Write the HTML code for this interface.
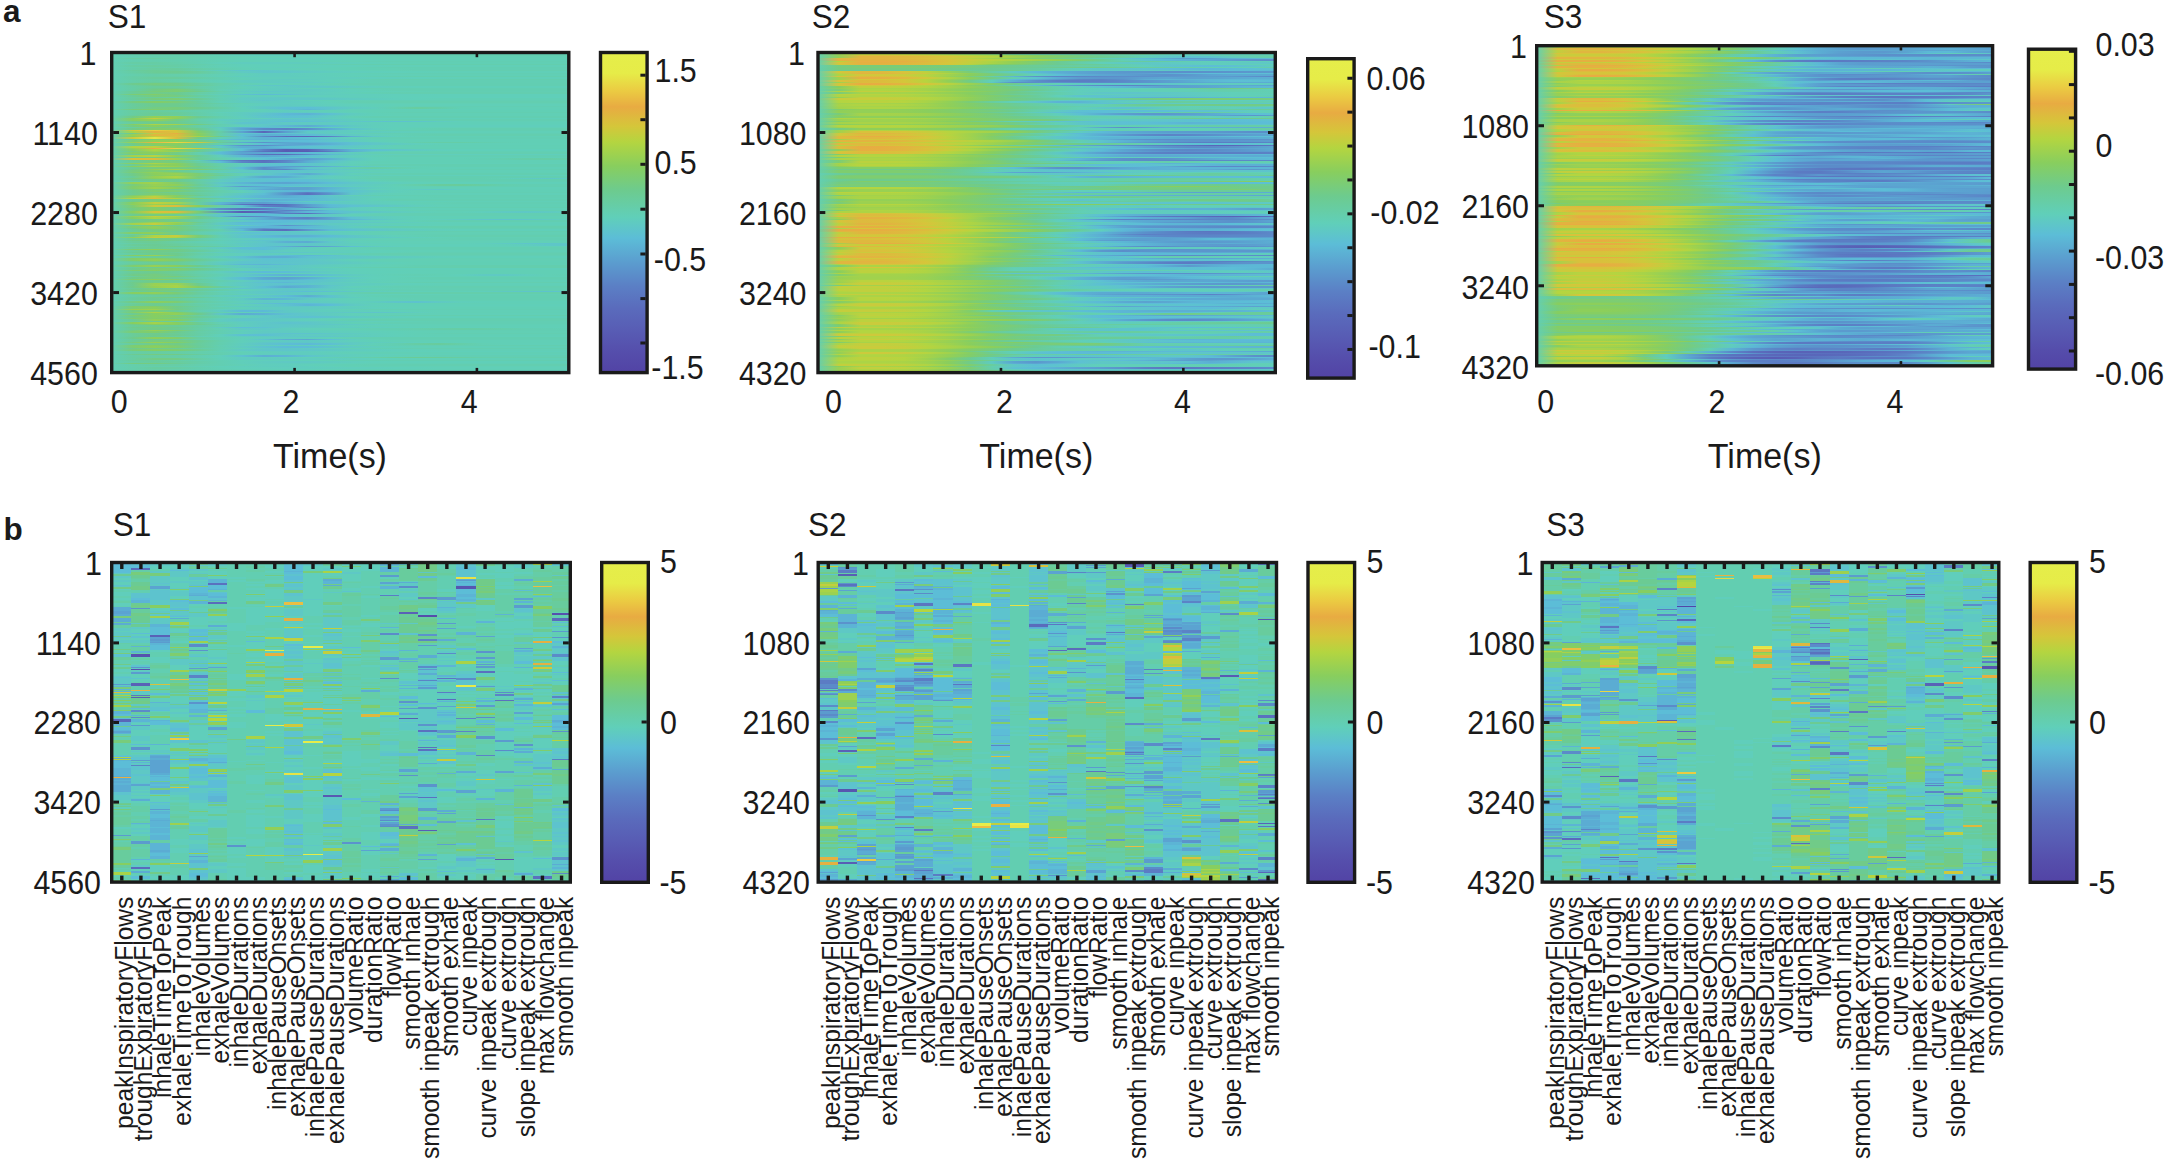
<!DOCTYPE html>
<html lang="en"><head><meta charset="utf-8"><title>Figure</title>
<style>
html,body{margin:0;padding:0;background:#fff}
#fig{position:relative;width:2168px;height:1164px;overflow:hidden;background:#fff;font-family:"Liberation Sans",Arial,Helvetica,sans-serif}
.hm,.hb{position:absolute;overflow:hidden;background:#61cfb6}
.hm i{position:absolute;left:0;width:100%;height:1.90px;display:block}
.hb i{position:absolute;top:0;height:100%;display:block}
svg{position:absolute;left:0;top:0}
svg text{font-family:"Liberation Sans",Arial,Helvetica,sans-serif;fill:#1a1a1a}
</style></head><body>
<div id="fig">
<div class="hm" style="left:111.00px;top:51.80px;width:458.50px;height:321.50px"><i style="top:0.00px;background:linear-gradient(90deg,#62cfb4,#64cead,#65cea9,#64ceaa,#63ceaf,#61cfb4,#61cfb6,#61cfb7,#60cfb8,#60cfb9,#60cfb8,#61cfb6,#61cfb5,#61cfb5,#61cfb4,#61cfb4,#61cfb4,#61cfb4,#61cfb4,#61cfb4,#61cfb4,#61cfb4)"></i><i style="top:1.50px;background:linear-gradient(90deg,#62cfb4,#64ceac,#66cda5,#66cda6,#63ceae,#61cfb5,#60cfb7,#60cfb8,#60cfb8,#61cfb7,#61cfb5,#62ceb3,#62ceb3,#62ceb3,#62ceb3,#62ceb3,#62ceb3,#62ceb3,#62ceb3,#62ceb3,#62ceb3,#62ceb3)"></i><i style="top:3.00px;background:linear-gradient(90deg,#62cfb4,#63ceaf,#64cead,#63ceae,#62ceb1,#61cfb6,#60cdbd,#5fccbf,#5fccbe,#60cdbc,#60cfb9,#61cfb6,#62ceb3,#63ceb0,#63ceaf,#63ceae,#63ceae,#63ceae,#63ceae,#63ceae,#63ceae,#63ceae)"></i><i style="top:4.51px;background:linear-gradient(90deg,#62cfb4,#63ceb0,#64ceac,#64ceab,#63ceaf,#62ceb2,#62cfb4,#61cfb6,#61cfb6,#61cfb6,#61cfb6,#61cfb5,#61cfb5,#61cfb4,#61cfb4,#61cfb4,#61cfb4,#61cfb4,#61cfb4,#61cfb4,#61cfb4,#61cfb4)"></i><i style="top:6.01px;background:linear-gradient(90deg,#62cfb4,#67cda2,#67cda1,#65cea9,#63ceb1,#62ceb3,#60cfb8,#5fcdbd,#5fccbe,#5fccbe,#60cdbc,#60cfb8,#61cfb5,#62cfb4,#62cfb4,#62cfb4,#62cfb4,#62cfb4,#62cfb4,#62cfb4,#62cfb4,#62cfb4)"></i><i style="top:7.51px;background:linear-gradient(90deg,#62cfb4,#63ceaf,#64cead,#63ceae,#62ceb2,#61cfb5,#61cfb7,#61cfb7,#60cfb8,#60cfb8,#60cfb8,#61cfb7,#61cfb7,#61cfb6,#61cfb6,#61cfb5,#61cfb5,#61cfb5,#61cfb5,#61cfb5,#61cfb5,#61cfb5)"></i><i style="top:9.01px;background:linear-gradient(90deg,#62cfb4,#63ceae,#64ceac,#64cead,#63ceb0,#61cfb4,#61cfb6,#61cfb7,#61cfb7,#61cfb6,#61cfb5,#62cfb4,#62ceb3,#62ceb2,#62ceb2,#62ceb2,#62ceb2,#62ceb2,#62ceb2,#62ceb2,#62ceb2,#62ceb2)"></i><i style="top:10.52px;background:linear-gradient(90deg,#62cfb4,#66cda5,#66cda4,#64ceaa,#62ceb1,#60cfb9,#5fccbe,#5fccbe,#5fccbe,#5fccbd,#60cdbc,#60ceba,#60cfb8,#61cfb6,#61cfb4,#61cfb4,#61cfb4,#61cfb4,#61cfb4,#61cfb4,#61cfb4,#61cfb4)"></i><i style="top:12.02px;background:linear-gradient(90deg,#62cfb4,#63cead,#65cda9,#65cda7,#64ceab,#62ceb3,#60cfb9,#60cebb,#60cfb8,#61cfb5,#62ceb3,#63ceb0,#63ceae,#63ceae,#63ceae,#63ceae,#63ceae,#63ceae,#63ceae,#63ceae,#63ceae,#63ceae)"></i><i style="top:13.52px;background:linear-gradient(90deg,#62cfb4,#66cda4,#68cd9f,#66cda5,#63ceae,#61cfb6,#60cfb9,#60cfb9,#60cfb9,#60cfb9,#60cfb9,#60cfb9,#60cfb8,#61cfb7,#61cfb7,#61cfb6,#61cfb6,#61cfb6,#61cfb6,#61cfb6,#61cfb6,#61cfb6)"></i><i style="top:15.02px;background:linear-gradient(90deg,#62cfb4,#64ceab,#66cda7,#65ceaa,#63ceb1,#62cfb4,#61cfb6,#60cebb,#60cdbc,#60cebb,#60cfb8,#61cfb5,#62ceb3,#62ceb2,#62ceb2,#62ceb2,#62ceb2,#62ceb2,#62ceb2,#62ceb2,#62ceb2,#62ceb2)"></i><i style="top:16.53px;background:linear-gradient(90deg,#62cfb4,#65cda8,#68cd9f,#68cc9d,#66cda6,#63ceaf,#61cfb5,#60cfb8,#60cfb8,#61cfb7,#61cfb6,#61cfb5,#61cfb4,#62cfb4,#62ceb3,#62ceb3,#62ceb3,#62ceb3,#62ceb3,#62ceb3,#62ceb3,#62ceb3)"></i><i style="top:18.03px;background:linear-gradient(90deg,#62cfb4,#68cc9e,#6bcc96,#69cc9c,#64cead,#5fcbc0,#5ec4cc,#5ec5ca,#5fc9c3,#5fccbe,#60cebb,#60cfb8,#61cfb6,#61cfb4,#62ceb3,#62ceb1,#63ceb0,#63ceb0,#63ceb0,#63ceb0,#63ceb0,#63ceb0)"></i><i style="top:19.53px;background:linear-gradient(90deg,#62cfb4,#66cda4,#6bcc96,#6ccb92,#69cc9d,#63ceb0,#5fcac2,#5ec5c9,#5ec6c8,#5fc9c3,#5fccbf,#60cdbd,#60cebb,#60cfba,#60cfb8,#61cfb7,#61cfb7,#61cfb7,#61cfb7,#61cfb7,#61cfb7,#61cfb7)"></i><i style="top:21.03px;background:linear-gradient(90deg,#62cfb4,#65cda8,#68cc9e,#69cc9a,#67cda2,#63ceaf,#60ceba,#5fcbbf,#5fcdbd,#60cebb,#60cfb9,#61cfb7,#61cfb5,#62ceb4,#62ceb3,#62ceb3,#62ceb3,#62ceb3,#62ceb3,#62ceb3,#62ceb3,#62ceb3)"></i><i style="top:22.54px;background:linear-gradient(90deg,#62cfb4,#64ceac,#65cda7,#65ceaa,#63ceb0,#62cfb4,#60cfb9,#5fccbe,#5fccbe,#60cdbc,#60ceba,#60cfb9,#60cfb8,#61cfb7,#61cfb6,#61cfb5,#61cfb5,#61cfb5,#61cfb5,#61cfb5,#61cfb5,#61cfb5)"></i><i style="top:24.04px;background:linear-gradient(90deg,#62cfb4,#65cda7,#66cda4,#65cda7,#63ceae,#60cfb7,#5fccbe,#5fccbf,#5fccbe,#5fccbd,#60cebb,#61cfb7,#62ceb4,#62ceb1,#63ceaf,#63ceaf,#63ceaf,#63ceaf,#63ceaf,#63ceaf,#63ceaf,#63ceaf)"></i><i style="top:25.54px;background:linear-gradient(90deg,#62cfb4,#66cda6,#69cc9c,#69cc9c,#66cda6,#63ceb0,#60cfb8,#60cdbc,#60cdbc,#60cdbc,#60cdbc,#60cdbc,#60cebb,#60ceba,#60cfb9,#60cfb8,#61cfb7,#61cfb7,#61cfb7,#61cfb7,#61cfb7,#61cfb7)"></i><i style="top:27.04px;background:linear-gradient(90deg,#62cfb4,#66cda7,#66cda4,#65ceaa,#63ceb0,#62ceb3,#61cfb6,#5fccbd,#5fcac1,#5fcbbf,#60cebb,#61cfb7,#62ceb3,#63ceb0,#63ceaf,#63ceaf,#63ceaf,#63ceaf,#63ceaf,#63ceaf,#63ceaf,#63ceaf)"></i><i style="top:28.54px;background:linear-gradient(90deg,#62cfb4,#65cea9,#67cda2,#65cea9,#62ceb2,#60cfb8,#5fcbc0,#5fcac1,#5fccbd,#60cdbc,#60cfb9,#61cfb6,#62ceb4,#62ceb3,#62ceb3,#62ceb3,#62ceb3,#62ceb3,#62ceb3,#62ceb3,#62ceb3,#62ceb3)"></i><i style="top:30.05px;background:linear-gradient(90deg,#62cfb4,#66cda7,#69cc9a,#68cc9d,#64ceab,#61cfb6,#5fccbd,#5fcac1,#5fc9c3,#5fc9c3,#5fccbe,#60cfb8,#61cfb4,#62ceb3,#62ceb3,#62ceb3,#62ceb3,#62ceb3,#62ceb3,#62ceb3,#62ceb3,#62ceb3)"></i><i style="top:31.55px;background:linear-gradient(90deg,#62cfb4,#6dcb8f,#76cc7f,#70cb89,#68cc9d,#64ceac,#62ceb4,#60cfb9,#60cebb,#60ceba,#61cfb6,#62ceb3,#62ceb2,#62ceb2,#62ceb2,#62ceb2,#62ceb2,#62ceb2,#62ceb2,#62ceb2,#62ceb2,#62ceb2)"></i><i style="top:33.05px;background:linear-gradient(90deg,#62cfb4,#68cd9f,#6fcb8a,#72cc85,#6acc98,#64ceac,#60cdbc,#5ec6c8,#5ec6c8,#5fcac2,#60cdbc,#60cfb8,#61cfb5,#62ceb3,#62ceb2,#62ceb2,#62ceb2,#62ceb2,#62ceb2,#62ceb2,#62ceb2,#62ceb2)"></i><i style="top:34.55px;background:linear-gradient(90deg,#62cfb4,#66cda4,#69cc9a,#69cc9b,#66cda6,#62ceb1,#60cfb8,#60cdbd,#5fcac2,#5ec8c5,#5ec8c5,#5fcbc0,#60cdbc,#60ceba,#60cfb9,#60cfb8,#60cfb8,#60cfb8,#60cfb8,#60cfb8,#60cfb8,#60cfb8)"></i><i style="top:36.06px;background:linear-gradient(90deg,#62cfb4,#66cda5,#6ccb91,#6ecb8d,#67cda3,#63ceb0,#61cfb5,#5fccbe,#5fcbbf,#60cfb9,#61cfb5,#62ceb3,#62ceb2,#62ceb2,#62ceb2,#62ceb2,#62ceb2,#62ceb2,#62ceb2,#62ceb2,#62ceb2,#62ceb2)"></i><i style="top:37.56px;background:linear-gradient(90deg,#62cfb4,#66cda4,#71cb87,#7ccd74,#6acc97,#62cfb4,#60cdbc,#5fccbe,#5fcac1,#5fc9c2,#5fccbf,#60cfb9,#61cfb5,#62ceb2,#62ceb1,#62ceb1,#62ceb1,#62ceb1,#62ceb1,#62ceb1,#62ceb1,#62ceb1)"></i><i style="top:39.06px;background:linear-gradient(90deg,#62cfb4,#6bcc96,#78cc7a,#7dcd72,#6fcb8b,#64ceab,#5fcac1,#5ec6c9,#5ec7c6,#5fcac1,#5fccbe,#60cebb,#60cfb9,#61cfb7,#61cfb5,#62ceb3,#62ceb3,#62ceb3,#62ceb3,#62ceb3,#62ceb3,#62ceb3)"></i><i style="top:40.56px;background:linear-gradient(90deg,#62cfb4,#6bcc96,#72cc86,#6dcb8f,#67cda3,#62ceb2,#60cebb,#5fcbbf,#5fcbc0,#5fcbc0,#60cdbd,#60cfb8,#61cfb4,#62ceb2,#63ceb0,#63ceb0,#63ceb0,#63ceb0,#63ceb0,#63ceb0,#63ceb0,#63ceb0)"></i><i style="top:42.07px;background:linear-gradient(90deg,#62cfb4,#7bcd75,#82cd69,#6dcb8d,#65ceaa,#60ceba,#5dc3cd,#5cbbd7,#5dc1d0,#5fc9c2,#5fccbd,#60cdbd,#60cdbc,#60cebb,#60ceba,#60cfb9,#60cfb9,#60cfb9,#60cfb9,#60cfb9,#60cfb9,#60cfb9)"></i><i style="top:43.57px;background:linear-gradient(90deg,#62cfb4,#6acc98,#77cc7c,#75cc80,#68cd9e,#62ceb2,#60ceba,#60cdbc,#60cebb,#60cebb,#60cebb,#60cebb,#60cebb,#60cfba,#60cfb9,#60cfb9,#60cfb9,#60cfb9,#60cfb9,#60cfb9,#60cfb9,#60cfb9)"></i><i style="top:45.07px;background:linear-gradient(90deg,#62cfb4,#68cd9f,#6acc98,#68cda0,#64ceac,#61cfb4,#5fccbe,#5fc9c3,#5fc8c4,#5fc9c3,#5fcbc0,#60cdbc,#60ceba,#60cfba,#60cfba,#60cfba,#60cfba,#60cfba,#60cfba,#60cfba,#60cfba,#60cfba)"></i><i style="top:46.57px;background:linear-gradient(90deg,#62cfb4,#68cc9e,#75cc7f,#7dcd72,#6ccb93,#62ceb3,#5fcac2,#5ec8c5,#5ec7c7,#5ec7c7,#5ec8c4,#5fcac1,#5fccbe,#60cebb,#60cfb9,#61cfb6,#61cfb5,#61cfb5,#61cfb5,#61cfb5,#61cfb5,#61cfb5)"></i><i style="top:48.07px;background:linear-gradient(90deg,#62cfb4,#66cda6,#69cc9b,#69cc9a,#66cda5,#63ceb1,#5fccbf,#5ec5c9,#5fcbbf,#60cfb8,#61cfb5,#62cfb4,#62ceb3,#62ceb3,#62ceb3,#62ceb3,#62ceb3,#62ceb3,#62ceb3,#62ceb3,#62ceb3,#62ceb3)"></i><i style="top:49.58px;background:linear-gradient(90deg,#62cfb4,#74cc81,#83cd66,#79cc79,#68cc9d,#61cfb6,#5fcbbf,#5fcac1,#5fcac1,#5fccbe,#60cfb9,#62ceb2,#63ceb0,#63ceb0,#63ceb0,#63ceb0,#63ceb0,#63ceb0,#63ceb0,#63ceb0,#63ceb0,#63ceb0)"></i><i style="top:51.08px;background:linear-gradient(90deg,#62cfb4,#6acc99,#6ecb8c,#6fcb8b,#6acc98,#65cda8,#61cfb5,#5fccbd,#5fccbf,#5fcdbd,#60cfba,#61cfb6,#62cfb4,#62cfb4,#62cfb4,#62cfb4,#62cfb4,#62cfb4,#62cfb4,#62cfb4,#62cfb4,#62cfb4)"></i><i style="top:52.58px;background:linear-gradient(90deg,#62cfb4,#68cc9d,#6dcb8e,#6dcb8e,#68cc9e,#63ceb0,#60cfb9,#5fcdbd,#5fcac1,#5fccbe,#60cebb,#60cfba,#60cfb8,#61cfb7,#61cfb7,#61cfb7,#61cfb7,#61cfb7,#61cfb7,#61cfb7,#61cfb7,#61cfb7)"></i><i style="top:54.08px;background:linear-gradient(90deg,#62cfb4,#69cc9c,#6dcb8e,#6dcb8e,#68cc9d,#64cead,#5fcdbd,#5ec8c5,#5ec7c7,#5ec7c6,#5fc9c2,#5fcdbd,#60cfb8,#62cfb4,#62ceb3,#62ceb3,#62ceb3,#62ceb3,#62ceb3,#62ceb3,#62ceb3,#62ceb3)"></i><i style="top:55.59px;background:linear-gradient(90deg,#62cfb4,#69cc9b,#74cc82,#78cc7a,#6dcb8f,#66cda5,#60cfb9,#5ec6c7,#5dbfd3,#5cbed6,#5ec4cb,#5fcac1,#60cdbc,#63ceaf,#68cd9f,#65cda8,#61cfb4,#61cfb6,#61cfb6,#61cfb6,#61cfb6,#61cfb6)"></i><i style="top:57.09px;background:linear-gradient(90deg,#62cfb4,#77cc7c,#80cd6d,#74cc81,#68cd9e,#63ceb0,#60cfb8,#60ceba,#5ec4cc,#5cb6d5,#5ec6c8,#60cfba,#60cfb8,#60cfb7,#60cfb7,#60cfb7,#60cfb7,#60cfb7,#60cfb7,#60cfb7,#60cfb7,#60cfb7)"></i><i style="top:58.59px;background:linear-gradient(90deg,#62cfb4,#67cda1,#68cc9d,#66cda4,#64ceac,#62ceb1,#61cfb6,#60cebb,#5fccbe,#60ceba,#60cfb7,#61cfb6,#61cfb5,#61cfb5,#61cfb4,#61cfb4,#61cfb4,#61cfb4,#61cfb4,#61cfb4,#61cfb4,#61cfb4)"></i><i style="top:60.09px;background:linear-gradient(90deg,#62cfb4,#68cda0,#6acc97,#69cc9a,#65cda8,#60cfb9,#5fcbc0,#5fc9c4,#5ec8c5,#5fcac2,#5fcdbd,#60cfb9,#61cfb5,#62ceb2,#62ceb1,#62ceb1,#62ceb1,#62ceb1,#62ceb1,#62ceb1,#62ceb1,#62ceb1)"></i><i style="top:61.60px;background:linear-gradient(90deg,#62cfb4,#67cda1,#6bcb93,#6acc98,#65cda8,#61cfb4,#5fcbbf,#5ec4cb,#5cb9d6,#5cb3d5,#5dc0d2,#5fcbc0,#60cfb7,#61cfb5,#61cfb5,#61cfb5,#61cfb5,#61cfb5,#61cfb5,#61cfb5,#61cfb5,#61cfb5)"></i><i style="top:63.10px;background:linear-gradient(90deg,#62cfb4,#69cc9a,#6acc98,#67cda1,#64ceab,#61cfb4,#5fcbc0,#5dc2cf,#5cbcd7,#5cbfd4,#5ec7c6,#60cdbc,#60cfb8,#61cfb6,#61cfb5,#61cfb5,#61cfb5,#61cfb5,#61cfb5,#61cfb5,#61cfb5,#61cfb5)"></i><i style="top:64.60px;background:linear-gradient(90deg,#62cfb4,#71cb87,#93d056,#91cf58,#6dcb90,#64ceac,#5fcdbd,#5ec4cb,#5dc0d2,#5dc1d0,#5fcac2,#61cfb5,#62ceb1,#62ceb1,#62ceb1,#62ceb1,#62ceb1,#62ceb1,#62ceb1,#62ceb1,#62ceb1,#62ceb1)"></i><i style="top:66.10px;background:linear-gradient(90deg,#62cfb4,#86ce61,#c3ce3d,#8dcf5a,#67cda0,#62ceb2,#61cfb6,#60cdbd,#5fc9c3,#5fcac2,#5fcdbd,#60cebb,#60cfb9,#60cfb8,#60cfb8,#60cfb8,#60cfb8,#60cfb8,#60cfb8,#60cfb8,#60cfb8,#60cfb8)"></i><i style="top:67.61px;background:linear-gradient(90deg,#62cfb4,#85ce64,#95d055,#74cc81,#65cea9,#5fccbe,#5ec8c5,#5ec5ca,#5dc3cd,#5ec4cc,#5ec8c5,#5fccbd,#60cfb7,#62ceb4,#62ceb2,#62ceb2,#62ceb2,#62ceb2,#62ceb2,#62ceb2,#62ceb2,#62ceb2)"></i><i style="top:69.11px;background:linear-gradient(90deg,#62cfb4,#6fcb8a,#77cc7d,#6ccb93,#65cda7,#61cfb6,#5fcac1,#5dc4cc,#5cbed5,#5cbfd4,#5ec4cb,#5ec7c7,#5ec4cb,#5dc1d0,#5dc4cc,#5fcac1,#60cfb9,#61cfb6,#61cfb6,#61cfb6,#61cfb6,#61cfb6)"></i><i style="top:70.61px;background:linear-gradient(90deg,#62cfb4,#69cc9c,#6fcb8a,#6dcb8e,#67cda3,#61cfb7,#5dc3cd,#5dc2ce,#5fc9c3,#5fcac1,#5fcbc0,#5fcdbd,#60ceba,#60cfb8,#60cfb8,#60cfb8,#60cfb8,#60cfb8,#60cfb8,#60cfb8,#60cfb8,#60cfb8)"></i><i style="top:72.11px;background:linear-gradient(90deg,#62cfb4,#84ce65,#abd446,#a1d24d,#76cc7d,#63ceae,#5fcac2,#5ec8c5,#5ec8c4,#5fc9c3,#5fcac1,#5fccbf,#60cdbc,#60cfba,#60cfb9,#60cfb9,#60cfb9,#60cfb9,#60cfb9,#60cfb9,#60cfb9,#60cfb9)"></i><i style="top:73.61px;background:linear-gradient(90deg,#62cfb4,#75cc7f,#88ce5f,#73cc84,#65cda7,#62ceb2,#60cfb9,#5ec6c8,#5cb7d5,#5babd2,#5cbad6,#5ec8c4,#60cdbc,#60cebb,#60cebb,#60cebb,#60cebb,#60cebb,#60cebb,#60cebb,#60cebb,#60cebb)"></i><i style="top:75.12px;background:linear-gradient(90deg,#62cfb4,#68cd9f,#75cc80,#73cc83,#66cda4,#5fc8c4,#5cb2d4,#5cb8d6,#5ec8c5,#5fccbe,#5fcdbd,#60cdbc,#60cebb,#60cfb9,#60cfb8,#61cfb7,#61cfb7,#61cfb7,#61cfb7,#61cfb7,#61cfb7,#61cfb7)"></i><i style="top:76.62px;background:linear-gradient(90deg,#62cfb4,#70cb88,#81cd6a,#80cd6d,#6dcb8f,#60cdbd,#5ba7d2,#5b87c8,#5b7dc4,#5b8dca,#5bacd3,#5dc2ce,#5fcbc0,#60cfb9,#61cfb4,#62ceb1,#63ceb0,#63ceb0,#63ceb0,#63ceb0,#63ceb0,#63ceb0)"></i><i style="top:78.12px;background:linear-gradient(90deg,#62cfb4,#cfc93b,#ebcb42,#d5c53a,#78cc7a,#62cfb4,#5cbed5,#5cb3d4,#5cb6d5,#5cbfd4,#5ec6c8,#60cdbc,#62cfb4,#62ceb2,#62ceb2,#62ceb2,#62ceb2,#62ceb2,#62ceb2,#62ceb2,#62ceb2,#62ceb2)"></i><i style="top:79.62px;background:linear-gradient(90deg,#62cfb4,#a9d348,#e4b140,#d5c53a,#82cd68,#66cda5,#5ba3d0,#5966b9,#5b9ecf,#5ec8c5,#5fcac1,#5fcbc0,#5fccbe,#60cdbc,#60ceba,#60cfb9,#60cfb7,#61cfb7,#61cfb7,#61cfb7,#61cfb7,#61cfb7)"></i><i style="top:81.13px;background:linear-gradient(90deg,#62cfb4,#71cb87,#c7cd3d,#e6ad41,#8dcf5b,#64ceab,#5ec6c8,#5dc0d2,#5dc3cd,#5ec6c8,#5fcbc0,#60cfb9,#62ceb3,#62ceb3,#62ceb3,#62ceb3,#62ceb3,#62ceb3,#62ceb3,#62ceb3,#62ceb3,#62ceb3)"></i><i style="top:82.63px;background:linear-gradient(90deg,#62cfb4,#95d055,#e0b73e,#ddbb3d,#89ce5d,#65ceaa,#5cbed6,#5caed3,#5cb1d4,#5cbbd6,#5dc3cd,#5fc9c3,#60cdbc,#61cfb6,#62ceb2,#63ceaf,#63ceaf,#63ceaf,#63ceaf,#63ceaf,#63ceaf,#63ceaf)"></i><i style="top:84.13px;background:linear-gradient(90deg,#62cfb4,#8ace5c,#cacb3c,#d9c13c,#a8d348,#6ecb8b,#5dc1d0,#5b89c8,#5a69bb,#5965b9,#5b7fc5,#5cadd3,#5ec6c8,#60cebb,#61cfb6,#61cfb5,#61cfb5,#61cfb5,#61cfb5,#61cfb5,#61cfb5,#61cfb5)"></i><i style="top:85.63px;background:linear-gradient(90deg,#62cfb4,#cdca3c,#e7e547,#dcbc3d,#71cb87,#61cfb5,#5dc2ce,#5cb1d4,#5cb6d5,#5cbfd4,#5ec7c7,#60cfb9,#62ceb3,#62ceb3,#62ceb3,#62ceb3,#62ceb3,#62ceb3,#62ceb3,#62ceb3,#62ceb3,#62ceb3)"></i><i style="top:87.14px;background:linear-gradient(90deg,#62cfb4,#6bcc94,#7ecd6f,#81cd6a,#67cda2,#5dc1d0,#5cb6d5,#5cb0d4,#5cb0d4,#5cb6d5,#5dc1d0,#5fcac1,#60cfb7,#61cfb6,#61cfb6,#61cfb6,#61cfb6,#61cfb6,#61cfb6,#61cfb6,#61cfb6,#61cfb6)"></i><i style="top:88.64px;background:linear-gradient(90deg,#62cfb4,#7bcd75,#92d057,#8dcf5a,#77cc7d,#67cda2,#5fcbbf,#5dc3cd,#5cbdd7,#5cbdd7,#5ec5ca,#5fccbf,#60cfb8,#61cfb5,#61cfb5,#61cfb5,#61cfb5,#61cfb5,#61cfb5,#61cfb5,#61cfb5,#61cfb5)"></i><i style="top:90.14px;background:linear-gradient(90deg,#62cfb4,#99d152,#e9b442,#e9d644,#d5c63a,#6bcc94,#5baad2,#5b91cb,#5ba7d1,#5cb2d4,#5cb9d6,#5dc0d1,#5ec8c5,#60cfba,#63ceae,#65cda7,#65cda7,#63ceae,#62ceb3,#61cfb5,#61cfb5,#61cfb5)"></i><i style="top:91.64px;background:linear-gradient(90deg,#62cfb4,#70cb88,#87ce60,#86ce62,#6bcb93,#64ceac,#60cebb,#5cbed6,#5ba9d2,#5ba2d0,#5cb0d4,#5dc0d2,#5ec6c8,#5fcac1,#60cebb,#61cfb7,#61cfb6,#61cfb6,#61cfb6,#61cfb6,#61cfb6,#61cfb6)"></i><i style="top:93.14px;background:linear-gradient(90deg,#62cfb4,#6acc98,#7bcd76,#81cd6a,#69cc9a,#5cbdd6,#5b92cb,#5b89c8,#5ba4d1,#5cb4d5,#5cbed6,#5ec5c9,#5fcdbd,#61cfb5,#61cfb4,#61cfb4,#61cfb4,#61cfb4,#61cfb4,#61cfb4,#61cfb4,#61cfb4)"></i><i style="top:94.65px;background:linear-gradient(90deg,#62cfb4,#aed444,#bfd03e,#8bce5c,#69cc9a,#5fcac2,#5badd3,#5bacd3,#5cbdd6,#5dc1d0,#5ec4cc,#5ec8c4,#5fcdbd,#61cfb7,#61cfb5,#61cfb5,#61cfb5,#61cfb5,#61cfb5,#61cfb5,#61cfb5,#61cfb5)"></i><i style="top:96.15px;background:linear-gradient(90deg,#62cfb4,#94d056,#e8ac42,#e9d544,#c8cc3c,#67cda1,#5cbcd7,#5babd2,#5babd3,#5cb7d5,#5ec4cb,#60cebb,#61cfb4,#61cfb4,#61cfb4,#61cfb4,#61cfb4,#61cfb4,#61cfb4,#61cfb4,#61cfb4,#61cfb4)"></i><i style="top:97.65px;background:linear-gradient(90deg,#62cfb4,#84ce65,#acd445,#85ce64,#6bcc95,#65cda9,#5dbfd3,#5b7dc4,#585bb4,#5962b7,#5b8cc9,#5cb3d4,#5dc0d2,#5ec6c9,#5fcac1,#60cebb,#60cfb9,#60cfb9,#60cfb9,#60cfb9,#60cfb9,#60cfb9)"></i><i style="top:99.15px;background:linear-gradient(90deg,#62cfb4,#76cc7f,#9dd14f,#9ad152,#6dcb8f,#5ec5ca,#5b9ecf,#5a71bf,#585ab3,#585bb4,#5b79c2,#5caed3,#5fc9c3,#60cfb7,#61cfb5,#61cfb4,#61cfb4,#61cfb4,#61cfb4,#61cfb4,#61cfb4,#61cfb4)"></i><i style="top:100.66px;background:linear-gradient(90deg,#62cfb4,#85ce63,#8ace5d,#73cc83,#63ceae,#5cbbd6,#5ba4d1,#5ba5d1,#5cb0d4,#5cbbd7,#5ec4cb,#5fccbd,#62ceb3,#63ceb1,#63ceb1,#63ceb1,#63ceb1,#63ceb1,#63ceb1,#63ceb1,#63ceb1,#63ceb1)"></i><i style="top:102.16px;background:linear-gradient(90deg,#62cfb4,#6fcb8b,#76cc7f,#6ccb92,#64cead,#5dc4cc,#5b99ce,#5a6fbe,#5a6cbc,#5b8ac9,#5cb5d5,#5ec8c5,#60cdbc,#60cebb,#60cebb,#60cebb,#60cebb,#60cebb,#60cebb,#60cebb,#60cebb,#60cebb)"></i><i style="top:103.66px;background:linear-gradient(90deg,#62cfb4,#a4d24b,#b7d440,#90cf58,#6ccb93,#60cdbc,#5cb6d5,#5ba8d2,#5caed3,#5cbdd6,#5ec7c6,#60cdbc,#61cfb6,#62ceb3,#62ceb3,#62ceb3,#62ceb3,#62ceb3,#62ceb3,#62ceb3,#62ceb3,#62ceb3)"></i><i style="top:105.16px;background:linear-gradient(90deg,#62cfb4,#6bcc94,#79cc79,#76cc7e,#68cc9d,#62ceb3,#5ec5ca,#5cbdd7,#5dc1d0,#5ec5ca,#5ec8c5,#5fccbe,#60cfb9,#61cfb6,#61cfb6,#61cfb6,#61cfb6,#61cfb6,#61cfb6,#61cfb6,#61cfb6,#61cfb6)"></i><i style="top:106.67px;background:linear-gradient(90deg,#62cfb4,#d8c13b,#ddbb3d,#98d153,#6bcc95,#64cead,#60cdbd,#5dc1d1,#5babd3,#5b9ecf,#5cafd3,#5ec6c9,#60cfb9,#61cfb5,#61cfb5,#61cfb5,#61cfb5,#62ceb3,#63ceaf,#65cda8,#66cda6,#64cead)"></i><i style="top:108.17px;background:linear-gradient(90deg,#62cfb4,#6ccb92,#76cc7f,#6ecb8c,#61cfb6,#5ba5d1,#5a75c0,#5a6dbd,#5b83c6,#5ba7d1,#5dc0d3,#5fc9c2,#60cfb9,#61cfb5,#61cfb5,#61cfb5,#61cfb5,#61cfb5,#61cfb5,#61cfb5,#61cfb5,#61cfb5)"></i><i style="top:109.67px;background:linear-gradient(90deg,#62cfb4,#6bcc95,#79cc79,#76cc7e,#66cda6,#5cbdd6,#5b84c7,#5a72bf,#5b87c8,#5badd3,#5dc4cc,#60cebb,#61cfb5,#61cfb5,#61cfb5,#61cfb5,#61cfb5,#61cfb5,#61cfb5,#61cfb5,#61cfb5,#61cfb5)"></i><i style="top:111.17px;background:linear-gradient(90deg,#62cfb4,#8dcf5b,#acd446,#8bcf5c,#6bcc94,#63ceae,#60cebb,#5ec6c7,#5dc3cd,#5ec5ca,#5fcac1,#60cfba,#61cfb7,#61cfb7,#61cfb7,#61cfb7,#61cfb7,#61cfb7,#61cfb7,#61cfb7,#61cfb7,#61cfb7)"></i><i style="top:112.68px;background:linear-gradient(90deg,#62cfb4,#6bcc94,#8ccf5b,#89ce5d,#6bcc93,#64ceaa,#5fccbe,#5dc2cf,#5dc0d3,#5dc4cc,#5fcac1,#60cfb7,#62ceb2,#62ceb1,#62ceb1,#62ceb1,#62ceb1,#62ceb1,#62ceb1,#62ceb1,#62ceb1,#62ceb1)"></i><i style="top:114.18px;background:linear-gradient(90deg,#62cfb4,#88ce5f,#a6d34a,#95d055,#74cc82,#66cda6,#5fc9c3,#5cb1d4,#5b9dcf,#5b9ecf,#5cb2d4,#5dc3cc,#5fcbc0,#60cfba,#61cfb5,#62ceb2,#62ceb1,#62ceb1,#62ceb1,#62ceb1,#62ceb1,#62ceb1)"></i><i style="top:115.68px;background:linear-gradient(90deg,#62cfb4,#6bcc95,#78cc7b,#79cc79,#6ccb92,#64ceaa,#5cbdd6,#5b8bc9,#5ba8d2,#5ec4cb,#5fcac1,#63ceb0,#66cda5,#64cead,#61cfb4,#61cfb6,#61cfb6,#61cfb6,#61cfb6,#61cfb6,#61cfb6,#61cfb6)"></i><i style="top:117.18px;background:linear-gradient(90deg,#62cfb4,#6ecb8c,#91cf58,#a4d34b,#81cd6a,#69cc9d,#5ec6c9,#5b8dca,#5b84c7,#5cb7d5,#5ec6c8,#5fc9c3,#5fcbbf,#60cebb,#61cfb7,#61cfb4,#62ceb2,#62ceb2,#62ceb2,#62ceb2,#62ceb2,#62ceb2)"></i><i style="top:118.68px;background:linear-gradient(90deg,#62cfb4,#76cc7e,#7fcd6e,#6ccb91,#66cda6,#62ceb1,#5fcbc0,#5ec6c8,#5ec4cb,#5ec5c9,#5fcac1,#60ceba,#61cfb6,#61cfb6,#61cfb6,#61cfb6,#61cfb6,#61cfb6,#61cfb6,#61cfb6,#61cfb6,#61cfb6)"></i><i style="top:120.19px;background:linear-gradient(90deg,#62cfb4,#7bcd75,#92d057,#80cd6d,#68cd9f,#5fccbe,#5ec5c9,#5ec5ca,#5ec6c7,#5ec8c5,#5fc9c3,#5fcbc0,#60cdbc,#60cfb9,#61cfb6,#61cfb5,#61cfb5,#61cfb5,#61cfb5,#61cfb5,#61cfb5,#61cfb5)"></i><i style="top:121.69px;background:linear-gradient(90deg,#62cfb4,#70cb89,#8bce5c,#97d054,#7bcd75,#67cda1,#62ceb4,#5fcbbf,#5cbad6,#5baad2,#5dc2cf,#60cfb9,#62ceb3,#62ceb2,#62ceb1,#62ceb1,#62ceb1,#62ceb1,#62ceb1,#62ceb1,#62ceb1,#62ceb1)"></i><i style="top:123.19px;background:linear-gradient(90deg,#62cfb4,#6fcb8a,#84ce65,#8ecf5a,#7ecd70,#6bcc96,#61cfb5,#5dc1d0,#5cbbd7,#5dc3cc,#5fcac2,#5fccbe,#60cebb,#60cfb9,#60cfb9,#60cfb9,#60cfb9,#60cfb9,#60cfb9,#60cfb9,#60cfb9,#60cfb9)"></i><i style="top:124.69px;background:linear-gradient(90deg,#62cfb4,#6acc97,#95d055,#add445,#76cc7e,#64ceab,#5ec6c8,#5ba7d2,#5bacd3,#5ec5c9,#60cdbc,#61cfb7,#62ceb3,#62ceb1,#62ceb1,#62ceb1,#62ceb1,#62ceb1,#62ceb1,#62ceb1,#62ceb1,#62ceb1)"></i><i style="top:126.20px;background:linear-gradient(90deg,#62cfb4,#73cc83,#8ccf5c,#97d054,#7ccd74,#63ceaf,#5dc0d2,#5cbdd7,#5dc3cd,#5fc9c4,#60cdbc,#61cfb5,#63ceaf,#63ceae,#63ceae,#63ceae,#63ceae,#63ceb0,#61cfb6,#5fcbc0,#5ec7c6,#5fcac1)"></i><i style="top:127.70px;background:linear-gradient(90deg,#62cfb4,#6ccb92,#73cc83,#6ccb90,#65cda7,#5fcac1,#5dc3ce,#5dc2cf,#5cbfd4,#5cbfd3,#5ec6c7,#60cdbd,#61cfb4,#62ceb1,#62ceb1,#62ceb1,#62ceb1,#62ceb1,#62ceb1,#62ceb1,#62ceb1,#62ceb1)"></i><i style="top:129.20px;background:linear-gradient(90deg,#62cfb4,#66cda4,#6bcc94,#6ccb91,#67cda2,#60cdbc,#5ec5c9,#5dc1d0,#5cbbd7,#5cbcd7,#5ec4cb,#5fcac1,#60cebb,#61cfb6,#62ceb4,#62ceb3,#62ceb3,#62ceb3,#62ceb3,#62ceb3,#62ceb3,#62ceb3)"></i><i style="top:130.70px;background:linear-gradient(90deg,#62cfb4,#93d057,#a0d24e,#80cd6d,#67cda1,#5ec6c8,#5cb5d5,#5ba8d2,#5ba4d1,#5cadd3,#5cbcd7,#5ec5ca,#5fcac2,#60cdbc,#60cfb8,#60cfb8,#60cfb8,#60cfb8,#60cfb8,#60cfb8,#60cfb8,#60cfb8)"></i><i style="top:132.21px;background:linear-gradient(90deg,#62cfb4,#77cc7d,#97d054,#8dcf5b,#6acc96,#5fcbc0,#5dc3cd,#5cbfd4,#5cbed5,#5dc2cf,#5ec5c9,#5fc9c4,#5fccbd,#61cfb5,#65ceaa,#68cc9e,#69cc9b,#66cda4,#63ceae,#62ceb2,#62ceb3,#62ceb3)"></i><i style="top:133.71px;background:linear-gradient(90deg,#62cfb4,#80cd6b,#8fcf59,#79cc78,#67cda3,#5ec4cb,#5b9ace,#5baad2,#5ec5ca,#5fc9c3,#5fcac1,#5fccbe,#60ceba,#61cfb7,#62cfb4,#62ceb2,#62ceb2,#62ceb2,#62ceb2,#62ceb2,#62ceb2,#62ceb2)"></i><i style="top:135.21px;background:linear-gradient(90deg,#62cfb4,#80cd6c,#9dd14f,#8ace5d,#6ccb91,#62ceb2,#5dc3cc,#5cb3d4,#5ba3d0,#5ba2d0,#5cb4d5,#5ec4cb,#5fccbe,#60cfb8,#61cfb7,#61cfb7,#61cfb7,#61cfb7,#61cfb7,#61cfb7,#61cfb7,#61cfb7)"></i><i style="top:136.71px;background:linear-gradient(90deg,#62cfb4,#75cc80,#7bcd75,#70cb89,#67cda1,#61cfb6,#5cbfd3,#5ba9d2,#5b9fcf,#5ba3d0,#5cb7d5,#5ec7c6,#60cfb9,#60cfb8,#5fcbc0,#5ec7c6,#60cdbc,#61cfb6,#61cfb6,#61cfb6,#61cfb6,#61cfb6)"></i><i style="top:138.21px;background:linear-gradient(90deg,#62cfb4,#6ecb8c,#80cd6c,#7bcd74,#6acc96,#64ceac,#60cfba,#5dc3ce,#5cb8d6,#5cb5d5,#5cbbd6,#5dc3ce,#5fc9c3,#60cebb,#61cfb6,#61cfb5,#61cfb5,#61cfb5,#61cfb5,#61cfb5,#61cfb5,#61cfb5)"></i><i style="top:139.72px;background:linear-gradient(90deg,#62cfb4,#6fcb8a,#74cc82,#6ccb92,#67cda3,#64cead,#61cfb5,#5dc3cd,#5b9bce,#5b7ec5,#5b9fcf,#5dc3ce,#5fcbc0,#60cebb,#61cfb6,#62ceb4,#62ceb3,#62ceb3,#62ceb3,#62ceb3,#62ceb3,#62ceb3)"></i><i style="top:141.22px;background:linear-gradient(90deg,#62cfb4,#6dcb8f,#7dcd71,#72cc84,#68cc9d,#62ceb2,#5ec7c6,#5cbed5,#5b93cc,#5a6fbe,#5b93cc,#5ec4cb,#60ceba,#61cfb7,#61cfb7,#61cfb7,#61cfb7,#61cfb7,#61cfb7,#61cfb7,#61cfb7,#61cfb7)"></i><i style="top:142.72px;background:linear-gradient(90deg,#62cfb4,#7fcd6e,#99d153,#87ce60,#6ccb90,#62ceb3,#5dc3cd,#5cb5d5,#5ba5d1,#5cb4d5,#5ec7c6,#61cfb6,#62ceb2,#62ceb2,#62ceb2,#62ceb2,#62ceb2,#62ceb2,#62ceb2,#62ceb2,#62ceb2,#62ceb2)"></i><i style="top:144.22px;background:linear-gradient(90deg,#62cfb4,#92d057,#c2cf3e,#84ce65,#66cda6,#5fcac2,#5dc1d1,#5cb4d5,#5caed3,#5cb8d6,#5ec4cb,#5fcac1,#60cdbc,#60cfb8,#61cfb5,#62ceb3,#62ceb3,#62ceb3,#62ceb3,#62ceb3,#62ceb3,#62ceb3)"></i><i style="top:145.73px;background:linear-gradient(90deg,#62cfb4,#bad23f,#d9c13c,#afd443,#77cc7c,#66cda5,#60cebb,#5ec5c9,#5cbcd7,#5cb6d5,#5dc2cf,#5fcbbf,#60cfb8,#61cfb5,#61cfb5,#61cfb5,#61cfb5,#61cfb5,#61cfb5,#61cfb5,#61cfb5,#61cfb5)"></i><i style="top:147.23px;background:linear-gradient(90deg,#62cfb4,#6ccb92,#7acc77,#77cc7c,#69cc9a,#61cfb6,#5cbed5,#5cb0d4,#5cb1d4,#5cb9d6,#5dc1d0,#5fc9c3,#60cfb8,#62ceb2,#62ceb2,#62ceb2,#62ceb2,#62ceb2,#62ceb2,#62ceb2,#62ceb2,#62ceb2)"></i><i style="top:148.73px;background:linear-gradient(90deg,#62cfb4,#6ecb8b,#7bcd75,#75cc80,#69cc9c,#62ceb3,#5ec6c7,#5cb5d5,#5cbfd4,#5fcac1,#5fccbe,#5fcdbd,#60cdbc,#60ceba,#60cfb9,#60cfb8,#61cfb7,#61cfb7,#61cfb7,#61cfb7,#61cfb7,#61cfb7)"></i><i style="top:150.23px;background:linear-gradient(90deg,#62cfb4,#87ce60,#c3ce3d,#a6d34a,#68cd9e,#5cb6d5,#5b9bce,#5b9ecf,#5cb1d4,#5dc1d0,#5ec8c5,#5fcbc0,#60cdbc,#60cfb9,#61cfb6,#62cfb4,#62ceb3,#62ceb3,#62ceb3,#62ceb3,#62ceb3,#62ceb3)"></i><i style="top:151.74px;background:linear-gradient(90deg,#62cfb4,#8dcf5b,#9bd151,#82cd69,#67cda2,#5caed3,#5a74c0,#5963b8,#5a73c0,#5b9ecf,#5cbdd6,#5ec6c9,#5fc9c2,#5fcdbd,#60cfb9,#61cfb6,#61cfb5,#61cfb5,#61cfb5,#61cfb5,#61cfb5,#61cfb5)"></i><i style="top:153.24px;background:linear-gradient(90deg,#62cfb4,#7dcd72,#cacb3c,#dbbd3d,#8bce5c,#67cda3,#5dc1d1,#5b7fc5,#5a74c0,#5b9dcf,#5cbad6,#5dc1d1,#5ec5ca,#5fc9c3,#60cdbc,#61cfb7,#61cfb5,#61cfb4,#61cfb4,#61cfb4,#61cfb4,#61cfb4)"></i><i style="top:154.74px;background:linear-gradient(90deg,#62cfb4,#7ccd72,#81cd6a,#71cb88,#68cc9d,#61cfb5,#5ec5ca,#5cbfd4,#5b9fd0,#5b85c7,#5cb2d4,#5fcac1,#61cfb6,#62ceb1,#62ceb1,#62ceb1,#62ceb1,#62ceb1,#62ceb1,#62ceb1,#62ceb1,#62ceb1)"></i><i style="top:156.24px;background:linear-gradient(90deg,#62cfb4,#74cc82,#86ce62,#6ccb91,#5dc2ce,#5b8cc9,#5a71bf,#5b7cc3,#5ba5d1,#5dc2ce,#5fcac1,#5fccbd,#60cebb,#60cfb9,#61cfb7,#61cfb7,#61cfb7,#61cfb7,#61cfb7,#61cfb7,#61cfb7,#61cfb7)"></i><i style="top:157.75px;background:linear-gradient(90deg,#62cfb4,#78cc7b,#8dcf5b,#7ecd70,#67cda2,#5fccbe,#5ec5ca,#5ba9d2,#5b7fc5,#5b92cb,#5cbfd3,#5fcbbf,#60ceba,#61cfb6,#62cfb4,#62ceb3,#62ceb3,#62ceb3,#62ceb3,#62ceb3,#62ceb3,#62ceb3)"></i><i style="top:159.25px;background:linear-gradient(90deg,#62cfb4,#88ce5e,#d6c43a,#ddba3d,#7ccd73,#5b8fca,#585cb4,#5a68ba,#5b96cd,#5cb6d5,#5cbfd3,#5dc3cd,#5ec7c6,#5fcbc0,#60ceba,#61cfb6,#61cfb6,#60cebb,#5fcac2,#5ec8c5,#5fcac1,#60cebb)"></i><i style="top:160.75px;background:linear-gradient(90deg,#62cfb4,#7ccd74,#a0d24d,#95d055,#70cb89,#64ceac,#5fc9c4,#5cb7d5,#5b7bc3,#5a6dbd,#5ba9d2,#5fcac2,#60cfb8,#62ceb3,#62ceb3,#62ceb3,#62ceb3,#62ceb3,#62ceb3,#62ceb3,#62ceb3,#62ceb3)"></i><i style="top:162.25px;background:linear-gradient(90deg,#62cfb4,#6dcb8f,#77cc7c,#6bcc95,#62ceb1,#5ec5ca,#5cbed6,#5cbdd7,#5dc1d1,#5ec5c9,#5fcac1,#60cfb8,#62ceb4,#62ceb3,#62ceb3,#62ceb3,#62ceb3,#62ceb3,#62ceb3,#62ceb3,#62ceb3,#62ceb3)"></i><i style="top:163.75px;background:linear-gradient(90deg,#62cfb4,#97d054,#c2cf3d,#abd346,#74cc81,#5cbfd3,#5b80c5,#5b8eca,#5cbcd7,#5ec6c8,#5ec8c5,#5fc9c2,#5fcbbf,#60cdbc,#60cfb9,#60cfb7,#60cfb7,#60cfb7,#60cfb7,#60cfb7,#60cfb7,#60cfb7)"></i><i style="top:165.26px;background:linear-gradient(90deg,#62cfb4,#85ce63,#add445,#99d153,#70cb89,#64cead,#5ec7c7,#5badd3,#5b89c8,#5b80c5,#5b9fcf,#5dc0d2,#5fcac2,#60cdbc,#60cfb8,#61cfb6,#61cfb5,#61cfb5,#61cfb5,#61cfb5,#61cfb5,#61cfb5)"></i><i style="top:166.76px;background:linear-gradient(90deg,#62cfb4,#6ecb8c,#72cc85,#6ccb93,#67cda3,#60cebb,#5cbcd7,#5badd3,#5b9fcf,#5b98cd,#5ba2d0,#5cb5d5,#5dc3cc,#5fcbbf,#60cfb9,#60cebb,#5fcac1,#5ec5c9,#5dc3cd,#5ec5c9,#5fcac1,#60ceba)"></i><i style="top:168.26px;background:linear-gradient(90deg,#62cfb4,#6fcb8a,#77cc7c,#6dcb8f,#66cda5,#62ceb3,#5fc9c2,#5cbfd4,#5cbbd7,#5dbfd3,#5ec5ca,#5fcac2,#5fcdbd,#60cfb9,#61cfb5,#62ceb2,#62ceb1,#62ceb1,#62ceb1,#62ceb1,#62ceb1,#62ceb1)"></i><i style="top:169.76px;background:linear-gradient(90deg,#62cfb4,#74cc82,#a1d24d,#9bd151,#6ccb90,#5fcac2,#5cb9d6,#5cb6d5,#5cbdd6,#5dc2cf,#5ec4cb,#5ec6c8,#5fc8c4,#5fcbc0,#60cdbc,#60cfb9,#61cfb7,#61cfb7,#61cfb7,#61cfb7,#61cfb7,#61cfb7)"></i><i style="top:171.27px;background:linear-gradient(90deg,#62cfb4,#a2d24c,#c5cd3d,#8fcf59,#68cd9f,#5ec8c5,#5cbed6,#5cbdd7,#5dc1d1,#5ec6c9,#5fc9c2,#5fccbe,#60cebb,#60cfb8,#60cfb8,#60cfb8,#60cfb8,#60cfb8,#60cfb8,#60cfb8,#60cfb8,#60cfb8)"></i><i style="top:172.77px;background:linear-gradient(90deg,#62cfb4,#6acc98,#72cc84,#6acc98,#64cead,#62ceb3,#60cdbc,#5cbdd7,#5b90cb,#5ba9d2,#5ec6c9,#5fc9c3,#5fcbc0,#5fcdbd,#60ceba,#61cfb7,#61cfb6,#61cfb5,#61cfb5,#61cfb5,#61cfb5,#61cfb5)"></i><i style="top:174.27px;background:linear-gradient(90deg,#62cfb4,#7bcd75,#90cf58,#78cc7b,#67cda1,#5fcac1,#5cbcd7,#5cb6d5,#5cb4d5,#5cb8d6,#5dc2ce,#5fccbe,#62ceb2,#63ceae,#63ceae,#63ceae,#63ceae,#63ceae,#63ceae,#63ceae,#63ceae,#63ceae)"></i><i style="top:175.77px;background:linear-gradient(90deg,#62cfb4,#70cb88,#8ccf5b,#7ccd73,#66cda4,#5fcdbd,#5cb0d4,#5b92cb,#5cafd4,#5dc0d2,#5dc3cd,#5ec6c9,#5fc9c3,#5fccbe,#60cfb8,#61cfb4,#62ceb2,#62ceb2,#62ceb2,#62ceb2,#62ceb2,#62ceb2)"></i><i style="top:177.28px;background:linear-gradient(90deg,#62cfb4,#6bcc94,#77cc7b,#76cc7e,#6acc97,#64cead,#5cbad6,#5b77c2,#5a6cbd,#5b96cd,#5cbad6,#5dc2cf,#5ec5c9,#5fc9c3,#5fccbd,#60ceba,#60cfb9,#60cfb9,#60cfb9,#60cfb9,#60cfb9,#60cfb9)"></i><i style="top:178.78px;background:linear-gradient(90deg,#62cfb4,#6acc99,#72cc85,#6ccb90,#65cda7,#61cfb4,#60cdbc,#5fc8c4,#5ec8c5,#5fcbc0,#60cebb,#60cfb8,#61cfb5,#62ceb2,#62ceb1,#63ceb0,#63ceb0,#63ceb0,#63ceb0,#63ceb0,#63ceb0,#63ceb0)"></i><i style="top:180.28px;background:linear-gradient(90deg,#62cfb4,#87ce61,#8fcf59,#6dcb90,#64cead,#5fccbf,#5dc2cf,#5dc0d3,#5ec4cb,#5ec7c6,#5fcbc0,#60ceba,#61cfb5,#62cfb4,#62cfb4,#62cfb4,#62cfb4,#62cfb4,#62cfb4,#62cfb4,#62cfb4,#62cfb4)"></i><i style="top:181.78px;background:linear-gradient(90deg,#62cfb4,#68cda0,#6fcb8a,#70cb89,#67cda3,#60cebb,#5ec8c4,#5ec6c8,#5ec4cc,#5dc3cc,#5ec8c5,#60cebb,#61cfb5,#62cfb4,#62ceb3,#62ceb3,#62ceb3,#62ceb3,#62ceb3,#62ceb3,#62ceb3,#62ceb3)"></i><i style="top:183.29px;background:linear-gradient(90deg,#62cfb4,#6dcb8f,#afd444,#c8cc3c,#7bcd75,#62ceb1,#5dc4cc,#5cbad6,#5cb0d4,#5cb1d4,#5cbcd7,#5ec5c9,#5fcbbf,#60cfb9,#61cfb4,#62ceb1,#63ceaf,#63ceaf,#63ceaf,#63ceaf,#63ceaf,#63ceaf)"></i><i style="top:184.79px;background:linear-gradient(90deg,#62cfb4,#92d057,#c6cd3d,#afd443,#77cc7c,#62ceb1,#5dc3cd,#5cbdd6,#5cbad6,#5cbed6,#5dc2cf,#5ec5ca,#5ec8c5,#5fcbc0,#60cebb,#61cfb7,#61cfb4,#62cfb4,#62cfb4,#62cfb4,#62cfb4,#62cfb4)"></i><i style="top:186.29px;background:linear-gradient(90deg,#62cfb4,#6ccb93,#73cc83,#6ccb90,#65cda7,#60cfb8,#5fccbe,#5fcac1,#5ec7c7,#5ec6c8,#5fc9c2,#60cdbc,#60cfb9,#61cfb7,#61cfb5,#62cfb4,#62ceb3,#62ceb3,#62ceb3,#62ceb3,#62ceb3,#62ceb3)"></i><i style="top:187.79px;background:linear-gradient(90deg,#62cfb4,#6fcb8a,#77cc7d,#6ccb90,#67cda3,#62ceb3,#5ec8c5,#5dc3ce,#5dc3cc,#5ec6c8,#5fcbbf,#61cfb7,#62cfb4,#62cfb4,#62cfb4,#62cfb4,#62cfb4,#62cfb4,#62cfb4,#62cfb4,#62cfb4,#62cfb4)"></i><i style="top:189.29px;background:linear-gradient(90deg,#62cfb4,#6acc99,#6bcc94,#66cda6,#62ceb2,#60ceba,#5fcbbf,#5ec6c8,#5cafd3,#5babd2,#5ec5ca,#60cebb,#60cfb8,#61cfb7,#61cfb7,#61cfb7,#61cfb7,#61cfb7,#61cfb7,#61cfb7,#61cfb7,#61cfb7)"></i><i style="top:190.80px;background:linear-gradient(90deg,#62cfb4,#66cda5,#6acc99,#68cda0,#64ceac,#60cfb9,#5ec8c5,#5ec5ca,#5ec4cb,#5ec6c8,#5fc9c3,#5fccbe,#60cebb,#60cfb8,#61cfb6,#61cfb5,#61cfb6,#60ceba,#5fcac2,#5ec5ca,#5ec4cb,#5ec8c4)"></i><i style="top:192.30px;background:linear-gradient(90deg,#62cfb4,#6acc99,#6bcb93,#69cc9c,#65cea9,#62ceb3,#5fcac1,#5ec4cb,#5ec6c9,#5ec6c7,#5fc9c2,#60cdbc,#60cfb9,#60cfb9,#60cfb9,#60cfb9,#60cfb9,#60cfb9,#60ceba,#5fccbe,#5ec7c6,#5ec5c9)"></i><i style="top:193.80px;background:linear-gradient(90deg,#62cfb4,#66cda5,#6bcc95,#6ecb8c,#6acc98,#65cda8,#60cfb8,#5dc3cd,#5caed3,#5b9ccf,#5ba7d2,#5cbfd4,#5fc9c3,#60cdbd,#60cfba,#60cfb8,#60cfb8,#60cfb8,#60cfb8,#60cfb8,#60cfb8,#60cfb8)"></i><i style="top:195.30px;background:linear-gradient(90deg,#62cfb4,#6acc99,#6bcc94,#67cda0,#63ceb0,#5fc9c3,#5cbed5,#5cbdd7,#5ec5ca,#5fccbd,#61cfb7,#61cfb5,#62ceb3,#62ceb2,#62ceb2,#62ceb2,#62ceb2,#62ceb2,#62ceb2,#62ceb2,#62ceb2,#62ceb2)"></i><i style="top:196.81px;background:linear-gradient(90deg,#62cfb4,#7ecd6f,#8ecf5a,#74cc82,#65cda7,#61cfb7,#5dc3ce,#5cbcd7,#5fc9c3,#60ceba,#60cfb8,#61cfb6,#62cfb4,#62ceb3,#62ceb3,#62ceb3,#62ceb3,#62ceb3,#62ceb3,#62ceb3,#62ceb3,#62ceb3)"></i><i style="top:198.31px;background:linear-gradient(90deg,#62cfb4,#6acc99,#70cb89,#70cb89,#69cc9b,#62ceb3,#5ec8c4,#5ec7c6,#5fccbf,#60cdbd,#60cdbc,#60cebb,#60cfb9,#60cfb8,#61cfb6,#61cfb6,#61cfb6,#61cfb6,#61cfb6,#61cfb6,#61cfb6,#61cfb6)"></i><i style="top:199.81px;background:linear-gradient(90deg,#62cfb4,#6ccb90,#70cb89,#6acc98,#63ceaf,#5fcbc0,#5ec8c5,#5ec6c8,#5ec5ca,#5ec7c7,#5fcac2,#5fcdbd,#60cfb9,#61cfb6,#62ceb3,#62ceb3,#62ceb3,#62ceb3,#62ceb3,#62ceb3,#62ceb3,#62ceb3)"></i><i style="top:201.31px;background:linear-gradient(90deg,#62cfb4,#67cda0,#6dcb8e,#6dcb8d,#66cda5,#61cfb4,#60cdbc,#5fccbe,#60cdbc,#60cfb9,#61cfb6,#62ceb3,#62ceb1,#63ceb0,#63ceb0,#63ceb0,#63ceb0,#63ceb0,#63ceb0,#63ceb0,#63ceb0,#63ceb0)"></i><i style="top:202.82px;background:linear-gradient(90deg,#62cfb4,#85ce63,#99d153,#70cb88,#65ceaa,#61cfb5,#60cdbc,#5ec6c8,#5cbcd7,#5cb7d5,#5dc0d2,#5fcac1,#60cfb8,#61cfb4,#62ceb3,#62ceb3,#62ceb3,#62ceb3,#62ceb3,#62ceb3,#62ceb3,#62ceb3)"></i><i style="top:204.32px;background:linear-gradient(90deg,#62cfb4,#67cda3,#6acc97,#69cc9b,#63ceae,#5fcac2,#5dc1d1,#5cafd3,#5cafd4,#5dc0d2,#5ec5ca,#5ec7c7,#5fc8c4,#5fcac1,#5fccbd,#60ceba,#60cfb8,#60cfb8,#60cfb8,#60cfb8,#60cfb8,#60cfb8)"></i><i style="top:205.82px;background:linear-gradient(90deg,#62cfb4,#83cd66,#86ce62,#76cc7f,#68cd9f,#61cfb5,#5ec5ca,#5cbed5,#5dc1d0,#5ec4cb,#5ec6c7,#5fc9c3,#5fcbbf,#60cebb,#60cfb7,#61cfb5,#61cfb4,#61cfb4,#61cfb4,#61cfb4,#61cfb4,#61cfb4)"></i><i style="top:207.32px;background:linear-gradient(90deg,#62cfb4,#80cd6c,#91cf58,#81cd6b,#6bcc95,#63ceae,#5fcac1,#5dc2cf,#5dc3cd,#5ec6c8,#5fcac1,#60cfb9,#62cfb4,#62cfb4,#62cfb4,#62cfb4,#62cfb4,#62cfb4,#62cfb4,#62cfb4,#62cfb4,#62cfb4)"></i><i style="top:208.82px;background:linear-gradient(90deg,#62cfb4,#6bcc95,#79cc79,#72cc85,#67cda3,#60cebb,#5ec4cb,#5dc3cd,#5dc3cc,#5ec5ca,#5fc8c4,#5fccbd,#60cfb7,#61cfb5,#61cfb5,#61cfb5,#61cfb5,#61cfb5,#61cfb5,#61cfb5,#61cfb5,#61cfb5)"></i><i style="top:210.33px;background:linear-gradient(90deg,#62cfb4,#67cda0,#6bcc96,#6acc97,#65cea9,#5fcac2,#5dc4cc,#5dc3cd,#5ec4cb,#5ec5ca,#5ec7c6,#5fcac1,#60cdbc,#60cfb8,#61cfb5,#61cfb4,#61cfb4,#61cfb4,#61cfb4,#61cfb4,#61cfb4,#61cfb4)"></i><i style="top:211.83px;background:linear-gradient(90deg,#62cfb4,#6bcc95,#71cb87,#6bcc95,#64cead,#5ec8c4,#5cb8d6,#5cb4d5,#5cbfd4,#5ec6c8,#5fcac1,#60cdbc,#60cfb9,#61cfb6,#61cfb5,#61cfb5,#61cfb5,#61cfb5,#61cfb5,#61cfb5,#61cfb5,#61cfb5)"></i><i style="top:213.33px;background:linear-gradient(90deg,#62cfb4,#7dcd71,#97d054,#88ce5e,#6dcb8d,#63ceae,#5fc9c3,#5ec5ca,#5ec7c6,#5fcac1,#5fccbd,#60ceba,#61cfb7,#62cfb4,#62ceb1,#63ceaf,#63ceae,#63ceae,#63ceae,#63ceae,#63ceae,#63ceae)"></i><i style="top:214.83px;background:linear-gradient(90deg,#62cfb4,#69cc9b,#6dcb8f,#69cc9c,#64ceac,#60cfb8,#5ec7c6,#5dc2ce,#5ec6c8,#5fccbe,#61cfb6,#62ceb2,#63ceaf,#63ceae,#64cead,#64cead,#64cead,#64cead,#64cead,#64cead,#64cead,#64cead)"></i><i style="top:216.34px;background:linear-gradient(90deg,#62cfb4,#6ccb90,#7ccd73,#7ecd6f,#6ecb8c,#66cda6,#60cfb9,#5ec8c5,#5ec7c6,#5fc9c3,#5fccbe,#60cfba,#60cfb9,#60cfb9,#60cfb9,#60cfb9,#60cfb9,#60cfb9,#60cfb9,#60cfb9,#60cfb9,#60cfb9)"></i><i style="top:217.84px;background:linear-gradient(90deg,#62cfb4,#7ecd70,#85ce64,#78cc7b,#69cc9a,#64ceab,#61cfb5,#60cebb,#5fccbe,#5fcdbd,#60cebb,#60cfb9,#60cfb8,#61cfb7,#61cfb6,#61cfb5,#61cfb5,#61cfb5,#61cfb5,#61cfb5,#61cfb5,#61cfb5)"></i><i style="top:219.34px;background:linear-gradient(90deg,#62cfb4,#6acc97,#6dcb8e,#6acc98,#64ceaa,#60cdbc,#5dc3cd,#5cbcd7,#5cbed5,#5ec5c9,#5fcbc0,#60cebb,#60cfb9,#60cfb8,#61cfb7,#61cfb6,#61cfb5,#61cfb5,#61cfb5,#61cfb5,#61cfb5,#61cfb5)"></i><i style="top:220.84px;background:linear-gradient(90deg,#62cfb4,#6ccb92,#70cb88,#6acc99,#64ceaa,#61cfb7,#5fcbbf,#5fccbe,#60cebb,#60ceba,#60cfba,#60cfb9,#60cfb8,#61cfb7,#61cfb6,#61cfb5,#61cfb5,#61cfb5,#61cfb5,#61cfb5,#61cfb5,#61cfb5)"></i><i style="top:222.35px;background:linear-gradient(90deg,#62cfb4,#70cb89,#76cc7e,#6ccb92,#66cda6,#62ceb2,#5fc9c3,#5cbad6,#5cb2d4,#5cb8d6,#5dc3cd,#5fcac1,#60ceba,#61cfb5,#62ceb3,#61cfb4,#60cfb9,#5fcac1,#5fc9c3,#60cdbc,#61cfb5,#62ceb3)"></i><i style="top:223.85px;background:linear-gradient(90deg,#62cfb4,#68cd9e,#77cc7d,#78cc7b,#68cd9f,#60cfb7,#5fc9c3,#5fc9c3,#5fccbe,#60cebb,#60cebb,#60ceba,#60cfb9,#60cfb8,#61cfb7,#61cfb6,#61cfb6,#61cfb6,#61cfb6,#61cfb6,#61cfb6,#61cfb6)"></i><i style="top:225.35px;background:linear-gradient(90deg,#62cfb4,#6fcb8a,#74cc81,#6bcc95,#65ceaa,#5fcdbd,#5cbdd7,#5ba8d2,#5ba1d0,#5cadd3,#5dc0d2,#5fcac2,#60cfba,#61cfb6,#62ceb3,#62ceb1,#62ceb1,#62ceb1,#62ceb1,#62ceb1,#62ceb1,#62ceb1)"></i><i style="top:226.85px;background:linear-gradient(90deg,#62cfb4,#7ecd70,#8ccf5b,#7dcd71,#69cc9b,#60cebb,#5dc0d3,#5badd3,#5ba9d2,#5cbad6,#5ec7c6,#60cdbc,#60cfb8,#61cfb6,#61cfb4,#62ceb3,#62ceb3,#62ceb3,#62ceb3,#62ceb3,#62ceb3,#62ceb3)"></i><i style="top:228.36px;background:linear-gradient(90deg,#62cfb4,#6acc97,#6fcb8b,#6bcb93,#66cda4,#63ceaf,#60cdbc,#5dc4cc,#5dc1d1,#5dc2ce,#5ec6c7,#5fcbc0,#60ceba,#61cfb7,#61cfb6,#61cfb6,#61cfb6,#61cfb6,#61cfb6,#61cfb6,#61cfb6,#61cfb6)"></i><i style="top:229.86px;background:linear-gradient(90deg,#62cfb4,#6fcb8b,#72cc86,#6bcc95,#66cda5,#61cfb5,#5fc8c4,#5cbfd4,#5cb7d5,#5dc2cf,#5fcac1,#60cebb,#61cfb7,#62cfb4,#62ceb1,#63ceb0,#63ceb0,#63ceb0,#63ceb0,#63ceb0,#63ceb0,#63ceb0)"></i><i style="top:231.36px;background:linear-gradient(90deg,#62cfb4,#6dcb8e,#99d153,#9cd151,#6ccb91,#61cfb6,#5fc9c4,#5ec4cb,#5dc3cd,#5ec7c7,#5fc9c3,#5fcbc0,#5fccbe,#60cebb,#60cfb9,#61cfb7,#61cfb7,#61cfb7,#61cfb7,#61cfb7,#61cfb7,#61cfb7)"></i><i style="top:232.86px;background:linear-gradient(90deg,#62cfb4,#6ccb91,#9dd150,#a7d349,#70cb89,#60cfb9,#5ec8c5,#5ec5ca,#5cb7d5,#5cb3d4,#5ec4cb,#5fcbc0,#60cebb,#61cfb7,#61cfb5,#61cfb5,#61cfb5,#61cfb5,#61cfb5,#61cfb5,#61cfb5,#61cfb5)"></i><i style="top:234.36px;background:linear-gradient(90deg,#62cfb4,#6fcb8b,#94d056,#a8d348,#83cd66,#68cd9f,#60cdbd,#5cbed5,#5ba9d2,#5cb3d4,#5ec7c7,#60cfb9,#61cfb5,#62ceb3,#62ceb2,#63ceb1,#63ceb0,#63ceb0,#63ceb0,#63ceb0,#63ceb0,#63ceb0)"></i><i style="top:235.87px;background:linear-gradient(90deg,#62cfb4,#6acc98,#72cc85,#6ccb92,#65cda8,#5fccbe,#5ec4cc,#5dc4cc,#5ec5c9,#5ec7c7,#5fc9c3,#5fccbf,#60ceba,#61cfb6,#62ceb4,#62ceb3,#62ceb3,#62ceb3,#62ceb3,#62ceb3,#62ceb3,#62ceb3)"></i><i style="top:237.37px;background:linear-gradient(90deg,#62cfb4,#6dcb8e,#77cc7c,#75cc80,#6acc97,#65cda9,#61cfb7,#5fcac2,#5ec6c7,#5ec7c6,#5fcbbf,#60cfb8,#61cfb5,#62ceb3,#62ceb3,#62ceb3,#62ceb3,#62ceb3,#62ceb3,#62ceb3,#62ceb3,#62ceb3)"></i><i style="top:238.87px;background:linear-gradient(90deg,#62cfb4,#69cc9b,#6dcb8d,#6bcc94,#66cda7,#60cfb8,#5fcac1,#5ec7c6,#5dc2cf,#5cbdd6,#5dc1d0,#5ec8c5,#5fccbf,#60cdbc,#60cfb9,#60cfb8,#60cfb8,#60cebb,#5fc9c2,#5ec5ca,#5dc3cd,#5ec5ca)"></i><i style="top:240.37px;background:linear-gradient(90deg,#62cfb4,#86ce62,#90cf59,#7acc76,#69cc9d,#63ceb0,#5fccbf,#5ec6c8,#5ec7c6,#5fcac1,#60ceba,#62ceb2,#64ceac,#64ceac,#64ceac,#64ceac,#64ceac,#64ceac,#64ceac,#64ceac,#64ceac,#64ceac)"></i><i style="top:241.88px;background:linear-gradient(90deg,#62cfb4,#6acc97,#73cc83,#6fcb8a,#68cda0,#63ceaf,#61cfb5,#60cdbc,#5fc9c2,#5fcbc0,#60cebb,#60ceba,#60cfb9,#60cfb8,#61cfb7,#61cfb6,#61cfb5,#61cfb5,#61cfb5,#61cfb5,#61cfb5,#61cfb5)"></i><i style="top:243.38px;background:linear-gradient(90deg,#62cfb4,#66cda5,#69cc9c,#69cc9c,#65ceaa,#60cdbc,#5fc9c4,#5ec7c6,#5cbcd7,#5cadd3,#5dc2cf,#60cebb,#61cfb4,#62ceb2,#62ceb2,#62ceb2,#62ceb2,#62ceb2,#62ceb2,#62ceb2,#62ceb2,#62ceb2)"></i><i style="top:244.88px;background:linear-gradient(90deg,#62cfb4,#68cc9e,#72cc86,#77cc7d,#6acc98,#63ceb0,#60cfb9,#5fccbe,#5ec6c9,#5dc0d1,#5dc3cc,#5fcbbf,#61cfb7,#62ceb3,#62ceb2,#62ceb1,#62ceb1,#62ceb1,#62ceb1,#62ceb1,#62ceb1,#62ceb1)"></i><i style="top:246.38px;background:linear-gradient(90deg,#62cfb4,#69cc9b,#6ccb91,#69cc9b,#64ceab,#62ceb3,#5fc9c3,#5cb3d4,#5cb7d5,#5fc8c4,#60cebb,#60cfb9,#61cfb7,#61cfb5,#62ceb3,#62ceb2,#62ceb2,#62ceb2,#62ceb2,#62ceb2,#62ceb2,#62ceb2)"></i><i style="top:247.89px;background:linear-gradient(90deg,#62cfb4,#65cda8,#6acc99,#6bcc94,#66cda5,#60cfb8,#5fcbc0,#5fcac2,#5fcbc0,#5fccbd,#60cebb,#60cfb9,#61cfb6,#61cfb5,#61cfb4,#61cfb4,#61cfb4,#61cfb4,#61cfb4,#61cfb4,#61cfb4,#61cfb4)"></i><i style="top:249.39px;background:linear-gradient(90deg,#62cfb4,#73cc84,#8dcf5a,#7dcd72,#68cd9f,#63ceb0,#60cebb,#5fc8c4,#5fc9c4,#5fcac1,#5fccbe,#60cebb,#5fccbe,#5ec5c9,#5dc2ce,#5fc9c3,#60ceba,#60cfb8,#60cfb7,#60cfb7,#60cfb7,#60cfb7)"></i><i style="top:250.89px;background:linear-gradient(90deg,#62cfb4,#68cd9f,#6dcb8f,#6acc99,#64ceac,#61cfb5,#5fcac2,#5dbfd3,#5cbad6,#5cbdd7,#5ec4cb,#5fcbbf,#60cfb8,#61cfb6,#61cfb6,#61cfb6,#61cfb6,#61cfb6,#61cfb6,#61cfb6,#61cfb6,#61cfb6)"></i><i style="top:252.39px;background:linear-gradient(90deg,#62cfb4,#6bcc96,#6dcb8f,#6acc98,#66cda6,#63ceb0,#61cfb7,#5fcbc0,#5dc2cf,#5cb5d5,#5cbdd7,#5fc8c4,#60cebb,#60cfb8,#60cfb8,#60cfb8,#60cfb8,#60cfb8,#60cfb8,#60cfb8,#60cfb8,#60cfb8)"></i><i style="top:253.89px;background:linear-gradient(90deg,#62cfb4,#7fcd6e,#82cd68,#74cc81,#68cd9f,#60cfb8,#5fc9c2,#5ec7c6,#5ec6c8,#5ec7c6,#5fcac1,#60cdbc,#60cfb8,#61cfb7,#61cfb7,#61cfb7,#61cfb7,#61cfb7,#61cfb7,#61cfb7,#61cfb7,#61cfb7)"></i><i style="top:255.40px;background:linear-gradient(90deg,#62cfb4,#7dcd72,#8bcf5c,#70cb89,#66cda6,#63ceaf,#60cfb8,#5fcbbf,#5fcac1,#5fcac1,#5fcbc0,#5fccbd,#60cebb,#60cfb9,#61cfb7,#61cfb6,#61cfb5,#61cfb5,#61cfb5,#61cfb5,#61cfb5,#61cfb5)"></i><i style="top:256.90px;background:linear-gradient(90deg,#62cfb4,#96d054,#9ed24f,#74cc81,#65cda7,#60cfba,#5fcac1,#5fc9c3,#5fcac1,#5fcbbf,#60cebb,#61cfb6,#62ceb3,#62ceb3,#62ceb3,#62ceb3,#62ceb3,#62ceb3,#62ceb3,#62ceb3,#62ceb3,#62ceb3)"></i><i style="top:258.40px;background:linear-gradient(90deg,#62cfb4,#75cc80,#7bcd75,#6bcc94,#64cead,#5fcac1,#5cb9d6,#5cbad6,#5ec8c5,#5fccbe,#5fcdbd,#60cdbc,#60cebb,#60cfba,#60cfb8,#61cfb7,#61cfb6,#61cfb6,#61cfb6,#61cfb6,#61cfb6,#61cfb6)"></i><i style="top:259.90px;background:linear-gradient(90deg,#62cfb4,#7ecd70,#aad347,#87ce5f,#68cc9d,#62ceb1,#60cfb9,#5fcac2,#5ec7c6,#5ec8c5,#5fc9c3,#5ec7c7,#5ec4cb,#5ec7c6,#60cdbd,#61cfb7,#61cfb5,#61cfb5,#61cfb5,#61cfb5,#61cfb5,#61cfb5)"></i><i style="top:261.41px;background:linear-gradient(90deg,#62cfb4,#6ccb91,#86ce61,#91cf58,#70cb89,#5ec5c9,#5bacd3,#5cb2d4,#5dc1d0,#5ec7c7,#5fcbbf,#60cfb9,#61cfb7,#61cfb7,#61cfb7,#61cfb7,#61cfb7,#61cfb7,#61cfb7,#61cfb7,#61cfb7,#61cfb7)"></i><i style="top:262.91px;background:linear-gradient(90deg,#62cfb4,#7dcd71,#86ce61,#74cc82,#67cda3,#62ceb3,#5fcbc0,#5ec6c7,#5ec5ca,#5ec6c8,#5fcac1,#60ceba,#61cfb4,#63ceb0,#63ceaf,#63ceaf,#63ceaf,#63ceaf,#63ceaf,#63ceaf,#63ceaf,#63ceaf)"></i><i style="top:264.41px;background:linear-gradient(90deg,#62cfb4,#71cb86,#85ce63,#7ecd6f,#6bcc96,#64ceac,#61cfb7,#5fc9c4,#5dc2ce,#5dc0d2,#5dc3cd,#5ec8c5,#5fcbbf,#60cdbc,#60cfb9,#60cfb8,#60cfb8,#60cfb8,#60cfb8,#60cfb8,#60cfb8,#60cfb8)"></i><i style="top:265.91px;background:linear-gradient(90deg,#62cfb4,#7dcd71,#83cd67,#74cc82,#67cda2,#60cfb9,#5ec6c7,#5ec5ca,#5fc9c2,#5fccbe,#60cebb,#60cfb9,#61cfb6,#62ceb4,#62ceb2,#62ceb1,#62ceb1,#62ceb1,#62ceb1,#62ceb1,#62ceb1,#62ceb1)"></i><i style="top:267.42px;background:linear-gradient(90deg,#62cfb4,#6bcc94,#92d057,#87ce5f,#67cda1,#5fccbf,#5ec5ca,#5ec7c7,#5fcbbf,#60cebb,#61cfb6,#62ceb2,#63ceb0,#63ceb0,#63ceb0,#63ceb0,#63ceb0,#63ceb0,#63ceb0,#63ceb0,#63ceb0,#63ceb0)"></i><i style="top:268.92px;background:linear-gradient(90deg,#62cfb4,#69cc9c,#6ccb92,#68cda0,#62ceb3,#5fcbbf,#5fcac2,#5fc9c4,#5ec7c6,#5fc9c4,#5fcbc0,#5fccbd,#60cebb,#60cfb8,#61cfb5,#62ceb3,#62ceb3,#62ceb3,#62ceb3,#62ceb3,#62ceb3,#62ceb3)"></i><i style="top:270.42px;background:linear-gradient(90deg,#62cfb4,#87ce5f,#a4d24b,#87ce60,#6acc96,#62cfb4,#5fccbe,#5ec7c6,#5dc2ce,#5ec5ca,#5fcbbf,#60cfb7,#62cfb4,#62ceb3,#62ceb3,#62ceb3,#62ceb3,#62ceb3,#62ceb3,#62ceb3,#62ceb3,#62ceb3)"></i><i style="top:271.92px;background:linear-gradient(90deg,#62cfb4,#71cb88,#87ce60,#84ce65,#6ccb90,#64ceab,#60cdbd,#5ec7c6,#5ec6c8,#5ec6c8,#5ec7c6,#5fcac1,#5fcdbd,#60cfb9,#61cfb6,#61cfb5,#61cfb5,#61cfb5,#61cfb5,#61cfb5,#61cfb5,#61cfb5)"></i><i style="top:273.43px;background:linear-gradient(90deg,#62cfb4,#6acc97,#6dcb8f,#6acc96,#66cda4,#63ceaf,#60cdbc,#5ec7c7,#5ec7c7,#5fc8c4,#5fcbc0,#60cebb,#61cfb7,#61cfb6,#61cfb6,#61cfb6,#61cfb6,#61cfb6,#61cfb6,#61cfb6,#61cfb6,#61cfb6)"></i><i style="top:274.93px;background:linear-gradient(90deg,#62cfb4,#6fcb8b,#76cc7e,#70cb89,#67cda1,#5fcac1,#5cbdd7,#5dc1d0,#5fc9c4,#5fcac1,#5fcbc0,#5fccbe,#60cdbc,#60ceba,#60cfb8,#61cfb7,#61cfb7,#61cfb7,#61cfb7,#61cfb7,#61cfb7,#61cfb7)"></i><i style="top:276.43px;background:linear-gradient(90deg,#62cfb4,#6bcc94,#71cb86,#6ccb92,#66cda5,#62cfb4,#5fc8c4,#5ec7c7,#5fccbd,#60cfba,#61cfb7,#61cfb5,#62ceb3,#62ceb1,#64cead,#65cda8,#66cda5,#65cda7,#64ceac,#63ceb1,#62ceb3,#61cfb4)"></i><i style="top:277.93px;background:linear-gradient(90deg,#62cfb4,#72cc85,#97d054,#80cd6d,#67cda0,#63ceb0,#60cfb9,#5fcbc0,#5fcbc0,#5fcdbd,#60ceba,#60cfb8,#61cfb6,#61cfb4,#62ceb3,#62ceb3,#62ceb3,#62ceb3,#62ceb3,#62ceb3,#62ceb3,#62ceb3)"></i><i style="top:279.43px;background:linear-gradient(90deg,#62cfb4,#7bcd74,#80cd6b,#6dcb8e,#66cda6,#62ceb2,#5fcdbd,#5fc9c2,#5fcac1,#5fccbe,#5fcdbd,#60cdbc,#60ceba,#60cfb8,#61cfb6,#61cfb5,#62cfb4,#62cfb4,#62cfb4,#62cfb4,#62cfb4,#62cfb4)"></i><i style="top:280.94px;background:linear-gradient(90deg,#62cfb4,#6acc98,#6dcb8d,#6bcc94,#66cda4,#63ceb0,#60cfb9,#5ec6c8,#5dc2cf,#5dc3cd,#5ec7c7,#5fcac1,#60cdbc,#60cfb8,#61cfb5,#62ceb2,#63ceb1,#63ceb1,#63ceb1,#63ceb1,#63ceb1,#63ceb1)"></i><i style="top:282.44px;background:linear-gradient(90deg,#62cfb4,#6acc99,#6fcb8a,#6ccb92,#66cda5,#60cfb9,#5dc0d3,#5cbfd4,#5ec7c6,#5fcac2,#5fcac1,#5fccbe,#60cdbc,#60cfb9,#61cfb6,#61cfb5,#61cfb5,#61cfb5,#61cfb5,#61cfb5,#61cfb5,#61cfb5)"></i><i style="top:283.94px;background:linear-gradient(90deg,#62cfb4,#6acc97,#6ccb90,#67cda1,#63ceb0,#60cfba,#5fcbc0,#5fc9c2,#5ec7c7,#5ec5c9,#5ec6c7,#5fc9c2,#5fccbe,#60ceba,#60cfb8,#61cfb7,#61cfb7,#61cfb7,#61cfb7,#61cfb7,#61cfb7,#61cfb7)"></i><i style="top:285.44px;background:linear-gradient(90deg,#62cfb4,#6dcb8e,#8dcf5a,#81cd6a,#67cda1,#62ceb2,#60cfb8,#5fccbe,#5fcbc0,#5fccbd,#60cfb8,#62ceb4,#62ceb1,#62ceb1,#62ceb1,#62ceb1,#62ceb1,#62ceb1,#62ceb1,#62ceb1,#62ceb1,#62ceb1)"></i><i style="top:286.95px;background:linear-gradient(90deg,#62cfb4,#68cc9d,#6dcb8e,#6bcc96,#65cea9,#62ceb2,#60cfb9,#5dc3ce,#5cadd3,#5ba7d2,#5cbdd7,#5fccbf,#62cfb4,#62ceb3,#62ceb3,#62ceb3,#62ceb3,#62ceb3,#62ceb3,#62ceb3,#62ceb3,#62ceb3)"></i><i style="top:288.45px;background:linear-gradient(90deg,#62cfb4,#6bcc95,#77cc7d,#77cc7c,#6bcc95,#64ceac,#60ceba,#5fccbe,#5fcac2,#5ec8c5,#5fcbc0,#60cebb,#60cfb8,#61cfb6,#61cfb6,#61cfb6,#61cfb6,#61cfb6,#61cfb6,#61cfb6,#61cfb6,#61cfb6)"></i><i style="top:289.95px;background:linear-gradient(90deg,#62cfb4,#77cc7c,#96d054,#84ce65,#6acc98,#63ceaf,#60cebb,#5ec7c6,#5ec5ca,#5ec6c7,#5fc9c4,#5fcac1,#5fccbe,#60cdbc,#60cfba,#60cfb8,#61cfb6,#61cfb6,#61cfb6,#61cfb6,#61cfb6,#61cfb6)"></i><i style="top:291.45px;background:linear-gradient(90deg,#62cfb4,#69cc9c,#72cc86,#71cb86,#69cc9c,#63ceae,#5fccbe,#5ec4cb,#5cbed5,#5cbad6,#5dc0d2,#5fc9c4,#60cfb9,#62ceb2,#66cda5,#68cc9d,#65cea9,#62cfb4,#61cfb6,#61cfb7,#61cfb7,#61cfb7)"></i><i style="top:292.96px;background:linear-gradient(90deg,#62cfb4,#7dcd71,#85ce63,#79cc78,#69cc9a,#62ceb2,#60cdbc,#5fcbc0,#5fcbc0,#5fccbe,#60cebb,#61cfb7,#62cfb4,#62ceb2,#63ceb0,#63ceb0,#63ceb0,#63ceb0,#63ceb0,#63ceb0,#63ceb0,#63ceb0)"></i><i style="top:294.46px;background:linear-gradient(90deg,#62cfb4,#7ccd73,#8bcf5c,#7ecd70,#6acc98,#63ceb0,#5fcac1,#5dc2cf,#5cbbd7,#5cbcd7,#5dc3cc,#5fcac2,#60cdbc,#60cfb8,#61cfb6,#61cfb6,#61cfb6,#61cfb6,#61cfb6,#61cfb6,#61cfb6,#61cfb6)"></i><i style="top:295.96px;background:linear-gradient(90deg,#62cfb4,#6fcb8b,#73cc84,#6bcc94,#66cda5,#63ceb0,#60cfb9,#5ec8c5,#5ec5c9,#5fc9c3,#60cdbc,#60cfb7,#61cfb4,#62ceb2,#63ceb0,#63ceb0,#63ceb0,#63ceb0,#63ceb0,#63ceb0,#63ceb0,#63ceb0)"></i><i style="top:297.46px;background:linear-gradient(90deg,#62cfb4,#77cc7b,#84ce65,#7ccd72,#6bcc95,#62ceb2,#5fc9c3,#5ec5c9,#5ec5ca,#5ec6c8,#5ec8c4,#5fcbc0,#5fcdbd,#60ceba,#60cfb8,#61cfb6,#61cfb6,#61cfb6,#61cfb6,#61cfb6,#61cfb6,#61cfb6)"></i><i style="top:298.96px;background:linear-gradient(90deg,#62cfb4,#67cda3,#68cc9d,#67cda1,#65ceaa,#61cfb4,#60cfba,#5fccbe,#5fcac2,#5fccbf,#60cdbd,#60cebb,#60ceba,#60cfb9,#60cfb9,#60cfb9,#60cfb9,#60cfb9,#60cfb9,#60cfb9,#60cfb9,#60cfb9)"></i><i style="top:300.47px;background:linear-gradient(90deg,#62cfb4,#66cda6,#67cda1,#66cda5,#64ceab,#63ceb0,#61cfb6,#60cdbc,#5fccbe,#5fccbe,#60ceba,#61cfb7,#61cfb5,#61cfb5,#61cfb5,#61cfb5,#61cfb5,#61cfb5,#61cfb5,#61cfb5,#61cfb5,#61cfb5)"></i><i style="top:301.97px;background:linear-gradient(90deg,#62cfb4,#6ccb93,#75cc80,#71cb87,#68cc9d,#63ceae,#60cfb9,#5fccbe,#5fcbbf,#5fccbe,#5fcdbd,#60cdbc,#60cebb,#60cfba,#60cfb9,#60cfb8,#60cfb8,#60cfb8,#60cfb8,#60cfb8,#60cfb8,#60cfb8)"></i><i style="top:303.47px;background:linear-gradient(90deg,#62cfb4,#66cda4,#68cda0,#66cda5,#63ceae,#60cfb9,#5dc2cf,#5cafd3,#5cb5d5,#5dc4cc,#5fcac1,#60cdbc,#60cfb9,#61cfb6,#62cfb4,#62ceb3,#62ceb3,#62ceb3,#62ceb3,#62ceb3,#62ceb3,#62ceb3)"></i><i style="top:304.97px;background:linear-gradient(90deg,#62cfb4,#67cda1,#68cd9f,#66cda5,#63ceaf,#60cfb9,#5fccbe,#5fccbf,#60cdbc,#60cfb9,#61cfb5,#62ceb1,#65ceaa,#68cd9e,#6bcc96,#6acc99,#67cda3,#64ceab,#64cead,#63ceae,#63ceae,#63ceae)"></i><i style="top:306.48px;background:linear-gradient(90deg,#62cfb4,#67cda2,#72cc85,#72cc86,#67cda3,#60cfb7,#5fcac1,#5fcac1,#5fcbbf,#5fccbf,#5fccbe,#60cdbc,#60cfba,#60cfb7,#61cfb6,#61cfb5,#61cfb5,#61cfb5,#61cfb5,#61cfb5,#61cfb5,#61cfb5)"></i><i style="top:307.98px;background:linear-gradient(90deg,#62cfb4,#69cc9c,#69cc9c,#65cda7,#63ceaf,#62ceb3,#60cfb9,#60cebb,#60ceba,#60cfb9,#61cfb6,#62ceb3,#62ceb1,#63ceb0,#63ceb0,#63ceb0,#63ceb0,#63ceb0,#63ceb0,#63ceb0,#63ceb0,#63ceb0)"></i><i style="top:309.48px;background:linear-gradient(90deg,#62cfb4,#66cda5,#69cc9c,#68cd9e,#65cda8,#62ceb2,#60ceba,#5fcbbf,#5fc9c3,#5fc9c3,#5fcbbf,#60cdbc,#60cfb9,#60cfb8,#60cfb8,#60cfb8,#60cfb8,#60cfb8,#60cfb8,#60cfb8,#60cfb8,#60cfb8)"></i><i style="top:310.98px;background:linear-gradient(90deg,#62cfb4,#74cc81,#75cc80,#6bcc95,#65cda8,#62ceb2,#60ceba,#5fccbe,#5fccbe,#5fccbd,#60cebb,#60cfb9,#61cfb6,#61cfb5,#61cfb5,#61cfb5,#61cfb5,#61cfb5,#61cfb5,#61cfb5,#61cfb5,#61cfb5)"></i><i style="top:312.49px;background:linear-gradient(90deg,#62cfb4,#64ceab,#66cda5,#66cda6,#64cead,#62ceb2,#61cfb6,#60cdbc,#5fcdbd,#60cfb9,#61cfb6,#61cfb4,#62ceb3,#62ceb2,#62ceb1,#63ceb1,#63ceb0,#63ceb0,#63ceb0,#63ceb0,#63ceb0,#63ceb0)"></i><i style="top:313.99px;background:linear-gradient(90deg,#62cfb4,#64ceac,#64ceab,#63ceae,#62ceb3,#60cfb8,#60cdbc,#5fccbe,#5fcbbf,#5fcdbd,#60cfba,#61cfb6,#61cfb5,#61cfb5,#61cfb5,#61cfb5,#61cfb5,#61cfb5,#61cfb5,#61cfb5,#61cfb5,#61cfb5)"></i><i style="top:315.49px;background:linear-gradient(90deg,#62cfb4,#64ceab,#67cda0,#67cda3,#63ceae,#61cfb5,#60cfba,#60cebb,#60cdbd,#5fcdbd,#60cdbc,#60cebb,#60ceba,#60cfb9,#60cfb8,#61cfb7,#61cfb7,#61cfb7,#61cfb7,#61cfb7,#61cfb7,#61cfb7)"></i><i style="top:316.99px;background:linear-gradient(90deg,#62cfb4,#64ceab,#66cda7,#64ceac,#62ceb1,#62ceb3,#61cfb6,#60cfb8,#60cfb8,#60cfb8,#61cfb7,#61cfb6,#61cfb5,#61cfb5,#61cfb5,#61cfb5,#61cfb5,#61cfb5,#61cfb5,#61cfb5,#61cfb5,#61cfb5)"></i><i style="top:318.50px;background:linear-gradient(90deg,#62cfb4,#64cead,#64ceac,#62ceb1,#62ceb4,#61cfb4,#61cfb7,#60cdbc,#5fcbc0,#5fcbc0,#5fccbe,#60cdbc,#60cebb,#60cebb,#60cebb,#60cebb,#60cebb,#60cebb,#60cebb,#60cebb,#60cebb,#60cebb)"></i><i style="top:320.00px;background:linear-gradient(90deg,#62cfb4,#63ceae,#64ceac,#64ceac,#62ceb2,#60cfb9,#5fccbe,#5fcbbf,#60cdbd,#60cfba,#61cfb7,#61cfb6,#61cfb4,#62ceb3,#62ceb3,#62ceb3,#62ceb3,#62ceb3,#62ceb3,#62ceb3,#62ceb3,#62ceb3)"></i></div>
<div class="hm" style="left:817.30px;top:51.80px;width:458.70px;height:321.50px"><i style="top:0.00px;background:linear-gradient(90deg,#64ceac,#a6d34a,#a6d34a,#a6d34a,#a5d34a,#9ed14f,#92d057,#84ce64,#79cc78,#6dcb8d,#68cc9e,#65cea9,#63ceae,#62ceb3,#60cdbc,#5ec7c6,#5dc2ce,#5dc0d3,#5dc1d0,#5ec4cc,#5ec5ca,#5ec5ca)"></i><i style="top:1.50px;background:linear-gradient(90deg,#62cfb4,#96d055,#b8d33f,#b8d33f,#b4d540,#a7d349,#94d056,#85ce63,#7ccd73,#6bcc95,#65cda8,#64ceab,#65cda8,#65cda7,#68cd9f,#69cc9c,#63ceaf,#60cebb,#60cdbc,#60cdbd,#60cdbd,#60cdbd)"></i><i style="top:3.00px;background:linear-gradient(90deg,#62cfb4,#94d055,#d8c13b,#d8c13b,#d7c43b,#d0c83b,#c4ce3d,#b5d540,#a6d34a,#96d054,#87ce60,#7dcd71,#73cc83,#6bcc96,#65ceaa,#60cebb,#5fcac1,#60cdbd,#61cfb4,#63ceaf,#63ceae,#63ceaf)"></i><i style="top:4.51px;background:linear-gradient(90deg,#62cfb4,#91cf58,#e2b43f,#e2b43f,#dfb73e,#dbbd3d,#d5c63a,#c5cd3d,#b3d541,#a0d24e,#8ccf5b,#7fcd6e,#74cc81,#6ccb92,#67cda1,#61cfb4,#5ec6c7,#5dc0d2,#5dc2cf,#5fcac1,#62ceb2,#65cda8)"></i><i style="top:6.01px;background:linear-gradient(90deg,#65cda8,#e1b53f,#e1b53f,#e1b53f,#deb93e,#d9c13b,#cdca3c,#b7d33f,#9fd24f,#88ce5e,#7ecd70,#73cc84,#69cc9b,#62ceb2,#5ec6c8,#5cbad6,#5ba9d2,#5b98cd,#5b9ecf,#5cafd4,#5cb6d5,#5cb9d6)"></i><i style="top:7.51px;background:linear-gradient(90deg,#62ceb2,#e2b33f,#e3b240,#e3b240,#e1b53f,#dcbc3d,#d6c43b,#c8cc3c,#b8d33f,#acd446,#a1d24d,#92d057,#7fcd6f,#6bcc94,#62cfb4,#5ec4cc,#5cb9d6,#5cafd4,#5ba7d2,#5b9dcf,#5b92cb,#5b8cc9)"></i><i style="top:9.01px;background:linear-gradient(90deg,#62cfb4,#b5d540,#e8af42,#e8ae42,#e6ae41,#e0b73e,#d7c33b,#c3ce3d,#abd446,#91cf58,#7acc76,#6bcb93,#68cc9d,#67cda2,#67cda3,#68cc9e,#66cda4,#62ceb2,#60cfb9,#60ceba,#60ceba,#60ceba)"></i><i style="top:10.52px;background:linear-gradient(90deg,#62cfb4,#d6c53a,#e5b041,#e4b040,#e2b43f,#dcbc3d,#d5c63a,#c1cf3e,#a9d347,#8ecf5a,#7bcd76,#6ccb92,#65cda8,#60cfb9,#5fc9c3,#5ec7c6,#5fc9c3,#5fccbe,#60cdbc,#5fcbbf,#5fc8c4,#5ec7c7)"></i><i style="top:12.02px;background:linear-gradient(90deg,#62cfb4,#d1c83b,#e1b43f,#e1b53f,#dfb83e,#dbbe3c,#d4c63a,#b7d33f,#89ce5d,#7fcd6e,#74cc82,#6ccb91,#6bcc95,#69cc9b,#64ceab,#5fcac1,#5ec5ca,#5fc9c3,#60cebb,#60cfb8,#60cfb8,#60cfb8)"></i><i style="top:13.52px;background:linear-gradient(90deg,#62cfb4,#76cc7f,#79cc79,#79cc79,#79cc79,#78cc7a,#76cc7e,#73cc84,#6fcb8b,#6ccb92,#6acc98,#68cc9e,#67cda3,#65cda7,#63ceaf,#60cebb,#5ec6c7,#5dc1d1,#5cbed5,#5dc0d2,#5ec5c9,#5fcbc0)"></i><i style="top:15.02px;background:linear-gradient(90deg,#62cfb4,#77cc7c,#7ecd70,#7ecd70,#7ecd71,#7dcd72,#7acc77,#76cc7e,#71cb87,#6dcb8f,#6bcc93,#6ccb91,#6fcb8a,#6ecb8d,#6acc98,#68cda0,#67cda3,#65cea9,#61cfb4,#60ceba,#61cfb4,#65cda8)"></i><i style="top:16.53px;background:linear-gradient(90deg,#62ceb1,#74cc81,#74cc81,#74cc81,#74cc81,#73cc83,#71cb87,#6ecb8c,#6ccb92,#6acc97,#68cc9e,#64ceaa,#5fccbe,#5ec5c9,#5ec5c9,#5dc2cf,#5cbed6,#5cb9d6,#5cb8d6,#5cbbd7,#5cbfd4,#5dc1d0)"></i><i style="top:18.03px;background:linear-gradient(90deg,#62ceb2,#6ccb90,#6ccb90,#6ccb91,#6ccb91,#6ccb92,#6bcc95,#6acc97,#6ccb90,#6ecb8d,#68cda0,#61cfb4,#5fcbc0,#5ec8c5,#5ec7c6,#5fc8c4,#5fc8c4,#5ec5c9,#5dc1d0,#5cbdd6,#5cbbd6,#5cb9d6)"></i><i style="top:19.53px;background:linear-gradient(90deg,#62cfb4,#d2c73b,#deb93e,#ddba3e,#d7c43b,#bdd13e,#99d152,#78cc7a,#66cda4,#5fc9c3,#5cbad6,#5caed3,#5ba5d1,#5b9dcf,#5b98cd,#5b95cc,#5b91cb,#5b90cb,#5b92cb,#5b95cc,#5b98cd,#5b9ace)"></i><i style="top:21.03px;background:linear-gradient(90deg,#62cfb4,#bcd13f,#e2b43f,#e1b53f,#dbbe3d,#cbca3c,#aed444,#8ecf5a,#74cc81,#65cda8,#5ec6c8,#5cb4d5,#5ba5d1,#5b9ecf,#5b9bce,#5ba0d0,#5bacd3,#5cb7d5,#5cbdd7,#5cbed5,#5cbfd4,#5cbed5)"></i><i style="top:22.54px;background:linear-gradient(90deg,#62cfb4,#aed444,#d2c73b,#d1c83b,#c9cc3c,#b7d43f,#a0d24e,#89ce5d,#79cc79,#6acc99,#60cfba,#5cbfd4,#5cafd3,#5ba6d1,#5ba0d0,#5b98cd,#5b91cb,#5b97cd,#5ba3d1,#5ba9d2,#5ba9d2,#5ba9d2)"></i><i style="top:24.04px;background:linear-gradient(90deg,#62cfb4,#d6c53a,#dcbc3d,#dbbe3c,#d4c63a,#bbd23f,#9bd151,#7bcd76,#65cea9,#5cb7d5,#5b92cb,#5b85c7,#5b86c7,#5b8ac9,#5b8dca,#5b90cb,#5b95cc,#5b9bce,#5b9dcf,#5b99ce,#5b90cb,#5b86c7)"></i><i style="top:25.54px;background:linear-gradient(90deg,#62cfb4,#9ed24f,#e6ae41,#e4b041,#deb93e,#d0c83b,#b0d443,#8dcf5a,#72cc85,#63ceae,#5dc2cf,#5babd3,#5b9bce,#5b96cd,#5b97cd,#5ba1d0,#5ba5d1,#5ba0d0,#5ba3d0,#5ba8d2,#5badd3,#5caed3)"></i><i style="top:27.04px;background:linear-gradient(90deg,#62cfb4,#a1d24d,#d7c43b,#d6c53a,#cdca3b,#b8d33f,#9dd150,#80cd6d,#67cda3,#5cbcd7,#5cadd3,#5b98cd,#5b86c7,#5b83c6,#5b90cb,#5babd3,#5cb5d5,#5cb2d4,#5cb6d5,#5cb8d6,#5cb8d6,#5cb6d5)"></i><i style="top:28.54px;background:linear-gradient(90deg,#62cfb4,#d7c43b,#ddba3d,#dcbc3d,#d4c63a,#b7d43f,#91cf58,#6fcb8a,#60cebb,#5caed3,#5b8eca,#5b7dc4,#5b7cc4,#5b7fc5,#5b88c8,#5b93cc,#5b9ecf,#5baad2,#5cb6d5,#5cbed5,#5dbfd3,#5cbcd7)"></i><i style="top:30.05px;background:linear-gradient(90deg,#62cfb4,#9ed24f,#dcbc3d,#dbbe3d,#d4c63a,#bad23f,#99d152,#76cc7e,#5ec7c7,#5b8dca,#5b8dca,#5b92cb,#5b8bc9,#5b88c8,#5b8cc9,#5b94cc,#5b9dcf,#5ba5d1,#5babd2,#5cadd3,#5bacd3,#5baad2)"></i><i style="top:31.55px;background:linear-gradient(90deg,#62cfb4,#d4c63a,#e8ab42,#e7ad41,#e1b53f,#d6c43b,#bbd23f,#9bd151,#80cd6d,#6dcb8f,#66cda6,#61cfb7,#5fcac1,#5ec7c7,#5ec6c8,#5ec6c9,#5ec6c8,#5ec8c4,#5fcac1,#5fcbbf,#5fcbc0,#5fc9c3)"></i><i style="top:33.05px;background:linear-gradient(90deg,#63ceaf,#d3c73a,#d3c73a,#d2c73b,#cacb3c,#b9d33f,#a3d24c,#88ce5e,#73cc84,#64ceac,#5cbfd3,#5ba5d1,#5b93cc,#5b88c8,#5b81c6,#5b86c7,#5b96cd,#5ba1d0,#5ba7d1,#5ba9d2,#5ba7d2,#5ba4d1)"></i><i style="top:34.55px;background:linear-gradient(90deg,#62cfb4,#86ce62,#bfd03e,#bfd03e,#bbd23f,#b1d542,#a3d24c,#91cf58,#81cd6b,#73cc83,#69cc9a,#63ceae,#5fcac1,#5dc1d0,#5cb6d5,#5babd2,#5ba2d0,#5ba1d0,#5ba7d2,#5cb0d4,#5cb6d5,#5cb9d6)"></i><i style="top:36.06px;background:linear-gradient(90deg,#62cfb4,#92d057,#acd445,#acd445,#aad346,#a4d24b,#99d153,#89ce5d,#7dcd71,#70cb88,#69cc9b,#65ceaa,#61cfb4,#60ceba,#60cdbc,#60cfba,#63ceb0,#67cda1,#6ccb92,#6fcb8a,#6fcb8a,#6dcb8e)"></i><i style="top:37.56px;background:linear-gradient(90deg,#62cfb4,#7ecd70,#b1d542,#b1d542,#aed444,#a4d24b,#93d056,#84ce65,#7dcd72,#78cc7a,#6ccb91,#64ceab,#60cdbc,#5fccbf,#60cebb,#61cfb5,#61cfb5,#61cfb5,#64ceab,#65ceaa,#63ceb0,#60cfb7)"></i><i style="top:39.06px;background:linear-gradient(90deg,#62cfb4,#afd443,#c2cf3d,#c2cf3d,#bed03e,#b3d541,#a3d24b,#93d057,#83cd67,#6fcb8b,#65cda9,#61cfb6,#60cebb,#60cdbc,#60ceba,#60cfb9,#61cfb6,#62ceb3,#63ceaf,#63ceae,#63ceb0,#62ceb3)"></i><i style="top:40.56px;background:linear-gradient(90deg,#62cfb4,#7acc77,#a6d34a,#a6d34a,#a5d34b,#9ed24f,#93d056,#86ce61,#7ccd73,#71cb87,#6acc99,#64ceab,#60cdbc,#5ec6c7,#5ec4cb,#5ec5c9,#5ec7c6,#5fc9c3,#5fccbe,#60cfb9,#61cfb5,#62ceb3)"></i><i style="top:42.07px;background:linear-gradient(90deg,#63ceb0,#b8d33f,#b8d33f,#b8d33f,#b5d440,#add445,#9fd24e,#89ce5e,#77cc7c,#6bcc96,#67cda3,#63ceae,#61cfb6,#60cdbd,#5fcbbf,#5fcbc0,#5fcac1,#5fcbc0,#60cdbd,#60cfb9,#60cfb8,#60cebb)"></i><i style="top:43.57px;background:linear-gradient(90deg,#63ceb0,#b0d443,#b0d443,#b0d443,#aed444,#a7d349,#9bd151,#8ccf5b,#80cd6c,#74cc81,#6acc99,#60cfb8,#5dc3ce,#5dc3cd,#5ec6c8,#5ec6c9,#5ec6c8,#5ec8c4,#5fccbf,#60cfb9,#62cfb4,#63ceb0)"></i><i style="top:45.07px;background:linear-gradient(90deg,#62cfb4,#92d057,#c3ce3d,#c3ce3d,#c0d03e,#b6d440,#a8d348,#94d056,#7dcd72,#6ccb90,#69cc9d,#64ceab,#5fcdbd,#5dc2ce,#5cb9d6,#5cb3d4,#5cb1d4,#5cb3d5,#5cb8d6,#5cbad6,#5cb9d6,#5cb7d6)"></i><i style="top:46.57px;background:linear-gradient(90deg,#65ceaa,#c8cc3c,#c8cc3c,#c8cc3c,#c3ce3d,#b7d440,#a6d34a,#91cf58,#7fcd6e,#73cc84,#6bcb93,#69cc9b,#68cc9e,#69cc9c,#6bcc95,#6fcb8a,#77cc7c,#7bcd75,#7ccd74,#79cc78,#76cc7e,#73cc84)"></i><i style="top:48.07px;background:linear-gradient(90deg,#63ceb0,#b4d540,#b5d540,#b4d540,#b2d541,#aad347,#9ed24f,#8ecf5a,#7fcd6d,#6fcb8a,#65cda8,#5fcbc0,#5ec6c8,#5ec6c8,#5ec6c7,#5fc8c4,#5fcac2,#5fcbc0,#5fccbe,#5fcdbd,#5fcdbd,#5fccbe)"></i><i style="top:49.58px;background:linear-gradient(90deg,#62cfb4,#b2d542,#bbd23f,#bad23f,#b6d440,#a8d348,#92d057,#79cc78,#68cd9e,#60cfb9,#5ec4cc,#5cb3d4,#5cb3d4,#5dc3cc,#5fcbbf,#63ceb0,#68cc9e,#67cda0,#64ceab,#63ceae,#63ceaf,#63ceb0)"></i><i style="top:51.08px;background:linear-gradient(90deg,#62ceb3,#a4d24b,#a5d34a,#a5d34a,#a3d24c,#9cd150,#90cf59,#83cd67,#77cc7c,#6ccb92,#66cda7,#60cebb,#5ec5ca,#5dc0d3,#5dc1d1,#5ec5c9,#5fc9c3,#5fcbc0,#5fc9c2,#5ec8c5,#5ec7c6,#5fc8c4)"></i><i style="top:52.58px;background:linear-gradient(90deg,#62cfb4,#a9d348,#b0d443,#b0d443,#add445,#a2d24c,#91cf58,#81cd6a,#75cc80,#6bcc95,#66cda4,#63ceb0,#60cdbc,#61cfb5,#68cd9f,#6ccb93,#6dcb8e,#6fcb8b,#70cb88,#71cb86,#72cc86,#72cc86)"></i><i style="top:54.08px;background:linear-gradient(90deg,#63ceae,#a6d349,#a6d34a,#a6d34a,#a4d24b,#9cd150,#8fcf59,#82cd68,#77cc7c,#6dcb8f,#69cc9c,#66cda6,#63ceae,#63ceb1,#63ceaf,#64ceac,#63ceb0,#60cebb,#5fccbd,#63ceae,#66cda6,#62cfb4)"></i><i style="top:55.59px;background:linear-gradient(90deg,#62cfb4,#a2d24c,#aed444,#aed444,#acd446,#a4d24b,#97d053,#87ce5f,#7ccd73,#70cb89,#69cc9a,#65cda9,#61cfb6,#5ec8c5,#5dc1d1,#5dc3cd,#5fccbe,#61cfb4,#62ceb3,#60cebb,#5ec7c7,#5ec5ca)"></i><i style="top:57.09px;background:linear-gradient(90deg,#62cfb4,#7fcd6e,#90cf58,#90cf59,#8ecf5a,#89ce5e,#82cd69,#79cc79,#6ecb8c,#69cc9b,#65cda7,#63ceb1,#61cfb5,#61cfb5,#62ceb1,#63ceb0,#63ceb0,#64ceab,#66cda5,#67cda1,#68cc9d,#69cc9b)"></i><i style="top:58.59px;background:linear-gradient(90deg,#62ceb4,#90cf58,#93d057,#92d057,#91cf58,#8ace5d,#82cd69,#7bcd75,#76cc7e,#6ccb90,#64ceab,#5fc9c3,#5dc0d2,#5cbed6,#5cbed5,#5cbdd6,#5cbed6,#5dc0d2,#5dc2ce,#5ec7c7,#60cdbc,#60cfb8)"></i><i style="top:60.09px;background:linear-gradient(90deg,#62ceb2,#93d056,#93d056,#93d057,#91cf58,#8bce5c,#83cd67,#79cc79,#6ccb91,#65cda8,#5fcbbf,#5dc0d1,#5cbad6,#5cbcd7,#5ec4cb,#60cebb,#63ceae,#66cda6,#67cda3,#64ceaa,#60cfba,#61cfb6)"></i><i style="top:61.60px;background:linear-gradient(90deg,#62cfb4,#7acc76,#a5d34a,#a5d34a,#a3d24b,#9cd150,#91cf58,#84ce66,#79cc79,#6ccb90,#66cda6,#5fcdbd,#5dbfd3,#5badd3,#5b9ecf,#5b97cd,#5b97cd,#5b9ecf,#5ba9d2,#5cb5d5,#5cbed6,#5dc2cf)"></i><i style="top:63.10px;background:linear-gradient(90deg,#62cfb4,#88ce5f,#a3d24c,#a2d24c,#a1d24d,#9ad152,#8fcf59,#83cd67,#76cc7e,#6acc97,#65cda8,#61cfb6,#5fc9c3,#5ec6c7,#5dc2cf,#5cb5d5,#5cafd3,#5cadd3,#5baad2,#5b9ecf,#5b95cc,#5b9fd0)"></i><i style="top:64.60px;background:linear-gradient(90deg,#62cfb4,#82cd69,#8dcf5b,#8dcf5b,#8ccf5b,#88ce5e,#83cd67,#7dcd71,#78cc7b,#70cb88,#6acc96,#67cda3,#64cead,#62ceb2,#62ceb3,#63ceb0,#63ceae,#63ceae,#60cfba,#5ec7c6,#60cfb9,#64ceaa)"></i><i style="top:66.10px;background:linear-gradient(90deg,#63ceae,#afd443,#afd443,#afd444,#add445,#a6d34a,#9bd151,#8ccf5b,#7fcd6d,#73cc84,#6acc98,#65cda9,#62ceb3,#61cfb7,#62ceb3,#65ceaa,#68cd9e,#6bcc94,#6ecb8d,#6dcb8e,#6dcb8f,#6dcb8f)"></i><i style="top:67.61px;background:linear-gradient(90deg,#62cfb4,#9bd151,#9fd24f,#9ed24f,#9ed14f,#99d153,#90cf58,#86ce62,#7fcd6e,#7ccd73,#7acc76,#70cb89,#65cea9,#5fcac1,#5ec8c5,#5ec7c6,#5ec5ca,#5dc1d0,#5cbed5,#5cbed6,#5dc0d2,#5dc3cd)"></i><i style="top:69.11px;background:linear-gradient(90deg,#62cfb4,#84ce64,#9dd150,#9dd150,#9cd150,#95d055,#87ce60,#78cc7b,#69cc9c,#61cfb7,#5ec8c5,#5dc3ce,#5dc0d1,#5dc1d1,#5dc1d0,#5dc2ce,#5dc3cd,#5dc3cd,#5dc2cf,#5dc0d2,#5cbed5,#5cbed6)"></i><i style="top:70.61px;background:linear-gradient(90deg,#62cfb4,#a4d34b,#a9d348,#a9d348,#a8d348,#a1d24d,#97d054,#89ce5d,#7fcd6e,#73cc84,#69cc9c,#61cfb5,#5ec6c7,#5dc1d0,#5dc0d3,#5cbfd4,#5cbad6,#5cb3d5,#5cb7d5,#5cb9d6,#5cbcd7,#5cbed5)"></i><i style="top:72.11px;background:linear-gradient(90deg,#62cfb4,#88ce5f,#92d057,#92d057,#92d058,#8dcf5b,#86ce62,#7fcd6e,#7acc77,#6ccb91,#64ceab,#60cdbc,#5ec6c9,#5dc1d0,#5dc1d0,#5dc3cd,#5dc3cc,#5dc3cd,#5dc3cc,#5dc4cc,#5ec4cc,#5ec4cc)"></i><i style="top:73.61px;background:linear-gradient(90deg,#64cead,#b5d440,#b5d440,#b5d440,#b3d541,#acd445,#a2d24d,#9ad152,#92d057,#82cd68,#72cc84,#69cc9a,#64ceac,#61cfb6,#61cfb6,#62ceb1,#63ceae,#64ceaa,#65cda8,#66cda6,#65cda7,#65ceaa)"></i><i style="top:75.12px;background:linear-gradient(90deg,#62cfb4,#a1d24d,#afd443,#afd443,#aed444,#a8d348,#9dd14f,#90cf59,#82cd68,#76cc7e,#6ccb92,#66cda4,#5fcac2,#5ba5d1,#5b8dca,#5b9ecf,#5caed3,#5cafd3,#5caed3,#5caed3,#5caed3,#5caed3)"></i><i style="top:76.62px;background:linear-gradient(90deg,#62cfb4,#72cc86,#8fcf59,#8fcf59,#8fcf5a,#8bce5c,#84ce66,#76cc7f,#68cd9f,#60cfb8,#5fcbc0,#5fcbbf,#60cdbc,#60cebb,#60ceba,#60cfb9,#60cfb9,#60cfb7,#62cfb4,#63ceae,#66cda5,#68cc9e)"></i><i style="top:78.12px;background:linear-gradient(90deg,#62cfb4,#a2d24c,#b1d542,#b1d542,#b0d443,#aad347,#9fd24e,#92d057,#85ce64,#7bcd75,#71cb87,#6bcc96,#67cda1,#65ceaa,#63ceb0,#62ceb3,#62cfb4,#61cfb6,#60cfb9,#5fccbe,#5fcac1,#5fc9c2)"></i><i style="top:79.62px;background:linear-gradient(90deg,#62cfb4,#a1d24d,#d8c23b,#d8c23b,#d5c63a,#c8cc3c,#b7d43f,#abd446,#a3d24c,#90cf58,#78cc7b,#67cda1,#5fcbc0,#5cbbd7,#5bacd3,#5ba4d1,#5b9ecf,#5b9bce,#5b99ce,#5b94cc,#5b8fca,#5b8bc9)"></i><i style="top:81.13px;background:linear-gradient(90deg,#62cfb4,#cec93b,#e1b43f,#e1b53f,#dcbc3d,#d3c73a,#bbd23f,#a1d24d,#85ce63,#71cb87,#66cda6,#5fc9c3,#5cbbd7,#5cb2d4,#5cafd3,#5babd2,#5ba8d2,#5ba8d2,#5ba8d2,#5baad2,#5bacd3,#5cadd3)"></i><i style="top:82.63px;background:linear-gradient(90deg,#62cfb4,#cfc93b,#dcbc3d,#dcbd3d,#d8c23b,#ccca3c,#b7d43f,#a0d24d,#87ce5f,#76cc7f,#68cc9d,#60cfb8,#5dc1d1,#5bacd3,#5b99ce,#5b8ac9,#5b83c6,#5b87c8,#5b8fca,#5b98cd,#5ba0d0,#5ba5d1)"></i><i style="top:84.13px;background:linear-gradient(90deg,#62cfb4,#ddbb3d,#e7ad41,#e6ae41,#e0b63f,#d6c43b,#bdd13e,#a0d24d,#81cd6a,#6bcc96,#61cfb6,#5ec5ca,#5dc0d3,#5cbed6,#5cbad6,#5cb6d5,#5cb3d5,#5cb3d5,#5cb6d5,#5cbcd7,#5cbed5,#5cbed6)"></i><i style="top:85.63px;background:linear-gradient(90deg,#62ceb2,#deba3e,#dfb83e,#dfb83e,#dbbe3c,#d2c83b,#bcd13f,#a2d24d,#84ce66,#6dcb8f,#63ceae,#5ec6c7,#5cbcd7,#5cb5d5,#5cb3d4,#5cb0d4,#5baad2,#5ba6d1,#5ba6d1,#5ba8d2,#5bacd3,#5cafd4)"></i><i style="top:87.14px;background:linear-gradient(90deg,#62cfb4,#9fd24f,#d5c63a,#d4c63a,#cfc93b,#c4ce3d,#b3d541,#a0d24e,#8bce5c,#7bcd76,#6bcc94,#63ceaf,#5ec5c9,#5cb3d4,#5b9ecf,#5b91cb,#5b8dca,#5b91cb,#5b92cb,#5b8fca,#5b91cb,#5b95cc)"></i><i style="top:88.64px;background:linear-gradient(90deg,#62ceb3,#e0b73f,#e2b43f,#e1b43f,#deb93e,#d8c23b,#c9cb3c,#bad23f,#acd445,#9ad152,#81cd6a,#6dcb90,#63ceaf,#5ec4cb,#5cb3d4,#5ba3d1,#5b99ce,#5b94cc,#5b93cc,#5b96cd,#5b99ce,#5b9ecf)"></i><i style="top:90.14px;background:linear-gradient(90deg,#62cfb4,#aed444,#d1c83b,#d1c83b,#cdca3b,#c3ce3d,#b6d440,#add445,#a3d24c,#8bcf5c,#77cc7d,#69cc9c,#60cfb9,#5dbfd3,#5baad2,#5b97cd,#5b8ac9,#5b80c5,#5b7dc4,#5b7dc4,#5b80c5,#5b84c7)"></i><i style="top:91.64px;background:linear-gradient(90deg,#64cead,#deba3e,#deba3e,#ddba3e,#dbbe3c,#d5c63a,#c5cd3d,#b2d542,#9fd24f,#8ccf5b,#7fcd6d,#76cc7f,#6ecb8b,#6bcb93,#68cd9f,#62ceb2,#5ec8c4,#5dc1d0,#5cbfd4,#5dc0d3,#5dc2cf,#5ec5ca)"></i><i style="top:93.14px;background:linear-gradient(90deg,#62cfb4,#b6d440,#d9c03c,#d9c03c,#d6c53a,#c6cd3d,#b0d443,#96d054,#7ccd73,#6acc99,#60cfb8,#5dc0d2,#5badd3,#5b9dcf,#5b90cb,#5b84c7,#5b7bc3,#5a72bf,#5966ba,#5966ba,#5a70be,#5b77c2)"></i><i style="top:94.65px;background:linear-gradient(90deg,#62cfb4,#dbbd3d,#e7ac42,#e7ad41,#e3b340,#dbbd3d,#cdc93b,#b8d33f,#a7d349,#97d054,#82cd69,#6ecb8b,#64ceaa,#5ec6c7,#5cb4d5,#5ba2d0,#5b93cc,#5b8bc9,#5b8ac9,#5b91cb,#5b9bce,#5ba6d1)"></i><i style="top:96.15px;background:linear-gradient(90deg,#62cfb4,#dbbd3d,#e7ad41,#e6ae41,#e1b53f,#d8c23b,#c3ce3d,#a7d349,#87ce5f,#70cb89,#64ceab,#5ec8c5,#5cbed5,#5cbad6,#5cbdd7,#5cb9d6,#5caed3,#5ba5d1,#5ba2d0,#5ba3d0,#5ba5d1,#5ba9d2)"></i><i style="top:97.65px;background:linear-gradient(90deg,#62cfb4,#91cf58,#e6ae41,#e5af41,#e1b53f,#dabf3c,#cacb3c,#b1d542,#99d152,#83cd67,#71cb87,#66cda4,#5fcbc0,#5cbbd6,#5ba5d1,#5b94cc,#5b8ac9,#5b87c8,#5b8bc9,#5b93cc,#5b9dcf,#5ba9d2)"></i><i style="top:99.15px;background:linear-gradient(90deg,#62cfb4,#cec93b,#dcbc3d,#dcbd3d,#d8c13b,#cec93b,#bad23f,#a4d24b,#8ace5d,#77cc7d,#69cc9b,#61cfb4,#5ec5ca,#5cb6d5,#5ba7d2,#5b9bce,#5b93cc,#5b8fca,#5b91cb,#5b95cc,#5b99ce,#5b9dcf)"></i><i style="top:100.66px;background:linear-gradient(90deg,#62cfb4,#d8c23b,#deb93e,#deba3e,#dac03c,#cdc93b,#b6d440,#a0d24e,#87ce60,#74cc82,#66cda4,#5ec8c4,#5cb4d5,#5b9fcf,#5b90cb,#5b85c7,#5b7fc5,#5b7ec4,#5b7ec5,#5b7fc5,#5b80c5,#5b82c6)"></i><i style="top:102.16px;background:linear-gradient(90deg,#62cfb4,#82cd69,#afd443,#afd443,#add445,#a4d24b,#96d055,#85ce63,#78cc7b,#6bcc94,#64ceaa,#5fcbbf,#5dc1d0,#5cb9d6,#5cb2d4,#5caed3,#5caed3,#5cb3d4,#5cb7d6,#5cb8d6,#5cb8d6,#5cb9d6)"></i><i style="top:103.66px;background:linear-gradient(90deg,#62ceb1,#b3d541,#b4d540,#b4d540,#b2d542,#aad347,#9fd24e,#90cf59,#82cd68,#76cc7e,#6acc98,#62ceb2,#5ec4cb,#5cb5d5,#5baad2,#5ba8d2,#5ba9d2,#5babd3,#5cadd3,#5badd3,#5babd3,#5badd3)"></i><i style="top:105.16px;background:linear-gradient(90deg,#62cfb4,#7bcd75,#a8d348,#a8d348,#a6d349,#a0d24d,#96d055,#88ce5e,#7fcd6e,#75cc80,#6ccb93,#67cda2,#63ceaf,#60cfb8,#60cdbd,#5fccbf,#5fcac2,#5ec7c7,#5dc4cc,#5dc1d1,#5cbfd4,#5cbed5)"></i><i style="top:106.67px;background:linear-gradient(90deg,#62ceb3,#abd446,#aed444,#aed444,#add445,#a6d349,#9bd151,#88ce5e,#78cc7b,#6acc99,#63ceb0,#5ec7c6,#5cb7d5,#5ba0d0,#5b90cb,#5b8cc9,#5b91cb,#5b9dcf,#5ba9d2,#5cb2d4,#5cb7d6,#5cbad6)"></i><i style="top:108.17px;background:linear-gradient(90deg,#62cfb4,#78cc7a,#aad347,#aad347,#a9d348,#a2d24c,#98d153,#8ace5c,#7ecd70,#6dcb8e,#63ceae,#5dc2cf,#5babd2,#5b99ce,#5b8fca,#5b8bc9,#5b89c8,#5b87c8,#5b88c8,#5b89c8,#5b89c8,#5b89c8)"></i><i style="top:109.67px;background:linear-gradient(90deg,#62cfb4,#7ccd73,#bad23f,#bad23f,#b7d43f,#aed444,#a1d24d,#91cf58,#81cd6b,#70cb8a,#68cd9f,#64ceab,#60cfb8,#5fccbe,#60cfba,#63ceb0,#64ceab,#63ceae,#63ceb1,#62ceb1,#63ceb1,#63ceb0)"></i><i style="top:111.17px;background:linear-gradient(90deg,#62cfb4,#a7d349,#afd443,#afd443,#aed444,#a7d349,#9dd150,#90cf59,#85ce64,#7dcd71,#75cc7f,#6dcb8e,#69cc9c,#63ceae,#5fc8c4,#5cbcd7,#5cb2d4,#5cb4d5,#5cbdd6,#5dc3cc,#5ec7c6,#5fc8c4)"></i><i style="top:112.68px;background:linear-gradient(90deg,#62cfb4,#a4d24b,#b8d33f,#b8d33f,#b5d540,#abd446,#9cd150,#89ce5d,#78cc7a,#6bcc95,#65cda9,#60cdbc,#5dc3cd,#5cbdd7,#5cbcd7,#5dc0d1,#5ec4cc,#5dc0d2,#5cb7d5,#5cb1d4,#5cb0d4,#5cafd4)"></i><i style="top:114.18px;background:linear-gradient(90deg,#62cfb4,#8ecf5a,#a7d349,#a7d349,#a6d349,#a1d24d,#97d054,#8bce5c,#81cd6b,#78cc7b,#6dcb8f,#67cda0,#62ceb1,#5fc9c3,#5dc1d1,#5cbbd7,#5bacd3,#5b97cd,#5b8bc9,#5b88c8,#5b89c8,#5b8bc9)"></i><i style="top:115.68px;background:linear-gradient(90deg,#62cfb4,#7ccd73,#84ce66,#84ce66,#84ce66,#81cd6b,#7acc77,#6ccb91,#62ceb1,#5cbfd4,#5ba6d1,#5b92cb,#5b8fca,#5b9ace,#5ba6d1,#5caed3,#5cb2d4,#5cb5d5,#5cb5d5,#5cb5d5,#5cb5d5,#5cb4d5)"></i><i style="top:117.18px;background:linear-gradient(90deg,#62ceb2,#70cb88,#70cb88,#70cb88,#70cb88,#6fcb8a,#6dcb90,#69cc9a,#65cda9,#60ceba,#5ec4cb,#5cbcd7,#5cb5d5,#5cb1d4,#5cafd4,#5cb0d4,#5cb1d4,#5cb0d4,#5babd3,#5b9fd0,#5b97cd,#5ba0d0)"></i><i style="top:118.68px;background:linear-gradient(90deg,#63ceaf,#7ecd6f,#7ecd6f,#7ecd6f,#7ecd6f,#7acc77,#6fcb8a,#68cd9e,#62ceb2,#5fcac1,#5ec6c8,#5ec4cb,#5dc3cd,#5ec7c7,#5fccbd,#5fc9c3,#5dc1d0,#5dc0d2,#5dc3ce,#5ec4cb,#5ec4cb,#5dc4cc)"></i><i style="top:120.19px;background:linear-gradient(90deg,#63ceaf,#7fcd6f,#7fcd6f,#7fcd6f,#7fcd6f,#7ccd74,#74cc82,#68cd9f,#5ec5ca,#5ba6d1,#5b9ecf,#5ba5d1,#5cb0d4,#5cbcd7,#5ec4cc,#5fcac2,#60cdbc,#60cfb9,#60cfb8,#60cfb9,#60cfba,#60cebb)"></i><i style="top:121.69px;background:linear-gradient(90deg,#62cfb4,#6acc99,#71cb87,#71cb87,#71cb87,#70cb89,#6ccb91,#69cc9d,#64ceac,#60cebb,#5ec8c4,#5ec6c8,#5ec6c7,#5fc9c3,#5fccbe,#60cfb9,#62ceb1,#66cda5,#68cc9e,#67cda3,#63ceaf,#60cfb8)"></i><i style="top:123.19px;background:linear-gradient(90deg,#62cfb4,#78cc7b,#7bcd74,#7bcd74,#7bcd74,#79cc79,#73cc84,#6ccb91,#68cc9d,#65cda8,#64cead,#64ceaa,#67cda3,#6acc98,#6dcb8e,#70cb88,#6ccb90,#69cc9a,#68cda0,#67cda3,#68cd9f,#6ccb92)"></i><i style="top:124.69px;background:linear-gradient(90deg,#62cfb4,#7dcd71,#7fcd6f,#7fcd6f,#7fcd6f,#7dcd72,#79cc79,#76cc7e,#75cc80,#72cc85,#68cc9d,#5fcbc0,#5cb7d6,#5cafd4,#5cb4d5,#5cb9d6,#5cbcd7,#5cbdd6,#5cbdd6,#5cbdd7,#5cbcd7,#5cbbd6)"></i><i style="top:126.20px;background:linear-gradient(90deg,#62cfb4,#79cc79,#7acc77,#7acc77,#7acc77,#78cc7b,#73cc84,#6ccb90,#69cc9b,#66cda5,#64ceac,#63ceae,#63ceaf,#63ceaf,#64ceaa,#67cda3,#68cd9f,#69cc9d,#68cc9e,#67cda3,#64ceab,#62ceb3)"></i><i style="top:127.70px;background:linear-gradient(90deg,#62cfb4,#6bcc94,#6dcb8e,#6dcb8e,#6dcb8e,#6dcb8f,#6bcc95,#68cd9e,#65cda8,#63ceaf,#62ceb2,#62ceb1,#63ceb0,#64cead,#65cea9,#66cda5,#67cda2,#67cda2,#66cda4,#65cda8,#64ceab,#63ceae)"></i><i style="top:129.20px;background:linear-gradient(90deg,#62cfb4,#6dcb8e,#82cd68,#82cd68,#82cd68,#80cd6d,#79cc78,#72cc86,#6bcb93,#68cc9d,#66cda5,#65cda7,#67cda2,#6acc97,#6ccb90,#6ccb91,#6dcb90,#71cb86,#79cc7a,#80cd6c,#86ce62,#86ce62)"></i><i style="top:130.70px;background:linear-gradient(90deg,#62cfb4,#74cc81,#76cc7e,#76cc7e,#76cc7e,#75cc80,#71cb87,#6ccb91,#68cc9d,#64ceab,#61cfb6,#60cdbc,#60cebb,#60ceba,#5fcbbf,#5ec8c5,#5ec5ca,#5dc0d2,#5cbcd7,#5cbdd7,#5cbfd4,#5dc1d1)"></i><i style="top:132.21px;background:linear-gradient(90deg,#62ceb2,#7bcd76,#7bcd75,#7bcd75,#7bcd75,#79cc78,#75cc80,#72cc85,#71cb87,#6ecb8c,#69cc9c,#62ceb2,#60cdbc,#62ceb1,#68cd9f,#6bcc95,#6ccb90,#6dcb8e,#6dcb8e,#6ccb90,#6bcc94,#6acc99)"></i><i style="top:133.71px;background:linear-gradient(90deg,#62cfb4,#6fcb8b,#77cc7c,#77cc7c,#77cc7b,#76cc7f,#72cc86,#6dcb8e,#6bcb93,#6acc96,#6bcc96,#6ccb91,#70cb88,#75cc7f,#7acc77,#7fcd6d,#87ce60,#89ce5d,#83cd67,#74cc81,#6ccb91,#71cb87)"></i><i style="top:135.21px;background:linear-gradient(90deg,#62ceb3,#b1d542,#b3d540,#b3d540,#b1d542,#a8d348,#99d153,#83cd67,#71cb87,#68cc9d,#68cd9f,#6acc98,#6ccb93,#6ecb8c,#73cc84,#74cc81,#75cc80,#74cc81,#74cc82,#72cc85,#6fcb8a,#6dcb8f)"></i><i style="top:136.71px;background:linear-gradient(90deg,#62ceb1,#9ad152,#9ad152,#9ad152,#9ad152,#94d056,#8ace5d,#82cd69,#7bcd76,#76cc7e,#74cc82,#74cc81,#77cc7d,#77cc7c,#76cc7f,#73cc83,#71cb86,#71cb87,#74cc81,#7ccd73,#7bcd75,#6ecb8d)"></i><i style="top:138.21px;background:linear-gradient(90deg,#62cfb4,#8ecf5a,#99d153,#99d153,#98d153,#93d057,#88ce5e,#80cd6d,#75cc7f,#6bcb93,#67cda3,#62ceb1,#60cfba,#60cfb9,#63ceaf,#66cda4,#68cc9d,#69cc9b,#69cc9b,#69cc9a,#6acc98,#6bcc95)"></i><i style="top:139.72px;background:linear-gradient(90deg,#64cead,#b9d33f,#b9d33f,#b9d33f,#b5d440,#aad347,#9ad152,#86ce62,#76cc7e,#6acc98,#62ceb1,#5dc3cc,#5cb6d5,#5cb7d6,#5cb8d6,#5cb3d4,#5babd3,#5ba3d1,#5ba3d0,#5ba8d2,#5bacd3,#5badd3)"></i><i style="top:141.22px;background:linear-gradient(90deg,#63ceaf,#add445,#add445,#add445,#abd446,#a4d24b,#98d153,#8ecf5a,#83cd66,#74cc82,#6acc97,#69cc9c,#67cda2,#65cda7,#65cda8,#65cda8,#65cda7,#66cda6,#66cda5,#66cda5,#65cda7,#64ceab)"></i><i style="top:142.72px;background:linear-gradient(90deg,#62cfb4,#7ccd73,#a3d24b,#a3d24b,#a2d24c,#9cd150,#92d057,#82cd68,#71cb87,#69cc9b,#62ceb3,#5ec5ca,#5cbbd6,#5cb4d5,#5cb2d4,#5cb1d4,#5cafd3,#5caed3,#5cadd3,#5babd3,#5ba8d2,#5ba6d1)"></i><i style="top:144.22px;background:linear-gradient(90deg,#62cfb4,#a2d24c,#a9d347,#a9d347,#a7d349,#9dd14f,#8dcf5a,#81cd6b,#78cc7b,#73cc84,#70cb88,#71cb87,#72cc85,#71cb87,#6ccb90,#6acc99,#68cd9f,#67cda2,#67cda2,#66cda4,#65cda8,#65cda8)"></i><i style="top:145.73px;background:linear-gradient(90deg,#62cfb4,#99d152,#abd446,#abd446,#a9d348,#9fd24e,#90cf59,#81cd6b,#72cc86,#63ceae,#5fc9c2,#61cfb7,#62ceb4,#61cfb6,#60cfb8,#60cfb9,#60cfb8,#61cfb6,#62ceb3,#62ceb2,#62cfb4,#61cfb7)"></i><i style="top:147.23px;background:linear-gradient(90deg,#62cfb4,#77cc7d,#94d056,#94d056,#93d056,#8ecf5a,#86ce61,#7ecd70,#74cc81,#6bcc95,#65ceaa,#5fcac2,#5dc3cc,#5fcac1,#64ceab,#69cc9a,#6ccb90,#6fcb8a,#71cb86,#72cc86,#6ecb8c,#68cd9f)"></i><i style="top:148.73px;background:linear-gradient(90deg,#62cfb4,#83cd67,#9dd150,#9dd150,#9cd151,#94d056,#87ce60,#7dcd71,#74cc81,#6dcb8e,#6acc96,#68cc9e,#67cda1,#68cda0,#69cc9d,#6acc99,#68cc9e,#65cea9,#68cd9e,#6ccb93,#6ccb91,#6ccb92)"></i><i style="top:150.23px;background:linear-gradient(90deg,#62cfb4,#78cc7b,#9bd151,#9bd151,#9ad152,#94d056,#89ce5d,#80cd6d,#75cc80,#6bcc96,#65cda8,#60cfb7,#5fcbc0,#5fcac2,#5fc9c4,#5ec6c8,#5dc3ce,#5dc1d0,#5dc2ce,#5ec5ca,#5ec8c5,#5fcac2)"></i><i style="top:151.74px;background:linear-gradient(90deg,#62cfb4,#a7d349,#b6d440,#b6d440,#b4d540,#abd446,#9dd150,#8ecf5a,#86ce62,#85ce63,#88ce5e,#8bce5c,#88ce5e,#83cd67,#7ccd74,#70cb89,#6bcc95,#6dcb8f,#6ecb8b,#6ecb8b,#6ecb8c,#6ecb8d)"></i><i style="top:153.24px;background:linear-gradient(90deg,#62cfb4,#98d153,#a8d348,#a8d348,#a6d349,#9dd150,#8dcf5a,#81cd6b,#77cc7d,#6dcb8d,#69cc9a,#66cda4,#65cea9,#63ceb0,#5fcbbf,#5ec8c4,#60cdbc,#61cfb7,#61cfb7,#60cfb8,#60cfb8,#60cfb9)"></i><i style="top:154.74px;background:linear-gradient(90deg,#62cfb4,#89ce5e,#9dd14f,#9dd14f,#9cd150,#96d054,#8bce5c,#80cd6c,#75cc7f,#6bcc95,#65cda7,#60cfb8,#5fcac1,#5fcbbf,#60cfb8,#62ceb1,#63ceb0,#61cfb4,#5fccbe,#5ec7c6,#5ec7c6,#5fccbe)"></i><i style="top:156.24px;background:linear-gradient(90deg,#62ceb3,#a1d24d,#a3d24c,#a3d24c,#a2d24c,#9bd151,#90cf59,#85ce64,#7fcd6e,#7bcd75,#74cc82,#6acc99,#62ceb3,#5ec6c8,#5cbed6,#5cb6d5,#5cb2d4,#5cb1d4,#5cb0d4,#5ba9d2,#5b9ecf,#5ba3d1)"></i><i style="top:157.75px;background:linear-gradient(90deg,#62cfb4,#7ecd70,#b1d542,#b1d542,#afd443,#a8d348,#9bd151,#8ace5c,#79cc7a,#6acc99,#68cda0,#66cda5,#63ceb0,#60cfb8,#60cebb,#60cdbc,#5fccbd,#5fcbc0,#5fc9c3,#5ec7c6,#5ec5c9,#5ec4cb)"></i><i style="top:159.25px;background:linear-gradient(90deg,#63ceb0,#add444,#add444,#add445,#abd446,#a3d24b,#96d054,#8ace5d,#86ce62,#78cc7b,#69cc9b,#64ceab,#61cfb4,#60ceba,#60cdbc,#5fccbd,#5fccbe,#5fccbe,#5fcdbd,#60cebb,#60cfb9,#61cfb7)"></i><i style="top:160.75px;background:linear-gradient(90deg,#65ceaa,#d7c33b,#d7c33b,#d7c33b,#d3c73a,#c6cd3d,#b4d540,#a5d34a,#9cd150,#92d057,#80cd6d,#6ccb90,#65cea9,#60cfb9,#5fcbbf,#5fcbbf,#5fccbe,#5fccbd,#5fccbe,#5fccbe,#5fccbd,#60cdbc)"></i><i style="top:162.25px;background:linear-gradient(90deg,#62cfb4,#bfd03e,#ddba3e,#ddbb3d,#d9c03c,#d0c83b,#bcd13f,#a5d34a,#8ecf5a,#7ccd74,#6ccb91,#65ceaa,#5fcbc0,#5dc0d2,#5cb5d5,#5caed3,#5ba8d2,#5ba6d1,#5ba8d2,#5cadd3,#5cb4d5,#5cb9d6)"></i><i style="top:163.75px;background:linear-gradient(90deg,#63cead,#d9c03c,#d9c03c,#d9c13c,#d6c43a,#ccca3c,#bbd23f,#a8d348,#93d057,#81cd6a,#71cb87,#66cda4,#5fcac2,#5cb6d5,#5b9bce,#5b84c7,#5b77c1,#5a70be,#5a69bb,#5962b7,#5965b9,#5a72bf)"></i><i style="top:165.26px;background:linear-gradient(90deg,#62cfb4,#a4d24b,#e3b140,#e3b240,#dfb73e,#d9c03c,#c8cc3c,#a6d34a,#84ce65,#73cc83,#6ccb92,#67cda1,#62ceb3,#5ec7c7,#5cbbd7,#5caed3,#5ba7d1,#5b9ecf,#5b8dca,#5b8ac9,#5b9ecf,#5bacd3)"></i><i style="top:166.76px;background:linear-gradient(90deg,#62cfb4,#8dcf5a,#dcbc3d,#dcbc3d,#d8c23b,#ccca3c,#b6d440,#9fd24f,#86ce62,#73cc83,#67cda2,#5fcac1,#5cb4d5,#5b92cb,#5b7ec5,#5b81c6,#5b82c6,#5b82c6,#5b84c7,#5b87c8,#5b8bc9,#5b8fca)"></i><i style="top:168.26px;background:linear-gradient(90deg,#62cfb4,#d5c53a,#deba3e,#ddbb3d,#dac03c,#d0c83b,#bcd13f,#a5d34a,#8ecf5a,#7fcd6f,#6bcb93,#60cebb,#5ec5ca,#5cbed6,#5cb0d4,#5ba9d2,#5ba5d1,#5ba0d0,#5b98cd,#5b90cb,#5b97cd,#5ba8d2)"></i><i style="top:169.76px;background:linear-gradient(90deg,#62cfb4,#cdc93b,#deba3e,#ddba3d,#dabe3c,#d5c63a,#c4ce3d,#afd443,#98d153,#80cd6c,#6dcb8d,#66cda4,#62ceb2,#5fccbe,#5dc0d1,#5babd3,#5b9bce,#5b94cc,#5b91cb,#5b92cb,#5b97cd,#5b9ccf)"></i><i style="top:171.27px;background:linear-gradient(90deg,#62cfb4,#bdd13e,#e3b240,#e2b340,#deb93e,#d7c43b,#c3ce3d,#add445,#9fd24f,#92d057,#7bcd75,#69cc9c,#61cfb6,#5ec7c7,#5dc0d2,#5cbcd7,#5cb6d5,#5cb4d5,#5cb7d5,#5cbdd7,#5dc2cf,#5ec6c9)"></i><i style="top:172.77px;background:linear-gradient(90deg,#62cfb4,#c6cd3d,#d9c13c,#d9c13c,#d6c43b,#cdca3b,#bdd13e,#a2d24c,#82cd69,#6ccb90,#66cda4,#61cfb5,#5ec5c9,#5caed3,#5ba0d0,#5ba2d0,#5b9ecf,#5b9ace,#5b98cd,#5b99ce,#5b9ccf,#5b9fd0)"></i><i style="top:174.27px;background:linear-gradient(90deg,#63ceb0,#e5af41,#e6ae41,#e5af41,#e1b53f,#dabf3c,#cacb3c,#b3d540,#9fd24e,#8dcf5a,#7bcd74,#6acc97,#60cfb8,#5cbcd7,#5ba4d1,#5b95cc,#5b90cb,#5b8fca,#5b8bc9,#5b88c8,#5b88c8,#5b8bc9)"></i><i style="top:175.77px;background:linear-gradient(90deg,#62cfb4,#abd446,#d5c63a,#d4c63a,#cfc93b,#c3ce3d,#b2d541,#9fd24f,#86ce61,#74cc82,#69cc9c,#63ceb1,#5fc9c3,#5dc0d2,#5cb9d6,#5cb4d5,#5cb0d4,#5babd2,#5ba9d2,#5cadd3,#5cb4d5,#5cbad6)"></i><i style="top:177.28px;background:linear-gradient(90deg,#65cda8,#e7ac42,#e7ac42,#e6ae41,#e2b340,#dcbc3d,#d1c83b,#bdd13e,#acd446,#9bd151,#86ce62,#75cc80,#68cc9d,#60cebb,#5cb8d6,#5baad2,#5caed3,#5cb0d4,#5cb2d4,#5cb7d5,#5cbcd7,#5dc0d3)"></i><i style="top:178.78px;background:linear-gradient(90deg,#65cda8,#e1b53f,#e1b53f,#e1b53f,#ddba3e,#d7c33b,#c8cc3c,#b5d440,#a8d348,#9cd151,#87ce60,#72cc85,#65cea9,#5ec5c9,#5cb1d4,#5b9bce,#5b88c8,#5b7ac3,#5b75c1,#5b7bc3,#5b86c7,#5b91cb)"></i><i style="top:180.28px;background:linear-gradient(90deg,#62cfb4,#bfd03e,#e2b43f,#e1b43f,#deb93e,#d7c33b,#c6cd3d,#a9d347,#87ce61,#71cb87,#68cd9e,#61cfb5,#5ec5ca,#5cb4d5,#5ba0d0,#5b90cb,#5b85c7,#5b7dc4,#5b7ac3,#5b7bc3,#5b80c5,#5b8ac9)"></i><i style="top:181.78px;background:linear-gradient(90deg,#62cfb4,#cbca3c,#d8c23b,#d7c33b,#d5c63a,#cacb3c,#b8d33f,#a4d24b,#91cf58,#73cc83,#65cea9,#5fcbbf,#5dc0d1,#5cadd3,#5b8fca,#5b7ec5,#5b82c6,#5b82c6,#5b80c5,#5b82c6,#5b86c7,#5b89c8)"></i><i style="top:183.29px;background:linear-gradient(90deg,#62cfb4,#cacb3c,#d1c83b,#d0c83b,#cbca3c,#bfd03e,#aed444,#9dd14f,#8ace5d,#77cc7c,#69cc9c,#61cfb7,#5dc1d0,#5cafd3,#5b9dcf,#5b90cb,#5b87c8,#5b84c7,#5b85c7,#5b87c8,#5b88c8,#5b8ac9)"></i><i style="top:184.79px;background:linear-gradient(90deg,#65cda8,#e6ae41,#e6ae41,#e5af41,#e1b43f,#dbbd3d,#d2c73b,#c7cc3d,#bcd13f,#a9d348,#86ce61,#6bcc96,#5fc9c4,#5cbad6,#5cb3d4,#5ba8d2,#5b9fcf,#5b9ace,#5b98cd,#5b99ce,#5b9dcf,#5ba2d0)"></i><i style="top:186.29px;background:linear-gradient(90deg,#62ceb3,#d8c13b,#dabf3c,#dac03c,#d6c53a,#c8cc3c,#b3d541,#9cd150,#84ce64,#72cc85,#67cda2,#5fccbd,#5cbed5,#5bacd3,#5ba2d0,#5b9fcf,#5ba0d0,#5baad2,#5cbbd7,#5cbed5,#5cb4d5,#5cb0d4)"></i><i style="top:187.79px;background:linear-gradient(90deg,#64cead,#dfb73e,#dfb83e,#dfb83e,#dbbe3c,#d0c83b,#bad23f,#a2d24c,#88ce5f,#75cc80,#68cd9f,#60cdbc,#5cbad6,#5ba0d0,#5b98cd,#5b9ccf,#5ba2d0,#5ba5d1,#5ba6d1,#5ba8d2,#5baad2,#5babd3)"></i><i style="top:189.29px;background:linear-gradient(90deg,#62ceb3,#dcbc3d,#dfb83e,#deb93e,#dabe3c,#d1c83b,#bcd13e,#a0d24e,#7fcd6e,#6ccb90,#68cc9d,#64ceac,#5fccbe,#5dc1d0,#5cb6d5,#5baad2,#5b9fd0,#5b99ce,#5b99ce,#5b9dcf,#5ba5d1,#5cafd3)"></i><i style="top:190.80px;background:linear-gradient(90deg,#62cfb4,#a0d24e,#e8ad42,#e8ab42,#e4b040,#deba3e,#d4c63a,#b8d33f,#99d152,#85ce63,#7bcd75,#6dcb8e,#66cda6,#5fccbe,#5dc0d2,#5cb3d4,#5baad2,#5ba5d1,#5ba8d2,#5badd3,#5ba9d2,#5ba8d2)"></i><i style="top:192.30px;background:linear-gradient(90deg,#63ceaf,#c8cc3c,#c8cc3c,#c8cc3c,#c4ce3d,#b9d33f,#abd446,#a4d24b,#9ad152,#81cd6a,#6ccb90,#65cda8,#60cfba,#5ec6c8,#5cbed5,#5cb4d5,#5baad2,#5ba1d0,#5b9ccf,#5b9bce,#5b9fd0,#5ba7d1)"></i><i style="top:193.80px;background:linear-gradient(90deg,#64ceab,#dfb73e,#dfb73e,#dfb83e,#dcbd3d,#d5c63a,#c2cf3d,#acd445,#96d055,#82cd69,#71cb88,#67cda3,#5fccbe,#5cbad6,#5b9dcf,#5b8cc9,#5b8fca,#5b96cd,#5b96cd,#5b91cb,#5b91cb,#5b98cd)"></i><i style="top:195.30px;background:linear-gradient(90deg,#62cfb4,#8ccf5b,#cdca3b,#cdca3b,#c9cc3c,#bed03e,#afd443,#9ed24f,#8bce5c,#7dcd71,#70cb88,#6acc99,#67cda3,#65ceaa,#63ceb0,#60cfba,#5fcbc0,#5fccbe,#5fccbe,#5ec7c7,#5ec6c8,#5fcac2)"></i><i style="top:196.81px;background:linear-gradient(90deg,#62cfb4,#98d153,#d8c23b,#d7c33b,#d4c73a,#c6cd3d,#b2d541,#9dd14f,#86ce61,#71cb87,#65cda9,#5fccbe,#5dc2cf,#5cb3d4,#5ba4d1,#5b99ce,#5b93cc,#5b94cc,#5b9ace,#5ba5d1,#5cafd3,#5cb4d5)"></i><i style="top:198.31px;background:linear-gradient(90deg,#62cfb4,#b9d33f,#d9c03c,#d9c13c,#d6c53a,#c9cc3c,#b6d440,#a4d34b,#98d053,#85ce63,#6ecb8c,#62ceb3,#5cb9d6,#5b98cd,#5b8eca,#5b94cc,#5b96cd,#5b96cd,#5b96cd,#5b97cd,#5b97cd,#5b97cd)"></i><i style="top:199.81px;background:linear-gradient(90deg,#65ceaa,#ccca3c,#ccca3c,#ccca3c,#c8cc3c,#bfd03e,#b1d542,#a1d24d,#8dcf5b,#7ccd73,#6dcb8e,#66cda5,#60cebb,#5dc3cc,#5cbad6,#5cb1d4,#5bacd3,#5ba8d2,#5ba7d1,#5ba9d2,#5babd2,#5bacd3)"></i><i style="top:201.31px;background:linear-gradient(90deg,#62cfb4,#b9d33f,#deba3e,#ddba3d,#dabf3c,#d3c73a,#c1cf3e,#a9d348,#8bcf5c,#76cc7e,#6acc99,#64cead,#5fccbf,#5dc2ce,#5cbbd7,#5cb8d6,#5cbad6,#5cbed6,#5dc2cf,#5ec7c6,#5fccbe,#60ceba)"></i><i style="top:202.82px;background:linear-gradient(90deg,#62cfb4,#d9c13c,#dcbc3d,#dcbd3d,#d8c13b,#cdca3b,#b9d33f,#a3d24c,#8bce5c,#77cc7d,#64cead,#5cbbd6,#5cb3d5,#5badd3,#5ba0d0,#5b96cd,#5b8eca,#5b8bc9,#5b8eca,#5b90cb,#5b8dca,#5b89c8)"></i><i style="top:204.32px;background:linear-gradient(90deg,#63ceb1,#e1b53f,#e2b43f,#e1b53f,#ddba3e,#d6c43b,#c2cf3d,#a2d24d,#81cd6b,#75cc7f,#6ccb92,#63ceae,#5ec5ca,#5cbed5,#5ec4cb,#60cfb9,#63ceae,#64cead,#62ceb3,#60cfb9,#60cdbc,#5fccbd)"></i><i style="top:205.82px;background:linear-gradient(90deg,#62cfb4,#b2d542,#d4c73a,#d4c73a,#cfc93b,#c5cd3d,#b6d440,#a4d24b,#91cf58,#82cd69,#7dcd71,#73cc84,#65cea9,#5fc9c4,#5cbdd7,#5cafd3,#5ba6d1,#5ba2d0,#5ba4d1,#5ba8d2,#5bacd3,#5cafd3)"></i><i style="top:207.32px;background:linear-gradient(90deg,#62cfb4,#c3ce3d,#deba3e,#ddba3d,#d9c03c,#cfc93b,#b9d33f,#a0d24e,#86ce62,#75cc80,#6acc99,#64cead,#60cdbc,#5ec7c6,#5ec5c9,#5dc3cd,#5dc1d0,#5dc1d1,#5dc2cf,#5ec5ca,#5ec7c7,#5ec7c7)"></i><i style="top:208.82px;background:linear-gradient(90deg,#62ceb4,#dfb73e,#e3b340,#e2b43f,#ddba3e,#d5c63a,#bdd13e,#a9d348,#96d055,#80cd6c,#71cb88,#66cda6,#5dc2ce,#5caed3,#5ba2d0,#5b9ace,#5b92cb,#5b8ac9,#5b80c5,#5b7fc5,#5b88c8,#5b91cb)"></i><i style="top:210.33px;background:linear-gradient(90deg,#64cead,#e0b63f,#e0b63f,#e0b73f,#dcbc3d,#d5c63a,#bed03e,#a1d24d,#83cd67,#71cb87,#68cc9e,#61cfb5,#5dc2ce,#5caed3,#5b9ace,#5b8cc9,#5b7ec5,#5b7ac3,#5b82c6,#5b8fca,#5b94cc,#5b93cc)"></i><i style="top:211.83px;background:linear-gradient(90deg,#62cfb4,#aed444,#d4c63a,#d4c63a,#cfc93b,#c3ce3d,#b0d443,#98d053,#82cd69,#76cc7f,#6dcb8d,#6acc98,#66cda6,#61cfb7,#5ec8c5,#5dc2cf,#5cbad6,#5cb0d4,#5baad2,#5bacd3,#5cb4d5,#5cbcd7)"></i><i style="top:213.33px;background:linear-gradient(90deg,#62cfb4,#7dcd71,#acd445,#acd445,#abd446,#a4d24b,#96d054,#83cd67,#77cc7d,#71cb87,#6bcc96,#66cda6,#62ceb4,#5fcac1,#5dc3cd,#5cbed6,#5babd3,#5b98cd,#5baad2,#5cb7d5,#5cb8d6,#5cb8d6)"></i><i style="top:214.83px;background:linear-gradient(90deg,#62cfb4,#afd443,#d6c53a,#d6c53a,#d0c83b,#c0cf3e,#a7d349,#85ce63,#6ccb91,#63ceaf,#5fccbd,#5ec8c5,#5dc2ce,#5cbdd6,#5cbbd7,#5cbcd7,#5cbed5,#5dc0d2,#5dbfd3,#5cbdd7,#5cb9d6,#5cb6d5)"></i><i style="top:216.34px;background:linear-gradient(90deg,#62cfb4,#afd444,#b4d540,#b4d540,#b2d542,#a9d347,#98d153,#7fcd6e,#6acc97,#62cfb4,#5fcbbf,#5fc9c3,#5ec7c6,#5ec6c9,#5ec5ca,#5ec4cb,#5dc2ce,#5dc0d2,#5cbfd4,#5cbed6,#5cb6d5,#5ba8d2)"></i><i style="top:217.84px;background:linear-gradient(90deg,#62cfb4,#90cf59,#bfd03e,#bfd03e,#bbd23f,#b0d443,#9ad152,#7ccd73,#68cda0,#60cfb9,#60cebb,#62ceb3,#63ceaf,#63ceb0,#63ceb1,#63ceb1,#61cfb4,#60cfb9,#5fccbe,#5fc9c3,#5ec6c8,#5dc3cd)"></i><i style="top:219.34px;background:linear-gradient(90deg,#62cfb4,#88ce5e,#bdd13e,#bcd13e,#b9d33f,#aed444,#9cd150,#84ce65,#74cc82,#6ccb92,#6acc98,#67cda1,#62ceb2,#5ec8c4,#5dc2cf,#5dc0d1,#5dc3cd,#5ec7c6,#5fcbc0,#5fcdbd,#5fcbbf,#5ec7c6)"></i><i style="top:220.84px;background:linear-gradient(90deg,#63ceb0,#acd445,#acd445,#acd445,#abd446,#a4d24b,#92d057,#76cc7d,#63ceaf,#5dc3cd,#5dc0d2,#5dbfd3,#5cbad6,#5badd3,#5b9fcf,#5b95cc,#5b91cb,#5b90cb,#5b93cc,#5b9ace,#5ba0d0,#5ba5d1)"></i><i style="top:222.35px;background:linear-gradient(90deg,#62cfb4,#81cd6b,#a3d24b,#a3d24b,#a2d24c,#9cd150,#91cf58,#84ce65,#78cc7a,#6ecb8c,#6acc99,#66cda5,#62ceb1,#5fccbe,#5ec5c9,#5dbfd3,#5cb9d6,#5cb4d5,#5cb3d5,#5cb5d5,#5cb8d6,#5cbbd6)"></i><i style="top:223.85px;background:linear-gradient(90deg,#62ceb1,#a1d24d,#a2d24d,#a1d24d,#a0d24d,#9ad152,#8ccf5c,#7acc78,#69cc9a,#63ceaf,#61cfb6,#60cdbc,#5ec6c7,#5cbed5,#5cb6d5,#5cb2d4,#5cb5d5,#5cbdd6,#5ec5c9,#5fccbd,#61cfb6,#61cfb6)"></i><i style="top:225.35px;background:linear-gradient(90deg,#62cfb4,#97d054,#a1d24d,#a1d24d,#9fd24e,#99d153,#8ccf5b,#80cd6d,#72cc85,#68cc9e,#61cfb6,#5dc3cd,#5cb2d4,#5ba4d1,#5b9ecf,#5ba2d0,#5babd3,#5cb8d6,#5dc0d2,#5dc3cd,#5dc2ce,#5dc0d2)"></i><i style="top:226.85px;background:linear-gradient(90deg,#62cfb4,#9dd150,#a4d24b,#a4d24b,#a2d24c,#9ad152,#8bcf5c,#7ecd6f,#73cc83,#6fcb8a,#66cda5,#5ec4cc,#5cb1d4,#5ba4d1,#5b9ace,#5b97cd,#5b9ace,#5ba1d0,#5baad2,#5cb2d4,#5cbad6,#5cbed5)"></i><i style="top:228.36px;background:linear-gradient(90deg,#62cfb4,#9ed14f,#b9d33f,#b9d33f,#b7d43f,#b0d443,#a4d24b,#95d055,#85ce64,#78cc7a,#6ccb92,#65cda8,#5fccbe,#5dc0d3,#5cb1d4,#5ba8d2,#5ba6d1,#5ba7d1,#5ba6d1,#5ba2d0,#5b9dcf,#5b9bce)"></i><i style="top:229.86px;background:linear-gradient(90deg,#62cfb4,#97d054,#c4ce3d,#c4ce3d,#c0d03e,#b5d540,#a5d34a,#92d057,#81cd6a,#73cc84,#69cc9a,#63ceae,#5fcbc0,#5dc3cc,#5dc0d2,#5dc0d3,#5dc0d1,#5dc0d2,#5cbcd7,#5cb5d5,#5cb3d5,#5cbbd6)"></i><i style="top:231.36px;background:linear-gradient(90deg,#62cfb4,#b0d443,#c9cc3c,#c9cc3c,#c4ce3d,#bad23f,#aad347,#98d153,#85ce63,#77cc7d,#6acc97,#63ceae,#5fc9c3,#5cbfd3,#5cb5d5,#5cadd3,#5ba5d1,#5b9ecf,#5b9ace,#5b98cd,#5b9ace,#5ba0d0)"></i><i style="top:232.86px;background:linear-gradient(90deg,#62cfb4,#78cc7b,#a3d24c,#a3d24c,#a1d24d,#9ad152,#8dcf5a,#81cd6a,#75cc80,#6bcc95,#65cda8,#60ceba,#5ec5c9,#5dc3cd,#5dc3ce,#5dc2cf,#5dc3cd,#5ec6c7,#5fcbc0,#60cfb8,#64cead,#68cda0)"></i><i style="top:234.36px;background:linear-gradient(90deg,#64ceac,#c2cf3d,#c2cf3d,#c2cf3d,#bfd03e,#b7d440,#abd446,#9cd150,#8bcf5c,#80cd6d,#71cb87,#63ceae,#5fcac2,#5fcac1,#5dc1d1,#5cb0d4,#5ba3d1,#5b9ccf,#5b99ce,#5b9ace,#5b9bce,#5b9bce)"></i><i style="top:235.87px;background:linear-gradient(90deg,#63ceb0,#b8d33f,#b9d33f,#b9d33f,#b5d440,#aad347,#9ad152,#86ce61,#79cc78,#6dcb8f,#67cda1,#62ceb2,#5fcbbf,#5ec8c4,#5ec6c8,#5ec6c8,#5fcac1,#5fcbbf,#5ec4cb,#5dc1d0,#5dc2cf,#5ec4cb)"></i><i style="top:237.37px;background:linear-gradient(90deg,#62ceb3,#bed13e,#c1cf3e,#c1cf3e,#bdd13e,#b1d542,#a2d24d,#93d057,#87ce5f,#7fcd6e,#73cc84,#6acc98,#65cda7,#63ceb1,#61cfb6,#60cfb9,#60cebb,#60ceba,#60cfb8,#61cfb5,#63ceb0,#64ceac)"></i><i style="top:238.87px;background:linear-gradient(90deg,#62cfb4,#b1d542,#c1cf3e,#c1cf3e,#bed03e,#b4d540,#a7d349,#97d054,#85ce64,#76cc7e,#6acc98,#63ceaf,#5fcac1,#5ec5ca,#5ec5c9,#5fc8c4,#5fcac1,#5fcbc0,#5fccbe,#5fccbe,#5fcac1,#5ec7c7)"></i><i style="top:240.37px;background:linear-gradient(90deg,#64ceac,#acd446,#acd446,#acd446,#aad347,#a1d24d,#93d057,#83cd67,#73cc83,#67cda1,#60cdbc,#5cbfd3,#5cb1d4,#5baad2,#5ba8d2,#5baad2,#5caed3,#5cb3d5,#5cb7d5,#5cb4d5,#5ba9d2,#5b9ecf)"></i><i style="top:241.88px;background:linear-gradient(90deg,#62ceb1,#c2cf3d,#c3ce3d,#c3ce3d,#bfd03e,#b4d540,#a6d34a,#92d057,#7ecd70,#6bcc94,#62ceb2,#5dc3cc,#5cb3d5,#5ba5d1,#5b9dcf,#5b97cd,#5b93cc,#5b8fca,#5b82c6,#5b90cb,#5ba3d1,#5ba9d2)"></i><i style="top:243.38px;background:linear-gradient(90deg,#64cead,#abd346,#abd346,#abd346,#a9d347,#a3d24c,#99d153,#8bce5c,#80cd6c,#75cc80,#69cc9b,#60cfba,#5dbfd3,#5cb4d5,#5cb0d4,#5cb0d4,#5bacd3,#5ba9d2,#5ba9d2,#5babd3,#5cb2d4,#5cb8d6)"></i><i style="top:244.88px;background:linear-gradient(90deg,#62cfb4,#87ce60,#b9d33f,#b9d33f,#b6d440,#add445,#9fd24e,#8dcf5b,#7ecd6f,#71cb86,#69cc9b,#64ceac,#60ceba,#5fc9c3,#5ec6c7,#5ec4cb,#5dc2cf,#5cbed5,#5cb6d5,#5cadd3,#5babd3,#5cb1d4)"></i><i style="top:246.38px;background:linear-gradient(90deg,#62cfb4,#87ce60,#b8d33f,#b8d33f,#b6d440,#aed444,#a2d24c,#91cf58,#81cd6a,#77cc7d,#71cb87,#67cda0,#5fcdbd,#5dc2cf,#5cb9d6,#5cb1d4,#5bacd3,#5ba9d2,#5ba9d2,#5ba9d2,#5ba8d2,#5ba8d2)"></i><i style="top:247.89px;background:linear-gradient(90deg,#62cfb4,#aed444,#b2d541,#b2d541,#b0d443,#a6d34a,#96d054,#84ce65,#76cc7e,#6acc96,#65cea9,#60cfb8,#5fcac2,#5ec6c8,#5dc2ce,#5cbfd4,#5cbdd7,#5cbad6,#5cb7d5,#5cb5d5,#5cb8d6,#5dc2cf)"></i><i style="top:249.39px;background:linear-gradient(90deg,#62cfb4,#83cd68,#9fd24e,#9fd24e,#9ed24f,#97d054,#8ace5d,#7fcd6e,#72cc85,#69cc9b,#63ceaf,#5fcbc0,#5dc2ce,#5cb9d6,#5baad2,#5ba2d0,#5ba7d1,#5cb2d4,#5cb9d6,#5cbcd7,#5cbdd7,#5cbdd7)"></i><i style="top:250.89px;background:linear-gradient(90deg,#62cfb4,#9dd150,#c4ce3d,#c4ce3d,#c1cf3e,#b8d33f,#abd446,#9bd151,#88ce5e,#7acc78,#6bcc94,#64ceac,#5fcbc0,#5dc3cc,#5cbfd4,#5cbcd7,#5cbdd7,#5cbed6,#5cbad6,#5cb1d4,#5bacd3,#5cb3d4)"></i><i style="top:252.39px;background:linear-gradient(90deg,#62cfb4,#b7d440,#c9cb3c,#c9cb3c,#c5cd3d,#bad23f,#a9d347,#8dcf5b,#76cc7e,#6ccb93,#69cc9a,#66cda5,#62ceb3,#5fccbe,#5ec8c5,#5ec6c9,#5dc4cc,#5dc2cf,#5dc0d2,#5cbed5,#5cbed6,#5cbfd4)"></i><i style="top:253.89px;background:linear-gradient(90deg,#62cfb4,#97d054,#bad23f,#bad23f,#b6d440,#abd446,#9bd151,#87ce60,#79cc7a,#6bcc93,#64ceaa,#5fcbc0,#5dc0d2,#5cb0d4,#5ba4d1,#5babd2,#5cadd3,#5badd3,#5babd3,#5ba7d1,#5ba2d0,#5ba3d1)"></i><i style="top:255.40px;background:linear-gradient(90deg,#62ceb2,#a9d347,#abd346,#abd346,#a9d347,#a3d24c,#98d153,#8ace5d,#7fcd6d,#75cc80,#6bcc94,#66cda4,#62ceb3,#5fcbbf,#5ec7c7,#5dc3cd,#5dc0d2,#5cbdd6,#5cbcd7,#5dbfd3,#5fcac2,#5ec8c5)"></i><i style="top:256.90px;background:linear-gradient(90deg,#64ceac,#bed03e,#bed03e,#bed03e,#bbd23f,#b2d541,#a7d349,#9bd151,#8dcf5b,#7ecd6f,#70cb89,#68cc9d,#64cead,#60ceba,#5fc8c4,#5ec4cb,#5dc1d0,#5dc1d0,#5ec5ca,#5fcac1,#60ceba,#60cfb8)"></i><i style="top:258.40px;background:linear-gradient(90deg,#64ceab,#c5cd3d,#c5cd3d,#c5cd3d,#c0cf3e,#b3d540,#a1d24d,#80cd6c,#63ceae,#5ec7c6,#5ec7c6,#5dc3cc,#5cbfd4,#5cbad6,#5cb5d5,#5cb0d4,#5caed3,#5cafd3,#5cb0d4,#5cb2d4,#5cb8d6,#5dc1d1)"></i><i style="top:259.90px;background:linear-gradient(90deg,#62cfb4,#a6d34a,#abd446,#abd446,#a9d347,#a1d24d,#92d057,#84ce66,#79cc79,#6fcb8a,#6acc97,#67cda3,#61cfb7,#5dc2cf,#5cb5d5,#5cbad6,#5cbdd7,#5cbdd6,#5fccbe,#66cda5,#69cc9b,#6acc97)"></i><i style="top:261.41px;background:linear-gradient(90deg,#62cfb4,#a3d24c,#bad23f,#bad23f,#b7d33f,#aed444,#9fd24e,#8dcf5b,#7fcd6e,#74cc82,#6bcb93,#67cda1,#64cead,#61cfb5,#62cfb4,#65cda9,#6dcb8f,#72cc86,#6bcc96,#69cc9b,#69cc9c,#69cc9c)"></i><i style="top:262.91px;background:linear-gradient(90deg,#62cfb4,#84ce65,#bfd03e,#bfd03e,#bbd23f,#b0d443,#9ed24f,#81cd6a,#6ccb90,#69cc9b,#64ceab,#5fccbf,#5dc3ce,#5cbcd7,#5cb3d4,#5babd3,#5ba7d2,#5ba8d2,#5babd3,#5cb0d4,#5cb6d5,#5cbbd7)"></i><i style="top:264.41px;background:linear-gradient(90deg,#62cfb4,#92d057,#b6d440,#b6d440,#b3d541,#a9d347,#9cd150,#91d058,#84ce64,#6ecb8d,#66cda6,#61cfb6,#5ec4cb,#5cbdd7,#5cbbd7,#5cbed6,#5dc0d3,#5dc1d0,#5dc3cd,#5ec5c9,#5ec8c5,#5fcac1)"></i><i style="top:265.91px;background:linear-gradient(90deg,#62cfb4,#9fd24e,#a3d24b,#a3d24c,#a2d24c,#9cd150,#91cf58,#85ce64,#7acc77,#6ecb8d,#68cd9e,#63ceae,#60cdbc,#5ec7c6,#5dc2cf,#5cbbd7,#5caed3,#5ba5d1,#5ba4d1,#5baad2,#5cb7d5,#5dc2ce)"></i><i style="top:267.42px;background:linear-gradient(90deg,#62cfb4,#8ecf5a,#bcd13f,#bcd13f,#b9d33f,#b0d442,#a5d34b,#9ad152,#93d056,#8bcf5c,#7ecd70,#6dcb8f,#63ceb0,#5dc1d0,#5ba9d2,#5b96cd,#5b8bc9,#5b89c8,#5b90cb,#5b9ccf,#5ba8d2,#5cb2d4)"></i><i style="top:268.92px;background:linear-gradient(90deg,#62cfb4,#a1d24d,#bbd23f,#bbd23f,#b7d43f,#abd446,#9ad152,#82cd68,#70cb89,#69cc9a,#66cda4,#63ceaf,#60cdbd,#5ec7c7,#5ec6c9,#5ec7c6,#5ec8c4,#5fc9c3,#5fcbbf,#60ceba,#61cfb5,#63ceb1)"></i><i style="top:270.42px;background:linear-gradient(90deg,#62cfb4,#acd445,#cacb3c,#cacb3c,#c6cd3d,#bdd13e,#add445,#92d057,#79cc78,#6bcc95,#67cda3,#63ceaf,#60cebb,#5fcbc0,#5fccbd,#61cfb4,#64ceab,#67cda3,#68cc9e,#69cc9a,#6bcc96,#6ccb92)"></i><i style="top:271.92px;background:linear-gradient(90deg,#62cfb4,#83cd66,#cacb3c,#cacb3c,#c4ce3d,#b5d540,#a2d24d,#8ccf5c,#7dcd72,#71cb88,#6acc98,#67cda3,#65cda7,#67cda3,#67cda1,#67cda1,#67cda3,#65cda7,#64ceac,#63ceb0,#64cead,#66cda5)"></i><i style="top:273.43px;background:linear-gradient(90deg,#62cfb4,#7acc76,#acd446,#acd446,#aad347,#a3d24c,#97d054,#8ace5d,#81cd6b,#78cc7b,#6dcb8f,#69cc9d,#66cda7,#63ceaf,#61cfb4,#60cfb8,#60cebb,#60cebb,#60cfb9,#61cfb5,#62ceb1,#64cead)"></i><i style="top:274.93px;background:linear-gradient(90deg,#62ceb2,#bfd03e,#c1cf3e,#c1cf3e,#bed03e,#b5d440,#a8d348,#91cf58,#7ecd70,#74cc81,#70cb89,#6dcb8d,#6ccb92,#68cda0,#61cfb5,#5ec7c6,#5dc2cf,#5dbfd3,#5dbfd3,#5dc0d2,#5dc1d1,#5dc1d0)"></i><i style="top:276.43px;background:linear-gradient(90deg,#62cfb4,#8dcf5b,#a5d34a,#a5d34a,#a4d34b,#9fd24f,#95d055,#88ce5f,#7ecd70,#72cc85,#68cda0,#5fcac2,#5ec4cb,#5ec6c8,#5dc2ce,#5dc2ce,#5fc8c4,#60cfb8,#63ceb0,#64ceac,#65cea9,#65cda7)"></i><i style="top:277.93px;background:linear-gradient(90deg,#62ceb1,#b1d542,#b2d541,#b2d541,#b0d443,#a9d347,#9ed14f,#8ecf5a,#7fcd6e,#70cb89,#67cda0,#61cfb5,#5fc8c4,#5dc3cc,#5dc2ce,#5dc4cc,#5ec5ca,#5ec4cb,#5dc4cc,#5dc2ce,#5dc1d1,#5dc1d1)"></i><i style="top:279.43px;background:linear-gradient(90deg,#62cfb4,#8bce5c,#b3d541,#b3d541,#b0d443,#a6d349,#94d056,#7dcd72,#6bcc94,#65cda7,#64ceab,#65ceaa,#66cda5,#68cd9f,#68cd9e,#67cda2,#65cea9,#63ceae,#63ceb0,#63ceaf,#64ceab,#66cda7)"></i><i style="top:280.94px;background:linear-gradient(90deg,#62ceb3,#bad23f,#bed03e,#bed03e,#bbd23f,#b1d442,#a2d24c,#90cf58,#7fcd6e,#6dcb8e,#65cda8,#5fccbd,#5ec6c8,#5ec5c9,#5ec8c5,#5fcbc0,#60cfb9,#62ceb2,#60cfb7,#5ec5ca,#5cbbd7,#5cbdd7)"></i><i style="top:282.44px;background:linear-gradient(90deg,#62ceb2,#ccca3c,#cec93b,#cec93b,#c9cb3c,#bed03e,#aed444,#9cd151,#87ce60,#7acc76,#76cc7e,#73cc83,#68cc9e,#61cfb7,#5fcac1,#5ec7c6,#5ec5ca,#5dc3cd,#5dc2ce,#5dc1d1,#5cbed5,#5cbed6)"></i><i style="top:283.94px;background:linear-gradient(90deg,#62cfb4,#7dcd71,#b0d442,#b0d442,#afd444,#a7d349,#9bd151,#8bcf5c,#7fcd6e,#73cc83,#6bcc96,#66cda4,#64ceac,#63ceaf,#63ceae,#63ceae,#63ceb0,#63ceb0,#65cda8,#68cc9d,#66cda6,#61cfb6)"></i><i style="top:285.44px;background:linear-gradient(90deg,#63ceae,#bad23f,#bad23f,#bad23f,#b7d440,#acd445,#9dd150,#8ace5c,#7ecd6f,#74cc81,#6dcb8f,#6bcc96,#6acc99,#6acc97,#6bcc96,#69cc9a,#66cda4,#65cda7,#66cda4,#66cda4,#65ceaa,#64ceac)"></i><i style="top:286.95px;background:linear-gradient(90deg,#62cfb4,#85ce64,#c6cd3d,#c6cd3d,#c2cf3d,#b8d33f,#a9d347,#99d152,#89ce5e,#7ecd70,#73cc84,#6bcc96,#66cda6,#61cfb6,#5fc8c4,#5dc0d2,#5cb8d6,#5cb4d5,#5cb7d5,#5cbcd7,#5cbdd7,#5cb9d6)"></i><i style="top:288.45px;background:linear-gradient(90deg,#62cfb4,#aad347,#b4d540,#b4d540,#b1d542,#a8d348,#99d152,#85ce63,#73cc84,#69cc9c,#66cda6,#63ceae,#60cfb8,#5fccbe,#5fc8c4,#5ec5ca,#5dc2cf,#5cbfd3,#5cbdd7,#5cbbd6,#5cb9d6,#5cb9d6)"></i><i style="top:289.95px;background:linear-gradient(90deg,#62cfb4,#7fcd6d,#a7d349,#a7d349,#a6d34a,#a0d24e,#97d054,#8bce5c,#84ce65,#83cd67,#79cc79,#6acc97,#65cda9,#61cfb5,#5fcac2,#5dc1d0,#5cb9d6,#5cb6d5,#5cb7d6,#5cb6d5,#5cb5d5,#5cb4d5)"></i><i style="top:291.45px;background:linear-gradient(90deg,#62cfb4,#acd446,#c5cd3d,#c5cd3d,#c0d03e,#b1d542,#9fd24e,#89ce5d,#7dcd72,#76cc7e,#75cc7f,#79cc79,#7ccd74,#77cc7c,#6bcc96,#64ceab,#63ceb0,#62ceb1,#61cfb4,#60cfb8,#60cfba,#60cebb)"></i><i style="top:292.96px;background:linear-gradient(90deg,#62ceb1,#c1cf3e,#c1cf3e,#c2cf3e,#bed03e,#b4d540,#a5d34a,#91cf58,#7dcd72,#6ecb8c,#6acc96,#6bcc94,#6dcb8e,#6dcb8f,#6acc99,#67cda3,#65cda8,#65cda8,#66cda5,#67cda1,#69cc9c,#69cc9a)"></i><i style="top:294.46px;background:linear-gradient(90deg,#62cfb4,#c0d03e,#cacb3c,#cacb3c,#c5cd3d,#b8d33f,#a9d348,#9bd151,#8ccf5b,#7dcd72,#6bcb93,#64ceac,#5fcbbf,#5ec5ca,#5dc0d1,#5cbdd7,#5cbad6,#5cb9d6,#5cb9d6,#5cb7d5,#5cb5d5,#5cb4d5)"></i><i style="top:295.96px;background:linear-gradient(90deg,#62cfb4,#a7d349,#cacb3c,#cacb3c,#c4ce3d,#b5d440,#a2d24c,#8bcf5c,#7bcd75,#6dcb8d,#69cc9b,#67cda2,#65cda8,#63ceaf,#61cfb6,#60cfb8,#61cfb6,#62ceb2,#63ceaf,#64ceac,#65cda7,#67cda3)"></i><i style="top:297.46px;background:linear-gradient(90deg,#62cfb4,#93d056,#aad347,#aad347,#a8d348,#9ed14f,#8ecf5a,#81cd6b,#77cc7d,#6dcb8e,#6acc99,#67cda2,#65cda8,#64ceac,#62ceb2,#60cdbc,#5ec5c9,#5ec4cb,#5fcbc0,#60cfb9,#61cfb6,#61cfb6)"></i><i style="top:298.96px;background:linear-gradient(90deg,#62cfb4,#a0d24e,#abd446,#abd446,#a9d348,#9fd24f,#8dcf5a,#75cc80,#64ceab,#60cfb7,#5fcac2,#5dc0d1,#5cb9d6,#5cb5d5,#5cb4d5,#5cb6d5,#5cbad6,#5cbad6,#5cb7d6,#5cb2d4,#5bacd3,#5ba8d2)"></i><i style="top:300.47px;background:linear-gradient(90deg,#62cfb4,#92d057,#ccca3c,#ccca3c,#c6cd3d,#b6d440,#a1d24d,#84ce66,#6bcc95,#60ceba,#5dc2ce,#5cbdd7,#5cbbd7,#5cbbd7,#5cbdd7,#5dc1d1,#5ec4cb,#5ec5ca,#5ec5ca,#5ec5ca,#5ec5c9,#5ec6c9)"></i><i style="top:301.97px;background:linear-gradient(90deg,#62ceb2,#b2d541,#b3d541,#b3d541,#b0d443,#a5d34a,#94d056,#82cd68,#74cc82,#6acc97,#66cda6,#65ceaa,#67cda1,#69cc9b,#68cd9f,#67cda2,#66cda4,#66cda5,#67cda2,#66cda6,#63ceb1,#61cfb6)"></i><i style="top:303.47px;background:linear-gradient(90deg,#62cfb4,#8dcf5a,#b0d443,#b0d443,#aed444,#a4d24b,#94d056,#81cd6b,#6ecb8c,#65cda9,#5fccbd,#5ec6c8,#5dc3cd,#5ec4cc,#5ec6c8,#5fc8c4,#5fc9c2,#5ec6c8,#5cbbd6,#5ba5d1,#5b91cb,#5b8ac9)"></i><i style="top:304.97px;background:linear-gradient(90deg,#62cfb4,#a5d34a,#bed03e,#bed03e,#b8d33f,#a7d349,#8bcf5c,#6fcb8b,#5fccbe,#5baad2,#5b96cd,#5b96cd,#5b9fcf,#5ba8d2,#5cb0d4,#5cb6d5,#5cbbd6,#5cbdd6,#5cbed5,#5cbfd4,#5cbfd4,#5cbfd4)"></i><i style="top:306.48px;background:linear-gradient(90deg,#62cfb4,#add445,#bbd23f,#bbd23f,#b4d540,#9ed14f,#81cd6a,#6bcb93,#61cfb5,#5ec4cb,#5dc2cf,#5ec6c8,#5fcac2,#5fc9c3,#5ec6c8,#5dc0d2,#5cb3d4,#5ba2d0,#5b97cd,#5b98cd,#5ba3d0,#5cb1d4)"></i><i style="top:307.98px;background:linear-gradient(90deg,#64cead,#b4d540,#b4d540,#b4d540,#b2d542,#a7d349,#94d056,#7ecd71,#6acc99,#60ceba,#5ec4cb,#5dc2cf,#5dc2cf,#5dc1d0,#5cbdd7,#5cb2d4,#5ba4d1,#5b9ccf,#5ba1d0,#5caed3,#5cb8d6,#5cbdd6)"></i><i style="top:309.48px;background:linear-gradient(90deg,#63ceb1,#acd446,#acd446,#acd446,#aad347,#9fd24e,#8ace5d,#70cb89,#5fcac1,#5ba4d1,#5b97cd,#5ba8d2,#5dc0d3,#5ec8c4,#5ec7c6,#5ec5ca,#5ec4cb,#5dbfd3,#5caed3,#5cb7d5,#5ec5ca,#5ec6c8)"></i><i style="top:310.98px;background:linear-gradient(90deg,#63ceae,#b2d541,#b2d541,#b2d541,#afd444,#a1d24d,#88ce5e,#6fcb8b,#5fccbe,#5cadd3,#5ba3d1,#5cb5d5,#5ec4cb,#5ec7c6,#5ec5c9,#5dc3cd,#5dbfd3,#5cb4d5,#5cb7d5,#5ec6c7,#60ceba,#61cfb7)"></i><i style="top:312.49px;background:linear-gradient(90deg,#63ceaf,#c3ce3d,#c3ce3d,#c3ce3d,#bed03e,#b0d443,#99d152,#7ecd70,#68cd9e,#5ec7c6,#5cbed5,#5dc3ce,#5fcac1,#60cfba,#60cfb9,#60cfb9,#60cfb8,#61cfb5,#62ceb1,#62ceb2,#61cfb6,#60cfb8)"></i><i style="top:313.99px;background:linear-gradient(90deg,#62cfb4,#88ce5e,#a6d34a,#a6d34a,#a3d24b,#95d055,#82cd69,#6dcb8d,#63ceae,#5ec7c7,#5dc1d1,#5ec5c9,#5fcbc0,#60cebb,#60cfba,#60cfb8,#61cfb5,#62ceb2,#61cfb4,#60cebb,#5fcbbf,#5fccbe)"></i><i style="top:315.49px;background:linear-gradient(90deg,#62cfb4,#99d152,#c0d03e,#c0d03e,#bbd23f,#add445,#99d152,#7ecd71,#64ceab,#5dc1d0,#5cbbd7,#5cb0d4,#5ba6d1,#5b9ecf,#5b92cb,#5b80c5,#5b77c1,#5b79c2,#5b7ec5,#5b82c6,#5b87c8,#5b8dca)"></i><i style="top:316.99px;background:linear-gradient(90deg,#62cfb4,#9ad152,#afd443,#afd443,#acd445,#a0d24e,#8ace5c,#75cc80,#66cda5,#60cebb,#5ec6c7,#5ec4cb,#5ec5ca,#5ec5c9,#5ec5ca,#5ec4cb,#5dc4cc,#5dc3cc,#5dc4cc,#5ec4cb,#5ec5c9,#5ec6c9)"></i><i style="top:318.50px;background:linear-gradient(90deg,#62cfb4,#99d152,#b7d43f,#b7d43f,#b3d540,#a7d349,#95d055,#82cd69,#71cb87,#67cda1,#60cfb8,#5ec6c7,#5dc3ce,#5ec4cb,#5fcac2,#60cfb8,#61cfb6,#60cebb,#5fccbe,#5fccbf,#5fccbe,#5fccbd)"></i><i style="top:320.00px;background:linear-gradient(90deg,#62cfb4,#a3d24b,#add445,#add445,#a9d347,#9ad152,#84ce65,#72cc85,#67cda1,#60ceba,#5dc2cf,#5cb7d5,#5cadd3,#5baad2,#5cb0d4,#5cbbd6,#5dc3cd,#5fc9c4,#5fcac1,#5fc9c2,#5ec7c7,#5ec4cb)"></i></div>
<div class="hm" style="left:1536.00px;top:45.00px;width:457.30px;height:321.50px"><i style="top:0.00px;background:linear-gradient(90deg,#62cfb4,#bbd23f,#d1c83b,#d1c83b,#ccca3c,#bfd03e,#aed444,#9bd151,#8dcf5b,#8bce5c,#84ce65,#6bcc95,#5fcdbd,#5cbdd7,#5caed3,#5ba8d2,#5ba5d1,#5ba3d1,#5ba0d0,#5b9dcf,#5b9bce,#5b9bce)"></i><i style="top:1.50px;background:linear-gradient(90deg,#62cfb4,#abd346,#c6cd3d,#c6cd3d,#c2cf3d,#b7d440,#a8d348,#96d054,#85ce64,#77cc7c,#6acc99,#61cfb6,#5dc1d0,#5cafd4,#5ba3d1,#5b9fcf,#5b9fd0,#5ba2d0,#5ba7d1,#5caed3,#5cb1d4,#5cadd3)"></i><i style="top:3.00px;background:linear-gradient(90deg,#62cfb4,#dcbc3d,#e3b240,#e3b240,#e0b63f,#d9c03c,#cacb3c,#b1d542,#98d153,#81cd6a,#6ccb90,#62ceb1,#5dc2cf,#5caed3,#5b9ecf,#5b98cd,#5b9dcf,#5ba3d0,#5babd3,#5cb0d4,#5ba7d2,#5b9fcf)"></i><i style="top:4.51px;background:linear-gradient(90deg,#62cfb4,#c3ce3d,#d9c03c,#d9c03c,#d6c43b,#c6cd3d,#afd444,#95d055,#7ccd74,#6acc97,#63ceb0,#5ec6c7,#5cb9d6,#5bacd3,#5ba7d1,#5ba8d2,#5ba6d1,#5ba4d1,#5ba4d1,#5ba7d2,#5babd3,#5baad2)"></i><i style="top:6.01px;background:linear-gradient(90deg,#62cfb4,#c1cf3e,#e0b63f,#e0b63f,#deba3e,#d7c33b,#c4ce3d,#acd445,#94d056,#7ecd70,#6bcc94,#61cfb5,#5dc0d1,#5badd3,#5ba0d0,#5b9ace,#5b99ce,#5ba3d0,#5cb8d6,#5cb9d6,#5ba7d2,#5b9fcf)"></i><i style="top:7.51px;background:linear-gradient(90deg,#63ceb1,#d6c53a,#d6c53a,#d6c53a,#d2c83b,#c5cd3d,#b3d541,#9fd24f,#89ce5d,#7acc76,#6ccb93,#63ceae,#5dc4cc,#5cadd3,#5b9dcf,#5b9ace,#5ba2d0,#5cb2d4,#5dc3cc,#60cdbc,#60cdbc,#5dc3cd)"></i><i style="top:9.01px;background:linear-gradient(90deg,#62ceb3,#c9cc3c,#c9cc3c,#c9cc3c,#c3ce3d,#b4d540,#a2d24c,#8ccf5b,#78cc7b,#67cda2,#5ec7c7,#5cb2d4,#5ba2d0,#5b9ecf,#5b9bce,#5b95cc,#5b90cb,#5b8fca,#5b8dca,#5b8cc9,#5b8cc9,#5b8dca)"></i><i style="top:10.52px;background:linear-gradient(90deg,#62ceb3,#d3c73a,#d3c73a,#d3c73a,#cbca3c,#b9d33f,#a2d24c,#86ce62,#6fcb8b,#63ceae,#5dc3cd,#5cb2d4,#5ba8d2,#5ba5d1,#5ba3d1,#5ba0d0,#5b9ccf,#5b9ace,#5b9bce,#5b9ecf,#5ba1d0,#5ba3d0)"></i><i style="top:12.02px;background:linear-gradient(90deg,#62ceb4,#e1b53f,#e1b53f,#e1b53f,#deb93e,#d7c33b,#c3ce3d,#aad347,#97d054,#8ccf5b,#82cd68,#6ecb8d,#62ceb1,#5ec4cc,#5cbcd7,#5cb9d6,#5cb8d6,#5cb8d6,#5cb7d6,#5cb7d5,#5cb6d5,#5cb6d5)"></i><i style="top:13.52px;background:linear-gradient(90deg,#62cfb4,#cec93b,#d2c73a,#d2c73a,#ccca3c,#bdd13e,#a9d347,#92d057,#7dcd71,#6ccb93,#63ceaf,#5ec7c6,#5cbed6,#5cb8d6,#5cb7d5,#5cbed5,#5dc3cc,#5cbcd7,#5cb4d5,#5cbbd6,#5dc3ce,#5ec6c7)"></i><i style="top:15.02px;background:linear-gradient(90deg,#65cda9,#e4b040,#e4b040,#e4b040,#e0b63f,#d7c43b,#bcd13f,#9cd151,#79cc79,#64cead,#5cb7d6,#5b93cc,#5b7ec4,#5b78c2,#5b7ac3,#5b7ec4,#5b82c6,#5b86c7,#5b91cb,#5ba1d0,#5cb0d4,#5cb8d6)"></i><i style="top:16.53px;background:linear-gradient(90deg,#62ceb4,#c4ce3d,#c4ce3d,#c4ce3d,#c0d03e,#b4d540,#a4d24b,#92d057,#85ce63,#82cd69,#84ce66,#6bcc95,#5fc9c3,#5cb4d5,#5ba2d0,#5b9bce,#5b99ce,#5b98cd,#5b97cd,#5b95cc,#5b90cb,#5b8ac9)"></i><i style="top:18.03px;background:linear-gradient(90deg,#65cda7,#ddba3d,#ddba3d,#ddba3d,#dbbe3c,#d4c63a,#c1cf3e,#abd446,#94d056,#82cd69,#70cb88,#66cda5,#5fcac1,#5cb9d6,#5ba3d1,#5b9ccf,#5b9fcf,#5ba0d0,#5b9fd0,#5b9fd0,#5b9fd0,#5b9fd0)"></i><i style="top:19.53px;background:linear-gradient(90deg,#62cfb4,#add445,#e7ad41,#e7ad41,#e4b040,#deba3e,#d3c73a,#bbd23f,#a2d24c,#8ace5c,#79cc79,#69cc9a,#60cfb8,#5cbfd4,#5bacd3,#5ba3d0,#5b9fd0,#5b9ccf,#5b97cd,#5b94cc,#5b93cc,#5b94cc)"></i><i style="top:21.03px;background:linear-gradient(90deg,#64cead,#e3b240,#e3b240,#e3b240,#dfb83e,#d6c53a,#bbd23f,#9dd150,#80cd6c,#6ccb90,#64cead,#5ec6c8,#5cb9d6,#5cb0d4,#5bacd3,#5ba9d2,#5ba7d1,#5ba8d2,#5cb0d4,#5badd3,#5b9ace,#5b94cc)"></i><i style="top:22.54px;background:linear-gradient(90deg,#62cfb4,#cfc93b,#d3c73a,#d3c73a,#cec93b,#c1cf3e,#aed444,#9ad152,#86ce61,#7acc77,#6dcb8d,#66cda4,#60cebb,#5ec6c8,#5ec6c8,#5fcac1,#60cdbc,#5fcbc0,#5dc2cf,#5cb8d6,#5cb7d5,#5cbad6)"></i><i style="top:24.04px;background:linear-gradient(90deg,#62cfb4,#bbd23f,#e8ab42,#e8ab42,#e4b140,#dbbe3c,#c4ce3d,#a5d34a,#84ce66,#6dcb90,#63ceb0,#5ec5ca,#5cb9d6,#5cb3d5,#5cb3d5,#5cb4d5,#5cb4d5,#5cb9d6,#5dc2ce,#5fc9c2,#5fccbd,#5fccbf)"></i><i style="top:25.54px;background:linear-gradient(90deg,#62cfb4,#b2d541,#deba3e,#deba3e,#dbbd3d,#d3c73a,#bed13e,#a6d349,#90cf59,#7ecd70,#6dcb8d,#66cda6,#5fccbe,#5ec4cb,#5ec4cb,#5fcac1,#61cfb5,#61cfb5,#5fcac2,#5dc1d1,#5cbbd6,#5cb8d6)"></i><i style="top:27.04px;background:linear-gradient(90deg,#62ceb4,#d6c43a,#d6c43b,#d6c43a,#d0c83b,#bed03e,#a6d349,#8ace5d,#70cb89,#61cfb6,#5cb5d5,#5ba0d0,#5b9ecf,#5ba5d1,#5bacd3,#5baad2,#5ba0d0,#5b96cd,#5b90cb,#5b8eca,#5b94cc,#5ba1d0)"></i><i style="top:28.54px;background:linear-gradient(90deg,#62cfb4,#cdca3c,#dbbe3c,#dbbe3c,#d8c23b,#cbcb3c,#b5d540,#9dd14f,#85ce63,#70cb89,#64cead,#5dc1d1,#5ba5d1,#5b93cc,#5b8cc9,#5b8eca,#5b92cb,#5b9ace,#5caed3,#5ec4cb,#62ceb1,#66cda5)"></i><i style="top:30.05px;background:linear-gradient(90deg,#62cfb4,#cec93b,#e8ac42,#e8ac42,#e4b140,#dabf3c,#c2ce3d,#a2d24c,#7fcd6d,#69cc9a,#5fcbbf,#5cb5d5,#5b9fcf,#5b94cc,#5b93cc,#5b95cc,#5b98cd,#5b9ccf,#5ba1d0,#5ba1d0,#5b93cc,#5b8bc9)"></i><i style="top:31.55px;background:linear-gradient(90deg,#62ceb3,#a0d24e,#a0d24e,#a0d24e,#9cd150,#93d056,#87ce60,#7fcd6f,#78cc7a,#72cc85,#6ccb92,#64ceac,#5dc3cd,#5badd3,#5b9dcf,#5b96cd,#5b92cb,#5b95cc,#5b9ecf,#5b9dcf,#5b93cc,#5b8fca)"></i><i style="top:33.05px;background:linear-gradient(90deg,#62cfb4,#93d057,#96d054,#96d054,#93d056,#8ccf5c,#84ce66,#7ccd73,#76cc7e,#6dcb8e,#66cda4,#5ec8c5,#5babd3,#5b8fca,#5b7fc5,#5b7dc4,#5b80c5,#5b87c8,#5b8eca,#5b90cb,#5b8dca,#5b89c8)"></i><i style="top:34.55px;background:linear-gradient(90deg,#62cfb4,#8dcf5b,#b2d541,#b2d541,#add445,#9fd24e,#8dcf5b,#7bcd74,#6ccb91,#68cd9f,#63ceb0,#5dc2cf,#5ba9d2,#5b9dcf,#5ba0d0,#5ba9d2,#5cb1d4,#5cb4d5,#5cb9d6,#5cb6d5,#5ba1d0,#5b94cc)"></i><i style="top:36.06px;background:linear-gradient(90deg,#62cfb4,#aad347,#abd446,#abd446,#a7d349,#9dd150,#8fcf59,#82cd68,#78cc7b,#6ccb90,#67cda3,#60cebb,#5dc0d1,#5cb8d6,#5cb9d6,#5cbad6,#5cb4d5,#5babd3,#5ba6d1,#5ba3d0,#5ba1d0,#5ba1d0)"></i><i style="top:37.56px;background:linear-gradient(90deg,#62cfb4,#8ace5c,#add445,#add445,#a9d347,#a0d24d,#93d056,#86ce61,#7fcd6e,#77cc7d,#6bcb93,#62ceb2,#5cbdd6,#5b9fd0,#5b8cc9,#5b83c6,#5b7fc5,#5b7fc5,#5b81c6,#5b84c7,#5b86c7,#5b87c8)"></i><i style="top:39.06px;background:linear-gradient(90deg,#62cfb4,#98d153,#99d152,#99d152,#96d054,#8fcf59,#85ce63,#7ecd6f,#78cc7a,#73cc83,#6bcb93,#60ceba,#5cb4d5,#5ba0d0,#5b9bce,#5b99ce,#5b92cb,#5b8eca,#5b8dca,#5b8dca,#5b8dca,#5b8dca)"></i><i style="top:40.56px;background:linear-gradient(90deg,#62cfb4,#84ce65,#abd446,#abd446,#a8d348,#a0d24e,#93d056,#87ce60,#80cd6c,#79cc78,#6ccb90,#62ceb3,#5cb8d6,#5b97cd,#5b85c7,#5b83c6,#5b8bc9,#5b91cb,#5b8dca,#5b85c7,#5b7fc5,#5b7ec4)"></i><i style="top:42.07px;background:linear-gradient(90deg,#65ceaa,#c0cf3e,#c0cf3e,#c0d03e,#bbd23f,#aed444,#9cd150,#88ce5e,#7acc76,#6dcb8e,#6acc96,#69cc9a,#62ceb3,#5dc2ce,#5cbad6,#5cb6d5,#5cb3d5,#5cb1d4,#5cb0d4,#5cafd3,#5baad2,#5ba1d0)"></i><i style="top:43.57px;background:linear-gradient(90deg,#62cfb4,#a8d348,#c7cc3c,#c7cc3c,#c0d03e,#aed444,#96d054,#7bcd75,#69cc9c,#60cebb,#5dc0d2,#5cafd4,#5ba2d0,#5b9bce,#5b98cd,#5b97cd,#5b99ce,#5ba4d1,#5cafd3,#5ba8d2,#5b9ace,#5b96cd)"></i><i style="top:45.07px;background:linear-gradient(90deg,#62cfb4,#87ce5f,#a2d24c,#a2d24c,#9ed24f,#94d056,#87ce60,#7dcd71,#70cb88,#68cd9f,#61cfb6,#5dc3cc,#5cb7d5,#5cb0d4,#5cb2d4,#5cb7d5,#5cbbd7,#5cbdd6,#5cbdd7,#5cbad6,#5cb5d5,#5cafd3)"></i><i style="top:46.57px;background:linear-gradient(90deg,#62cfb4,#a5d34b,#bad23f,#bad23f,#b3d541,#a4d24b,#8ecf5a,#76cc7e,#65cda7,#5ec5ca,#5caed3,#5b9ace,#5b8fca,#5b8dca,#5b90cb,#5b96cd,#5b9ccf,#5b9fd0,#5b9bce,#5b8eca,#5b88c8,#5b8bc9)"></i><i style="top:48.07px;background:linear-gradient(90deg,#62cfb4,#96d054,#98d053,#98d053,#94d056,#8ace5c,#81cd6a,#76cc7d,#68cc9d,#5fc9c3,#5caed3,#5b94cc,#5b83c6,#5b7dc4,#5b7ec5,#5b7fc5,#5b80c5,#5b80c5,#5b80c5,#5b81c6,#5b89c8,#5b96cd)"></i><i style="top:49.58px;background:linear-gradient(90deg,#62cfb4,#97d053,#aad347,#aad347,#a7d349,#9dd150,#8fcf5a,#82cd69,#77cc7d,#6ccb92,#66cda4,#61cfb4,#5fcac1,#5ec6c7,#5ec5ca,#5dc3cc,#5dc1d0,#5cbfd4,#5cbfd4,#5dc1d0,#5ec6c7,#5fcbbf)"></i><i style="top:51.08px;background:linear-gradient(90deg,#62cfb4,#82cd68,#95d055,#95d055,#92d058,#89ce5d,#82cd69,#79cc78,#6fcb8b,#66cda4,#5fcac1,#5cb7d6,#5b9fcf,#5b8cc9,#5b7fc5,#5b79c2,#5b76c1,#5b76c1,#5b7ac3,#5b7ec5,#5b82c6,#5b83c6)"></i><i style="top:52.58px;background:linear-gradient(90deg,#62cfb4,#d0c83b,#e0b63f,#e0b63f,#dac03c,#bad23f,#87ce5f,#69cc9b,#5ec6c7,#5cb1d4,#5bacd3,#5cb1d4,#5cb9d6,#5cbdd7,#5cb9d6,#5bacd3,#5b9dcf,#5b92cb,#5b92cb,#5b9ace,#5ba5d1,#5bacd3)"></i><i style="top:54.08px;background:linear-gradient(90deg,#62cfb4,#bcd13f,#dbbe3c,#dbbe3c,#d5c63a,#b9d33f,#8fcf5a,#6ccb90,#5fccbe,#5cb3d4,#5b9fcf,#5b98cd,#5b97cd,#5b95cc,#5b92cb,#5b8dca,#5b8fca,#5ba4d1,#5cbfd4,#5ec6c8,#5ec7c6,#5ec5ca)"></i><i style="top:55.59px;background:linear-gradient(90deg,#62cfb4,#b9d33f,#e7ad41,#e7ad41,#e2b43f,#d5c63a,#b0d443,#84ce65,#69cc9a,#5fc9c3,#5cb3d5,#5ba5d1,#5ba3d1,#5ba9d2,#5cb0d4,#5cafd3,#5ba6d1,#5ba6d1,#5cbed6,#60cfb9,#63ceb0,#60cfb8)"></i><i style="top:57.09px;background:linear-gradient(90deg,#62cfb4,#a7d349,#d7c43b,#d7c43b,#ccca3c,#abd446,#7dcd71,#63ceae,#5cb5d5,#5b92cb,#5b84c7,#5b89c8,#5b8bc9,#5b84c7,#5b84c7,#5b83c6,#5b7fc5,#5b7ec5,#5b84c7,#5b8dca,#5b95cc,#5b99ce)"></i><i style="top:58.59px;background:linear-gradient(90deg,#62cfb4,#d5c63a,#dcbc3d,#dcbc3d,#d7c43b,#bdd13e,#91cf58,#6ccb93,#5ec7c7,#5ba3d1,#5b89c8,#5b7fc5,#5b80c5,#5b85c7,#5b8dca,#5b97cd,#5b98cd,#5b94cc,#5ba8d2,#5fcbc0,#71cb87,#86ce62)"></i><i style="top:60.09px;background:linear-gradient(90deg,#64ceac,#dbbe3c,#dbbe3c,#dbbe3c,#d7c33b,#c5cd3d,#abd446,#89ce5d,#6ecb8c,#63ceb0,#5ec4cb,#5cb4d5,#5ba8d2,#5ba1d0,#5b9bce,#5b92cb,#5b8ac9,#5b8cc9,#5ba2d0,#5cb1d4,#5cb0d4,#5cb1d4)"></i><i style="top:61.60px;background:linear-gradient(90deg,#62cfb4,#d0c83b,#d4c63a,#d4c63a,#cbcb3c,#b5d540,#95d055,#74cc82,#62ceb2,#5cbad6,#5ba0d0,#5b98cd,#5b9fd0,#5ba5d1,#5b9dcf,#5b93cc,#5b8dca,#5b8eca,#5b97cd,#5ba6d1,#5cb3d4,#5cb8d6)"></i><i style="top:63.10px;background:linear-gradient(90deg,#62cfb4,#a2d24c,#cdca3b,#cdca3b,#c1cf3e,#9fd24e,#78cc7a,#63ceaf,#5cbad6,#5b9fcf,#5b94cc,#5b94cc,#5b99ce,#5ba3d1,#5bacd3,#5babd2,#5ba4d1,#5ba1d0,#5babd2,#5cbad6,#5dc3cc,#5ec6c7)"></i><i style="top:64.60px;background:linear-gradient(90deg,#62cfb4,#e8ac42,#e8b042,#e8b042,#e6ae41,#dabf3c,#bed13e,#94d056,#71cb87,#62ceb2,#5dc3cd,#5cbdd7,#5cb6d5,#5ba8d2,#5b9bce,#5b93cc,#5b8fca,#5b93cc,#5ba6d1,#5cbed5,#5fcbbf,#61cfb6)"></i><i style="top:66.10px;background:linear-gradient(90deg,#62cfb4,#a1d24d,#afd444,#aed444,#a9d348,#9bd151,#87ce5f,#74cc82,#66cda6,#5ec5c9,#5cadd3,#5b97cd,#5b88c8,#5b7fc5,#5b81c6,#5b8bc9,#5b92cb,#5b95cc,#5b96cd,#5b96cd,#5b94cc,#5b8bc9)"></i><i style="top:67.61px;background:linear-gradient(90deg,#62cfb4,#7fcd6d,#93d057,#93d057,#8ecf5a,#85ce63,#7ccd74,#6dcb8f,#65cda8,#60cebb,#5dc3cd,#5cb0d4,#5ba1d0,#5b9ecf,#5b9fd0,#5b9ccf,#5b98cd,#5b99ce,#5ba0d0,#5ba9d2,#5babd3,#5ba6d1)"></i><i style="top:69.11px;background:linear-gradient(90deg,#62cfb4,#8ecf5a,#90cf59,#90cf59,#8ccf5b,#84ce65,#7ccd74,#70cb89,#68cda0,#60cfb8,#5dc2cf,#5cb2d4,#5ba5d1,#5b9fd0,#5ba0d0,#5ba4d1,#5caed3,#5cbed6,#5ec6c8,#5dc1d0,#5cb1d4,#5ba6d1)"></i><i style="top:70.61px;background:linear-gradient(90deg,#62cfb4,#a5d34a,#a9d347,#a9d348,#a2d24c,#8fcf59,#76cc7d,#64ceaa,#5cbfd4,#5b9ecf,#5b89c8,#5b82c6,#5b87c8,#5b8cc9,#5b86c7,#5b7ec4,#5b7bc3,#5b7cc4,#5b7fc5,#5b84c7,#5b87c8,#5b80c5)"></i><i style="top:72.11px;background:linear-gradient(90deg,#62cfb4,#87ce5f,#8ace5c,#8ace5c,#87ce60,#80cd6c,#77cc7d,#6bcc94,#64ceac,#5fc9c3,#5dc1d1,#5cbcd7,#5babd2,#5b97cd,#5b91cb,#5b95cc,#5b9fcf,#5ba9d2,#5cb2d4,#5cb8d6,#5cbcd7,#5cbdd7)"></i><i style="top:73.61px;background:linear-gradient(90deg,#62ceb2,#a6d34a,#a6d34a,#a6d34a,#a0d24e,#92d057,#81cd6a,#6dcb8d,#64ceac,#5fcac2,#5ec5ca,#5dc3cd,#5dc3ce,#5dc1d0,#5cb9d6,#5caed3,#5bacd3,#5cb6d5,#5dc4cc,#5fcbc0,#60cdbc,#5fccbe)"></i><i style="top:75.12px;background:linear-gradient(90deg,#63ceae,#a9d348,#a9d348,#a9d348,#a2d24d,#8fcf59,#79cc79,#67cda1,#5ec7c6,#5cadd3,#5b96cd,#5b89c8,#5b84c7,#5b84c7,#5b8ac9,#5b98cd,#5babd3,#5cbad6,#5cbdd7,#5cb7d5,#5cadd3,#5ba6d1)"></i><i style="top:76.62px;background:linear-gradient(90deg,#62cfb4,#88ce5e,#9ed14f,#9dd14f,#98d153,#8ccf5b,#7fcd6e,#6dcb8e,#64ceab,#5fc9c3,#5dc1d1,#5cb8d6,#5cafd3,#5ba6d1,#5b9ccf,#5b94cc,#5b90cb,#5b8dca,#5b8ac9,#5b87c8,#5b86c7,#5b8ac9)"></i><i style="top:78.12px;background:linear-gradient(90deg,#64ceab,#9dd150,#9dd150,#9dd150,#97d053,#8bce5c,#7dcd71,#6bcc94,#60cfb9,#5cb4d5,#5b91cb,#5b7fc5,#5b7dc4,#5b82c6,#5b88c8,#5b8bc9,#5b8cc9,#5b8dca,#5b8fca,#5b91cb,#5b91cb,#5b92cb)"></i><i style="top:79.62px;background:linear-gradient(90deg,#62cfb4,#bdd13e,#e3b240,#e3b240,#e0b63f,#d8c13b,#c4ce3d,#a8d348,#8bce5c,#74cc82,#66cda6,#5ec8c5,#5cb7d6,#5ba8d2,#5ba1d0,#5b9ecf,#5b9dcf,#5b9dcf,#5b9ecf,#5b9fcf,#5ba1d0,#5ba3d1)"></i><i style="top:81.13px;background:linear-gradient(90deg,#62cfb4,#cfc93b,#d6c53a,#d6c53a,#d0c83b,#c2cf3d,#add444,#97d054,#81cd6b,#6ccb90,#62ceb3,#5dc0d2,#5ba9d2,#5b9ace,#5b97cd,#5b9bce,#5ba1d0,#5ba7d1,#5bacd3,#5cb0d4,#5cb1d4,#5cafd4)"></i><i style="top:82.63px;background:linear-gradient(90deg,#63ceb0,#d5c63a,#d5c63a,#d5c63a,#cfc93b,#bfd03e,#a9d347,#91cf58,#7acc77,#69cc9d,#5fccbe,#5cbcd7,#5babd3,#5ba7d1,#5babd3,#5cb4d5,#5cbad6,#5cbbd6,#5cb7d5,#5cb1d4,#5badd3,#5ba9d2)"></i><i style="top:84.13px;background:linear-gradient(90deg,#62cfb4,#b2d541,#cacb3c,#cacb3c,#c6cd3d,#bcd13f,#add445,#9cd150,#87ce60,#76cc7e,#68cc9e,#61cfb7,#5ec5c9,#5cbdd7,#5cb4d5,#5cb0d4,#5cb0d4,#5cafd4,#5cafd4,#5cb5d5,#5dc1d1,#5cbdd6)"></i><i style="top:85.63px;background:linear-gradient(90deg,#62cfb4,#abd446,#e1b63f,#e1b63f,#ddbb3d,#d0c83b,#b3d541,#92d057,#74cc82,#64ceab,#5dc3cd,#5cafd4,#5ba6d1,#5babd3,#5cbdd7,#5cbdd7,#5cadd3,#5baad2,#5cb5d5,#5dc2cf,#5ec5ca,#5cbfd4)"></i><i style="top:87.14px;background:linear-gradient(90deg,#62cfb4,#ddbb3d,#dfb73e,#dfb73e,#dcbc3d,#d5c63a,#bed03e,#a4d24b,#86ce62,#6bcb93,#5ec6c7,#5ba8d2,#5b9ccf,#5b99ce,#5b99ce,#5b9ccf,#5b9ecf,#5b9fd0,#5ba4d1,#5cadd3,#5cb3d4,#5caed3)"></i><i style="top:88.64px;background:linear-gradient(90deg,#63ceaf,#e8ab42,#e8ab42,#e8ab42,#e4b140,#d9c13c,#bdd13e,#98d153,#77cc7d,#64ceac,#5dc0d2,#5cafd4,#5badd3,#5cb0d4,#5cb2d4,#5cb3d5,#5cb3d4,#5cb2d4,#5cb1d4,#5cb1d4,#5cb1d4,#5cb2d4)"></i><i style="top:90.14px;background:linear-gradient(90deg,#62cfb4,#96d055,#d1c83b,#d1c83b,#cacb3c,#b8d33f,#a2d24d,#86ce62,#6ecb8c,#62ceb1,#5cbfd4,#5ba8d2,#5ba0d0,#5b9fd0,#5ba0d0,#5ba3d1,#5babd3,#5cb6d5,#5cbed6,#5cbcd7,#5cbad6,#5dc1d0)"></i><i style="top:91.64px;background:linear-gradient(90deg,#62cfb4,#bbd23f,#d1c83b,#d1c83b,#ccca3c,#bfd03e,#add445,#99d152,#88ce5f,#80cd6c,#79cc79,#6bcc93,#62ceb4,#5dc1d1,#5cb0d4,#5ba5d1,#5b9dcf,#5b97cd,#5b97cd,#5b9bce,#5ba2d0,#5baad2)"></i><i style="top:93.14px;background:linear-gradient(90deg,#62cfb4,#deba3e,#e2b43f,#e1b43f,#deb93e,#d5c63a,#bbd23f,#9ed14f,#81cd6b,#6ccb92,#63ceb0,#5ec6c8,#5cbdd6,#5cb9d6,#5cb8d6,#5cb9d6,#5cbbd6,#5cb8d6,#5cafd4,#5baad2,#5caed3,#5cb4d5)"></i><i style="top:94.65px;background:linear-gradient(90deg,#63ceb0,#e8b042,#e8b042,#e8b042,#e8ac42,#e0b63f,#d6c53a,#bbd23f,#a2d24d,#8ace5d,#78cc7a,#69cc9a,#61cfb6,#5dc3cd,#5cb4d5,#5ba7d1,#5b9ccf,#5b93cc,#5b90cb,#5b93cc,#5b99ce,#5b9fcf)"></i><i style="top:96.15px;background:linear-gradient(90deg,#62cfb4,#b4d540,#dabe3c,#dabe3c,#d8c23b,#cdca3c,#b8d33f,#a1d24d,#89ce5e,#73cc84,#61cfb6,#5cb4d5,#5ba2d0,#5b96cd,#5b8dca,#5b8cc9,#5b8cc9,#5b8bc9,#5b8ac9,#5b89c8,#5b8bc9,#5b8dca)"></i><i style="top:97.65px;background:linear-gradient(90deg,#62cfb4,#e5af41,#e6ae41,#e6ae41,#e2b43f,#d8c23b,#bdd13e,#9cd150,#7ccd73,#69cc9d,#60cdbc,#5dc1d0,#5cbbd7,#5cb4d5,#5bacd3,#5ba5d1,#5ba4d1,#5ba8d2,#5bacd3,#5cafd4,#5cb2d4,#5cb4d5)"></i><i style="top:99.15px;background:linear-gradient(90deg,#62cfb4,#ddba3d,#e4b140,#e4b140,#e2b43f,#dbbd3d,#cfc93b,#b7d43f,#9fd24e,#88ce5e,#7bcd76,#6acc99,#5fccbe,#5cbbd7,#5baad2,#5ba1d0,#5b9dcf,#5b9ccf,#5b9ecf,#5ba5d1,#5cb0d4,#5cbdd7)"></i><i style="top:100.66px;background:linear-gradient(90deg,#63ceae,#e8ae42,#e8ae42,#e8ae42,#e6ae41,#dcbc3d,#c9cc3c,#a9d347,#86ce62,#6ccb93,#60cebb,#5cb6d5,#5b9dcf,#5b91cb,#5b8bc9,#5b87c8,#5b83c6,#5b7fc5,#5b7ec5,#5b80c5,#5b83c6,#5b87c8)"></i><i style="top:102.16px;background:linear-gradient(90deg,#62cfb4,#a5d34a,#cdc93b,#cdc93b,#c7cc3c,#b8d33f,#a5d34b,#8dcf5a,#77cc7c,#65cda8,#5dc0d2,#5ba3d0,#5b96cd,#5b92cb,#5b8ac9,#5b83c6,#5b84c7,#5b85c7,#5b88c8,#5b92cb,#5b97cd,#5b90cb)"></i><i style="top:103.66px;background:linear-gradient(90deg,#62cfb4,#d3c73a,#d4c63a,#d4c63a,#cec93b,#bfd03e,#abd446,#94d055,#7ecd6f,#6acc97,#60cebb,#5cbcd7,#5ba8d2,#5b9fcf,#5b9ccf,#5b9ace,#5b93cc,#5b8cc9,#5b8ac9,#5b8dca,#5b8eca,#5b93cc)"></i><i style="top:105.16px;background:linear-gradient(90deg,#62cfb4,#d9c03c,#dbbd3d,#dbbd3d,#d9c13c,#cec93b,#b9d33f,#a2d24c,#8ace5d,#76cc7e,#68cda0,#5fccbe,#5cbfd4,#5cb4d5,#5ba9d2,#5ba1d0,#5ba3d1,#5ba9d2,#5ba5d1,#5ba7d2,#5cb9d6,#5cb9d6)"></i><i style="top:106.67px;background:linear-gradient(90deg,#62cfb4,#b3d541,#b4d540,#b4d540,#b0d443,#a7d349,#99d153,#88ce5e,#7ccd73,#6ccb90,#62ceb1,#5cbed5,#5ba0d0,#5b86c7,#5b79c2,#5b76c1,#5b7bc3,#5b7ec4,#5a73c0,#5a75c0,#5b7cc4,#5b81c6)"></i><i style="top:108.17px;background:linear-gradient(90deg,#62cfb4,#a1d24d,#afd443,#afd443,#aad347,#9ed24f,#8dcf5b,#7dcd72,#6bcc94,#61cfb4,#5dc0d2,#5ba9d2,#5b9ace,#5b92cb,#5b92cb,#5b95cc,#5b98cd,#5b97cd,#5b97cd,#5b99ce,#5b9ecf,#5ba0d0)"></i><i style="top:109.67px;background:linear-gradient(90deg,#62cfb4,#a9d347,#bdd13e,#bdd13e,#b6d440,#a8d348,#94d056,#7fcd6f,#6acc98,#5fc9c3,#5ba1d0,#5b7ec5,#5b7bc3,#5b92cb,#5ba2d0,#5b98cd,#5b8bc9,#5b85c7,#5b84c7,#5b86c7,#5b88c8,#5b8bc9)"></i><i style="top:111.17px;background:linear-gradient(90deg,#63ceae,#abd446,#abd446,#abd446,#a8d348,#9ed24f,#91cf58,#83cd66,#78cc7b,#6acc97,#61cfb4,#5dc2cf,#5cb1d4,#5bacd3,#5cb4d5,#5cb7d5,#5cb0d4,#5ba8d2,#5ba2d0,#5b9ecf,#5b9fd0,#5ba0d0)"></i><i style="top:112.68px;background:linear-gradient(90deg,#62cfb4,#9dd14f,#9fd24e,#9fd24e,#9cd150,#93d056,#87ce5f,#7ecd6f,#74cc82,#69cc9c,#60ceba,#5cbdd7,#5ba6d1,#5b9ace,#5b9dcf,#5bacd3,#5cb6d5,#5bacd3,#5b98cd,#5b8bc9,#5b87c8,#5b88c8)"></i><i style="top:114.18px;background:linear-gradient(90deg,#62ceb3,#c7cc3d,#c7cc3d,#c7cc3d,#c2cf3e,#b5d540,#a4d24b,#8fcf59,#7dcd71,#6bcc95,#60cfb8,#5cbed6,#5babd3,#5ba5d1,#5ba8d2,#5baad2,#5ba3d1,#5b9bce,#5b97cd,#5b99ce,#5b9ecf,#5ba3d0)"></i><i style="top:115.68px;background:linear-gradient(90deg,#65ceaa,#b9d33f,#b9d33f,#b9d33f,#b4d540,#a8d348,#96d054,#84ce65,#72cc86,#65cda8,#5fcac2,#5cbed5,#5ba7d1,#5b92cb,#5b8bc9,#5b8bc9,#5b8bc9,#5b8ac9,#5b8ac9,#5b8bc9,#5b8cc9,#5b8eca)"></i><i style="top:117.18px;background:linear-gradient(90deg,#62cfb4,#82cd68,#92d057,#92d057,#8ecf5a,#86ce62,#7ecd71,#71cb86,#66cda4,#5fc8c4,#5cb2d4,#5b9bce,#5b8dca,#5b88c8,#5b88c8,#5b87c8,#5b86c7,#5b83c6,#5b7fc5,#5b7dc4,#5b7cc4,#5b7ec5)"></i><i style="top:118.68px;background:linear-gradient(90deg,#65ceaa,#9fd24e,#9fd24e,#9fd24e,#9cd151,#93d057,#86ce61,#7dcd72,#70cb88,#66cda5,#5fc9c4,#5cb5d5,#5ba0d0,#5b94cc,#5b91cb,#5b91cb,#5b90cb,#5b8eca,#5b8cc9,#5b8bc9,#5b89c8,#5b89c8)"></i><i style="top:120.19px;background:linear-gradient(90deg,#62cfb4,#8dcf5b,#9ad152,#9ad152,#95d055,#8ace5c,#80cd6c,#72cc86,#66cda5,#5ec7c6,#5cb1d4,#5b9ace,#5b8eca,#5b8bc9,#5b8cc9,#5b90cb,#5b97cd,#5ba2d0,#5babd2,#5caed3,#5bacd3,#5ba9d2)"></i><i style="top:121.69px;background:linear-gradient(90deg,#62cfb4,#92d057,#92d057,#92d057,#8fcf59,#88ce5f,#81cd6b,#79cc79,#6fcb8b,#67cda1,#60cdbc,#5cbbd6,#5ba1d0,#5b90cb,#5b89c8,#5b89c8,#5b89c8,#5b88c8,#5b88c8,#5b88c8,#5b89c8,#5b89c8)"></i><i style="top:123.19px;background:linear-gradient(90deg,#65cda8,#bdd13e,#bdd13e,#bdd13e,#b7d33f,#aad347,#98d053,#84ce66,#6fcb8b,#62ceb1,#5cbdd7,#5b9dcf,#5b86c7,#5b7bc3,#5b77c1,#5b76c1,#5b77c2,#5b7bc3,#5b7ec5,#5b80c5,#5b7fc5,#5b7dc4)"></i><i style="top:124.69px;background:linear-gradient(90deg,#62cfb4,#99d153,#9ad152,#9ad152,#96d054,#8dcf5b,#83cd68,#78cc7a,#6acc97,#60ceba,#5cb6d5,#5b98cd,#5b84c7,#5b82c6,#5b92cb,#5ba0d0,#5ba2d0,#5ba1d0,#5b9ccf,#5b96cd,#5b91cb,#5b8dca)"></i><i style="top:126.20px;background:linear-gradient(90deg,#62cfb4,#bdd13e,#c6cd3d,#c6cd3d,#bfd03e,#b0d443,#9cd150,#85ce64,#6dcb90,#60cebb,#5cafd3,#5b8dca,#5b7bc3,#5b79c2,#5b86c7,#5b99ce,#5ba5d1,#5b9ecf,#5b91cb,#5b88c8,#5b85c7,#5b85c7)"></i><i style="top:127.70px;background:linear-gradient(90deg,#62cfb4,#85ce64,#afd443,#afd443,#aad347,#9ed24f,#8dcf5a,#7ecd71,#6bcc95,#60cdbc,#5cb3d4,#5b93cc,#5b80c5,#5b7cc4,#5b7ec5,#5b7fc5,#5b82c6,#5b87c8,#5b88c8,#5b85c7,#5b81c6,#5b80c5)"></i><i style="top:129.20px;background:linear-gradient(90deg,#62ceb2,#b4d540,#b4d540,#b4d540,#aed444,#9fd24e,#88ce5e,#71cb86,#63ceb1,#5cbbd6,#5b98cd,#5b82c6,#5b82c6,#5b97cd,#5b8dca,#5b87c8,#5b8dca,#5b95cc,#5ba5d1,#5cb6d5,#5dc0d1,#5dc2cf)"></i><i style="top:130.70px;background:linear-gradient(90deg,#62cfb4,#91cf58,#9cd151,#9cd151,#98d153,#8fcf59,#84ce65,#7acc76,#6dcb8f,#63ceaf,#5cbfd4,#5b9ecf,#5b83c6,#5b78c2,#5b76c1,#5b78c2,#5b7bc3,#5b7dc4,#5b7ec5,#5b7dc4,#5b7ec4,#5b87c8)"></i><i style="top:132.21px;background:linear-gradient(90deg,#62cfb4,#a9d348,#abd446,#abd446,#a6d34a,#98d153,#86ce61,#75cc7f,#69cc9c,#62ceb3,#5ec7c7,#5cb9d6,#5babd3,#5ba5d1,#5ba3d0,#5ba3d0,#5ba3d1,#5ba4d1,#5ba4d1,#5ba5d1,#5babd3,#5cbdd7)"></i><i style="top:133.71px;background:linear-gradient(90deg,#62cfb4,#b7d33f,#bcd23f,#bcd23f,#b5d440,#a8d348,#94d056,#7fcd6e,#6acc96,#5fcbc0,#5caed3,#5b90cb,#5b81c6,#5b7fc5,#5b85c7,#5b8cc9,#5b90cb,#5b92cb,#5b91cb,#5b8fca,#5b8eca,#5b8dca)"></i><i style="top:135.21px;background:linear-gradient(90deg,#62cfb4,#a5d34a,#abd446,#abd446,#a5d34a,#97d054,#83cd66,#6ecb8d,#62ceb1,#5dc4cc,#5cb8d6,#5ba2d0,#5b8eca,#5b86c7,#5b81c6,#5b7bc3,#5b7cc4,#5b89c8,#5b9bce,#5bacd3,#5cbbd7,#5dc0d2)"></i><i style="top:136.71px;background:linear-gradient(90deg,#62cfb4,#83cd66,#85ce64,#85ce64,#83cd67,#7fcd6e,#7acc77,#73cc84,#6ccb91,#67cda3,#60cebb,#5cbed6,#5ba5d1,#5b97cd,#5b9fcf,#5cb1d4,#5cb6d5,#5cafd3,#5ba6d1,#5ba1d0,#5ba0d0,#5b9fd0)"></i><i style="top:138.21px;background:linear-gradient(90deg,#62cfb4,#7fcd6e,#85ce63,#85ce63,#84ce66,#7fcd6e,#78cc7a,#71cb87,#6acc99,#64ceab,#60cdbc,#5ec4cc,#5cbdd7,#5cbfd4,#5cbbd6,#5babd3,#5ba6d1,#5ba5d1,#5ba3d1,#5ba0d0,#5b9dcf,#5b9ace)"></i><i style="top:139.72px;background:linear-gradient(90deg,#62cfb4,#87ce60,#87ce60,#87ce60,#85ce64,#7ecd6f,#75cc80,#6acc99,#61cfb5,#5dc2cf,#5cafd3,#5ba2d0,#5b9dcf,#5b9fd0,#5ba2d0,#5ba4d1,#5ba5d1,#5ba5d1,#5ba6d1,#5baad2,#5cb0d4,#5cb3d5)"></i><i style="top:141.22px;background:linear-gradient(90deg,#62cfb4,#abd446,#aed444,#aed444,#a8d348,#9ad152,#87ce60,#75cc7f,#67cda1,#5fccbe,#5cbed5,#5cb5d5,#5cb6d5,#5cb7d5,#5cadd3,#5ba3d1,#5ba0d0,#5ba3d0,#5ba5d1,#5ba6d1,#5ba6d1,#5ba6d1)"></i><i style="top:142.72px;background:linear-gradient(90deg,#62ceb1,#8dcf5b,#8dcf5b,#8dcf5b,#8ace5d,#85ce63,#7fcd6e,#77cc7c,#6fcb8a,#69cc9c,#63ceaf,#5fcbc0,#5ec4cb,#5dc1d1,#5dc0d1,#5dc0d2,#5cbbd6,#5cb1d4,#5ba7d1,#5ba0d0,#5b9ecf,#5b9ecf)"></i><i style="top:144.22px;background:linear-gradient(90deg,#62cfb4,#add444,#aed444,#aed444,#a9d348,#9dd150,#8ccf5b,#7ecd70,#6dcb90,#64cead,#5ec6c8,#5cb6d5,#5baad2,#5ba6d1,#5baad2,#5cb5d5,#5cbdd7,#5cb7d5,#5ba9d2,#5ba3d1,#5ba1d0,#5b9fd0)"></i><i style="top:145.73px;background:linear-gradient(90deg,#62cfb4,#86ce62,#88ce5f,#87ce5f,#86ce62,#82cd68,#7dcd72,#76cc7e,#6fcb8b,#6ccb93,#67cda1,#5fcac2,#5cbad6,#5badd3,#5ba8d2,#5babd2,#5caed3,#5cadd3,#5baad2,#5ba5d1,#5ba1d0,#5b9dcf)"></i><i style="top:147.23px;background:linear-gradient(90deg,#62cfb4,#a0d24e,#a0d24e,#a0d24e,#9bd151,#91cf58,#84ce64,#79cc79,#6acc99,#60cebb,#5cb8d6,#5b9ecf,#5b8fca,#5b89c8,#5b8cc9,#5b8fca,#5b92cb,#5b94cc,#5b96cd,#5b9bce,#5ba0d0,#5b9ccf)"></i><i style="top:148.73px;background:linear-gradient(90deg,#62ceb1,#aad347,#aad347,#aad347,#a6d349,#9bd151,#8ccf5b,#80cd6d,#6fcb8b,#64ceac,#5dc3ce,#5bacd3,#5b9ccf,#5b96cd,#5b9fd0,#5ba0d0,#5b91cb,#5b89c8,#5b88c8,#5b89c8,#5b8cc9,#5b8fca)"></i><i style="top:150.23px;background:linear-gradient(90deg,#62cfb4,#91cf58,#92d057,#92d057,#8ecf5a,#87ce5f,#80cd6c,#78cc7a,#6ecb8d,#66cda6,#5ec8c4,#5cb3d4,#5b9bce,#5b8dca,#5b8ac9,#5b8fca,#5b96cd,#5b9bce,#5b9bce,#5b95cc,#5b8bc9,#5b84c7)"></i><i style="top:151.74px;background:linear-gradient(90deg,#62cfb4,#88ce5f,#9ad152,#9ad152,#97d054,#8fcf59,#85ce63,#7dcd72,#74cc82,#6acc97,#62ceb1,#5ec4cb,#5cb4d5,#5ba8d2,#5ba7d2,#5badd3,#5bacd3,#5ba1d0,#5b97cd,#5b95cc,#5b95cc,#5b95cc)"></i><i style="top:153.24px;background:linear-gradient(90deg,#62cfb4,#94d056,#a0d24e,#a0d24e,#9cd151,#91d058,#85ce63,#7acc77,#6ccb93,#63ceae,#5ec7c6,#5cb9d6,#5ba9d2,#5ba1d0,#5b9fd0,#5b9fcf,#5b9fcf,#5b9ecf,#5b9ccf,#5b9ccf,#5b9bce,#5b99ce)"></i><i style="top:154.74px;background:linear-gradient(90deg,#62cfb4,#84ce65,#8bcf5c,#8bcf5c,#88ce5e,#84ce65,#7ecd6f,#77cc7d,#6dcb8e,#66cda5,#5fcbc0,#5cbed5,#5cb0d4,#5ba7d1,#5ba3d1,#5ba4d1,#5ba6d1,#5baad2,#5cafd3,#5cb2d4,#5cb3d4,#5cb1d4)"></i><i style="top:156.24px;background:linear-gradient(90deg,#62ceb3,#88ce5e,#88ce5e,#88ce5e,#87ce60,#82cd68,#7ccd73,#75cc7f,#6ecb8d,#6bcc95,#6ccb91,#63ceae,#5cb9d6,#5ba0d0,#5b94cc,#5b8fca,#5b8bc9,#5b89c8,#5b89c8,#5b8ac9,#5b8ac9,#5b89c8)"></i><i style="top:157.75px;background:linear-gradient(90deg,#62cfb4,#78cc7a,#8fcf59,#8fcf59,#8bce5c,#84ce66,#7bcd75,#6ecb8d,#65ceaa,#5ec6c8,#5cb2d4,#5b9ecf,#5b91cb,#5b89c8,#5b81c6,#5b7dc4,#5b7dc4,#5b7fc5,#5b87c8,#5b8dca,#5b8eca,#5b8eca)"></i><i style="top:159.25px;background:linear-gradient(90deg,#62cfb4,#88ce5f,#8ace5c,#8ace5c,#87ce60,#80cd6c,#76cc7f,#6acc99,#63ceb0,#5fc9c3,#5dc2cf,#5cbad6,#5cb2d4,#5caed3,#5badd3,#5cadd3,#5cb2d4,#5cb9d6,#5dbfd3,#5dc3cd,#5ec7c7,#5ec5ca)"></i><i style="top:160.75px;background:linear-gradient(90deg,#62cfb4,#cec93b,#e2b43f,#e2b43f,#dfb73e,#dabf3c,#cdc93b,#b8d33f,#a2d24c,#8ccf5b,#7dcd71,#6bcb93,#61cfb6,#5cbdd7,#5ba5d1,#5b97cd,#5b92cb,#5b91cb,#5b91cb,#5b93cc,#5b93cc,#5b8fca)"></i><i style="top:162.25px;background:linear-gradient(90deg,#62ceb3,#dabf3c,#dabf3c,#dabf3c,#d8c23b,#d0c83b,#bfd03e,#abd446,#97d054,#86ce62,#7ccd74,#6fcb8b,#67cda3,#62ceb3,#62ceb2,#65cda8,#66cda5,#63ceaf,#5fcdbd,#5fc9c3,#5fcbc0,#60cebb)"></i><i style="top:163.75px;background:linear-gradient(90deg,#62cfb4,#d5c63a,#d5c53a,#d5c53a,#d0c83b,#c0cf3e,#abd446,#93d056,#7ccd74,#69cc9b,#60cdbc,#5cbad6,#5ba4d1,#5b9ace,#5b9ccf,#5b9dcf,#5b99ce,#5b94cc,#5b8fca,#5b8ac9,#5b85c7,#5b81c6)"></i><i style="top:165.26px;background:linear-gradient(90deg,#62cfb4,#d6c53a,#e5af41,#e5af41,#e2b43f,#d9c13c,#c2cf3e,#a4d24b,#85ce64,#71cb87,#68cd9f,#63ceb0,#60cebb,#61cfb5,#65cea9,#65ceaa,#63ceae,#64ceac,#65cda8,#64ceac,#61cfb7,#5ec8c4)"></i><i style="top:166.76px;background:linear-gradient(90deg,#62cfb4,#aad347,#dabf3c,#dabf3c,#d7c33b,#cbca3c,#b7d440,#a0d24e,#89ce5d,#78cc7a,#6bcc96,#62ceb2,#5dc0d1,#5badd3,#5ba7d1,#5cb4d5,#5cb7d5,#5ba4d1,#5b9ace,#5b98cd,#5b96cd,#5b95cc)"></i><i style="top:168.26px;background:linear-gradient(90deg,#62cfb4,#b1d542,#d4c63a,#d4c63a,#cec93b,#bed13e,#a8d348,#90cf59,#78cc7b,#67cda2,#5fcbc0,#5cbed6,#5babd3,#5ba1d0,#5ba1d0,#5ba5d1,#5babd2,#5cb1d4,#5cb6d5,#5cbad6,#5cbbd6,#5cbad6)"></i><i style="top:169.76px;background:linear-gradient(90deg,#64ceac,#e3b340,#e3b340,#e3b340,#e0b63f,#dac03c,#cacb3c,#b2d541,#9cd150,#90cf58,#8ecf5a,#7fcd6d,#67cda2,#5dc3cd,#5cb4d5,#5cb3d4,#5cbbd6,#5dc2cf,#5fc9c4,#5fcbc0,#5ec4cb,#5cb8d6)"></i><i style="top:171.27px;background:linear-gradient(90deg,#62cfb4,#c0d03e,#e7ac42,#e7ad42,#e4b040,#ddba3e,#d2c73b,#b7d33f,#9ad152,#7fcd6d,#6dcb8d,#66cda4,#5fcdbd,#5dc1d1,#5cb9d6,#5cb6d5,#5cb7d5,#5cb7d5,#5cb6d5,#5cb4d5,#5badd3,#5ba7d1)"></i><i style="top:172.77px;background:linear-gradient(90deg,#62cfb4,#dbbe3c,#dfb73e,#dfb73e,#dcbc3d,#d1c83b,#b6d440,#9ad152,#7ecd70,#6bcc95,#63ceaf,#5fc9c4,#5dc0d2,#5dc1d0,#5ec7c7,#5dc4cc,#5cbfd4,#5dc3ce,#5ec6c8,#5cb8d6,#5ba8d2,#5babd2)"></i><i style="top:174.27px;background:linear-gradient(90deg,#62ceb1,#deb93e,#deb93e,#deb93e,#dcbc3d,#d5c63a,#c2cf3d,#abd446,#94d056,#82cd68,#79cc78,#6dcb8f,#60cebb,#5cb3d4,#5ba2d0,#5b9fd0,#5ba5d1,#5cb5d5,#5cb6d5,#5ba6d1,#5ba1d0,#5ba0d0)"></i><i style="top:175.77px;background:linear-gradient(90deg,#62cfb4,#b3d540,#e7ac42,#e7ac42,#e3b240,#d9c03c,#c0cf3e,#9fd24e,#7ecd71,#69cc9b,#60cdbc,#5cbfd4,#5cb6d5,#5cb8d6,#5cbbd6,#5dc1d0,#5fc8c4,#5dc0d2,#5cb0d4,#5ba9d2,#5ba8d2,#5ba8d2)"></i><i style="top:177.28px;background:linear-gradient(90deg,#66cda4,#e3b240,#e3b240,#e3b340,#dfb73e,#d7c33b,#c0cf3e,#a4d34b,#88ce5f,#75cc7f,#6acc99,#63ceb0,#5fc9c3,#5dc3cd,#5ec4cc,#5fcac2,#60cfb9,#61cfb7,#64cead,#69cc9c,#6fcb8a,#72cc86)"></i><i style="top:178.78px;background:linear-gradient(90deg,#64ceac,#e8ac42,#e8ac42,#e8ac42,#e5af41,#ddbb3d,#cdca3b,#b0d443,#93d057,#7ccd73,#6ecb8c,#63ceb0,#5cbbd6,#5ba3d0,#5b98cd,#5b96cd,#5b9ace,#5ba3d1,#5cb0d4,#5cb9d6,#5cbed6,#5cbcd7)"></i><i style="top:180.28px;background:linear-gradient(90deg,#62ceb1,#d8c23b,#d8c23b,#d8c23b,#d5c63a,#c4ce3d,#add445,#94d056,#7ccd73,#6bcc95,#64ceac,#5fc9c2,#5cbcd7,#5caed3,#5ba8d2,#5ba8d2,#5ba8d2,#5ba4d1,#5ba1d0,#5ba0d0,#5ba2d0,#5ba3d1)"></i><i style="top:181.78px;background:linear-gradient(90deg,#64ceaa,#d8c23b,#d8c23b,#d8c23b,#d6c53a,#c8cc3c,#b5d540,#9fd24e,#87ce5f,#73cc83,#6acc99,#6acc98,#63ceae,#5dc1d1,#5cb2d4,#5cafd4,#5cb2d4,#5cb5d5,#5cb7d6,#5cb9d6,#5cb8d6,#5cb6d5)"></i><i style="top:183.29px;background:linear-gradient(90deg,#62cfb4,#a2d24c,#a5d34a,#a5d34a,#a1d24d,#97d053,#89ce5d,#7ecd6f,#70cb88,#66cda5,#5ec8c5,#5cb4d5,#5b9ecf,#5b91cb,#5b8cc9,#5b8ac9,#5b87c8,#5b8ac9,#5b93cc,#5b92cb,#5b8bc9,#5b8ac9)"></i><i style="top:184.79px;background:linear-gradient(90deg,#62cfb4,#aed444,#bdd13e,#bdd13e,#b8d33f,#add445,#9dd150,#89ce5d,#7bcd76,#6acc97,#60cfb8,#5cbed6,#5ba6d1,#5b96cd,#5b8fca,#5b91cb,#5b9ccf,#5cafd3,#5cbfd4,#5ec5ca,#5dc3cd,#5cbcd7)"></i><i style="top:186.29px;background:linear-gradient(90deg,#63ceb0,#c8cc3c,#c8cc3c,#c8cc3c,#c2cf3d,#b3d541,#a0d24e,#89ce5d,#77cc7d,#68cc9d,#60ceba,#5dc1d0,#5cb4d5,#5baad2,#5ba2d0,#5ba0d0,#5ba6d1,#5badd3,#5cafd4,#5cb0d4,#5caed3,#5ba9d2)"></i><i style="top:187.79px;background:linear-gradient(90deg,#64cead,#add445,#add445,#add445,#a9d348,#9fd24e,#92d057,#84ce65,#78cc7a,#6acc97,#62cfb4,#5ec4cb,#5cb0d4,#5b97cd,#5b8cc9,#5b8ac9,#5b89c8,#5b88c8,#5b88c8,#5b8bc9,#5b91cb,#5b8fca)"></i><i style="top:189.29px;background:linear-gradient(90deg,#62ceb3,#d8c23b,#d8c23b,#d8c23b,#d5c63a,#c8cc3c,#b5d540,#a0d24e,#8bce5c,#7ecd70,#72cc85,#69cc9a,#63ceae,#5fcbc0,#5dc2cf,#5cbad6,#5cb1d4,#5bacd3,#5baad2,#5ba9d2,#5ba5d1,#5ba0d0)"></i><i style="top:190.80px;background:linear-gradient(90deg,#62cfb4,#8fcf59,#aad347,#aad347,#a7d349,#a0d24e,#94d056,#87ce60,#7dcd71,#74cc82,#6bcc94,#68cd9f,#62ceb3,#5cbad6,#5b95cc,#5b82c6,#5b7cc4,#5b7bc3,#5b7ac3,#5b7cc4,#5b7fc5,#5b82c6)"></i><i style="top:192.30px;background:linear-gradient(90deg,#62cfb4,#b9d33f,#c8cc3c,#c8cc3c,#c3ce3d,#b8d33f,#a8d348,#95d055,#83cd66,#73cc83,#66cda6,#5ec5c9,#5caed3,#5ba2d0,#5b99ce,#5b85c7,#5b7dc4,#5b7dc4,#5b89c8,#5b9bce,#5caed3,#5cb6d5)"></i><i style="top:193.80px;background:linear-gradient(90deg,#64ceab,#e0b63f,#e0b63f,#e0b63f,#ddba3d,#d6c53a,#c0d03e,#a6d349,#8bce5c,#72cc85,#63ceaf,#5cbcd7,#5b98cd,#5b80c5,#5b78c2,#5b77c1,#5b7ac3,#5b84c7,#5ba0d0,#5ec5ca,#67cda3,#6acc97)"></i><i style="top:195.30px;background:linear-gradient(90deg,#62cfb4,#e1b53f,#e7ad41,#e7ad41,#e3b340,#d8c13b,#bed03e,#9bd151,#75cc7f,#61cfb6,#5cb0d4,#5b90cb,#5b7fc5,#5b7cc3,#5b7dc4,#5b7ec4,#5b80c5,#5b87c8,#5ba0d0,#5dc0d2,#63ceae,#6fcb8a)"></i><i style="top:196.81px;background:linear-gradient(90deg,#62ceb3,#cbca3c,#cbca3c,#cbca3c,#c6cd3d,#bad23f,#aad347,#96d054,#82cd68,#6fcb8a,#63ceae,#5dc1d1,#5ba6d1,#5b92cb,#5b88c8,#5b88c8,#5b8eca,#5b9ace,#5cb5d5,#5fccbf,#66cda7,#67cda2)"></i><i style="top:198.31px;background:linear-gradient(90deg,#62cfb4,#c5cd3d,#e8ab42,#e8ab42,#e5af41,#deba3e,#d0c83b,#b4d540,#98d153,#7ecd70,#6acc99,#5fccbe,#5cb7d5,#5ba0d0,#5b96cd,#5b96cd,#5b99ce,#5b9dcf,#5baad2,#5cb8d6,#5ec5ca,#60cfba)"></i><i style="top:199.81px;background:linear-gradient(90deg,#62cfb4,#ccca3c,#d8c23b,#d8c23b,#d5c63a,#c9cc3c,#b5d440,#a0d24d,#89ce5e,#76cc7e,#66cda7,#5dc1d1,#5b9dcf,#5b7dc4,#5a6dbd,#5a68bb,#5a6bbc,#5a73c0,#5b86c7,#5ba0d0,#5cb7d6,#5cbfd4)"></i><i style="top:201.31px;background:linear-gradient(90deg,#62cfb4,#d9c13c,#dbbd3d,#dbbd3d,#d9c13b,#cfc93b,#bbd23f,#a5d34a,#8ccf5b,#78cc7b,#65cda7,#5cbed5,#5b94cc,#5a74c0,#5964b8,#585fb5,#5960b6,#5965b9,#5a6dbd,#5b78c2,#5b80c5,#5b87c8)"></i><i style="top:202.82px;background:linear-gradient(90deg,#62ceb2,#e8ac42,#e8ac42,#e8ac42,#e5af41,#dcbb3d,#cacb3c,#abd446,#8ace5d,#6fcb8b,#61cfb4,#5cbcd7,#5ba1d0,#5b91cb,#5b8dca,#5b97cd,#5ba7d2,#5b9fd0,#5b97cd,#5b9bce,#5ba3d1,#5ba9d2)"></i><i style="top:204.32px;background:linear-gradient(90deg,#62cfb4,#e2b43f,#e3b240,#e3b240,#e0b63f,#dabf3c,#cbca3c,#b3d541,#9ad152,#83cd66,#6ecb8c,#62ceb1,#5cbdd7,#5b9ecf,#5b8ac9,#5b80c5,#5b80c5,#5b87c8,#5ba2d0,#5ec7c7,#69cc9b,#6fcb8a)"></i><i style="top:205.82px;background:linear-gradient(90deg,#62cfb4,#b7d43f,#d8c23b,#d8c23b,#d6c53a,#c9cc3c,#b5d540,#9fd24e,#87ce60,#74cc82,#65cda7,#5dc4cc,#5ba9d2,#5b92cb,#5b88c8,#5b8ac9,#5b9ccf,#5cb9d6,#5fc9c2,#65cda8,#70cb89,#75cc80)"></i><i style="top:207.32px;background:linear-gradient(90deg,#66cda7,#d7c33b,#d7c33b,#d7c33b,#d4c73a,#c4ce3d,#add445,#95d055,#7ccd73,#6acc97,#61cfb6,#5cb9d6,#5b97cd,#5b83c6,#5b7dc4,#5b7bc3,#5b79c2,#5b78c2,#5b7bc3,#5b85c7,#5b94cc,#5ba1d0)"></i><i style="top:208.82px;background:linear-gradient(90deg,#63ceb0,#d8c13b,#d8c13b,#d8c13b,#d6c53a,#cbcb3c,#b8d33f,#a3d24b,#8ccf5b,#7acc76,#69cc9d,#5fc8c4,#5babd2,#5b8bc9,#5b78c2,#5a74c0,#5b75c1,#5b77c1,#5b7dc4,#5b88c8,#5b95cc,#5b9ecf)"></i><i style="top:210.33px;background:linear-gradient(90deg,#64cead,#cacb3c,#cacb3c,#cacb3c,#c5cd3d,#bbd23f,#acd445,#9bd151,#87ce60,#7acc77,#6acc98,#5fcbc0,#5babd2,#5b8cc9,#5b7bc3,#5b75c1,#5b75c1,#5b7bc3,#5b8cc9,#5ba3d1,#5cb9d6,#5dbfd3)"></i><i style="top:211.83px;background:linear-gradient(90deg,#62cfb4,#e3b240,#e8ab42,#e8ab42,#e4b040,#dbbd3d,#c8cc3c,#aad347,#88ce5f,#6ccb92,#5fc9c3,#5bacd3,#5b98cd,#5b94cc,#5b96cd,#5b98cd,#5b99ce,#5b9dcf,#5cafd3,#5ec6c7,#60cfb8,#5ec8c4)"></i><i style="top:213.33px;background:linear-gradient(90deg,#62ceb2,#d8c23b,#d8c23b,#d8c23b,#d4c63a,#c2cf3e,#a9d347,#8ccf5b,#75cc81,#66cda4,#5fc9c3,#5cbad6,#5cb0d4,#5cb1d4,#5cb8d6,#5cbad6,#5cb6d5,#5cb6d5,#5dc2ce,#61cfb5,#68cd9f,#6acc99)"></i><i style="top:214.83px;background:linear-gradient(90deg,#63ceae,#d8c13b,#d8c13b,#d8c13b,#d6c43a,#ccca3c,#bad23f,#a6d349,#91cf58,#80cd6d,#6ecb8d,#64cead,#5dc3cd,#5ba7d2,#5b89c8,#5b7bc3,#5b82c6,#5b92cb,#5ba7d1,#5cbed5,#5fcbbf,#61cfb5)"></i><i style="top:216.34px;background:linear-gradient(90deg,#62cfb4,#a7d349,#d9c03c,#d9c03c,#d7c33b,#cbca3c,#b7d33f,#a1d24d,#87ce5f,#78cc7a,#6ecb8d,#67cda2,#60cdbc,#5dc3cd,#5cbed5,#5cb9d6,#5cb2d4,#5caed3,#5cb3d5,#5cbed5,#5ec5c9,#5fc9c4)"></i><i style="top:217.84px;background:linear-gradient(90deg,#62cfb4,#a9d348,#e3b340,#e3b340,#e0b73f,#d9c13c,#c8cc3c,#aed444,#96d054,#81cd6b,#6ccb91,#60cfb9,#5cb8d6,#5bacd3,#5cb3d4,#5b9ace,#5b8dca,#5b8eca,#5b93cc,#5b99ce,#5b9fd0,#5ba3d1)"></i><i style="top:219.34px;background:linear-gradient(90deg,#63ceae,#e6ae41,#e6ae41,#e6ae41,#e2b340,#d9c13c,#c0d03e,#a0d24d,#82cd68,#74cc81,#6bcc94,#61cfb6,#5cbdd7,#5ba9d2,#5b9ecf,#5b97cd,#5b93cc,#5b93cc,#5b9bce,#5ba7d1,#5cb1d4,#5cb4d5)"></i><i style="top:220.84px;background:linear-gradient(90deg,#62cfb4,#e2b43f,#e2b340,#e2b340,#dfb83e,#d8c23b,#c4ce3d,#a9d347,#8ecf5a,#76cc7d,#67cda3,#5fc8c4,#5cb3d4,#5b9ccf,#5b96cd,#5b97cd,#5b97cd,#5b9dcf,#5cb4d5,#5fc9c3,#65cda9,#68cc9d)"></i><i style="top:222.35px;background:linear-gradient(90deg,#62cfb4,#d2c73b,#d8c23b,#d8c23b,#d6c53a,#cbcb3c,#b9d33f,#a6d34a,#95d055,#94d056,#91cf58,#77cc7c,#64ceaa,#5cbed5,#5b99ce,#5b82c6,#5b7bc3,#5b7cc4,#5b8ac9,#5b9dcf,#5caed3,#5cb6d5)"></i><i style="top:223.85px;background:linear-gradient(90deg,#62cfb4,#c5cd3d,#cfc93b,#cfc93b,#cacb3c,#bfd03e,#afd443,#9dd14f,#8ccf5b,#83cd67,#7bcd75,#6ecb8c,#67cda2,#60ceba,#5dc0d1,#5cb1d4,#5babd2,#5cb0d4,#5dc0d2,#5fccbe,#62cfb4,#60cfb9)"></i><i style="top:225.35px;background:linear-gradient(90deg,#62ceb4,#cec93b,#cec93b,#cec93b,#c8cc3c,#b8d33f,#a3d24c,#88ce5e,#6fcb8a,#61cfb6,#5cb6d5,#5b94cc,#5b7fc5,#5b78c2,#5b78c2,#5b7ac3,#5b7ec5,#5b85c7,#5b8dca,#5b90cb,#5b8cc9,#5b84c7)"></i><i style="top:226.85px;background:linear-gradient(90deg,#62cfb4,#a6d34a,#b6d440,#b6d440,#b1d542,#a7d349,#97d054,#86ce62,#77cc7c,#68cd9f,#5ec8c4,#5cb4d5,#5ba3d1,#5b9ace,#5b94cc,#5b90cb,#5b8dca,#5b8cc9,#5b8fca,#5b9bce,#5babd3,#5bacd3)"></i><i style="top:228.36px;background:linear-gradient(90deg,#62cfb4,#a8d348,#bad23f,#bad23f,#b4d540,#a7d349,#94d056,#80cd6b,#6ccb91,#61cfb6,#5cbbd7,#5ba0d0,#5b93cc,#5b90cb,#5b94cc,#5b99ce,#5ba1d0,#5baad2,#5cb3d4,#5cb6d5,#5cb4d5,#5caed3)"></i><i style="top:229.86px;background:linear-gradient(90deg,#63ceaf,#ccca3c,#ccca3c,#ccca3c,#c5cd3d,#b2d541,#9bd151,#7dcd72,#67cda3,#5dc2cf,#5ba0d0,#5b88c8,#5b82c6,#5b87c8,#5b8bc9,#5b88c8,#5b80c5,#5b7bc3,#5b76c1,#5a72bf,#5a6fbe,#5a6ebe)"></i><i style="top:231.36px;background:linear-gradient(90deg,#62cfb4,#b4d540,#bad23f,#bad23f,#b4d540,#a8d348,#97d054,#85ce63,#74cc81,#67cda1,#5fccbf,#5cb7d5,#5b9dcf,#5b8eca,#5b86c7,#5b82c6,#5b7fc5,#5b7ec4,#5b7ec5,#5b83c6,#5b91cb,#5ba7d1)"></i><i style="top:232.86px;background:linear-gradient(90deg,#62ceb2,#c3ce3d,#c3ce3d,#c3ce3d,#bed03e,#b3d541,#a3d24b,#90cf59,#7fcd6e,#70cb88,#68cc9e,#60cebb,#5cb9d6,#5ba0d0,#5b92cb,#5b8fca,#5b92cb,#5b94cc,#5b95cc,#5b96cd,#5b96cd,#5b96cd)"></i><i style="top:234.36px;background:linear-gradient(90deg,#62cfb4,#a8d348,#c2ce3d,#c2ce3d,#bcd13f,#add445,#98d153,#81cd6b,#6acc99,#5ec6c7,#5caed3,#5b9fcf,#5b8ac9,#5b7cc4,#5b7bc3,#5b7ac3,#5b7bc3,#5b7fc5,#5b86c7,#5b89c8,#5b89c8,#5b89c8)"></i><i style="top:235.87px;background:linear-gradient(90deg,#63ceae,#cec93b,#cec93b,#cec93b,#c8cc3c,#b9d33f,#a6d349,#8fcf59,#7acc77,#68cd9f,#5ec7c7,#5babd2,#5b93cc,#5b89c8,#5b84c7,#5b82c6,#5b81c6,#5b80c5,#5b82c6,#5b8bc9,#5b9ace,#5ba5d1)"></i><i style="top:237.37px;background:linear-gradient(90deg,#62cfb4,#a5d34a,#bed13e,#bed13e,#b6d440,#a6d349,#8fcf59,#78cc7b,#67cda2,#5fcac2,#5cbbd7,#5baad2,#5ba0d0,#5b9dcf,#5b9ccf,#5ba1d0,#5bacd3,#5cb9d6,#5dc0d2,#5dc1d0,#5dbfd3,#5cbbd6)"></i><i style="top:238.87px;background:linear-gradient(90deg,#62cfb4,#d2c73a,#d5c63a,#d5c63a,#d0c83b,#c3ce3d,#b0d443,#99d152,#83cd67,#6ccb91,#60cdbd,#5caed3,#5b8dca,#5b7bc3,#5b75c1,#5b77c1,#5b79c2,#5b7cc4,#5b7ec5,#5b83c6,#5b87c8,#5b88c8)"></i><i style="top:240.37px;background:linear-gradient(90deg,#62ceb2,#cdca3b,#cdca3b,#cdca3b,#c8cc3c,#bcd13f,#abd446,#96d054,#81cd6b,#6ccb93,#5fc9c4,#5ba1d0,#5b7ec4,#5a6ebd,#5a6abb,#5a6ebe,#5b76c1,#5b7cc3,#5b80c5,#5b82c6,#5b81c6,#5b7fc5)"></i><i style="top:241.88px;background:linear-gradient(90deg,#62cfb4,#9cd150,#abd446,#abd446,#a6d349,#9ad151,#89ce5d,#7acc76,#68cc9d,#5ec6c8,#5ba2d0,#5b7fc5,#5a6ebe,#5a6abb,#5a6ebd,#5b78c2,#5b8bc9,#5ba5d1,#5cbcd7,#5cbdd7,#5caed3,#5ba1d0)"></i><i style="top:243.38px;background:linear-gradient(90deg,#63ceae,#d9c03c,#d9c03c,#d9c03c,#d7c33b,#ccca3c,#b9d33f,#a2d24c,#88ce5e,#75cc80,#65cea9,#5dc0d1,#5ba2d0,#5b8dca,#5b83c6,#5b83c6,#5b8bc9,#5b96cd,#5ba1d0,#5ba7d1,#5ba4d1,#5b9bce)"></i><i style="top:244.88px;background:linear-gradient(90deg,#62ceb4,#add445,#add445,#add445,#a9d348,#9ed24f,#8fcf59,#81cd6b,#70cb88,#66cda6,#61cfb6,#5ec4cb,#5b9ecf,#5b83c6,#5b7ec5,#5b81c6,#5b86c7,#5b8ac9,#5b8eca,#5b8fca,#5b8dca,#5b8ac9)"></i><i style="top:246.38px;background:linear-gradient(90deg,#62cfb4,#b5d540,#b7d43f,#b7d43f,#b1d542,#a4d24b,#90cf58,#7ccd73,#69cc9b,#5fc9c2,#5cb0d4,#5b9dcf,#5b9ccf,#5b9fd0,#5b9ace,#5b93cc,#5b93cc,#5b98cd,#5b9ecf,#5ba0d0,#5b9ecf,#5b9bce)"></i><i style="top:247.89px;background:linear-gradient(90deg,#64cead,#b4d540,#b4d540,#b4d540,#b1d442,#a8d348,#9ad152,#89ce5d,#7ccd73,#6ecb8d,#65cda8,#5ec7c7,#5cb9d6,#5cb3d5,#5cb0d4,#5caed3,#5badd3,#5babd2,#5ba9d2,#5ba6d1,#5b9ecf,#5b97cd)"></i><i style="top:249.39px;background:linear-gradient(90deg,#62cfb4,#a1d24d,#d4c63a,#d4c63a,#ccca3c,#b8d33f,#9ed24f,#7dcd72,#66cda5,#5cbfd3,#5b9bce,#5b86c7,#5b8bc9,#5b8eca,#5b7fc5,#5b7ec4,#5b85c7,#5b8fca,#5b9ace,#5ba2d0,#5baad2,#5cb0d4)"></i><i style="top:250.89px;background:linear-gradient(90deg,#62ceb3,#72cc86,#72cc86,#72cc86,#71cb87,#6fcb8b,#6ccb90,#6bcc96,#6acc98,#6bcc96,#6acc99,#65cda8,#5fccbd,#5dc0d2,#5cb3d4,#5bacd3,#5babd2,#5bacd3,#5cafd3,#5cb0d4,#5cafd3,#5bacd3)"></i><i style="top:252.39px;background:linear-gradient(90deg,#62cfb4,#6ccb91,#73cc83,#73cc83,#72cc85,#6fcb8b,#6ccb92,#69cc9a,#64ceab,#5fcbc0,#5cbdd7,#5babd2,#5b9ecf,#5b9bce,#5b9fd0,#5ba5d1,#5baad2,#5cafd4,#5cbbd6,#5ec8c4,#5ec7c6,#5cb2d4)"></i><i style="top:253.89px;background:linear-gradient(90deg,#62cfb4,#7dcd71,#80cd6d,#80cd6d,#7ecd70,#7acc77,#74cc81,#6ecb8d,#6bcc96,#6acc99,#6bcb93,#6ccb92,#6bcc96,#68cd9f,#64cead,#60cebb,#5fcac1,#5fcac1,#5fcac1,#5ec7c6,#5dc1d0,#5cbcd7)"></i><i style="top:255.40px;background:linear-gradient(90deg,#62cfb4,#7bcd75,#7dcd71,#7dcd71,#7ccd74,#78cc7a,#73cc83,#6dcb8e,#69cc9a,#65cda9,#61cfb7,#5fc9c2,#5ec4cc,#5dc0d2,#5cbdd6,#5cbad6,#5cb4d5,#5cb1d4,#5cb0d4,#5cafd3,#5cadd3,#5babd3)"></i><i style="top:256.90px;background:linear-gradient(90deg,#62ceb3,#82cd69,#82cd69,#82cd69,#81cd6b,#7dcd71,#78cc7a,#72cc85,#6ccb90,#68cc9e,#63cead,#60ceba,#5fcac1,#5ec7c6,#5dc2cf,#5cb9d6,#5cadd3,#5babd2,#5cb0d4,#5cb0d4,#5bacd3,#5ba6d1)"></i><i style="top:258.40px;background:linear-gradient(90deg,#62cfb4,#87ce60,#8ccf5b,#8ccf5b,#89ce5d,#84ce65,#7ecd70,#77cc7d,#71cb87,#6bcc96,#64ceac,#5ec5c9,#5cb4d5,#5ba6d1,#5b9ecf,#5b9ccf,#5b9bce,#5b97cd,#5b96cd,#5b9dcf,#5b9fd0,#5b9ecf)"></i><i style="top:259.90px;background:linear-gradient(90deg,#62cfb4,#7ccd74,#7fcd6e,#7fcd6e,#7dcd71,#7acc77,#74cc81,#6ecb8d,#6acc9a,#64ceab,#5fcdbd,#5ec4cb,#5dc0d2,#5dc0d2,#5dc1d0,#5dc4cc,#5fccbd,#5fcbc0,#5cbcd7,#5cb6d5,#5cbed6,#5ec6c8)"></i><i style="top:261.41px;background:linear-gradient(90deg,#62cfb4,#7bcd75,#86ce61,#86ce61,#84ce64,#80cd6c,#7acc78,#72cc85,#6bcb93,#6acc98,#67cda3,#5fc9c3,#5cbed5,#5cb8d6,#5cb5d5,#5cb2d4,#5cb0d4,#5cb2d4,#5cb7d6,#5cbcd7,#5dc0d1,#5ec6c8)"></i><i style="top:262.91px;background:linear-gradient(90deg,#62cfb4,#78cc7b,#89ce5d,#89ce5d,#87ce60,#81cd6a,#79cc78,#6dcb8e,#66cda7,#5fcac1,#5cbdd7,#5ba9d2,#5b9ccf,#5b94cc,#5b90cb,#5b8dca,#5b8dca,#5b8eca,#5b8fca,#5b90cb,#5b8fca,#5b8fca)"></i><i style="top:264.41px;background:linear-gradient(90deg,#62cfb4,#78cc7a,#8dcf5a,#8dcf5a,#89ce5d,#83cd67,#7acc76,#6fcb8a,#68cd9f,#62ceb3,#5ec8c5,#5cbed6,#5cb0d4,#5bacd3,#5cb4d5,#5cb8d6,#5cb9d6,#5cb8d6,#5cb6d5,#5cb5d5,#5cb5d5,#5cb6d5)"></i><i style="top:265.91px;background:linear-gradient(90deg,#62cfb4,#85ce63,#8dcf5b,#8dcf5b,#88ce5e,#81cd6a,#77cc7b,#6bcc95,#63ceaf,#5ec6c7,#5cb8d6,#5bacd3,#5ba7d1,#5babd2,#5cb5d5,#5cb9d6,#5cb2d4,#5caed3,#5cb5d5,#5dc1d0,#5ec7c6,#5ec4cb)"></i><i style="top:267.42px;background:linear-gradient(90deg,#62cfb4,#85ce62,#86ce62,#86ce62,#84ce65,#7fcd6f,#77cc7c,#6dcb8f,#65cda7,#5fc9c3,#5cb7d5,#5ba5d1,#5b9bce,#5b99ce,#5b9ace,#5b9dcf,#5ba3d1,#5baad2,#5cb0d4,#5cb1d4,#5caed3,#5baad2)"></i><i style="top:268.92px;background:linear-gradient(90deg,#62cfb4,#78cc7b,#7ecd70,#7ecd70,#7dcd72,#7acc78,#75cc80,#6fcb8a,#6bcb93,#68cd9f,#63ceb1,#5ec8c5,#5cbbd7,#5babd3,#5ba3d1,#5babd3,#5cb8d6,#5cb0d4,#5ba8d2,#5ba7d1,#5ba7d1,#5ba7d1)"></i><i style="top:270.42px;background:linear-gradient(90deg,#62ceb4,#7acc78,#7acc78,#7acc78,#78cc7b,#73cc83,#6dcb90,#67cda2,#60cdbd,#5cbad6,#5ba0d0,#5b90cb,#5b89c8,#5b89c8,#5b8ac9,#5b8eca,#5b94cc,#5b9fcf,#5cb3d5,#5ec4cc,#5fccbe,#60cdbc)"></i><i style="top:271.92px;background:linear-gradient(90deg,#62ceb1,#70cb88,#70cb88,#70cb88,#6fcb8a,#6dcb8e,#6ccb92,#6acc98,#68cc9e,#66cda6,#63ceb1,#60cebb,#5fc8c4,#5dc3cd,#5cbfd4,#5cbbd6,#5cb3d5,#5cb4d5,#5cbbd7,#5cbed6,#5cbed5,#5cbed5)"></i><i style="top:273.43px;background:linear-gradient(90deg,#62cfb4,#7bcd75,#8dcf5b,#8dcf5b,#8ace5c,#86ce62,#80cd6d,#79cc79,#71cb88,#6acc98,#63cead,#5ec7c6,#5cb6d5,#5ba6d1,#5ba2d0,#5cafd3,#5dc3cd,#60cfb9,#5fcbbf,#5dc0d1,#5cb2d4,#5ba9d2)"></i><i style="top:274.93px;background:linear-gradient(90deg,#62cfb4,#6ccb91,#72cc85,#72cc85,#71cb88,#6ecb8d,#6ccb93,#69cc9a,#65cda7,#60cfb8,#5fcac2,#5dc2cf,#5cb3d5,#5caed3,#5cb1d4,#5cb5d5,#5cb6d5,#5cb5d5,#5cb2d4,#5caed3,#5babd2,#5ba9d2)"></i><i style="top:276.43px;background:linear-gradient(90deg,#62cfb4,#70cb8a,#72cc85,#72cc85,#70cb88,#6dcb8f,#6acc97,#66cda6,#60cebb,#5dc1d1,#5cafd4,#5ba1d0,#5b98cd,#5b93cc,#5b93cc,#5b97cd,#5b9fcf,#5ba6d1,#5bacd3,#5caed3,#5cafd4,#5cb0d4)"></i><i style="top:277.93px;background:linear-gradient(90deg,#62ceb2,#82cd69,#82cd69,#82cd69,#80cd6c,#7ccd73,#77cc7c,#70cb88,#6bcc95,#65cda8,#5fccbe,#5cbfd4,#5caed3,#5ba3d1,#5ba2d0,#5ba6d1,#5ba8d2,#5ba5d1,#5b9ecf,#5ba6d1,#5cb6d5,#5dbfd3)"></i><i style="top:279.43px;background:linear-gradient(90deg,#62ceb3,#72cc86,#72cc86,#72cc86,#70cb88,#6dcb8e,#6bcc94,#68cd9e,#63ceae,#61cfb6,#5ec8c5,#5badd3,#5b8fca,#5b82c6,#5b7fc5,#5b82c6,#5b89c8,#5b95cc,#5bacd3,#5babd2,#5b97cd,#5b92cb)"></i><i style="top:280.94px;background:linear-gradient(90deg,#62cfb4,#85ce63,#86ce62,#86ce62,#83cd67,#7dcd71,#74cc82,#69cc9b,#60cfb8,#5dc0d2,#5cb2d4,#5cafd3,#5cb6d5,#5cbed5,#5cbed6,#5cbad6,#5cbed5,#5caed3,#5b9ace,#5b95cc,#5b94cc,#5b93cc)"></i><i style="top:282.44px;background:linear-gradient(90deg,#63ceaf,#82cd69,#82cd69,#82cd69,#80cd6b,#7dcd71,#78cc7a,#72cc84,#6dcb90,#69cc9b,#64ceac,#60cfb9,#60cfb9,#5ec4cb,#5baad2,#5ba0d0,#5ba2d0,#5ba4d1,#5ba5d1,#5ba6d1,#5ba5d1,#5ba5d1)"></i><i style="top:283.94px;background:linear-gradient(90deg,#62ceb3,#84ce66,#84ce66,#84ce66,#82cd69,#7dcd72,#76cc7e,#6dcb8e,#67cda2,#60cfb9,#5dc3cd,#5cb7d5,#5cadd3,#5baad2,#5baad2,#5baad2,#5ba7d1,#5b9fd0,#5ba1d0,#5badd3,#5cb8d6,#5cbdd7)"></i><i style="top:285.44px;background:linear-gradient(90deg,#62cfb4,#7ccd74,#89ce5d,#89ce5d,#87ce60,#83cd67,#7dcd72,#75cc7f,#6dcb8d,#6acc98,#69cc9b,#63ceae,#5cbfd4,#5ba5d1,#5b9ace,#5b9ace,#5b9fcf,#5ba4d1,#5ba9d2,#5babd2,#5bacd3,#5caed3)"></i><i style="top:286.95px;background:linear-gradient(90deg,#62ceb1,#70cb89,#70cb89,#70cb89,#6fcb8b,#6ccb91,#6acc98,#66cda4,#61cfb5,#5ec7c6,#5cbed5,#5cb5d5,#5cafd4,#5caed3,#5cadd3,#5cafd3,#5cb6d5,#5ec6c8,#62ceb3,#60cfb9,#5fcbc0,#5fcac1)"></i><i style="top:288.45px;background:linear-gradient(90deg,#62cfb4,#7fcd6d,#82cd68,#82cd68,#81cd6b,#7dcd71,#78cc7a,#72cc85,#6dcb8e,#6bcc96,#68cd9f,#64cead,#5fccbf,#5dc0d2,#5cb3d4,#5ba8d2,#5b9ecf,#5b97cd,#5b96cd,#5b9ace,#5b9fd0,#5ba1d0)"></i><i style="top:289.95px;background:linear-gradient(90deg,#62cfb4,#8ace5d,#a5d34b,#a5d34b,#9fd24e,#92d058,#81cd6a,#6dcb8e,#63ceb0,#5dc2ce,#5bacd3,#5b99ce,#5b8fca,#5b8bc9,#5b89c8,#5b88c8,#5b87c8,#5b86c7,#5b9ccf,#5ec6c8,#63ceb0,#61cfb6)"></i><i style="top:291.45px;background:linear-gradient(90deg,#62ceb4,#b1d442,#b1d442,#b1d442,#a9d347,#96d054,#7ccd73,#69cc9d,#5fcac1,#5cb6d5,#5ba5d1,#5b9ecf,#5b99ce,#5b92cb,#5b8cc9,#5b90cb,#5b98cd,#5b9ecf,#5ba6d1,#5cafd3,#5cb6d5,#5cbad6)"></i><i style="top:292.96px;background:linear-gradient(90deg,#62ceb4,#aad347,#aad347,#aad347,#a4d24b,#94d056,#7fcd6d,#6bcc94,#61cfb6,#5cbfd4,#5cadd3,#5ba8d2,#5babd3,#5cafd4,#5cafd3,#5babd2,#5ba7d1,#5ba5d1,#5baad2,#5cb0d4,#5cb4d5,#5cb5d5)"></i><i style="top:294.46px;background:linear-gradient(90deg,#62cfb4,#90cf59,#9ed24f,#9ed24f,#99d152,#8ccf5b,#80cd6d,#6dcb8d,#64cead,#5dc3cc,#5cb0d4,#5ba5d1,#5ba8d2,#5cb1d4,#5cafd4,#5babd2,#5cb2d4,#5cb8d6,#5cb4d5,#5cb6d5,#5cbed5,#5dc1d0)"></i><i style="top:295.96px;background:linear-gradient(90deg,#65cda9,#bcd13f,#bcd13f,#bcd13f,#b7d43f,#abd446,#9bd151,#88ce5e,#7acc77,#6bcc95,#62ceb2,#5dc1d0,#5ba9d2,#5b98cd,#5b8fca,#5b8bc9,#5b87c8,#5b8ac9,#5b9fd0,#5dc0d1,#63ceaf,#66cda6)"></i><i style="top:297.46px;background:linear-gradient(90deg,#64cead,#9dd150,#9dd150,#9dd150,#98d153,#8dcf5b,#81cd6b,#70cb89,#64cead,#5dbfd3,#5b9ecf,#5b83c6,#5b79c2,#5b79c3,#5b7dc4,#5b7fc5,#5b7ec4,#5b7ec5,#5b8dca,#5ba2d0,#5cb7d5,#5cbfd4)"></i><i style="top:298.96px;background:linear-gradient(90deg,#62cfb4,#b7d33f,#bad23f,#bad23f,#b3d541,#a3d24c,#8bce5c,#75cc81,#67cda1,#60cfb9,#5dc3cd,#5cb4d5,#5baad2,#5ba8d2,#5bacd3,#5cb2d4,#5cb9d6,#5dc0d2,#5ec7c6,#5fccbe,#60cebb,#5fcbbf)"></i><i style="top:300.47px;background:linear-gradient(90deg,#62cfb4,#85ce63,#a6d349,#a6d349,#a1d24d,#95d055,#85ce63,#76cc7e,#68cd9f,#5fcbbf,#5cb8d6,#5ba3d0,#5b97cd,#5b93cc,#5b92cb,#5b93cc,#5b95cc,#5b9ccf,#5cafd3,#5dc3cd,#62ceb4,#67cda2)"></i><i style="top:301.97px;background:linear-gradient(90deg,#62ceb1,#9ad152,#9ad152,#9ad152,#95d055,#8bce5c,#80cd6c,#73cc83,#67cda2,#5fc9c2,#5cb4d5,#5b9dcf,#5b91cb,#5b8fca,#5b94cc,#5b9bce,#5ba2d0,#5ba7d1,#5caed3,#5cb2d4,#5cb1d4,#5cbbd7)"></i><i style="top:303.47px;background:linear-gradient(90deg,#65cea9,#a9d348,#a9d348,#a9d348,#a3d24b,#96d055,#84ce64,#6fcb8a,#61cfb4,#5cb5d5,#5b97cd,#5b85c7,#5b7fc5,#5b84c7,#5b85c7,#5b7fc5,#5b7bc3,#5b7ec4,#5b93cc,#5cb2d4,#5ec8c5,#60cfb8)"></i><i style="top:304.97px;background:linear-gradient(90deg,#62ceb3,#cdca3c,#cdca3c,#cdca3c,#c4ce3d,#b1d442,#96d055,#75cc7f,#62ceb2,#5cb7d6,#5b9ace,#5b8fca,#5b90cb,#5b94cc,#5b95cc,#5b97cd,#5b9dcf,#5ba6d1,#5caed3,#5cb2d4,#5cb2d4,#5caed3)"></i><i style="top:306.48px;background:linear-gradient(90deg,#62cfb4,#b8d33f,#bfd03e,#bfd03e,#b5d540,#9dd150,#79cc78,#63ceb0,#5cb1d4,#5b87c8,#5a6fbe,#5965b9,#5962b7,#5963b7,#5966b9,#5a6bbc,#5a71bf,#5b78c2,#5b85c7,#5b98cd,#5ba7d1,#5ba4d1)"></i><i style="top:307.98px;background:linear-gradient(90deg,#65ceaa,#cec93b,#cec93b,#cec93b,#c6cd3d,#b1d542,#96d055,#76cc7e,#63ceb0,#5cb6d5,#5b92cb,#5b7bc3,#5a72bf,#5a6fbe,#5a6fbe,#5a71bf,#5b77c1,#5b7fc5,#5b8fca,#5b9fd0,#5bacd3,#5cb1d4)"></i><i style="top:309.48px;background:linear-gradient(90deg,#63ceaf,#b7d33f,#b7d33f,#b7d43f,#9fd24e,#75cc7f,#60cdbc,#5ba5d1,#5b81c6,#5a73c0,#5a6bbc,#5a67ba,#5966b9,#5967ba,#5a6abb,#5a6ebe,#5b75c1,#5b84c7,#5ba5d1,#5cbcd7,#5cbdd6,#5cbad6)"></i><i style="top:310.98px;background:linear-gradient(90deg,#62cfb4,#8dcf5b,#97d054,#96d054,#84ce65,#6bcc94,#5fc9c3,#5ba8d2,#5b8dca,#5b7fc5,#5b7ac3,#5b76c1,#5a73c0,#5a74c0,#5b7bc3,#5b88c8,#5b8dca,#5b8dca,#5b9fd0,#5dc0d2,#60cfb8,#5fccbe)"></i><i style="top:312.49px;background:linear-gradient(90deg,#62cfb4,#bdd13e,#c4ce3d,#c4ce3d,#abd446,#7ccd74,#61cfb7,#5ba5d1,#5b7cc4,#5a69bb,#585fb5,#585bb4,#5962b7,#5a73bf,#5b78c2,#5a73c0,#5a73c0,#5b77c2,#5b86c7,#5b9ccf,#5cb1d4,#5cbad6)"></i><i style="top:313.99px;background:linear-gradient(90deg,#62cfb4,#acd445,#add445,#add445,#a4d24b,#88ce5e,#6dcb8e,#60ceba,#5cb4d5,#5b9ace,#5b8dca,#5b89c8,#5b89c8,#5b8bc9,#5b8fca,#5b94cc,#5b9fcf,#5ba1d0,#5ba3d1,#5caed3,#5cb6d5,#5cb7d6)"></i><i style="top:315.49px;background:linear-gradient(90deg,#62cfb4,#93d057,#99d152,#99d152,#8bce5c,#72cc85,#62ceb3,#5cb6d5,#5b95cc,#5b84c7,#5b7ec5,#5b7ec5,#5b83c6,#5b8eca,#5b9dcf,#5badd3,#5cb5d5,#5cbdd7,#60cebb,#6ccb91,#84ce65,#8fcf59)"></i><i style="top:316.99px;background:linear-gradient(90deg,#62cfb4,#afd443,#c4ce3d,#c4ce3d,#bbd23f,#a7d349,#86ce62,#6bcc96,#5ec8c5,#5ba7d1,#5b89c8,#5b7cc4,#5b7ac3,#5b80c5,#5b8cc9,#5b91cb,#5b8dca,#5b8cc9,#5ba2d0,#5dc3ce,#64ceaa,#69cc9a)"></i><i style="top:318.50px;background:linear-gradient(90deg,#62cfb4,#90cf58,#a3d24c,#a3d24c,#9cd151,#8ace5d,#76cc7e,#67cda3,#5fcac2,#5cbcd7,#5cafd3,#5ba8d2,#5ba5d1,#5ba8d2,#5cb6d5,#5dc0d1,#5cbad6,#5cb0d4,#5dc1d1,#64cead,#6ecb8d,#72cc86)"></i><i style="top:320.00px;background:linear-gradient(90deg,#62cfb4,#9ad152,#a8d348,#a8d348,#a3d24c,#95d055,#83cd67,#6dcb8e,#62cfb4,#5cbcd7,#5b9dcf,#5b87c8,#5b7ec5,#5b80c5,#5b85c7,#5b86c7,#5b84c7,#5b84c7,#5b94cc,#5cb1d4,#5fc9c2,#63ceaf)"></i></div>
<div class="hb" style="left:111.70px;top:562.50px;width:458.60px;height:319.60px"><i style="left:0.54px;width:19.42px;background:linear-gradient(#5cb4d5 0 2px,#5cbdd7 0 10px,#5ec8c5 0 11px,#6bcb93 0 13px,#5ec8c5 0 15px,#60cebb 0 17px,#5ec8c5 0 19px,#60cebb 0 22px,#5dc3ce 0 23px,#5ec8c5 0 24px,#71cb88 0 26px,#60cebb 0 27px,#62ceb1 0 29px,#60cebb 0 33px,#62ceb1 0 35px,#60cebb 0 37px,#62ceb1 0 38px,#65cda7 0 40px,#60cebb 0 43px,#62ceb1 0 44px,#5bacd3 0 48px,#5ba3d1 0 51px,#5bacd3 0 53px,#78cc7b 0 55px,#5bacd3 0 59px,#68cc9d 0 60px,#5bacd3 0 62px,#65cda7 0 65px,#5ec8c5 0 68px,#60cebb 0 69px,#5ec8c5 0 73px,#71cb88 0 74px,#5dc3ce 0 75px,#60cebb 0 77px,#5ec8c5 0 80px,#65cda7 0 81px,#62ceb1 0 86px,#71cb88 0 87px,#62ceb1 0 90px,#78cc7b 0 91px,#5dc3ce 0 94px,#68cc9d 0 97px,#62ceb1 0 101px,#71cb88 0 102px,#60cebb 0 104px,#6bcb93 0 106px,#60cebb 0 109px,#62ceb1 0 111px,#60cebb 0 113px,#5ec8c5 0 114px,#5dc3ce 0 115px,#5ec8c5 0 121px,#5b9bce 0 122px,#5ec8c5 0 123px,#5cb4d5 0 124px,#78cc7b 0 126px,#5cb4d5 0 127px,#78cc7b 0 128px,#5cb4d5 0 129px,#d8c23b 0 130px,#65cda7 0 132px,#a8d348 0 133px,#68cc9d 0 134px,#86ce61 0 135px,#65cda7 0 137px,#86ce61 0 138px,#65cda7 0 140px,#7fcd6e 0 141px,#65cda7 0 142px,#9dd150 0 144px,#65cda7 0 147px,#7fcd6e 0 148px,#5cb4d5 0 151px,#5cbdd7 0 153px,#71cb88 0 155px,#5cbdd7 0 156px,#5967ba 0 159px,#5cb4d5 0 163px,#6bcb93 0 164px,#5cbdd7 0 167px,#5cb4d5 0 168px,#5ba3d1 0 170px,#5cb4d5 0 171px,#62ceb1 0 173px,#71cb88 0 174px,#62ceb1 0 177px,#78cc7b 0 180px,#62ceb1 0 192px,#5ec8c5 0 193px,#5cbdd7 0 194px,#b4d540 0 195px,#5bacd3 0 196px,#b4d540 0 197px,#5cb4d5 0 198px,#5cbdd7 0 205px,#5cb4d5 0 213px,#5bacd3 0 214px,#e9b142 0 215px,#5bacd3 0 217px,#5cb4d5 0 218px,#5bacd3 0 220px,#5cb4d5 0 222px,#5bacd3 0 229px,#5dc3ce 0 232px,#5ec8c5 0 237px,#60cebb 0 240px,#6bcb93 0 241px,#71cb88 0 242px,#62ceb1 0 243px,#6bcb93 0 244px,#60cebb 0 246px,#78cc7b 0 247px,#65cda7 0 249px,#68cc9d 0 252px,#65cda7 0 254px,#68cc9d 0 262px,#65cda7 0 264px,#60cebb 0 266px,#62ceb1 0 272px,#5b9bce 0 273px,#65cda7 0 276px,#7fcd6e 0 277px,#65cda7 0 278px,#62ceb1 0 279px,#65cda7 0 283px,#68cc9d 0 284px,#78cc7b 0 287px,#68cc9d 0 300px,#86ce61 0 302px,#68cc9d 0 305px,#62ceb1 0 306px,#65cda7 0 307px,#62ceb1 0 309px,#a8d348 0 312px,#62ceb1 0 314px,#65cda7 0 316px,#62ceb1 0 317px,#78cc7b 0 318px,#62ceb1 0 320px)"></i><i style="left:19.66px;width:19.42px;background:linear-gradient(#5dc3ce 0 2px,#5cbdd7 0 5px,#5a6bbc 0 7px,#65cda7 0 9px,#78cc7b 0 12px,#6bcb93 0 15px,#68cc9d 0 16px,#65cda7 0 19px,#6bcb93 0 23px,#71cb88 0 27px,#62ceb1 0 30px,#5dc3ce 0 35px,#5cbdd7 0 37px,#5cb4d5 0 40px,#6bcb93 0 42px,#71cb88 0 44px,#6bcb93 0 45px,#5b93cc 0 46px,#68cc9d 0 50px,#71cb88 0 53px,#6bcb93 0 60px,#5ec8c5 0 61px,#6bcb93 0 64px,#5ec8c5 0 66px,#60cebb 0 70px,#5cbdd7 0 71px,#60cebb 0 73px,#5dc3ce 0 75px,#60cebb 0 77px,#5ec8c5 0 80px,#62ceb1 0 82px,#68cc9d 0 83px,#5cb4d5 0 84px,#65cda7 0 88px,#5cb4d5 0 90px,#65cda7 0 91px,#5651ae 0 94px,#62ceb1 0 95px,#65cda7 0 97px,#60cebb 0 98px,#62ceb1 0 101px,#60cebb 0 102px,#5dc3ce 0 104px,#5b93cc 0 105px,#5ec8c5 0 106px,#5651ae 0 107px,#60cebb 0 108px,#5ec8c5 0 109px,#5b9bce 0 111px,#60cebb 0 115px,#5dc3ce 0 116px,#60cebb 0 119px,#62ceb1 0 120px,#5962b7 0 123px,#62ceb1 0 127px,#e9b142 0 128px,#5ec8c5 0 131px,#62ceb1 0 132px,#5b76c1 0 133px,#71cb88 0 134px,#585eb5 0 135px,#6bcb93 0 138px,#71cb88 0 141px,#5ec8c5 0 143px,#71cb88 0 144px,#6bcb93 0 145px,#5cbdd7 0 146px,#62ceb1 0 147px,#5b8bc9 0 149px,#68cc9d 0 151px,#62ceb1 0 152px,#5cb4d5 0 153px,#65cda7 0 154px,#5b8bc9 0 155px,#65cda7 0 156px,#5cb4d5 0 159px,#5ec8c5 0 160px,#60cebb 0 162px,#5b9bce 0 163px,#5ec8c5 0 167px,#60cebb 0 173px,#5ec8c5 0 178px,#60cebb 0 181px,#5cbdd7 0 182px,#60cebb 0 184px,#5b93cc 0 187px,#60cebb 0 188px,#5ec8c5 0 189px,#60cebb 0 190px,#62ceb1 0 191px,#60cebb 0 192px,#5ec8c5 0 194px,#5dc3ce 0 197px,#5b9bce 0 198px,#60cebb 0 199px,#5cb4d5 0 200px,#5ec8c5 0 202px,#5b83c6 0 203px,#5dc3ce 0 207px,#5ec8c5 0 211px,#5dc3ce 0 213px,#5ec8c5 0 220px,#5dc3ce 0 221px,#5ba3d1 0 223px,#5ec8c5 0 227px,#60cebb 0 228px,#5ec8c5 0 230px,#60cebb 0 232px,#5ec8c5 0 233px,#60cebb 0 235px,#5ec8c5 0 236px,#5bacd3 0 238px,#60cebb 0 240px,#62ceb1 0 243px,#65cda7 0 249px,#62ceb1 0 253px,#65cda7 0 256px,#62ceb1 0 258px,#65cda7 0 260px,#5cb4d5 0 261px,#5ec8c5 0 262px,#60cebb 0 265px,#5ec8c5 0 267px,#60cebb 0 269px,#5ec8c5 0 271px,#60cebb 0 273px,#65cda7 0 277px,#62ceb1 0 278px,#5b9bce 0 281px,#65cda7 0 284px,#62ceb1 0 286px,#65cda7 0 294px,#62ceb1 0 296px,#5cb4d5 0 297px,#60cebb 0 299px,#62ceb1 0 302px,#5ec8c5 0 304px,#5a6bbc 0 306px,#60cebb 0 308px,#5bacd3 0 310px,#62ceb1 0 311px,#60cebb 0 313px,#5cbdd7 0 316px,#60cebb 0 317px,#62ceb1 0 319px,#5cb4d5 0 320px)"></i><i style="left:38.78px;width:19.42px;background:linear-gradient(#5ec8c5 0 3px,#60cebb 0 6px,#62ceb1 0 8px,#5ec8c5 0 10px,#78cc7b 0 13px,#5ec8c5 0 20px,#5dc3ce 0 21px,#5ec8c5 0 23px,#5ba3d1 0 26px,#5ec8c5 0 27px,#5dc3ce 0 37px,#5ec8c5 0 42px,#86ce61 0 45px,#60cebb 0 48px,#5ec8c5 0 50px,#71cb88 0 51px,#5ec8c5 0 53px,#9dd150 0 55px,#5ec8c5 0 61px,#5cb4d5 0 64px,#5cbdd7 0 72px,#5962b7 0 74px,#5ba3d1 0 76px,#5b9bce 0 78px,#5ba3d1 0 79px,#5b9bce 0 80px,#5cb4d5 0 82px,#5cbdd7 0 87px,#60cebb 0 89px,#62ceb1 0 94px,#60cebb 0 100px,#65cda7 0 102px,#68cc9d 0 105px,#65cda7 0 106px,#62ceb1 0 110px,#65cda7 0 113px,#68cc9d 0 115px,#65cda7 0 116px,#62ceb1 0 121px,#d8c23b 0 122px,#62ceb1 0 126px,#78cc7b 0 127px,#62ceb1 0 130px,#5cbdd7 0 132px,#62ceb1 0 133px,#78cc7b 0 135px,#60cebb 0 139px,#5cb4d5 0 140px,#5ec8c5 0 144px,#5dc3ce 0 147px,#5cbdd7 0 148px,#60cebb 0 149px,#65cda7 0 152px,#62ceb1 0 153px,#7fcd6e 0 155px,#60cebb 0 157px,#5cb4d5 0 158px,#5cbdd7 0 162px,#60cebb 0 166px,#62ceb1 0 169px,#60cebb 0 172px,#62ceb1 0 181px,#5cb4d5 0 182px,#60cebb 0 187px,#5ec8c5 0 190px,#62ceb1 0 191px,#5dc3ce 0 192px,#5bacd3 0 193px,#5ba3d1 0 195px,#5bacd3 0 197px,#5ba3d1 0 210px,#5bacd3 0 212px,#5cbdd7 0 213px,#5cb4d5 0 214px,#5cbdd7 0 218px,#6bcb93 0 219px,#5cb4d5 0 221px,#5cbdd7 0 223px,#5cb4d5 0 225px,#78cc7b 0 227px,#5cb4d5 0 231px,#60cebb 0 232px,#7fcd6e 0 233px,#60cebb 0 239px,#5cbdd7 0 240px,#5ec8c5 0 242px,#5dc3ce 0 246px,#5b9bce 0 247px,#5dc3ce 0 248px,#5cb4d5 0 251px,#5cbdd7 0 255px,#5cb4d5 0 257px,#5bacd3 0 258px,#5cb4d5 0 264px,#5cbdd7 0 265px,#5cb4d5 0 270px,#5cbdd7 0 272px,#5cb4d5 0 277px,#65cda7 0 280px,#5cb4d5 0 287px,#5bacd3 0 289px,#5cb4d5 0 290px,#5cbdd7 0 293px,#5cb4d5 0 296px,#65cda7 0 298px,#62ceb1 0 299px,#65cda7 0 300px,#86ce61 0 302px,#60cebb 0 309px,#71cb88 0 311px,#62ceb1 0 313px,#60cebb 0 316px,#62ceb1 0 317px,#60cebb 0 320px)"></i><i style="left:57.90px;width:19.42px;background:linear-gradient(#60cebb 0 1px,#5ec8c5 0 2px,#60cebb 0 5px,#5ec8c5 0 7px,#5cbdd7 0 8px,#5ec8c5 0 14px,#60cebb 0 18px,#5ec8c5 0 20px,#60cebb 0 25px,#5ec8c5 0 26px,#7fcd6e 0 27px,#60cebb 0 28px,#5ec8c5 0 33px,#60cebb 0 36px,#78cc7b 0 37px,#5cbdd7 0 39px,#5dc3ce 0 44px,#5ec8c5 0 45px,#5cbdd7 0 47px,#71cb88 0 48px,#5dc3ce 0 49px,#5ec8c5 0 52px,#5dc3ce 0 53px,#5cbdd7 0 54px,#60cebb 0 55px,#5bacd3 0 56px,#62ceb1 0 59px,#9dd150 0 62px,#62ceb1 0 63px,#78cc7b 0 65px,#62ceb1 0 66px,#60cebb 0 69px,#5ec8c5 0 70px,#6bcb93 0 73px,#62ceb1 0 74px,#65cda7 0 75px,#62ceb1 0 78px,#60cebb 0 80px,#65cda7 0 81px,#68cc9d 0 83px,#65cda7 0 84px,#91cf58 0 85px,#65cda7 0 86px,#71cb88 0 88px,#68cc9d 0 90px,#7fcd6e 0 93px,#65cda7 0 95px,#6bcb93 0 96px,#5ec8c5 0 102px,#60cebb 0 107px,#9dd150 0 109px,#68cc9d 0 112px,#78cc7b 0 115px,#68cc9d 0 116px,#eabe42 0 117px,#68cc9d 0 119px,#65cda7 0 120px,#78cc7b 0 123px,#6bcb93 0 126px,#68cc9d 0 128px,#6bcb93 0 130px,#60cebb 0 131px,#71cb88 0 133px,#60cebb 0 140px,#5ec8c5 0 141px,#6bcb93 0 142px,#5ec8c5 0 144px,#5dc3ce 0 145px,#5ec8c5 0 146px,#60cebb 0 149px,#5ec8c5 0 151px,#60cebb 0 154px,#62ceb1 0 157px,#78cc7b 0 159px,#62ceb1 0 160px,#5dc3ce 0 165px,#5cbdd7 0 168px,#5dc3ce 0 169px,#71cb88 0 171px,#5dc3ce 0 172px,#91cf58 0 174px,#5dc3ce 0 175px,#ebcb42 0 177px,#5dc3ce 0 180px,#60cebb 0 185px,#7fcd6e 0 188px,#60cebb 0 189px,#5ec8c5 0 191px,#62ceb1 0 192px,#5ec8c5 0 193px,#60cebb 0 195px,#5ec8c5 0 196px,#91cf58 0 197px,#5dc3ce 0 199px,#5ec8c5 0 201px,#60cebb 0 204px,#86ce61 0 206px,#60cebb 0 214px,#78cc7b 0 215px,#60cebb 0 218px,#5dc3ce 0 219px,#5ec8c5 0 221px,#71cb88 0 223px,#60cebb 0 224px,#cec93b 0 225px,#5dc3ce 0 229px,#5ec8c5 0 232px,#60cebb 0 234px,#62ceb1 0 237px,#60cebb 0 239px,#62ceb1 0 240px,#65cda7 0 242px,#62ceb1 0 243px,#65cda7 0 248px,#62ceb1 0 251px,#65cda7 0 253px,#68cc9d 0 255px,#65cda7 0 260px,#9dd150 0 262px,#65cda7 0 263px,#68cc9d 0 266px,#62ceb1 0 276px,#60cebb 0 282px,#62ceb1 0 285px,#60cebb 0 290px,#62ceb1 0 300px,#c1cf3e 0 301px,#62ceb1 0 302px,#65cda7 0 305px,#62ceb1 0 312px,#60cebb 0 317px,#62ceb1 0 320px)"></i><i style="left:77.02px;width:19.42px;background:linear-gradient(#6bcb93 0 2px,#5dc3ce 0 3px,#68cc9d 0 6px,#5dc3ce 0 7px,#5ec8c5 0 8px,#60cebb 0 10px,#5ec8c5 0 11px,#68cc9d 0 14px,#5dc3ce 0 17px,#60cebb 0 18px,#5ec8c5 0 22px,#5cbdd7 0 23px,#78cc7b 0 24px,#5cbdd7 0 30px,#5cb4d5 0 32px,#5bacd3 0 33px,#5dc3ce 0 37px,#71cb88 0 38px,#5cb4d5 0 41px,#60cebb 0 43px,#62ceb1 0 45px,#60cebb 0 49px,#6bcb93 0 50px,#5ec8c5 0 54px,#60cebb 0 62px,#62ceb1 0 64px,#60cebb 0 66px,#5cbdd7 0 69px,#5dc3ce 0 71px,#5cbdd7 0 73px,#71cb88 0 74px,#5cbdd7 0 77px,#5dc3ce 0 78px,#9dd150 0 80px,#60cebb 0 81px,#5b8bc9 0 84px,#60cebb 0 85px,#62ceb1 0 87px,#5b93cc 0 88px,#60cebb 0 89px,#62ceb1 0 91px,#5ec8c5 0 93px,#5dc3ce 0 94px,#62ceb1 0 97px,#5ec8c5 0 99px,#5dc3ce 0 100px,#68cc9d 0 101px,#5dc3ce 0 104px,#62ceb1 0 105px,#5b9bce 0 106px,#65cda7 0 107px,#78cc7b 0 108px,#65cda7 0 109px,#5ec8c5 0 110px,#5dc3ce 0 112px,#5b83c6 0 115px,#5ec8c5 0 117px,#5cbdd7 0 118px,#68cc9d 0 120px,#5cbdd7 0 121px,#5dc3ce 0 122px,#6bcb93 0 123px,#5ec8c5 0 126px,#78cc7b 0 127px,#5dc3ce 0 128px,#78cc7b 0 129px,#5dc3ce 0 131px,#5ec8c5 0 132px,#71cb88 0 133px,#5dc3ce 0 134px,#78cc7b 0 137px,#5dc3ce 0 139px,#5b93cc 0 141px,#5cbdd7 0 146px,#5cb4d5 0 150px,#65cda7 0 152px,#5cb4d5 0 154px,#65cda7 0 157px,#5ec8c5 0 160px,#68cc9d 0 162px,#5ec8c5 0 163px,#60cebb 0 177px,#5dc3ce 0 180px,#6bcb93 0 182px,#60cebb 0 183px,#62ceb1 0 184px,#60cebb 0 186px,#7fcd6e 0 188px,#60cebb 0 189px,#7fcd6e 0 190px,#60cebb 0 191px,#62ceb1 0 192px,#78cc7b 0 193px,#5dc3ce 0 194px,#5ec8c5 0 195px,#5cb4d5 0 198px,#5cbdd7 0 199px,#5dc3ce 0 201px,#91cf58 0 203px,#5dc3ce 0 205px,#5cbdd7 0 211px,#5dc3ce 0 213px,#5cbdd7 0 215px,#5dc3ce 0 218px,#62ceb1 0 222px,#5dc3ce 0 223px,#5cbdd7 0 225px,#5ec8c5 0 230px,#5dc3ce 0 237px,#5ec8c5 0 240px,#60cebb 0 246px,#62ceb1 0 248px,#78cc7b 0 249px,#62ceb1 0 253px,#60cebb 0 256px,#65cda7 0 259px,#60cebb 0 260px,#5ec8c5 0 261px,#60cebb 0 263px,#5ec8c5 0 269px,#60cebb 0 271px,#7fcd6e 0 272px,#5ec8c5 0 277px,#60cebb 0 281px,#5ec8c5 0 286px,#5dc3ce 0 290px,#91cf58 0 291px,#5ec8c5 0 293px,#5ba3d1 0 294px,#5dc3ce 0 297px,#5cb4d5 0 300px,#5dc3ce 0 305px,#78cc7b 0 307px,#5dc3ce 0 310px,#5cbdd7 0 314px,#5dc3ce 0 316px,#5ec8c5 0 318px,#5dc3ce 0 320px)"></i><i style="left:96.14px;width:19.42px;background:linear-gradient(#5ec8c5 0 3px,#62ceb1 0 5px,#6bcb93 0 6px,#60cebb 0 7px,#62ceb1 0 8px,#60cebb 0 12px,#7fcd6e 0 13px,#60cebb 0 16px,#5cb4d5 0 20px,#5a71bf 0 22px,#5cbdd7 0 26px,#5cb4d5 0 27px,#65cda7 0 29px,#5dc3ce 0 30px,#5cbdd7 0 33px,#5cb4d5 0 35px,#5dc3ce 0 37px,#5cb4d5 0 38px,#65cda7 0 39px,#5a6bbc 0 41px,#62ceb1 0 45px,#65cda7 0 46px,#7fcd6e 0 48px,#6bcb93 0 50px,#65cda7 0 51px,#91cf58 0 53px,#60cebb 0 58px,#62ceb1 0 60px,#60cebb 0 62px,#5bacd3 0 64px,#60cebb 0 65px,#5ec8c5 0 67px,#6bcb93 0 68px,#5ec8c5 0 69px,#6bcb93 0 72px,#5ec8c5 0 76px,#60cebb 0 77px,#68cc9d 0 78px,#5ec8c5 0 79px,#78cc7b 0 81px,#62ceb1 0 82px,#60cebb 0 83px,#62ceb1 0 85px,#60cebb 0 86px,#6bcb93 0 87px,#60cebb 0 94px,#5ec8c5 0 96px,#60cebb 0 99px,#62ceb1 0 100px,#91cf58 0 101px,#60cebb 0 103px,#5ec8c5 0 104px,#5ba3d1 0 105px,#65cda7 0 107px,#68cc9d 0 108px,#86ce61 0 109px,#65cda7 0 111px,#68cc9d 0 114px,#65cda7 0 115px,#71cb88 0 116px,#65cda7 0 117px,#6bcb93 0 120px,#78cc7b 0 122px,#68cc9d 0 124px,#71cb88 0 125px,#68cc9d 0 126px,#c1cf3e 0 128px,#68cc9d 0 129px,#86ce61 0 130px,#6bcb93 0 131px,#7fcd6e 0 133px,#62ceb1 0 139px,#b4d540 0 141px,#60cebb 0 142px,#6bcb93 0 145px,#5ec8c5 0 147px,#5bacd3 0 148px,#60cebb 0 150px,#6bcb93 0 151px,#60cebb 0 152px,#b4d540 0 154px,#60cebb 0 155px,#b4d540 0 158px,#62ceb1 0 159px,#91cf58 0 162px,#62ceb1 0 164px,#5ba3d1 0 167px,#65cda7 0 168px,#62ceb1 0 170px,#60cebb 0 171px,#78cc7b 0 172px,#5ec8c5 0 175px,#60cebb 0 177px,#5ec8c5 0 179px,#68cc9d 0 180px,#5ec8c5 0 181px,#60cebb 0 190px,#6bcb93 0 191px,#60cebb 0 192px,#5dc3ce 0 195px,#5cbdd7 0 199px,#5bacd3 0 200px,#5dc3ce 0 201px,#5ec8c5 0 206px,#91cf58 0 209px,#5dc3ce 0 210px,#9dd150 0 211px,#5dc3ce 0 212px,#5cb4d5 0 214px,#5ec8c5 0 217px,#5cbdd7 0 225px,#60cebb 0 226px,#5ec8c5 0 228px,#5cbdd7 0 229px,#5dc3ce 0 230px,#5cbdd7 0 233px,#5cb4d5 0 239px,#68cc9d 0 240px,#5dc3ce 0 241px,#71cb88 0 243px,#60cebb 0 244px,#5ec8c5 0 245px,#60cebb 0 251px,#6bcb93 0 253px,#60cebb 0 257px,#5ec8c5 0 264px,#60cebb 0 265px,#68cc9d 0 275px,#65cda7 0 276px,#68cc9d 0 278px,#65cda7 0 280px,#71cb88 0 282px,#65cda7 0 283px,#68cc9d 0 285px,#65cda7 0 287px,#62ceb1 0 288px,#65cda7 0 290px,#62ceb1 0 292px,#65cda7 0 293px,#68cc9d 0 294px,#65cda7 0 296px,#68cc9d 0 299px,#60cebb 0 300px,#5ec8c5 0 303px,#60cebb 0 306px,#5ec8c5 0 310px,#62ceb1 0 316px,#65cda7 0 318px,#62ceb1 0 320px)"></i><i style="left:115.26px;width:19.42px;background:linear-gradient(#62ceb1 0 14px,#60cebb 0 16px,#62ceb1 0 17px,#60cebb 0 19px,#62ceb1 0 44px,#60cebb 0 46px,#62ceb1 0 60px,#60cebb 0 68px,#62ceb1 0 82px,#60cebb 0 84px,#62ceb1 0 90px,#65cda7 0 91px,#62ceb1 0 111px,#60cebb 0 117px,#62ceb1 0 126px,#91cf58 0 128px,#60cebb 0 133px,#62ceb1 0 135px,#60cebb 0 138px,#62ceb1 0 144px,#60cebb 0 146px,#62ceb1 0 148px,#60cebb 0 149px,#62ceb1 0 151px,#60cebb 0 154px,#62ceb1 0 159px,#60cebb 0 165px,#62ceb1 0 176px,#71cb88 0 177px,#62ceb1 0 198px,#60cebb 0 199px,#62ceb1 0 205px,#65cda7 0 208px,#62ceb1 0 218px,#65cda7 0 221px,#62ceb1 0 247px,#65cda7 0 250px,#62ceb1 0 274px,#60cebb 0 276px,#62ceb1 0 278px,#60cebb 0 280px,#62ceb1 0 281px,#60cebb 0 282px,#5b93cc 0 284px,#60cebb 0 291px,#62ceb1 0 293px,#60cebb 0 295px,#62ceb1 0 300px,#60cebb 0 303px,#62ceb1 0 305px,#60cebb 0 320px)"></i><i style="left:134.38px;width:19.42px;background:linear-gradient(#62ceb1 0 3px,#65cda7 0 5px,#62ceb1 0 7px,#65cda7 0 9px,#62ceb1 0 16px,#65cda7 0 18px,#62ceb1 0 19px,#60cebb 0 20px,#62ceb1 0 21px,#60cebb 0 23px,#62ceb1 0 25px,#60cebb 0 27px,#62ceb1 0 30px,#60cebb 0 31px,#7fcd6e 0 32px,#60cebb 0 33px,#62ceb1 0 34px,#60cebb 0 38px,#71cb88 0 41px,#62ceb1 0 42px,#60cebb 0 43px,#62ceb1 0 44px,#60cebb 0 62px,#62ceb1 0 68px,#60cebb 0 70px,#62ceb1 0 71px,#60cebb 0 73px,#7fcd6e 0 74px,#60cebb 0 76px,#62ceb1 0 78px,#5cbdd7 0 79px,#60cebb 0 86px,#91cf58 0 88px,#62ceb1 0 90px,#60cebb 0 94px,#62ceb1 0 96px,#60cebb 0 99px,#a8d348 0 100px,#60cebb 0 101px,#78cc7b 0 103px,#62ceb1 0 107px,#86ce61 0 110px,#62ceb1 0 111px,#9dd150 0 114px,#65cda7 0 116px,#62ceb1 0 118px,#7fcd6e 0 121px,#65cda7 0 122px,#60cebb 0 123px,#6bcb93 0 124px,#60cebb 0 125px,#62ceb1 0 128px,#71cb88 0 129px,#62ceb1 0 132px,#5ec8c5 0 135px,#60cebb 0 137px,#5ec8c5 0 138px,#60cebb 0 147px,#5cbdd7 0 150px,#62ceb1 0 173px,#a8d348 0 176px,#60cebb 0 177px,#5ec8c5 0 180px,#60cebb 0 181px,#5ec8c5 0 183px,#71cb88 0 184px,#5ec8c5 0 187px,#60cebb 0 190px,#5ec8c5 0 192px,#60cebb 0 193px,#62ceb1 0 197px,#60cebb 0 198px,#62ceb1 0 201px,#71cb88 0 202px,#62ceb1 0 204px,#65cda7 0 207px,#62ceb1 0 212px,#60cebb 0 221px,#62ceb1 0 227px,#60cebb 0 228px,#62ceb1 0 230px,#65cda7 0 232px,#62ceb1 0 237px,#60cebb 0 240px,#62ceb1 0 245px,#65cda7 0 246px,#62ceb1 0 247px,#60cebb 0 250px,#62ceb1 0 252px,#60cebb 0 264px,#62ceb1 0 266px,#60cebb 0 271px,#62ceb1 0 276px,#60cebb 0 283px,#62ceb1 0 284px,#65cda7 0 285px,#62ceb1 0 292px,#b4d540 0 293px,#62ceb1 0 314px,#60cebb 0 318px,#62ceb1 0 320px)"></i><i style="left:153.50px;width:19.42px;background:linear-gradient(#62ceb1 0 2px,#60cebb 0 5px,#62ceb1 0 8px,#60cebb 0 10px,#62ceb1 0 12px,#71cb88 0 13px,#60cebb 0 14px,#62ceb1 0 17px,#60cebb 0 20px,#62ceb1 0 21px,#71cb88 0 24px,#62ceb1 0 26px,#60cebb 0 36px,#62ceb1 0 37px,#60cebb 0 38px,#62ceb1 0 41px,#60cebb 0 43px,#c1cf3e 0 44px,#60cebb 0 53px,#91cf58 0 54px,#60cebb 0 59px,#62ceb1 0 65px,#60cebb 0 67px,#62ceb1 0 74px,#a8d348 0 76px,#62ceb1 0 83px,#71cb88 0 84px,#62ceb1 0 86px,#60cebb 0 87px,#e6ed49 0 88px,#60cebb 0 90px,#e5b041 0 93px,#60cebb 0 99px,#62ceb1 0 101px,#60cebb 0 103px,#78cc7b 0 105px,#62ceb1 0 107px,#65cda7 0 109px,#62ceb1 0 111px,#60cebb 0 113px,#62ceb1 0 114px,#71cb88 0 116px,#65cda7 0 118px,#62ceb1 0 128px,#a8d348 0 129px,#62ceb1 0 132px,#a8d348 0 135px,#62ceb1 0 145px,#65cda7 0 151px,#60cebb 0 158px,#62ceb1 0 162px,#e6ed49 0 163px,#62ceb1 0 168px,#60cebb 0 170px,#62ceb1 0 171px,#60cebb 0 173px,#62ceb1 0 184px,#a8d348 0 185px,#62ceb1 0 199px,#60cebb 0 200px,#62ceb1 0 207px,#60cebb 0 209px,#7fcd6e 0 210px,#60cebb 0 211px,#62ceb1 0 216px,#65cda7 0 219px,#71cb88 0 222px,#62ceb1 0 231px,#5ec8c5 0 233px,#60cebb 0 235px,#62ceb1 0 242px,#78cc7b 0 244px,#62ceb1 0 253px,#60cebb 0 255px,#62ceb1 0 264px,#91cf58 0 267px,#62ceb1 0 268px,#65cda7 0 270px,#62ceb1 0 271px,#65cda7 0 275px,#62ceb1 0 279px,#65cda7 0 284px,#60cebb 0 292px,#a8d348 0 293px,#60cebb 0 299px,#78cc7b 0 300px,#65cda7 0 307px,#62ceb1 0 320px)"></i><i style="left:172.62px;width:19.42px;background:linear-gradient(#5dc3ce 0 2px,#5cbdd7 0 8px,#5cb4d5 0 9px,#5cbdd7 0 11px,#5dc3ce 0 13px,#5cbdd7 0 17px,#5dc3ce 0 19px,#71cb88 0 20px,#5ec8c5 0 21px,#5dc3ce 0 24px,#5ec8c5 0 26px,#5dc3ce 0 27px,#71cb88 0 30px,#5dc3ce 0 33px,#5ec8c5 0 39px,#eabe42 0 42px,#5ec8c5 0 43px,#68cc9d 0 45px,#60cebb 0 46px,#5ec8c5 0 53px,#60cebb 0 55px,#e5b041 0 58px,#5ec8c5 0 59px,#60cebb 0 60px,#5ec8c5 0 61px,#60cebb 0 64px,#c1cf3e 0 65px,#60cebb 0 66px,#5ec8c5 0 74px,#5dc3ce 0 75px,#c1cf3e 0 78px,#60cebb 0 81px,#5cbdd7 0 83px,#5ec8c5 0 84px,#5dc3ce 0 86px,#5ec8c5 0 88px,#5dc3ce 0 91px,#5ec8c5 0 93px,#5dc3ce 0 95px,#5ec8c5 0 96px,#68cc9d 0 98px,#5dc3ce 0 99px,#5ec8c5 0 102px,#68cc9d 0 104px,#5ec8c5 0 108px,#68cc9d 0 109px,#60cebb 0 110px,#5ec8c5 0 115px,#e5b041 0 117px,#5ec8c5 0 118px,#78cc7b 0 119px,#5ec8c5 0 120px,#78cc7b 0 123px,#5dc3ce 0 124px,#71cb88 0 125px,#5ec8c5 0 126px,#b4d540 0 129px,#60cebb 0 132px,#5ec8c5 0 134px,#60cebb 0 135px,#62ceb1 0 136px,#60cebb 0 139px,#91cf58 0 142px,#60cebb 0 144px,#6bcb93 0 147px,#60cebb 0 149px,#7fcd6e 0 151px,#62ceb1 0 152px,#6bcb93 0 153px,#62ceb1 0 154px,#60cebb 0 157px,#62ceb1 0 159px,#60cebb 0 161px,#cec93b 0 164px,#60cebb 0 165px,#71cb88 0 168px,#5dc3ce 0 174px,#71cb88 0 176px,#5dc3ce 0 182px,#68cc9d 0 183px,#5dc3ce 0 188px,#5cbdd7 0 191px,#5dc3ce 0 192px,#60cebb 0 195px,#71cb88 0 196px,#60cebb 0 197px,#5ec8c5 0 199px,#60cebb 0 202px,#5ec8c5 0 204px,#60cebb 0 207px,#5ec8c5 0 209px,#60cebb 0 210px,#e7e346 0 212px,#5ec8c5 0 214px,#5dc3ce 0 220px,#60cebb 0 222px,#5ec8c5 0 227px,#7fcd6e 0 230px,#60cebb 0 231px,#5dc3ce 0 237px,#5ec8c5 0 245px,#6bcb93 0 247px,#5ec8c5 0 256px,#60cebb 0 261px,#5dc3ce 0 262px,#5cbdd7 0 263px,#5dc3ce 0 268px,#5cbdd7 0 269px,#5dc3ce 0 271px,#78cc7b 0 272px,#5cbdd7 0 273px,#5dc3ce 0 274px,#65cda7 0 276px,#5cbdd7 0 277px,#5dc3ce 0 280px,#5cbdd7 0 282px,#65cda7 0 285px,#5dc3ce 0 288px,#5ec8c5 0 291px,#5dc3ce 0 292px,#78cc7b 0 293px,#5dc3ce 0 294px,#62ceb1 0 296px,#60cebb 0 298px,#62ceb1 0 300px,#60cebb 0 302px,#65cda7 0 305px,#62ceb1 0 307px,#65cda7 0 309px,#60cebb 0 311px,#62ceb1 0 313px,#65cda7 0 314px,#5dc3ce 0 316px,#5cbdd7 0 319px,#5cb4d5 0 320px)"></i><i style="left:191.74px;width:19.42px;background:linear-gradient(#5ec8c5 0 3px,#60cebb 0 8px,#78cc7b 0 10px,#60cebb 0 36px,#5ec8c5 0 37px,#60cebb 0 53px,#62ceb1 0 60px,#60cebb 0 62px,#62ceb1 0 64px,#60cebb 0 66px,#62ceb1 0 72px,#60cebb 0 74px,#62ceb1 0 79px,#60cebb 0 80px,#62ceb1 0 83px,#e6ed49 0 85px,#60cebb 0 86px,#91cf58 0 87px,#60cebb 0 88px,#62ceb1 0 96px,#60cebb 0 100px,#5ec8c5 0 101px,#60cebb 0 109px,#5ec8c5 0 110px,#65cda7 0 113px,#62ceb1 0 114px,#65cda7 0 117px,#71cb88 0 119px,#65cda7 0 123px,#62ceb1 0 125px,#65cda7 0 126px,#60cebb 0 127px,#62ceb1 0 129px,#60cebb 0 137px,#62ceb1 0 139px,#7fcd6e 0 140px,#60cebb 0 141px,#62ceb1 0 145px,#e5b041 0 147px,#62ceb1 0 149px,#60cebb 0 153px,#62ceb1 0 154px,#7fcd6e 0 156px,#60cebb 0 161px,#5ec8c5 0 162px,#60cebb 0 166px,#62ceb1 0 168px,#60cebb 0 173px,#71cb88 0 176px,#60cebb 0 177px,#5ec8c5 0 178px,#e6ed49 0 180px,#60cebb 0 181px,#65cda7 0 184px,#62ceb1 0 192px,#60cebb 0 193px,#62ceb1 0 204px,#60cebb 0 206px,#62ceb1 0 213px,#86ce61 0 214px,#5ec8c5 0 215px,#86ce61 0 217px,#60cebb 0 227px,#7fcd6e 0 228px,#60cebb 0 234px,#62ceb1 0 239px,#60cebb 0 242px,#62ceb1 0 243px,#60cebb 0 245px,#62ceb1 0 251px,#60cebb 0 259px,#62ceb1 0 270px,#60cebb 0 271px,#62ceb1 0 272px,#60cebb 0 282px,#5ec8c5 0 283px,#60cebb 0 289px,#62ceb1 0 291px,#e6ed49 0 292px,#60cebb 0 297px,#91cf58 0 300px,#62ceb1 0 302px,#60cebb 0 310px,#62ceb1 0 312px,#60cebb 0 317px,#62ceb1 0 320px)"></i><i style="left:210.86px;width:19.42px;background:linear-gradient(#60cebb 0 1px,#68cc9d 0 3px,#60cebb 0 5px,#5ec8c5 0 7px,#60cebb 0 8px,#a8d348 0 10px,#60cebb 0 13px,#62ceb1 0 15px,#71cb88 0 16px,#5bacd3 0 18px,#5cb4d5 0 21px,#71cb88 0 22px,#5bacd3 0 23px,#6bcb93 0 26px,#62ceb1 0 29px,#5ec8c5 0 30px,#62ceb1 0 39px,#71cb88 0 42px,#60cebb 0 43px,#62ceb1 0 47px,#68cc9d 0 50px,#5ec8c5 0 52px,#6bcb93 0 54px,#5ec8c5 0 65px,#c1cf3e 0 66px,#60cebb 0 67px,#5ec8c5 0 69px,#78cc7b 0 70px,#5ec8c5 0 71px,#5dc3ce 0 73px,#5ec8c5 0 77px,#68cc9d 0 78px,#5ec8c5 0 80px,#78cc7b 0 81px,#60cebb 0 83px,#5ec8c5 0 86px,#91cf58 0 87px,#5ec8c5 0 88px,#c1cf3e 0 91px,#5ec8c5 0 93px,#60cebb 0 95px,#5dc3ce 0 97px,#5ec8c5 0 100px,#5dc3ce 0 105px,#5ec8c5 0 106px,#78cc7b 0 109px,#5dc3ce 0 110px,#68cc9d 0 113px,#5dc3ce 0 114px,#68cc9d 0 116px,#5ec8c5 0 117px,#68cc9d 0 118px,#5dc3ce 0 119px,#5cbdd7 0 121px,#86ce61 0 123px,#5dc3ce 0 124px,#60cebb 0 125px,#71cb88 0 126px,#5ec8c5 0 127px,#6bcb93 0 128px,#60cebb 0 132px,#68cc9d 0 133px,#60cebb 0 134px,#71cb88 0 135px,#60cebb 0 141px,#68cc9d 0 142px,#60cebb 0 146px,#e9b142 0 147px,#5ec8c5 0 149px,#86ce61 0 151px,#60cebb 0 155px,#6bcb93 0 157px,#60cebb 0 158px,#62ceb1 0 159px,#6bcb93 0 162px,#62ceb1 0 165px,#60cebb 0 168px,#5ec8c5 0 170px,#5dc3ce 0 171px,#6bcb93 0 172px,#5dc3ce 0 175px,#5ec8c5 0 180px,#5dc3ce 0 181px,#65cda7 0 182px,#7fcd6e 0 184px,#62ceb1 0 188px,#65cda7 0 189px,#6bcb93 0 191px,#62ceb1 0 192px,#65cda7 0 196px,#62ceb1 0 198px,#60cebb 0 200px,#a8d348 0 201px,#65cda7 0 204px,#71cb88 0 205px,#65cda7 0 206px,#5dc3ce 0 209px,#5cbdd7 0 210px,#b4d540 0 213px,#5dc3ce 0 215px,#5ec8c5 0 218px,#68cc9d 0 221px,#5ec8c5 0 224px,#5dc3ce 0 226px,#5ec8c5 0 231px,#60cebb 0 232px,#585ab3 0 234px,#5ec8c5 0 242px,#5dc3ce 0 246px,#5cbdd7 0 247px,#5dc3ce 0 258px,#6bcb93 0 259px,#5cbdd7 0 261px,#7fcd6e 0 264px,#5dc3ce 0 266px,#60cebb 0 270px,#5ec8c5 0 273px,#68cc9d 0 274px,#5ec8c5 0 275px,#60cebb 0 277px,#71cb88 0 278px,#60cebb 0 279px,#6bcb93 0 282px,#60cebb 0 284px,#5ec8c5 0 285px,#9dd150 0 288px,#5ec8c5 0 292px,#5dc3ce 0 296px,#78cc7b 0 297px,#5dc3ce 0 302px,#5ec8c5 0 304px,#6bcb93 0 307px,#5ec8c5 0 309px,#7fcd6e 0 310px,#5ec8c5 0 312px,#60cebb 0 313px,#5ec8c5 0 315px,#60cebb 0 316px,#78cc7b 0 317px,#5dc3ce 0 319px,#5ec8c5 0 320px)"></i><i style="left:229.98px;width:19.42px;background:linear-gradient(#5ec8c5 0 2px,#60cebb 0 3px,#78cc7b 0 4px,#60cebb 0 9px,#5ec8c5 0 11px,#60cebb 0 18px,#62ceb1 0 19px,#65cda7 0 20px,#62ceb1 0 25px,#60cebb 0 28px,#5dc3ce 0 29px,#62ceb1 0 30px,#68cc9d 0 33px,#65cda7 0 41px,#62ceb1 0 43px,#65cda7 0 54px,#62ceb1 0 57px,#65cda7 0 62px,#62ceb1 0 63px,#60cebb 0 64px,#62ceb1 0 66px,#60cebb 0 69px,#62ceb1 0 73px,#60cebb 0 74px,#62ceb1 0 84px,#5cbdd7 0 85px,#60cebb 0 87px,#62ceb1 0 89px,#60cebb 0 91px,#86ce61 0 92px,#60cebb 0 94px,#71cb88 0 95px,#60cebb 0 98px,#62ceb1 0 101px,#65cda7 0 103px,#62ceb1 0 111px,#65cda7 0 112px,#62ceb1 0 114px,#65cda7 0 117px,#62ceb1 0 123px,#65cda7 0 124px,#62ceb1 0 131px,#65cda7 0 134px,#78cc7b 0 136px,#62ceb1 0 137px,#7fcd6e 0 138px,#62ceb1 0 139px,#65cda7 0 141px,#62ceb1 0 147px,#60cebb 0 149px,#62ceb1 0 175px,#7fcd6e 0 177px,#62ceb1 0 178px,#65cda7 0 180px,#62ceb1 0 182px,#65cda7 0 183px,#62ceb1 0 188px,#60cebb 0 203px,#62ceb1 0 205px,#60cebb 0 206px,#62ceb1 0 215px,#65cda7 0 216px,#60cebb 0 218px,#62ceb1 0 221px,#65cda7 0 224px,#62ceb1 0 225px,#65cda7 0 227px,#62ceb1 0 235px,#5cbdd7 0 237px,#62ceb1 0 241px,#65cda7 0 244px,#62ceb1 0 254px,#60cebb 0 257px,#62ceb1 0 263px,#65cda7 0 264px,#62ceb1 0 275px,#65cda7 0 279px,#5b93cc 0 281px,#62ceb1 0 282px,#65cda7 0 288px,#68cc9d 0 294px,#65cda7 0 295px,#68cc9d 0 300px,#65cda7 0 302px,#68cc9d 0 304px,#65cda7 0 309px,#62ceb1 0 315px,#86ce61 0 316px,#65cda7 0 319px,#62ceb1 0 320px)"></i><i style="left:249.10px;width:19.42px;background:linear-gradient(#60cebb 0 8px,#62ceb1 0 23px,#60cebb 0 25px,#62ceb1 0 31px,#65cda7 0 32px,#62ceb1 0 33px,#60cebb 0 35px,#62ceb1 0 52px,#60cebb 0 54px,#62ceb1 0 56px,#78cc7b 0 58px,#62ceb1 0 60px,#60cebb 0 64px,#62ceb1 0 69px,#65cda7 0 71px,#62ceb1 0 72px,#78cc7b 0 73px,#62ceb1 0 77px,#7fcd6e 0 79px,#65cda7 0 87px,#71cb88 0 89px,#65cda7 0 91px,#62ceb1 0 93px,#65cda7 0 95px,#62ceb1 0 97px,#65cda7 0 98px,#62ceb1 0 99px,#65cda7 0 102px,#60cebb 0 104px,#62ceb1 0 115px,#60cebb 0 116px,#62ceb1 0 119px,#65cda7 0 121px,#62ceb1 0 123px,#65cda7 0 124px,#62ceb1 0 125px,#86ce61 0 126px,#62ceb1 0 127px,#5bacd3 0 129px,#65cda7 0 136px,#62ceb1 0 141px,#65cda7 0 142px,#7fcd6e 0 145px,#65cda7 0 148px,#62ceb1 0 150px,#60cebb 0 151px,#dfb83e 0 154px,#60cebb 0 156px,#62ceb1 0 167px,#65cda7 0 169px,#78cc7b 0 172px,#62ceb1 0 173px,#65cda7 0 174px,#62ceb1 0 177px,#65cda7 0 181px,#78cc7b 0 182px,#65cda7 0 187px,#62ceb1 0 196px,#60cebb 0 200px,#62ceb1 0 204px,#60cebb 0 208px,#62ceb1 0 211px,#71cb88 0 212px,#62ceb1 0 214px,#60cebb 0 217px,#62ceb1 0 226px,#60cebb 0 227px,#62ceb1 0 230px,#60cebb 0 233px,#62ceb1 0 235px,#65cda7 0 238px,#5cb4d5 0 239px,#65cda7 0 240px,#62ceb1 0 247px,#65cda7 0 251px,#60cebb 0 254px,#62ceb1 0 262px,#60cebb 0 264px,#62ceb1 0 269px,#60cebb 0 277px,#62ceb1 0 282px,#60cebb 0 283px,#5cbdd7 0 284px,#62ceb1 0 285px,#60cebb 0 287px,#5ba3d1 0 288px,#60cebb 0 292px,#62ceb1 0 306px,#60cebb 0 309px,#62ceb1 0 310px,#60cebb 0 315px,#62ceb1 0 317px,#65cda7 0 318px,#cec93b 0 320px)"></i><i style="left:268.22px;width:19.42px;background:linear-gradient(#5cb4d5 0 3px,#65cda7 0 4px,#5cb4d5 0 9px,#65cda7 0 12px,#5b9bce 0 14px,#60cebb 0 16px,#65cda7 0 18px,#62ceb1 0 19px,#5ba3d1 0 21px,#5ec8c5 0 22px,#65cda7 0 23px,#5cb4d5 0 26px,#62ceb1 0 31px,#60cebb 0 32px,#5b7cc4 0 33px,#65cda7 0 35px,#68cc9d 0 36px,#65cda7 0 43px,#68cc9d 0 47px,#65cda7 0 49px,#62ceb1 0 52px,#65cda7 0 60px,#5ec8c5 0 61px,#62ceb1 0 63px,#65cda7 0 64px,#5cb4d5 0 65px,#60cebb 0 66px,#65cda7 0 69px,#62ceb1 0 70px,#5b8bc9 0 72px,#62ceb1 0 78px,#65cda7 0 80px,#86ce61 0 81px,#5ec8c5 0 83px,#62ceb1 0 86px,#60cebb 0 88px,#5dc3ce 0 90px,#5ec8c5 0 93px,#62ceb1 0 94px,#5b9bce 0 97px,#60cebb 0 100px,#62ceb1 0 102px,#5dc3ce 0 103px,#62ceb1 0 104px,#5dc3ce 0 107px,#60cebb 0 108px,#65cda7 0 109px,#91cf58 0 111px,#62ceb1 0 112px,#65cda7 0 115px,#5b8bc9 0 116px,#62ceb1 0 117px,#65cda7 0 119px,#62ceb1 0 123px,#65cda7 0 125px,#62ceb1 0 126px,#65cda7 0 129px,#60cebb 0 132px,#62ceb1 0 135px,#65cda7 0 137px,#62ceb1 0 143px,#60cebb 0 144px,#62ceb1 0 147px,#60cebb 0 149px,#b4d540 0 152px,#60cebb 0 153px,#5cbdd7 0 154px,#60cebb 0 157px,#62ceb1 0 159px,#60cebb 0 165px,#62ceb1 0 168px,#60cebb 0 169px,#62ceb1 0 171px,#60cebb 0 172px,#62ceb1 0 176px,#65cda7 0 178px,#5ec8c5 0 182px,#60cebb 0 188px,#5ec8c5 0 190px,#5dc3ce 0 193px,#62ceb1 0 196px,#65cda7 0 197px,#62ceb1 0 199px,#65cda7 0 201px,#60cebb 0 203px,#62ceb1 0 207px,#65cda7 0 208px,#60cebb 0 210px,#65cda7 0 213px,#62ceb1 0 215px,#60cebb 0 217px,#65cda7 0 219px,#62ceb1 0 220px,#7fcd6e 0 221px,#62ceb1 0 232px,#68cc9d 0 238px,#71cb88 0 240px,#5cb4d5 0 242px,#68cc9d 0 243px,#5dc3ce 0 245px,#5b9bce 0 247px,#5b8bc9 0 248px,#5cbdd7 0 251px,#68cc9d 0 253px,#5b9bce 0 255px,#5bacd3 0 257px,#5b8bc9 0 258px,#5ec8c5 0 259px,#5ba3d1 0 261px,#5b93cc 0 263px,#5b8bc9 0 264px,#68cc9d 0 265px,#65cda7 0 269px,#5cbdd7 0 273px,#5dc3ce 0 276px,#60cebb 0 280px,#5cbdd7 0 281px,#5cb4d5 0 283px,#71cb88 0 284px,#62ceb1 0 285px,#5bacd3 0 288px,#62ceb1 0 289px,#65cda7 0 290px,#5ec8c5 0 291px,#65cda7 0 295px,#68cc9d 0 298px,#65cda7 0 303px,#68cc9d 0 304px,#5ec8c5 0 305px,#68cc9d 0 306px,#65cda7 0 309px,#68cc9d 0 310px,#65cda7 0 312px,#60cebb 0 313px,#5bacd3 0 314px,#62ceb1 0 316px,#5bacd3 0 318px,#62ceb1 0 320px)"></i><i style="left:287.34px;width:19.42px;background:linear-gradient(#5dc3ce 0 2px,#6bcb93 0 3px,#62ceb1 0 5px,#6bcb93 0 6px,#68cc9d 0 18px,#60cebb 0 19px,#5bacd3 0 20px,#5ec8c5 0 23px,#5b8bc9 0 25px,#60cebb 0 26px,#5ec8c5 0 28px,#62ceb1 0 30px,#5ec8c5 0 34px,#60cebb 0 36px,#5ec8c5 0 37px,#65cda7 0 38px,#68cc9d 0 39px,#65cda7 0 42px,#71cb88 0 46px,#6bcb93 0 48px,#71cb88 0 49px,#5962b7 0 51px,#6bcb93 0 52px,#68cc9d 0 54px,#6bcb93 0 60px,#5ec8c5 0 61px,#6bcb93 0 70px,#5dc3ce 0 72px,#6bcb93 0 74px,#71cb88 0 76px,#6bcb93 0 78px,#71cb88 0 80px,#65cda7 0 87px,#5cb4d5 0 88px,#62ceb1 0 90px,#65cda7 0 94px,#62ceb1 0 95px,#5cb4d5 0 97px,#65cda7 0 98px,#5bacd3 0 99px,#65cda7 0 106px,#62ceb1 0 107px,#68cc9d 0 108px,#65cda7 0 110px,#60cebb 0 116px,#62ceb1 0 117px,#60cebb 0 118px,#5dc3ce 0 121px,#60cebb 0 122px,#5cb4d5 0 123px,#60cebb 0 125px,#5cb4d5 0 126px,#60cebb 0 127px,#62ceb1 0 128px,#60cebb 0 130px,#62ceb1 0 133px,#5cbdd7 0 136px,#62ceb1 0 137px,#65cda7 0 138px,#5b93cc 0 140px,#62ceb1 0 141px,#5cbdd7 0 143px,#62ceb1 0 145px,#5b9bce 0 146px,#60cebb 0 149px,#5ec8c5 0 150px,#5bacd3 0 152px,#60cebb 0 155px,#585eb5 0 156px,#5ec8c5 0 158px,#5dc3ce 0 159px,#60cebb 0 160px,#5ec8c5 0 167px,#60cebb 0 168px,#62ceb1 0 178px,#65cda7 0 186px,#62ceb1 0 188px,#65cda7 0 190px,#5cbdd7 0 193px,#68cc9d 0 194px,#6bcb93 0 195px,#68cc9d 0 204px,#62ceb1 0 206px,#5ba3d1 0 209px,#60cebb 0 210px,#65cda7 0 212px,#5b93cc 0 213px,#65cda7 0 214px,#62ceb1 0 219px,#65cda7 0 221px,#62ceb1 0 223px,#60cebb 0 225px,#62ceb1 0 228px,#60cebb 0 230px,#5ba3d1 0 231px,#60cebb 0 233px,#5ba3d1 0 235px,#60cebb 0 237px,#62ceb1 0 240px,#65cda7 0 244px,#71cb88 0 245px,#78cc7b 0 248px,#71cb88 0 252px,#78cc7b 0 258px,#71cb88 0 261px,#5bacd3 0 262px,#71cb88 0 263px,#5a71bf 0 266px,#71cb88 0 267px,#6bcb93 0 271px,#71cb88 0 272px,#c1cf3e 0 273px,#71cb88 0 275px,#6bcb93 0 278px,#71cb88 0 281px,#6bcb93 0 284px,#68cc9d 0 288px,#6bcb93 0 291px,#68cc9d 0 294px,#65cda7 0 295px,#68cc9d 0 296px,#62ceb1 0 298px,#65cda7 0 306px,#62ceb1 0 310px,#5dc3ce 0 313px,#65cda7 0 314px,#5cbdd7 0 317px,#65cda7 0 318px,#62ceb1 0 320px)"></i><i style="left:306.46px;width:19.42px;background:linear-gradient(#78cc7b 0 1px,#71cb88 0 9px,#5ec8c5 0 10px,#71cb88 0 13px,#5cbdd7 0 15px,#6bcb93 0 18px,#65cda7 0 29px,#68cc9d 0 32px,#65cda7 0 34px,#5b83c6 0 36px,#6bcb93 0 37px,#65cda7 0 40px,#68cc9d 0 42px,#6bcb93 0 45px,#60cebb 0 48px,#62ceb1 0 50px,#60cebb 0 52px,#554dab 0 54px,#68cc9d 0 56px,#6bcb93 0 59px,#71cb88 0 62px,#6bcb93 0 64px,#68cc9d 0 67px,#71cb88 0 68px,#6bcb93 0 69px,#68cc9d 0 71px,#5b93cc 0 73px,#6bcb93 0 75px,#68cc9d 0 76px,#5b83c6 0 78px,#71cb88 0 80px,#62ceb1 0 82px,#5b9bce 0 83px,#62ceb1 0 92px,#5bacd3 0 95px,#65cda7 0 97px,#62ceb1 0 101px,#5ec8c5 0 102px,#5dc3ce 0 103px,#5b8bc9 0 105px,#5dc3ce 0 106px,#5b9bce 0 107px,#5dc3ce 0 110px,#5bacd3 0 112px,#5ec8c5 0 116px,#5cbdd7 0 117px,#5b83c6 0 118px,#5dc3ce 0 122px,#5bacd3 0 123px,#5dc3ce 0 124px,#5b9bce 0 126px,#5ec8c5 0 127px,#60cebb 0 140px,#5cbdd7 0 141px,#5ec8c5 0 142px,#60cebb 0 144px,#5b93cc 0 146px,#5ec8c5 0 158px,#5dc3ce 0 159px,#5ec8c5 0 161px,#5b93cc 0 163px,#5ec8c5 0 165px,#5dc3ce 0 166px,#5ec8c5 0 167px,#5a71bf 0 169px,#5dc3ce 0 172px,#5ec8c5 0 173px,#60cebb 0 174px,#62ceb1 0 176px,#5ec8c5 0 177px,#5cb4d5 0 178px,#60cebb 0 179px,#5ec8c5 0 182px,#60cebb 0 184px,#5a71bf 0 185px,#60cebb 0 186px,#5a71bf 0 188px,#5dc3ce 0 192px,#60cebb 0 194px,#5ec8c5 0 196px,#60cebb 0 197px,#62ceb1 0 198px,#60cebb 0 200px,#5bacd3 0 201px,#62ceb1 0 202px,#60cebb 0 204px,#65cda7 0 207px,#62ceb1 0 209px,#65cda7 0 212px,#62ceb1 0 214px,#65cda7 0 219px,#62ceb1 0 221px,#5b93cc 0 224px,#5dc3ce 0 229px,#5ec8c5 0 230px,#5dc3ce 0 231px,#5ec8c5 0 232px,#5dc3ce 0 234px,#5a71bf 0 235px,#5ec8c5 0 237px,#5dc3ce 0 239px,#5ec8c5 0 245px,#5b9bce 0 248px,#68cc9d 0 249px,#62ceb1 0 251px,#65cda7 0 254px,#5cb4d5 0 257px,#68cc9d 0 261px,#5cbdd7 0 263px,#68cc9d 0 267px,#585eb5 0 268px,#68cc9d 0 269px,#78cc7b 0 271px,#68cc9d 0 272px,#65cda7 0 277px,#68cc9d 0 278px,#65cda7 0 280px,#68cc9d 0 283px,#65cda7 0 285px,#68cc9d 0 286px,#65cda7 0 289px,#62ceb1 0 291px,#5cb4d5 0 293px,#65cda7 0 294px,#62ceb1 0 296px,#5ba3d1 0 297px,#65cda7 0 298px,#60cebb 0 299px,#62ceb1 0 304px,#60cebb 0 306px,#65cda7 0 308px,#62ceb1 0 310px,#65cda7 0 320px)"></i><i style="left:325.58px;width:19.42px;background:linear-gradient(#62ceb1 0 6px,#65cda7 0 10px,#68cc9d 0 12px,#65cda7 0 13px,#62ceb1 0 26px,#60cebb 0 29px,#65cda7 0 30px,#62ceb1 0 33px,#65cda7 0 34px,#5b9bce 0 37px,#62ceb1 0 38px,#5dc3ce 0 39px,#5ec8c5 0 44px,#5cb4d5 0 45px,#5dc3ce 0 48px,#5ec8c5 0 50px,#62ceb1 0 52px,#65cda7 0 54px,#62ceb1 0 55px,#5cbdd7 0 56px,#62ceb1 0 60px,#5b9bce 0 61px,#62ceb1 0 62px,#65cda7 0 64px,#62ceb1 0 65px,#5ba3d1 0 66px,#62ceb1 0 70px,#65cda7 0 72px,#62ceb1 0 74px,#68cc9d 0 76px,#5bacd3 0 78px,#65cda7 0 80px,#62ceb1 0 82px,#5ec8c5 0 85px,#71cb88 0 86px,#60cebb 0 88px,#5ec8c5 0 90px,#5b8bc9 0 91px,#60cebb 0 93px,#5ec8c5 0 95px,#60cebb 0 97px,#5ec8c5 0 98px,#60cebb 0 102px,#5cb4d5 0 104px,#60cebb 0 109px,#62ceb1 0 112px,#5cb4d5 0 114px,#5ec8c5 0 115px,#5b76c1 0 116px,#5ec8c5 0 117px,#5cb4d5 0 119px,#60cebb 0 120px,#62ceb1 0 123px,#60cebb 0 127px,#62ceb1 0 129px,#5b7cc4 0 130px,#5ec8c5 0 132px,#60cebb 0 135px,#5ec8c5 0 136px,#5a6bbc 0 137px,#5ec8c5 0 138px,#5cb4d5 0 139px,#60cebb 0 143px,#5ba3d1 0 144px,#60cebb 0 147px,#5dc3ce 0 149px,#5cb4d5 0 150px,#5dc3ce 0 151px,#5cb4d5 0 153px,#5dc3ce 0 155px,#5ec8c5 0 157px,#5dc3ce 0 158px,#5cbdd7 0 159px,#5dc3ce 0 161px,#5ec8c5 0 162px,#60cebb 0 167px,#5b9bce 0 170px,#62ceb1 0 172px,#5bacd3 0 175px,#60cebb 0 177px,#5ec8c5 0 182px,#5dc3ce 0 184px,#60cebb 0 186px,#b4d540 0 187px,#5dc3ce 0 188px,#60cebb 0 191px,#5ec8c5 0 192px,#60cebb 0 194px,#5ec8c5 0 196px,#c1cf3e 0 198px,#5dc3ce 0 201px,#60cebb 0 204px,#65cda7 0 206px,#62ceb1 0 209px,#68cc9d 0 210px,#5cb4d5 0 211px,#68cc9d 0 212px,#65cda7 0 215px,#62ceb1 0 220px,#65cda7 0 224px,#62ceb1 0 225px,#60cebb 0 226px,#5cbdd7 0 228px,#60cebb 0 229px,#62ceb1 0 234px,#60cebb 0 240px,#65cda7 0 242px,#62ceb1 0 244px,#65cda7 0 247px,#5bacd3 0 249px,#65cda7 0 250px,#5ba3d1 0 251px,#65cda7 0 255px,#68cc9d 0 258px,#5ba3d1 0 260px,#68cc9d 0 267px,#6bcb93 0 268px,#68cc9d 0 270px,#65cda7 0 272px,#68cc9d 0 274px,#6bcb93 0 276px,#68cc9d 0 279px,#6bcb93 0 281px,#5ba3d1 0 282px,#68cc9d 0 286px,#65cda7 0 289px,#68cc9d 0 291px,#60cebb 0 298px,#62ceb1 0 300px,#60cebb 0 303px,#5ec8c5 0 306px,#60cebb 0 308px,#5cbdd7 0 309px,#62ceb1 0 311px,#5ec8c5 0 313px,#60cebb 0 315px,#62ceb1 0 320px)"></i><i style="left:344.70px;width:19.42px;background:linear-gradient(#5cbdd7 0 1px,#5dc3ce 0 4px,#5cbdd7 0 7px,#5dc3ce 0 14px,#e7e346 0 16px,#5bacd3 0 17px,#5b9bce 0 18px,#5cbdd7 0 19px,#5cb4d5 0 20px,#5cbdd7 0 22px,#5cb4d5 0 23px,#5756b0 0 26px,#5cbdd7 0 31px,#5cb4d5 0 34px,#5cbdd7 0 36px,#5cb4d5 0 38px,#5cbdd7 0 39px,#71cb88 0 41px,#5ec8c5 0 45px,#65cda7 0 46px,#62ceb1 0 50px,#65cda7 0 53px,#62ceb1 0 63px,#60cebb 0 65px,#62ceb1 0 66px,#65cda7 0 68px,#62ceb1 0 69px,#5cb4d5 0 72px,#65cda7 0 75px,#62ceb1 0 80px,#68cc9d 0 83px,#62ceb1 0 85px,#5cbdd7 0 87px,#62ceb1 0 89px,#65cda7 0 92px,#62ceb1 0 96px,#60cebb 0 98px,#a8d348 0 101px,#62ceb1 0 102px,#60cebb 0 104px,#62ceb1 0 108px,#5ec8c5 0 111px,#5dc3ce 0 115px,#5b8bc9 0 117px,#5dc3ce 0 122px,#e6ec48 0 124px,#5dc3ce 0 127px,#5ec8c5 0 128px,#62ceb1 0 129px,#60cebb 0 131px,#62ceb1 0 132px,#60cebb 0 134px,#62ceb1 0 138px,#7fcd6e 0 139px,#62ceb1 0 140px,#65cda7 0 141px,#7fcd6e 0 143px,#62ceb1 0 144px,#cec93b 0 145px,#65cda7 0 151px,#62ceb1 0 153px,#65cda7 0 155px,#5b83c6 0 156px,#62ceb1 0 162px,#65cda7 0 163px,#68cc9d 0 164px,#78cc7b 0 165px,#65cda7 0 167px,#68cc9d 0 168px,#5b83c6 0 169px,#68cc9d 0 171px,#65cda7 0 172px,#86ce61 0 175px,#65cda7 0 182px,#68cc9d 0 185px,#62ceb1 0 186px,#65cda7 0 189px,#5cb4d5 0 192px,#62ceb1 0 198px,#65cda7 0 200px,#62ceb1 0 201px,#71cb88 0 203px,#62ceb1 0 205px,#65cda7 0 207px,#62ceb1 0 208px,#5bacd3 0 210px,#60cebb 0 213px,#62ceb1 0 215px,#60cebb 0 218px,#5ec8c5 0 223px,#60cebb 0 226px,#62ceb1 0 227px,#5ba3d1 0 230px,#62ceb1 0 231px,#60cebb 0 233px,#62ceb1 0 235px,#65cda7 0 238px,#62ceb1 0 240px,#65cda7 0 246px,#68cc9d 0 247px,#62ceb1 0 248px,#65cda7 0 254px,#62ceb1 0 255px,#68cc9d 0 257px,#5dc3ce 0 259px,#68cc9d 0 261px,#62ceb1 0 262px,#65cda7 0 264px,#68cc9d 0 268px,#71cb88 0 270px,#6bcb93 0 280px,#5dc3ce 0 282px,#65cda7 0 284px,#68cc9d 0 286px,#7fcd6e 0 288px,#68cc9d 0 289px,#65cda7 0 293px,#5ec8c5 0 294px,#5dc3ce 0 295px,#5cb4d5 0 298px,#5ec8c5 0 304px,#60cebb 0 307px,#5ec8c5 0 309px,#60cebb 0 310px,#62ceb1 0 311px,#60cebb 0 316px,#62ceb1 0 318px,#60cebb 0 320px)"></i><i style="left:363.82px;width:19.42px;background:linear-gradient(#62ceb1 0 1px,#6bcb93 0 3px,#60cebb 0 7px,#62ceb1 0 10px,#60cebb 0 12px,#62ceb1 0 15px,#60cebb 0 16px,#71cb88 0 22px,#6bcb93 0 23px,#7fcd6e 0 24px,#6bcb93 0 25px,#78cc7b 0 26px,#71cb88 0 28px,#78cc7b 0 30px,#6bcb93 0 35px,#5ec8c5 0 37px,#78cc7b 0 38px,#71cb88 0 42px,#60cebb 0 48px,#62ceb1 0 56px,#60cebb 0 58px,#5cb4d5 0 60px,#62ceb1 0 61px,#65cda7 0 62px,#62ceb1 0 64px,#65cda7 0 68px,#62ceb1 0 70px,#65cda7 0 72px,#62ceb1 0 73px,#5ba3d1 0 74px,#65cda7 0 76px,#68cc9d 0 78px,#65cda7 0 80px,#62ceb1 0 83px,#65cda7 0 85px,#62ceb1 0 86px,#65cda7 0 88px,#5b93cc 0 90px,#62ceb1 0 92px,#65cda7 0 94px,#5b9bce 0 96px,#62ceb1 0 98px,#5cb4d5 0 100px,#62ceb1 0 101px,#5b9bce 0 102px,#62ceb1 0 103px,#5b9bce 0 105px,#62ceb1 0 106px,#60cebb 0 108px,#5a71bf 0 110px,#60cebb 0 114px,#78cc7b 0 117px,#62ceb1 0 120px,#60cebb 0 122px,#5ec8c5 0 123px,#5b9bce 0 124px,#62ceb1 0 125px,#78cc7b 0 128px,#5ec8c5 0 129px,#60cebb 0 131px,#62ceb1 0 135px,#5cbdd7 0 136px,#62ceb1 0 137px,#5cb4d5 0 139px,#62ceb1 0 140px,#60cebb 0 142px,#5b9bce 0 144px,#65cda7 0 146px,#71cb88 0 147px,#62ceb1 0 149px,#65cda7 0 150px,#86ce61 0 152px,#62ceb1 0 153px,#68cc9d 0 154px,#5b8bc9 0 155px,#65cda7 0 157px,#5cbdd7 0 160px,#65cda7 0 161px,#5cb4d5 0 162px,#68cc9d 0 164px,#78cc7b 0 165px,#65cda7 0 168px,#68cc9d 0 169px,#65cda7 0 172px,#62ceb1 0 173px,#5b93cc 0 176px,#60cebb 0 177px,#65cda7 0 181px,#62ceb1 0 187px,#65cda7 0 192px,#5b83c6 0 193px,#65cda7 0 195px,#68cc9d 0 197px,#65cda7 0 200px,#60cebb 0 203px,#62ceb1 0 207px,#60cebb 0 211px,#5ec8c5 0 213px,#60cebb 0 216px,#cec93b 0 217px,#60cebb 0 221px,#62ceb1 0 226px,#5ec8c5 0 227px,#60cebb 0 233px,#62ceb1 0 235px,#5cb4d5 0 237px,#62ceb1 0 240px,#68cc9d 0 245px,#6bcb93 0 248px,#68cc9d 0 249px,#6bcb93 0 254px,#68cc9d 0 256px,#5b76c1 0 257px,#65cda7 0 258px,#68cc9d 0 262px,#78cc7b 0 265px,#68cc9d 0 268px,#71cb88 0 270px,#6bcb93 0 272px,#68cc9d 0 273px,#5dc3ce 0 274px,#6bcb93 0 286px,#65cda7 0 288px,#68cc9d 0 289px,#6bcb93 0 291px,#5dc3ce 0 292px,#6bcb93 0 293px,#65cda7 0 294px,#5bacd3 0 296px,#60cebb 0 297px,#62ceb1 0 299px,#60cebb 0 301px,#62ceb1 0 302px,#60cebb 0 305px,#5ec8c5 0 306px,#5cb4d5 0 307px,#5ec8c5 0 310px,#60cebb 0 311px,#65cda7 0 320px)"></i><i style="left:382.94px;width:19.42px;background:linear-gradient(#62ceb1 0 3px,#60cebb 0 9px,#62ceb1 0 10px,#60cebb 0 15px,#62ceb1 0 19px,#60cebb 0 22px,#62ceb1 0 23px,#60cebb 0 26px,#65cda7 0 30px,#62ceb1 0 32px,#65cda7 0 48px,#62ceb1 0 50px,#65cda7 0 51px,#5cb4d5 0 52px,#65cda7 0 54px,#62ceb1 0 55px,#60cebb 0 58px,#62ceb1 0 59px,#60cebb 0 66px,#62ceb1 0 68px,#60cebb 0 70px,#62ceb1 0 72px,#60cebb 0 75px,#62ceb1 0 82px,#65cda7 0 83px,#62ceb1 0 88px,#65cda7 0 101px,#62ceb1 0 104px,#60cebb 0 108px,#62ceb1 0 109px,#60cebb 0 123px,#5ec8c5 0 124px,#60cebb 0 126px,#5ec8c5 0 128px,#62ceb1 0 129px,#5b8bc9 0 130px,#62ceb1 0 131px,#5b83c6 0 133px,#60cebb 0 135px,#62ceb1 0 137px,#5a71bf 0 138px,#68cc9d 0 139px,#65cda7 0 143px,#68cc9d 0 145px,#62ceb1 0 148px,#65cda7 0 151px,#68cc9d 0 153px,#65cda7 0 155px,#68cc9d 0 158px,#65cda7 0 159px,#60cebb 0 163px,#62ceb1 0 165px,#5cbdd7 0 168px,#60cebb 0 177px,#5b9bce 0 179px,#60cebb 0 187px,#5b8bc9 0 188px,#5ec8c5 0 189px,#60cebb 0 193px,#62ceb1 0 195px,#65cda7 0 197px,#62ceb1 0 208px,#5ba3d1 0 210px,#62ceb1 0 211px,#65cda7 0 214px,#62ceb1 0 216px,#60cebb 0 217px,#62ceb1 0 224px,#60cebb 0 225px,#62ceb1 0 226px,#5cb4d5 0 229px,#65cda7 0 237px,#62ceb1 0 240px,#65cda7 0 241px,#5dc3ce 0 242px,#68cc9d 0 248px,#65cda7 0 251px,#68cc9d 0 253px,#60cebb 0 256px,#62ceb1 0 258px,#60cebb 0 265px,#62ceb1 0 267px,#60cebb 0 271px,#62ceb1 0 273px,#60cebb 0 278px,#5ec8c5 0 279px,#62ceb1 0 282px,#60cebb 0 284px,#68cc9d 0 289px,#65cda7 0 291px,#68cc9d 0 296px,#5756b0 0 297px,#62ceb1 0 307px,#68cc9d 0 309px,#65cda7 0 314px,#62ceb1 0 316px,#60cebb 0 318px,#5b9bce 0 320px)"></i><i style="left:402.06px;width:19.42px;background:linear-gradient(#60cebb 0 2px,#5ec8c5 0 5px,#62ceb1 0 9px,#60cebb 0 11px,#62ceb1 0 13px,#65cda7 0 16px,#5bacd3 0 18px,#65cda7 0 20px,#68cc9d 0 21px,#65cda7 0 23px,#62ceb1 0 26px,#68cc9d 0 27px,#5cbdd7 0 28px,#68cc9d 0 29px,#65cda7 0 30px,#62ceb1 0 32px,#65cda7 0 35px,#5ba3d1 0 37px,#65cda7 0 38px,#5cb4d5 0 40px,#62ceb1 0 42px,#5b9bce 0 45px,#5ec8c5 0 46px,#5dc3ce 0 49px,#5ec8c5 0 50px,#60cebb 0 53px,#5ec8c5 0 56px,#62ceb1 0 58px,#60cebb 0 65px,#62ceb1 0 67px,#60cebb 0 70px,#5ec8c5 0 71px,#5dc3ce 0 72px,#62ceb1 0 74px,#68cc9d 0 79px,#5ec8c5 0 81px,#65cda7 0 85px,#5ba3d1 0 86px,#5ec8c5 0 87px,#5cb4d5 0 89px,#5ec8c5 0 92px,#60cebb 0 93px,#5ec8c5 0 98px,#5cbdd7 0 101px,#62ceb1 0 102px,#60cebb 0 103px,#62ceb1 0 104px,#5cb4d5 0 105px,#60cebb 0 108px,#62ceb1 0 111px,#60cebb 0 118px,#62ceb1 0 119px,#60cebb 0 122px,#91cf58 0 123px,#60cebb 0 124px,#62ceb1 0 125px,#5cb4d5 0 127px,#60cebb 0 128px,#5ec8c5 0 129px,#60cebb 0 130px,#71cb88 0 132px,#60cebb 0 134px,#5dc3ce 0 135px,#5bacd3 0 137px,#62ceb1 0 138px,#5cbdd7 0 139px,#60cebb 0 141px,#5cb4d5 0 143px,#5ec8c5 0 147px,#60cebb 0 149px,#5ba3d1 0 151px,#60cebb 0 154px,#5cbdd7 0 157px,#60cebb 0 160px,#5cbdd7 0 161px,#60cebb 0 163px,#62ceb1 0 166px,#60cebb 0 168px,#62ceb1 0 169px,#60cebb 0 173px,#62ceb1 0 175px,#65cda7 0 177px,#68cc9d 0 179px,#62ceb1 0 181px,#5b93cc 0 183px,#62ceb1 0 185px,#5cb4d5 0 187px,#5ec8c5 0 188px,#5bacd3 0 190px,#60cebb 0 195px,#65cda7 0 198px,#5cb4d5 0 200px,#65cda7 0 201px,#5dc3ce 0 203px,#62ceb1 0 209px,#5dc3ce 0 210px,#62ceb1 0 212px,#68cc9d 0 214px,#62ceb1 0 217px,#65cda7 0 222px,#5cb4d5 0 223px,#62ceb1 0 225px,#65cda7 0 226px,#6bcb93 0 235px,#68cc9d 0 236px,#6bcb93 0 240px,#71cb88 0 244px,#5cbdd7 0 245px,#6bcb93 0 246px,#71cb88 0 248px,#6bcb93 0 249px,#71cb88 0 251px,#6bcb93 0 252px,#65cda7 0 254px,#86ce61 0 255px,#68cc9d 0 258px,#7fcd6e 0 259px,#68cc9d 0 260px,#6bcb93 0 268px,#71cb88 0 271px,#68cc9d 0 273px,#6bcb93 0 275px,#68cc9d 0 278px,#65cda7 0 282px,#62ceb1 0 287px,#65cda7 0 288px,#5dc3ce 0 290px,#62ceb1 0 294px,#60cebb 0 308px,#62ceb1 0 309px,#5ec8c5 0 310px,#5bacd3 0 312px,#60cebb 0 313px,#68cc9d 0 315px,#65cda7 0 317px,#68cc9d 0 320px)"></i><i style="left:421.18px;width:19.42px;background:linear-gradient(#b4d540 0 2px,#62ceb1 0 5px,#65cda7 0 7px,#68cc9d 0 9px,#65cda7 0 14px,#68cc9d 0 18px,#9dd150 0 19px,#68cc9d 0 23px,#eabe42 0 24px,#68cc9d 0 30px,#65cda7 0 31px,#91cf58 0 32px,#65cda7 0 33px,#5cbdd7 0 34px,#65cda7 0 35px,#68cc9d 0 37px,#65cda7 0 39px,#68cc9d 0 41px,#65cda7 0 43px,#86ce61 0 46px,#68cc9d 0 50px,#6bcb93 0 51px,#78cc7b 0 53px,#68cc9d 0 58px,#65cda7 0 59px,#68cc9d 0 64px,#60cebb 0 66px,#6bcb93 0 69px,#60cebb 0 74px,#78cc7b 0 75px,#60cebb 0 78px,#e5b041 0 80px,#5ec8c5 0 81px,#62ceb1 0 86px,#71cb88 0 88px,#60cebb 0 90px,#5ec8c5 0 91px,#6bcb93 0 93px,#5ec8c5 0 96px,#68cc9d 0 97px,#7fcd6e 0 98px,#65cda7 0 100px,#e5b041 0 102px,#68cc9d 0 104px,#cec93b 0 106px,#68cc9d 0 107px,#78cc7b 0 109px,#60cebb 0 111px,#62ceb1 0 113px,#71cb88 0 115px,#62ceb1 0 116px,#5ec8c5 0 117px,#60cebb 0 119px,#5ec8c5 0 121px,#71cb88 0 123px,#62ceb1 0 125px,#6bcb93 0 126px,#5ec8c5 0 127px,#60cebb 0 129px,#62ceb1 0 131px,#60cebb 0 132px,#62ceb1 0 133px,#65cda7 0 134px,#62ceb1 0 137px,#65cda7 0 139px,#c1cf3e 0 141px,#62ceb1 0 142px,#5dc3ce 0 144px,#62ceb1 0 146px,#65cda7 0 148px,#62ceb1 0 151px,#65cda7 0 152px,#6bcb93 0 153px,#62ceb1 0 157px,#71cb88 0 158px,#65cda7 0 159px,#78cc7b 0 160px,#62ceb1 0 161px,#60cebb 0 162px,#5ec8c5 0 163px,#91cf58 0 164px,#5ec8c5 0 165px,#60cebb 0 171px,#62ceb1 0 172px,#71cb88 0 175px,#5ec8c5 0 176px,#60cebb 0 185px,#5ec8c5 0 187px,#7fcd6e 0 188px,#60cebb 0 191px,#5ec8c5 0 199px,#5dc3ce 0 201px,#5ec8c5 0 204px,#5bacd3 0 206px,#5ec8c5 0 207px,#65cda7 0 210px,#78cc7b 0 212px,#62ceb1 0 214px,#65cda7 0 216px,#62ceb1 0 218px,#65cda7 0 220px,#5dc3ce 0 222px,#86ce61 0 223px,#5ec8c5 0 228px,#60cebb 0 230px,#5ec8c5 0 232px,#60cebb 0 236px,#71cb88 0 239px,#62ceb1 0 240px,#65cda7 0 241px,#68cc9d 0 243px,#65cda7 0 247px,#62ceb1 0 250px,#65cda7 0 259px,#71cb88 0 260px,#6bcb93 0 264px,#71cb88 0 265px,#6bcb93 0 266px,#65cda7 0 267px,#68cc9d 0 269px,#65cda7 0 276px,#68cc9d 0 277px,#b4d540 0 278px,#68cc9d 0 282px,#65cda7 0 284px,#68cc9d 0 287px,#65cda7 0 293px,#62ceb1 0 294px,#60cebb 0 295px,#5cbdd7 0 296px,#60cebb 0 305px,#5ec8c5 0 307px,#62ceb1 0 311px,#60cebb 0 313px,#5a71bf 0 316px,#62ceb1 0 319px,#65cda7 0 320px)"></i><i style="left:440.30px;width:19.42px;background:linear-gradient(#68cc9d 0 1px,#5dc3ce 0 3px,#65cda7 0 9px,#68cc9d 0 12px,#5ec8c5 0 13px,#6bcb93 0 16px,#65cda7 0 18px,#68cc9d 0 22px,#65cda7 0 23px,#68cc9d 0 27px,#65cda7 0 29px,#68cc9d 0 35px,#6bcb93 0 38px,#68cc9d 0 45px,#6bcb93 0 47px,#68cc9d 0 49px,#62ceb1 0 50px,#5651ae 0 52px,#62ceb1 0 55px,#5a6bbc 0 58px,#62ceb1 0 59px,#5cbdd7 0 60px,#62ceb1 0 62px,#65cda7 0 63px,#5cbdd7 0 64px,#62ceb1 0 65px,#60cebb 0 68px,#5b9bce 0 69px,#62ceb1 0 73px,#60cebb 0 74px,#5b93cc 0 75px,#60cebb 0 78px,#5cbdd7 0 80px,#5ec8c5 0 83px,#5cb4d5 0 85px,#5dc3ce 0 86px,#5ec8c5 0 90px,#5dc3ce 0 91px,#5b8bc9 0 94px,#5ec8c5 0 95px,#5dc3ce 0 98px,#60cebb 0 102px,#62ceb1 0 104px,#5ec8c5 0 105px,#60cebb 0 109px,#5cbdd7 0 110px,#60cebb 0 111px,#5ec8c5 0 112px,#60cebb 0 115px,#62ceb1 0 117px,#5cbdd7 0 118px,#60cebb 0 122px,#6bcb93 0 129px,#5dc3ce 0 131px,#68cc9d 0 132px,#5dc3ce 0 133px,#5b83c6 0 135px,#5dc3ce 0 136px,#71cb88 0 138px,#5ec8c5 0 139px,#5dc3ce 0 140px,#5ba3d1 0 142px,#5dc3ce 0 143px,#65cda7 0 145px,#62ceb1 0 146px,#5cbdd7 0 147px,#62ceb1 0 149px,#65cda7 0 152px,#5cbdd7 0 157px,#5bacd3 0 159px,#5cb4d5 0 160px,#5cbdd7 0 163px,#5cb4d5 0 165px,#5cbdd7 0 167px,#68cc9d 0 168px,#5b93cc 0 169px,#68cc9d 0 171px,#65cda7 0 174px,#68cc9d 0 175px,#65cda7 0 177px,#b4d540 0 178px,#65cda7 0 185px,#5dc3ce 0 187px,#5ec8c5 0 188px,#5dc3ce 0 191px,#5ec8c5 0 193px,#5dc3ce 0 195px,#5ec8c5 0 196px,#5b7cc4 0 197px,#6bcb93 0 204px,#68cc9d 0 206px,#5bacd3 0 207px,#6bcb93 0 211px,#71cb88 0 213px,#6bcb93 0 221px,#65cda7 0 223px,#62ceb1 0 234px,#65cda7 0 240px,#68cc9d 0 242px,#5dc3ce 0 243px,#65cda7 0 245px,#5cbdd7 0 248px,#5ec8c5 0 250px,#5dc3ce 0 252px,#5ec8c5 0 254px,#60cebb 0 255px,#5dc3ce 0 257px,#5ec8c5 0 259px,#5dc3ce 0 265px,#5ec8c5 0 269px,#5dc3ce 0 271px,#5ec8c5 0 273px,#5dc3ce 0 274px,#5ec8c5 0 277px,#5dc3ce 0 279px,#5ec8c5 0 282px,#60cebb 0 285px,#5ec8c5 0 288px,#60cebb 0 289px,#5ec8c5 0 293px,#60cebb 0 294px,#5b93cc 0 297px,#5dc3ce 0 301px,#5bacd3 0 302px,#5dc3ce 0 304px,#5cb4d5 0 306px,#5dc3ce 0 307px,#5ec8c5 0 308px,#6bcb93 0 309px,#71cb88 0 310px,#5b8bc9 0 311px,#6bcb93 0 314px,#68cc9d 0 316px,#65cda7 0 318px,#68cc9d 0 320px)"></i></div>
<div class="hb" style="left:818.20px;top:562.50px;width:458.30px;height:319.60px"><i style="left:0.54px;width:19.42px;background:linear-gradient(#5cb4d5 0 2px,#62ceb1 0 3px,#cec93b 0 4px,#62ceb1 0 6px,#65cda7 0 9px,#71cb88 0 11px,#5dc3ce 0 12px,#6bcb93 0 16px,#68cc9d 0 19px,#9dd150 0 21px,#c1cf3e 0 23px,#9dd150 0 25px,#5b9bce 0 26px,#a8d348 0 29px,#9dd150 0 32px,#68cc9d 0 33px,#5ec8c5 0 38px,#5cbdd7 0 40px,#68cc9d 0 42px,#5cb4d5 0 45px,#7fcd6e 0 47px,#5bacd3 0 48px,#5cb4d5 0 51px,#5cbdd7 0 54px,#6bcb93 0 55px,#62ceb1 0 57px,#60cebb 0 59px,#78cc7b 0 61px,#71cb88 0 63px,#6bcb93 0 65px,#78cc7b 0 68px,#5cb4d5 0 69px,#71cb88 0 74px,#78cc7b 0 76px,#65cda7 0 78px,#62ceb1 0 79px,#65cda7 0 80px,#68cc9d 0 82px,#6bcb93 0 85px,#68cc9d 0 86px,#65cda7 0 87px,#9dd150 0 88px,#65cda7 0 89px,#68cc9d 0 91px,#91cf58 0 92px,#6bcb93 0 94px,#68cc9d 0 96px,#6bcb93 0 98px,#cec93b 0 99px,#68cc9d 0 100px,#71cb88 0 101px,#6bcb93 0 103px,#71cb88 0 105px,#6bcb93 0 107px,#65cda7 0 109px,#68cc9d 0 113px,#6bcb93 0 114px,#68cc9d 0 115px,#5b93cc 0 117px,#5b7cc4 0 121px,#5b8bc9 0 125px,#5b7cc4 0 126px,#60cebb 0 127px,#5b7cc4 0 128px,#71cb88 0 129px,#5ec8c5 0 130px,#5b9bce 0 131px,#5b8bc9 0 132px,#65cda7 0 135px,#5cbdd7 0 136px,#5ec8c5 0 140px,#5dc3ce 0 142px,#5b8bc9 0 144px,#5ec8c5 0 145px,#5dc3ce 0 146px,#5ec8c5 0 147px,#5b7cc4 0 148px,#5b9bce 0 151px,#5b8bc9 0 153px,#5b9bce 0 155px,#62ceb1 0 157px,#60cebb 0 158px,#5b8bc9 0 160px,#5cbdd7 0 162px,#5cb4d5 0 164px,#5cbdd7 0 167px,#5cb4d5 0 169px,#5cbdd7 0 175px,#5b93cc 0 177px,#5dc3ce 0 181px,#6bcb93 0 183px,#62ceb1 0 184px,#6bcb93 0 186px,#62ceb1 0 190px,#60cebb 0 193px,#62ceb1 0 196px,#7fcd6e 0 197px,#62ceb1 0 198px,#60cebb 0 200px,#62ceb1 0 207px,#a8d348 0 209px,#60cebb 0 211px,#78cc7b 0 212px,#5ec8c5 0 214px,#5cbdd7 0 216px,#78cc7b 0 217px,#5cb4d5 0 222px,#5b9bce 0 224px,#62ceb1 0 227px,#65cda7 0 229px,#60cebb 0 231px,#62ceb1 0 233px,#65cda7 0 234px,#60cebb 0 235px,#5ec8c5 0 237px,#5dc3ce 0 241px,#6bcb93 0 244px,#5ec8c5 0 247px,#5dc3ce 0 252px,#5ec8c5 0 254px,#5dc3ce 0 256px,#62ceb1 0 259px,#6bcb93 0 262px,#71cb88 0 263px,#c1cf3e 0 266px,#71cb88 0 271px,#7fcd6e 0 274px,#6bcb93 0 275px,#71cb88 0 278px,#60cebb 0 279px,#71cb88 0 280px,#78cc7b 0 281px,#65cda7 0 284px,#71cb88 0 286px,#65cda7 0 292px,#62ceb1 0 294px,#e5b041 0 297px,#65cda7 0 299px,#e5b041 0 302px,#65cda7 0 306px,#5dc3ce 0 308px,#5cbdd7 0 309px,#5ba3d1 0 310px,#5dc3ce 0 311px,#5cb4d5 0 314px,#5cbdd7 0 316px,#5b9bce 0 319px,#5ec8c5 0 320px)"></i><i style="left:19.66px;width:19.42px;background:linear-gradient(#65cda7 0 3px,#6bcb93 0 4px,#5b93cc 0 5px,#5b9bce 0 7px,#5b7cc4 0 10px,#65cda7 0 11px,#585eb5 0 13px,#68cc9d 0 16px,#60cebb 0 19px,#65cda7 0 20px,#5b93cc 0 21px,#5a71bf 0 23px,#5b8bc9 0 24px,#65cda7 0 26px,#62ceb1 0 27px,#5ba3d1 0 28px,#65cda7 0 32px,#5cb4d5 0 35px,#68cc9d 0 36px,#65cda7 0 39px,#5cbdd7 0 41px,#65cda7 0 42px,#5cbdd7 0 43px,#65cda7 0 44px,#68cc9d 0 45px,#5bacd3 0 46px,#68cc9d 0 51px,#5cb4d5 0 59px,#5b93cc 0 61px,#5cb4d5 0 65px,#5ec8c5 0 70px,#60cebb 0 75px,#5ec8c5 0 77px,#60cebb 0 79px,#5ec8c5 0 80px,#65cda7 0 88px,#5bacd3 0 90px,#68cc9d 0 93px,#7fcd6e 0 96px,#78cc7b 0 97px,#7fcd6e 0 98px,#9dd150 0 99px,#7fcd6e 0 105px,#71cb88 0 108px,#78cc7b 0 111px,#6bcb93 0 113px,#5dc3ce 0 116px,#5cb4d5 0 118px,#86ce61 0 119px,#91cf58 0 121px,#a8d348 0 122px,#86ce61 0 123px,#60cebb 0 124px,#7fcd6e 0 126px,#5b8bc9 0 128px,#5bacd3 0 130px,#9dd150 0 137px,#86ce61 0 139px,#7fcd6e 0 143px,#78cc7b 0 144px,#c1cf3e 0 146px,#65cda7 0 148px,#68cc9d 0 151px,#5bacd3 0 152px,#68cc9d 0 155px,#7fcd6e 0 156px,#5cbdd7 0 159px,#5ec8c5 0 162px,#5cbdd7 0 164px,#5ec8c5 0 165px,#6bcb93 0 172px,#68cc9d 0 174px,#e5b041 0 175px,#6bcb93 0 176px,#78cc7b 0 178px,#b4d540 0 179px,#71cb88 0 180px,#60cebb 0 183px,#5ba3d1 0 184px,#5ec8c5 0 186px,#60cebb 0 187px,#5962b7 0 189px,#60cebb 0 190px,#78cc7b 0 191px,#60cebb 0 194px,#5ec8c5 0 200px,#60cebb 0 202px,#62ceb1 0 206px,#65cda7 0 207px,#62ceb1 0 212px,#5b9bce 0 214px,#62ceb1 0 215px,#60cebb 0 216px,#6bcb93 0 219px,#5dc3ce 0 226px,#5756b0 0 229px,#5ec8c5 0 232px,#5dc3ce 0 235px,#5cbdd7 0 237px,#78cc7b 0 238px,#5cbdd7 0 240px,#5dc3ce 0 241px,#68cc9d 0 242px,#5cbdd7 0 244px,#5dc3ce 0 249px,#62ceb1 0 251px,#c1cf3e 0 252px,#62ceb1 0 255px,#65cda7 0 256px,#71cb88 0 260px,#78cc7b 0 262px,#5ec8c5 0 265px,#71cb88 0 267px,#5dc3ce 0 268px,#6bcb93 0 270px,#71cb88 0 272px,#5ba3d1 0 274px,#71cb88 0 275px,#5dc3ce 0 277px,#6bcb93 0 278px,#5cbdd7 0 279px,#6bcb93 0 281px,#62ceb1 0 283px,#65cda7 0 284px,#86ce61 0 285px,#5dc3ce 0 287px,#5ec8c5 0 293px,#5dc3ce 0 294px,#5ec8c5 0 295px,#5ba3d1 0 297px,#5ec8c5 0 298px,#60cebb 0 299px,#585eb5 0 301px,#60cebb 0 304px,#62ceb1 0 311px,#60cebb 0 316px,#5bacd3 0 318px,#5cbdd7 0 320px)"></i><i style="left:38.78px;width:19.42px;background:linear-gradient(#62ceb1 0 12px,#65cda7 0 14px,#62ceb1 0 16px,#60cebb 0 17px,#5ec8c5 0 19px,#60cebb 0 23px,#cec93b 0 24px,#62ceb1 0 25px,#5ec8c5 0 28px,#5dc3ce 0 29px,#5ec8c5 0 32px,#62ceb1 0 35px,#60cebb 0 38px,#62ceb1 0 40px,#5ec8c5 0 41px,#60cebb 0 45px,#62ceb1 0 47px,#6bcb93 0 50px,#60cebb 0 54px,#62ceb1 0 57px,#5dc3ce 0 59px,#71cb88 0 60px,#5dc3ce 0 61px,#5cbdd7 0 63px,#5dc3ce 0 70px,#6bcb93 0 72px,#5ec8c5 0 74px,#65cda7 0 75px,#62ceb1 0 76px,#60cebb 0 78px,#62ceb1 0 82px,#91cf58 0 84px,#5ec8c5 0 85px,#6bcb93 0 88px,#5ec8c5 0 94px,#5cbdd7 0 95px,#5ec8c5 0 97px,#5dc3ce 0 99px,#5ec8c5 0 105px,#5ba3d1 0 107px,#5cbdd7 0 109px,#5dc3ce 0 115px,#5bacd3 0 117px,#6bcb93 0 119px,#5cb4d5 0 125px,#5cbdd7 0 127px,#5cb4d5 0 132px,#5bacd3 0 133px,#5cb4d5 0 135px,#5ec8c5 0 137px,#60cebb 0 139px,#5ba3d1 0 140px,#62ceb1 0 141px,#60cebb 0 143px,#65cda7 0 144px,#5cb4d5 0 147px,#5dc3ce 0 149px,#5ec8c5 0 151px,#68cc9d 0 152px,#5cbdd7 0 154px,#5dc3ce 0 158px,#5ec8c5 0 159px,#c1cf3e 0 160px,#5ec8c5 0 165px,#60cebb 0 166px,#5ec8c5 0 167px,#7fcd6e 0 169px,#62ceb1 0 174px,#5a6bbc 0 176px,#65cda7 0 177px,#68cc9d 0 179px,#65cda7 0 181px,#62ceb1 0 182px,#6bcb93 0 184px,#68cc9d 0 186px,#a8d348 0 188px,#65cda7 0 189px,#68cc9d 0 191px,#62ceb1 0 194px,#65cda7 0 196px,#62ceb1 0 202px,#60cebb 0 203px,#b4d540 0 205px,#60cebb 0 206px,#68cc9d 0 207px,#62ceb1 0 211px,#60cebb 0 212px,#62ceb1 0 214px,#5ec8c5 0 217px,#78cc7b 0 219px,#5dc3ce 0 221px,#60cebb 0 224px,#5cb4d5 0 226px,#60cebb 0 227px,#78cc7b 0 229px,#5ec8c5 0 232px,#5bacd3 0 234px,#5ec8c5 0 238px,#60cebb 0 239px,#91cf58 0 241px,#60cebb 0 242px,#5dc3ce 0 243px,#5cbdd7 0 245px,#5dc3ce 0 247px,#5cbdd7 0 248px,#5cb4d5 0 252px,#5b93cc 0 253px,#5cb4d5 0 256px,#5ec8c5 0 257px,#60cebb 0 261px,#5ec8c5 0 264px,#60cebb 0 265px,#62ceb1 0 266px,#9dd150 0 267px,#60cebb 0 268px,#62ceb1 0 269px,#60cebb 0 274px,#71cb88 0 276px,#5ec8c5 0 278px,#5dc3ce 0 281px,#5ba3d1 0 283px,#a8d348 0 284px,#5ba3d1 0 286px,#5b9bce 0 287px,#5ba3d1 0 288px,#5bacd3 0 291px,#5ba3d1 0 292px,#65cda7 0 294px,#5bacd3 0 296px,#ebcb42 0 298px,#5ba3d1 0 299px,#5bacd3 0 302px,#5dc3ce 0 312px,#71cb88 0 313px,#5dc3ce 0 320px)"></i><i style="left:57.90px;width:19.42px;background:linear-gradient(#62ceb1 0 6px,#60cebb 0 14px,#62ceb1 0 16px,#60cebb 0 17px,#62ceb1 0 18px,#60cebb 0 19px,#71cb88 0 20px,#60cebb 0 26px,#5ec8c5 0 34px,#60cebb 0 36px,#5ec8c5 0 39px,#60cebb 0 42px,#5dc3ce 0 45px,#5ec8c5 0 48px,#5b8bc9 0 51px,#5dc3ce 0 57px,#68cc9d 0 58px,#5ec8c5 0 60px,#5dc3ce 0 63px,#5ec8c5 0 64px,#6bcb93 0 66px,#5ec8c5 0 68px,#5cbdd7 0 71px,#6bcb93 0 73px,#5cb4d5 0 77px,#7fcd6e 0 79px,#5cbdd7 0 80px,#5ec8c5 0 81px,#5dc3ce 0 85px,#5ec8c5 0 90px,#60cebb 0 91px,#6bcb93 0 94px,#5dc3ce 0 95px,#71cb88 0 96px,#5dc3ce 0 97px,#71cb88 0 98px,#62ceb1 0 105px,#60cebb 0 107px,#7fcd6e 0 109px,#5dc3ce 0 115px,#5bacd3 0 117px,#5ba3d1 0 119px,#5bacd3 0 120px,#5dc3ce 0 122px,#c1cf3e 0 125px,#5dc3ce 0 128px,#5ec8c5 0 130px,#86ce61 0 131px,#5dc3ce 0 132px,#5ec8c5 0 133px,#5dc3ce 0 134px,#7fcd6e 0 136px,#5dc3ce 0 137px,#65cda7 0 139px,#62ceb1 0 141px,#65cda7 0 143px,#5ec8c5 0 145px,#5dc3ce 0 148px,#78cc7b 0 150px,#5dc3ce 0 155px,#5ec8c5 0 157px,#5dc3ce 0 163px,#5cbdd7 0 165px,#5ba3d1 0 168px,#5dc3ce 0 169px,#5cbdd7 0 170px,#5ba3d1 0 173px,#5cbdd7 0 176px,#5ec8c5 0 178px,#60cebb 0 179px,#68cc9d 0 180px,#9dd150 0 181px,#68cc9d 0 182px,#5cbdd7 0 183px,#65cda7 0 184px,#86ce61 0 187px,#65cda7 0 193px,#71cb88 0 194px,#65cda7 0 196px,#6bcb93 0 199px,#68cc9d 0 200px,#91cf58 0 201px,#6bcb93 0 202px,#68cc9d 0 203px,#65cda7 0 205px,#68cc9d 0 207px,#5ec8c5 0 209px,#60cebb 0 211px,#6bcb93 0 212px,#60cebb 0 213px,#62ceb1 0 214px,#5ec8c5 0 215px,#5dc3ce 0 216px,#5ec8c5 0 217px,#5cbdd7 0 220px,#91cf58 0 221px,#5cbdd7 0 222px,#5cb4d5 0 223px,#60cebb 0 228px,#62ceb1 0 234px,#5ba3d1 0 235px,#5ec8c5 0 236px,#62ceb1 0 237px,#60cebb 0 238px,#86ce61 0 241px,#62ceb1 0 242px,#60cebb 0 245px,#6bcb93 0 246px,#60cebb 0 248px,#5ec8c5 0 249px,#60cebb 0 250px,#71cb88 0 251px,#60cebb 0 252px,#5ec8c5 0 256px,#5b93cc 0 257px,#68cc9d 0 258px,#62ceb1 0 259px,#5ec8c5 0 261px,#68cc9d 0 263px,#5ec8c5 0 265px,#65cda7 0 271px,#68cc9d 0 272px,#5cb4d5 0 274px,#65cda7 0 275px,#68cc9d 0 277px,#65cda7 0 281px,#5ec8c5 0 284px,#60cebb 0 286px,#5ec8c5 0 287px,#78cc7b 0 289px,#60cebb 0 290px,#5dc3ce 0 295px,#5ec8c5 0 296px,#5bacd3 0 297px,#5ec8c5 0 303px,#6bcb93 0 305px,#5cbdd7 0 306px,#5dc3ce 0 309px,#5ec8c5 0 310px,#5cbdd7 0 313px,#5dc3ce 0 314px,#5cbdd7 0 317px,#6bcb93 0 319px,#5dc3ce 0 320px)"></i><i style="left:77.02px;width:19.42px;background:linear-gradient(#65cda7 0 9px,#62ceb1 0 12px,#65cda7 0 15px,#62ceb1 0 16px,#5ec8c5 0 19px,#5b9bce 0 20px,#5ec8c5 0 21px,#5bacd3 0 22px,#5dc3ce 0 25px,#5ec8c5 0 26px,#5b76c1 0 28px,#5dc3ce 0 31px,#5cbdd7 0 36px,#65cda7 0 37px,#5cbdd7 0 39px,#5dc3ce 0 40px,#5cb4d5 0 42px,#9dd150 0 44px,#5cbdd7 0 46px,#5cb4d5 0 49px,#5ba3d1 0 50px,#5bacd3 0 54px,#5ba3d1 0 56px,#5bacd3 0 57px,#68cc9d 0 59px,#5bacd3 0 60px,#5cb4d5 0 63px,#5bacd3 0 65px,#5cb4d5 0 66px,#71cb88 0 67px,#5cb4d5 0 68px,#5bacd3 0 72px,#5b9bce 0 73px,#5bacd3 0 75px,#5cb4d5 0 77px,#68cc9d 0 79px,#5bacd3 0 80px,#60cebb 0 81px,#62ceb1 0 82px,#60cebb 0 85px,#62ceb1 0 86px,#9dd150 0 90px,#62ceb1 0 91px,#6bcb93 0 92px,#7fcd6e 0 94px,#91cf58 0 95px,#a8d348 0 96px,#b4d540 0 99px,#60cebb 0 101px,#78cc7b 0 103px,#62ceb1 0 105px,#5cbdd7 0 114px,#5cb4d5 0 115px,#5b9bce 0 117px,#5b8bc9 0 119px,#5cb4d5 0 122px,#5b93cc 0 123px,#5b9bce 0 124px,#5b8bc9 0 128px,#5dc3ce 0 129px,#71cb88 0 130px,#5dc3ce 0 132px,#5b9bce 0 133px,#5bacd3 0 137px,#5dc3ce 0 138px,#5cbdd7 0 140px,#5dc3ce 0 141px,#7fcd6e 0 144px,#5cbdd7 0 148px,#68cc9d 0 150px,#5dc3ce 0 153px,#5cbdd7 0 154px,#5bacd3 0 155px,#5cbdd7 0 156px,#5dc3ce 0 158px,#5cbdd7 0 159px,#5b93cc 0 161px,#5cbdd7 0 167px,#5dc3ce 0 173px,#86ce61 0 174px,#5cbdd7 0 176px,#5ec8c5 0 182px,#5dc3ce 0 184px,#5ec8c5 0 185px,#62ceb1 0 188px,#6bcb93 0 190px,#62ceb1 0 194px,#65cda7 0 196px,#91cf58 0 198px,#62ceb1 0 204px,#5bacd3 0 206px,#62ceb1 0 211px,#7fcd6e 0 212px,#62ceb1 0 214px,#5ec8c5 0 216px,#86ce61 0 219px,#5cb4d5 0 220px,#60cebb 0 221px,#5b8bc9 0 222px,#60cebb 0 223px,#62ceb1 0 225px,#60cebb 0 226px,#5cb4d5 0 227px,#5cbdd7 0 232px,#5bacd3 0 233px,#5b83c6 0 234px,#5bacd3 0 239px,#5cb4d5 0 241px,#5bacd3 0 247px,#5cb4d5 0 248px,#5cbdd7 0 253px,#5b83c6 0 255px,#5cbdd7 0 256px,#60cebb 0 257px,#62ceb1 0 260px,#78cc7b 0 262px,#5ec8c5 0 264px,#5b83c6 0 265px,#5cbdd7 0 267px,#5ec8c5 0 269px,#5dc3ce 0 272px,#5bacd3 0 273px,#5ec8c5 0 276px,#5dc3ce 0 278px,#5b9bce 0 280px,#5dc3ce 0 281px,#5bacd3 0 282px,#5ba3d1 0 284px,#5b9bce 0 287px,#5ba3d1 0 289px,#68cc9d 0 291px,#5b9bce 0 292px,#5ba3d1 0 293px,#5b9bce 0 295px,#5ba3d1 0 296px,#62ceb1 0 298px,#5ba3d1 0 300px,#65cda7 0 302px,#5ba3d1 0 306px,#5b9bce 0 308px,#5cb4d5 0 311px,#7fcd6e 0 312px,#5cb4d5 0 315px,#5cbdd7 0 318px,#5cb4d5 0 320px)"></i><i style="left:96.14px;width:19.42px;background:linear-gradient(#5b83c6 0 1px,#5ec8c5 0 4px,#60cebb 0 9px,#5ec8c5 0 12px,#71cb88 0 14px,#60cebb 0 16px,#5cbdd7 0 18px,#5dc3ce 0 20px,#5cbdd7 0 21px,#78cc7b 0 23px,#5bacd3 0 24px,#5cb4d5 0 26px,#5b93cc 0 27px,#5dc3ce 0 30px,#5b8bc9 0 31px,#5dc3ce 0 32px,#5cbdd7 0 35px,#65cda7 0 36px,#5dc3ce 0 39px,#5cbdd7 0 40px,#5b76c1 0 43px,#5ec8c5 0 46px,#b4d540 0 49px,#5dc3ce 0 50px,#71cb88 0 52px,#65cda7 0 55px,#78cc7b 0 57px,#5ec8c5 0 60px,#60cebb 0 61px,#86ce61 0 63px,#62ceb1 0 65px,#5ec8c5 0 67px,#6bcb93 0 68px,#60cebb 0 74px,#5ec8c5 0 75px,#60cebb 0 78px,#5ec8c5 0 80px,#65cda7 0 83px,#62ceb1 0 85px,#65cda7 0 86px,#9dd150 0 89px,#62ceb1 0 90px,#b4d540 0 91px,#91cf58 0 94px,#b4d540 0 96px,#d8c23b 0 97px,#a8d348 0 99px,#5cbdd7 0 100px,#5b76c1 0 102px,#5dc3ce 0 103px,#6bcb93 0 105px,#5bacd3 0 106px,#5b83c6 0 108px,#5bacd3 0 109px,#9dd150 0 110px,#5bacd3 0 111px,#6bcb93 0 112px,#5bacd3 0 113px,#5cb4d5 0 115px,#5b7cc4 0 118px,#5b9bce 0 119px,#5b93cc 0 121px,#5ba3d1 0 123px,#5cb4d5 0 124px,#62ceb1 0 126px,#5bacd3 0 127px,#5b9bce 0 129px,#5cb4d5 0 131px,#86ce61 0 132px,#5ba3d1 0 137px,#60cebb 0 140px,#5ec8c5 0 142px,#6bcb93 0 144px,#68cc9d 0 147px,#86ce61 0 148px,#6bcb93 0 149px,#68cc9d 0 151px,#6bcb93 0 152px,#5bacd3 0 154px,#6bcb93 0 155px,#78cc7b 0 158px,#68cc9d 0 159px,#78cc7b 0 160px,#68cc9d 0 163px,#a8d348 0 164px,#68cc9d 0 166px,#78cc7b 0 167px,#68cc9d 0 168px,#78cc7b 0 169px,#68cc9d 0 170px,#86ce61 0 171px,#68cc9d 0 176px,#71cb88 0 178px,#78cc7b 0 179px,#71cb88 0 180px,#65cda7 0 187px,#91cf58 0 189px,#65cda7 0 190px,#91cf58 0 192px,#68cc9d 0 195px,#5bacd3 0 197px,#68cc9d 0 202px,#5bacd3 0 203px,#68cc9d 0 205px,#65cda7 0 207px,#60cebb 0 208px,#65cda7 0 209px,#62ceb1 0 210px,#78cc7b 0 211px,#65cda7 0 212px,#62ceb1 0 214px,#60cebb 0 215px,#6bcb93 0 217px,#5dc3ce 0 218px,#5cbdd7 0 221px,#65cda7 0 223px,#5dc3ce 0 226px,#5cbdd7 0 229px,#5ec8c5 0 230px,#78cc7b 0 232px,#5dc3ce 0 233px,#5cbdd7 0 235px,#68cc9d 0 236px,#5cbdd7 0 242px,#5dc3ce 0 243px,#9dd150 0 244px,#5dc3ce 0 246px,#5cb4d5 0 250px,#5bacd3 0 251px,#5cb4d5 0 253px,#5cbdd7 0 254px,#78cc7b 0 256px,#65cda7 0 263px,#71cb88 0 265px,#68cc9d 0 266px,#5b7cc4 0 268px,#68cc9d 0 269px,#65cda7 0 270px,#7fcd6e 0 272px,#62ceb1 0 273px,#5cb4d5 0 274px,#65cda7 0 276px,#62ceb1 0 280px,#68cc9d 0 281px,#5cb4d5 0 284px,#65cda7 0 287px,#5dc3ce 0 288px,#5cbdd7 0 289px,#5dc3ce 0 290px,#65cda7 0 292px,#5dc3ce 0 293px,#5cbdd7 0 294px,#78cc7b 0 295px,#5dc3ce 0 296px,#5ba3d1 0 298px,#5bacd3 0 304px,#60cebb 0 305px,#5b9bce 0 307px,#5b76c1 0 308px,#5ba3d1 0 311px,#5bacd3 0 315px,#5a71bf 0 316px,#5bacd3 0 318px,#6bcb93 0 319px,#5cb4d5 0 320px)"></i><i style="left:115.26px;width:19.42px;background:linear-gradient(#65cda7 0 2px,#5cbdd7 0 4px,#65cda7 0 5px,#91cf58 0 6px,#65cda7 0 8px,#5cbdd7 0 9px,#62ceb1 0 12px,#65cda7 0 14px,#62ceb1 0 16px,#5dc3ce 0 22px,#5ec8c5 0 23px,#5cb4d5 0 24px,#71cb88 0 25px,#5cb4d5 0 27px,#5cbdd7 0 35px,#5cb4d5 0 37px,#5cbdd7 0 45px,#5cb4d5 0 46px,#a8d348 0 47px,#5cb4d5 0 51px,#5cbdd7 0 52px,#5bacd3 0 54px,#5cbdd7 0 57px,#5cb4d5 0 59px,#5cbdd7 0 61px,#71cb88 0 64px,#5dc3ce 0 65px,#5cbdd7 0 66px,#e5b041 0 67px,#5cbdd7 0 70px,#5dc3ce 0 72px,#91cf58 0 75px,#5dc3ce 0 77px,#5cbdd7 0 79px,#5dc3ce 0 80px,#62ceb1 0 81px,#60cebb 0 84px,#62ceb1 0 89px,#65cda7 0 91px,#62ceb1 0 92px,#65cda7 0 93px,#62ceb1 0 96px,#65cda7 0 97px,#68cc9d 0 100px,#65cda7 0 101px,#68cc9d 0 103px,#65cda7 0 105px,#62ceb1 0 108px,#78cc7b 0 111px,#60cebb 0 112px,#b4d540 0 114px,#60cebb 0 115px,#5cbdd7 0 128px,#6bcb93 0 129px,#5cbdd7 0 131px,#5cb4d5 0 134px,#5cbdd7 0 136px,#5cb4d5 0 137px,#5b93cc 0 138px,#60cebb 0 143px,#6bcb93 0 144px,#62ceb1 0 147px,#60cebb 0 155px,#6bcb93 0 156px,#5ec8c5 0 157px,#5bacd3 0 159px,#60cebb 0 162px,#5ec8c5 0 163px,#71cb88 0 165px,#5ec8c5 0 166px,#60cebb 0 167px,#62ceb1 0 168px,#60cebb 0 171px,#5b8bc9 0 172px,#60cebb 0 174px,#62ceb1 0 176px,#65cda7 0 178px,#86ce61 0 179px,#68cc9d 0 181px,#6bcb93 0 183px,#68cc9d 0 192px,#65cda7 0 195px,#62ceb1 0 197px,#5cb4d5 0 199px,#62ceb1 0 202px,#65cda7 0 204px,#62ceb1 0 212px,#65cda7 0 213px,#7fcd6e 0 214px,#60cebb 0 215px,#7fcd6e 0 217px,#5cb4d5 0 218px,#78cc7b 0 221px,#5ec8c5 0 222px,#5dc3ce 0 223px,#7fcd6e 0 224px,#5ec8c5 0 228px,#5dc3ce 0 229px,#5b83c6 0 232px,#5ec8c5 0 234px,#5dc3ce 0 236px,#5ec8c5 0 239px,#60cebb 0 241px,#5ec8c5 0 245px,#5cbdd7 0 246px,#5ec8c5 0 248px,#5b9bce 0 249px,#5dc3ce 0 252px,#5cbdd7 0 254px,#5dc3ce 0 256px,#62ceb1 0 260px,#65cda7 0 261px,#62ceb1 0 263px,#65cda7 0 266px,#68cc9d 0 267px,#65cda7 0 269px,#68cc9d 0 271px,#65cda7 0 272px,#5cbdd7 0 273px,#65cda7 0 274px,#71cb88 0 275px,#65cda7 0 276px,#68cc9d 0 279px,#5cbdd7 0 282px,#5ec8c5 0 284px,#5cb4d5 0 287px,#7fcd6e 0 288px,#5cb4d5 0 291px,#5cbdd7 0 294px,#5dc3ce 0 295px,#5ec8c5 0 297px,#5cbdd7 0 298px,#5ec8c5 0 301px,#5dc3ce 0 311px,#5b7cc4 0 313px,#5dc3ce 0 314px,#5bacd3 0 316px,#5ec8c5 0 317px,#5dc3ce 0 320px)"></i><i style="left:134.38px;width:19.42px;background:linear-gradient(#5ec8c5 0 5px,#60cebb 0 6px,#7fcd6e 0 8px,#60cebb 0 9px,#86ce61 0 11px,#62ceb1 0 14px,#60cebb 0 16px,#5ec8c5 0 18px,#6bcb93 0 19px,#5ec8c5 0 22px,#60cebb 0 24px,#5dc3ce 0 33px,#6bcb93 0 34px,#5dc3ce 0 38px,#5cbdd7 0 40px,#5b83c6 0 42px,#5cbdd7 0 43px,#5dc3ce 0 45px,#6bcb93 0 47px,#5cbdd7 0 48px,#5dc3ce 0 50px,#65cda7 0 53px,#5bacd3 0 54px,#65cda7 0 59px,#7fcd6e 0 60px,#68cc9d 0 62px,#65cda7 0 71px,#71cb88 0 74px,#68cc9d 0 75px,#a8d348 0 76px,#62ceb1 0 77px,#60cebb 0 78px,#5ec8c5 0 80px,#6bcb93 0 83px,#65cda7 0 84px,#71cb88 0 86px,#6bcb93 0 93px,#68cc9d 0 99px,#65cda7 0 101px,#5b76c1 0 104px,#65cda7 0 105px,#5ec8c5 0 108px,#60cebb 0 114px,#5ec8c5 0 115px,#5cb4d5 0 116px,#68cc9d 0 118px,#5bacd3 0 120px,#5cb4d5 0 121px,#5b76c1 0 122px,#5bacd3 0 125px,#62ceb1 0 126px,#5ba3d1 0 128px,#5bacd3 0 131px,#5cb4d5 0 135px,#b4d540 0 136px,#5cb4d5 0 137px,#5ec8c5 0 138px,#5dc3ce 0 139px,#5ec8c5 0 142px,#60cebb 0 143px,#91cf58 0 145px,#62ceb1 0 151px,#65cda7 0 157px,#60cebb 0 161px,#5ec8c5 0 162px,#60cebb 0 169px,#86ce61 0 170px,#62ceb1 0 172px,#60cebb 0 175px,#71cb88 0 177px,#68cc9d 0 178px,#e5b041 0 180px,#68cc9d 0 184px,#65cda7 0 186px,#86ce61 0 187px,#68cc9d 0 189px,#65cda7 0 193px,#68cc9d 0 194px,#62ceb1 0 196px,#68cc9d 0 197px,#65cda7 0 198px,#78cc7b 0 199px,#68cc9d 0 201px,#62ceb1 0 204px,#60cebb 0 207px,#6bcb93 0 208px,#62ceb1 0 211px,#6bcb93 0 214px,#5cbdd7 0 217px,#5bacd3 0 218px,#5cb4d5 0 225px,#5bacd3 0 227px,#5cb4d5 0 228px,#68cc9d 0 231px,#5bacd3 0 232px,#5dc3ce 0 236px,#78cc7b 0 238px,#5dc3ce 0 239px,#5cbdd7 0 240px,#5dc3ce 0 245px,#e7e346 0 246px,#5dc3ce 0 247px,#71cb88 0 248px,#5dc3ce 0 253px,#5ec8c5 0 254px,#5dc3ce 0 256px,#78cc7b 0 258px,#65cda7 0 261px,#62ceb1 0 265px,#91cf58 0 266px,#62ceb1 0 267px,#68cc9d 0 272px,#86ce61 0 274px,#68cc9d 0 275px,#6bcb93 0 277px,#68cc9d 0 281px,#5ec8c5 0 290px,#5dc3ce 0 291px,#5cbdd7 0 292px,#5dc3ce 0 294px,#68cc9d 0 296px,#5dc3ce 0 297px,#5ec8c5 0 299px,#5dc3ce 0 302px,#5ec8c5 0 304px,#5dc3ce 0 305px,#5cb4d5 0 308px,#5dc3ce 0 309px,#68cc9d 0 310px,#5dc3ce 0 311px,#5cbdd7 0 312px,#5cb4d5 0 315px,#5cbdd7 0 318px,#5cb4d5 0 320px)"></i><i style="left:153.50px;width:19.42px;background:linear-gradient(#62ceb1 0 4px,#60cebb 0 5px,#62ceb1 0 9px,#60cebb 0 11px,#62ceb1 0 14px,#60cebb 0 19px,#62ceb1 0 20px,#60cebb 0 25px,#62ceb1 0 27px,#60cebb 0 31px,#62ceb1 0 33px,#60cebb 0 35px,#62ceb1 0 40px,#e7e346 0 43px,#62ceb1 0 49px,#60cebb 0 51px,#62ceb1 0 59px,#60cebb 0 60px,#62ceb1 0 75px,#65cda7 0 78px,#62ceb1 0 99px,#60cebb 0 102px,#62ceb1 0 189px,#60cebb 0 191px,#62ceb1 0 196px,#60cebb 0 201px,#62ceb1 0 206px,#60cebb 0 207px,#62ceb1 0 208px,#60cebb 0 215px,#62ceb1 0 225px,#60cebb 0 230px,#62ceb1 0 233px,#60cebb 0 238px,#62ceb1 0 253px,#60cebb 0 255px,#62ceb1 0 260px,#e6ed49 0 263px,#eabe42 0 265px,#62ceb1 0 266px,#60cebb 0 268px,#62ceb1 0 273px,#60cebb 0 275px,#62ceb1 0 277px,#60cebb 0 279px,#62ceb1 0 283px,#60cebb 0 284px,#62ceb1 0 286px,#60cebb 0 288px,#62ceb1 0 320px)"></i><i style="left:172.62px;width:19.42px;background:linear-gradient(#cec93b 0 3px,#5ec8c5 0 8px,#71cb88 0 9px,#5ec8c5 0 10px,#71cb88 0 12px,#5dc3ce 0 14px,#5ec8c5 0 21px,#86ce61 0 22px,#5ec8c5 0 23px,#5cbdd7 0 26px,#91cf58 0 29px,#5cbdd7 0 31px,#7fcd6e 0 34px,#5dc3ce 0 36px,#5cb4d5 0 37px,#5cbdd7 0 40px,#5dc3ce 0 41px,#5cbdd7 0 44px,#6bcb93 0 45px,#5cbdd7 0 46px,#5dc3ce 0 56px,#5cbdd7 0 57px,#71cb88 0 59px,#5cb4d5 0 61px,#5cbdd7 0 64px,#71cb88 0 67px,#5dc3ce 0 68px,#5cbdd7 0 71px,#5dc3ce 0 75px,#5cbdd7 0 77px,#9dd150 0 79px,#5cbdd7 0 80px,#5dc3ce 0 81px,#78cc7b 0 83px,#5ec8c5 0 86px,#60cebb 0 90px,#7fcd6e 0 91px,#5ec8c5 0 92px,#78cc7b 0 93px,#5ec8c5 0 96px,#5dc3ce 0 98px,#5cbdd7 0 101px,#5dc3ce 0 106px,#5ec8c5 0 107px,#60cebb 0 109px,#5ec8c5 0 110px,#6bcb93 0 112px,#5ec8c5 0 113px,#78cc7b 0 115px,#5ec8c5 0 116px,#5dc3ce 0 119px,#5cbdd7 0 127px,#5dc3ce 0 132px,#78cc7b 0 134px,#5dc3ce 0 137px,#71cb88 0 139px,#5dc3ce 0 144px,#5cbdd7 0 147px,#5dc3ce 0 152px,#65cda7 0 153px,#5cbdd7 0 154px,#5dc3ce 0 156px,#5cb4d5 0 159px,#7fcd6e 0 161px,#5cbdd7 0 163px,#5dc3ce 0 166px,#5cbdd7 0 172px,#5cb4d5 0 173px,#5dc3ce 0 177px,#5cbdd7 0 180px,#68cc9d 0 181px,#5cbdd7 0 182px,#5b83c6 0 183px,#5cbdd7 0 187px,#5dc3ce 0 188px,#68cc9d 0 191px,#5dc3ce 0 192px,#5ec8c5 0 193px,#d8c23b 0 194px,#5ec8c5 0 197px,#5dc3ce 0 201px,#65cda7 0 203px,#5dc3ce 0 204px,#91cf58 0 206px,#5dc3ce 0 208px,#5ec8c5 0 217px,#71cb88 0 219px,#5dc3ce 0 221px,#5ec8c5 0 224px,#78cc7b 0 226px,#5dc3ce 0 228px,#71cb88 0 229px,#5ec8c5 0 230px,#7fcd6e 0 231px,#5ec8c5 0 233px,#5dc3ce 0 235px,#71cb88 0 236px,#5dc3ce 0 239px,#5cbdd7 0 241px,#e9b142 0 244px,#5dc3ce 0 248px,#5cbdd7 0 250px,#5cb4d5 0 251px,#5cbdd7 0 254px,#65cda7 0 256px,#5cbdd7 0 258px,#5ec8c5 0 260px,#c1cf3e 0 262px,#5cbdd7 0 264px,#65cda7 0 265px,#5dc3ce 0 266px,#5ec8c5 0 267px,#7fcd6e 0 268px,#5cbdd7 0 272px,#62ceb1 0 273px,#5cbdd7 0 274px,#68cc9d 0 276px,#5cbdd7 0 278px,#86ce61 0 279px,#5cbdd7 0 281px,#5cb4d5 0 282px,#6bcb93 0 285px,#5dc3ce 0 288px,#5cbdd7 0 293px,#68cc9d 0 294px,#5dc3ce 0 296px,#5cbdd7 0 300px,#5dc3ce 0 302px,#5cbdd7 0 303px,#7fcd6e 0 305px,#5dc3ce 0 306px,#65cda7 0 307px,#5cbdd7 0 309px,#5dc3ce 0 312px,#5cbdd7 0 313px,#b4d540 0 316px,#5dc3ce 0 317px,#68cc9d 0 319px,#5cbdd7 0 320px)"></i><i style="left:191.74px;width:19.42px;background:linear-gradient(#62ceb1 0 14px,#60cebb 0 15px,#62ceb1 0 23px,#60cebb 0 25px,#62ceb1 0 42px,#e7e346 0 43px,#62ceb1 0 102px,#60cebb 0 104px,#62ceb1 0 134px,#65cda7 0 139px,#62ceb1 0 140px,#65cda7 0 143px,#62ceb1 0 148px,#65cda7 0 149px,#62ceb1 0 151px,#65cda7 0 152px,#62ceb1 0 163px,#60cebb 0 165px,#62ceb1 0 167px,#60cebb 0 169px,#62ceb1 0 171px,#60cebb 0 173px,#62ceb1 0 203px,#60cebb 0 205px,#62ceb1 0 217px,#60cebb 0 219px,#62ceb1 0 221px,#60cebb 0 224px,#62ceb1 0 226px,#60cebb 0 227px,#62ceb1 0 232px,#60cebb 0 234px,#62ceb1 0 237px,#60cebb 0 239px,#62ceb1 0 242px,#60cebb 0 243px,#62ceb1 0 260px,#e6ec48 0 262px,#e7e346 0 265px,#62ceb1 0 268px,#60cebb 0 278px,#62ceb1 0 280px,#60cebb 0 284px,#62ceb1 0 320px)"></i><i style="left:210.86px;width:19.42px;background:linear-gradient(#5cbdd7 0 2px,#d8c23b 0 4px,#5dc3ce 0 9px,#5ec8c5 0 10px,#5dc3ce 0 11px,#5ec8c5 0 12px,#5dc3ce 0 19px,#68cc9d 0 21px,#5cbdd7 0 22px,#65cda7 0 24px,#5cbdd7 0 26px,#5dc3ce 0 27px,#68cc9d 0 30px,#5dc3ce 0 32px,#68cc9d 0 33px,#5cbdd7 0 34px,#86ce61 0 36px,#5cbdd7 0 38px,#78cc7b 0 39px,#5cb4d5 0 41px,#68cc9d 0 42px,#5bacd3 0 43px,#5cb4d5 0 47px,#5bacd3 0 54px,#5cb4d5 0 56px,#5bacd3 0 58px,#5cb4d5 0 60px,#5bacd3 0 61px,#5a6bbc 0 64px,#5bacd3 0 65px,#5cb4d5 0 66px,#62ceb1 0 67px,#60cebb 0 68px,#62ceb1 0 71px,#60cebb 0 74px,#5ec8c5 0 75px,#6bcb93 0 78px,#60cebb 0 86px,#5cbdd7 0 89px,#5dc3ce 0 91px,#5cb4d5 0 93px,#5cbdd7 0 94px,#71cb88 0 96px,#5dc3ce 0 97px,#5cbdd7 0 101px,#5dc3ce 0 103px,#a8d348 0 104px,#5dc3ce 0 109px,#5cbdd7 0 111px,#5dc3ce 0 114px,#5ec8c5 0 116px,#5dc3ce 0 117px,#68cc9d 0 119px,#5dc3ce 0 120px,#86ce61 0 121px,#5dc3ce 0 125px,#68cc9d 0 127px,#5dc3ce 0 130px,#5ba3d1 0 131px,#5dc3ce 0 133px,#86ce61 0 134px,#5cbdd7 0 137px,#68cc9d 0 139px,#5dc3ce 0 148px,#5cbdd7 0 151px,#5dc3ce 0 155px,#b4d540 0 157px,#5ec8c5 0 161px,#65cda7 0 164px,#5dc3ce 0 166px,#5ec8c5 0 168px,#5dc3ce 0 170px,#5ec8c5 0 171px,#5dc3ce 0 172px,#a8d348 0 173px,#5dc3ce 0 175px,#5cbdd7 0 177px,#60cebb 0 180px,#71cb88 0 182px,#60cebb 0 185px,#78cc7b 0 187px,#5ec8c5 0 188px,#6bcb93 0 190px,#5ec8c5 0 193px,#60cebb 0 195px,#5ec8c5 0 198px,#7fcd6e 0 199px,#5ec8c5 0 200px,#5dc3ce 0 202px,#68cc9d 0 203px,#5dc3ce 0 206px,#9dd150 0 208px,#5ec8c5 0 211px,#5dc3ce 0 213px,#5cbdd7 0 215px,#65cda7 0 217px,#5cbdd7 0 219px,#5dc3ce 0 222px,#6bcb93 0 224px,#5cbdd7 0 225px,#65cda7 0 226px,#5cbdd7 0 227px,#5dc3ce 0 229px,#5cbdd7 0 231px,#5dc3ce 0 235px,#78cc7b 0 236px,#5ec8c5 0 237px,#5dc3ce 0 239px,#9dd150 0 241px,#5ec8c5 0 242px,#5dc3ce 0 243px,#68cc9d 0 244px,#5ec8c5 0 247px,#5cbdd7 0 249px,#5ec8c5 0 250px,#5dc3ce 0 252px,#60cebb 0 253px,#5dc3ce 0 255px,#5ec8c5 0 257px,#5dc3ce 0 260px,#78cc7b 0 262px,#5cbdd7 0 271px,#71cb88 0 273px,#5dc3ce 0 274px,#5cbdd7 0 276px,#5cb4d5 0 277px,#5cbdd7 0 279px,#6bcb93 0 281px,#5dc3ce 0 282px,#65cda7 0 283px,#5dc3ce 0 284px,#6bcb93 0 286px,#5cbdd7 0 288px,#60cebb 0 290px,#62ceb1 0 291px,#a8d348 0 292px,#60cebb 0 293px,#5cbdd7 0 294px,#62ceb1 0 297px,#5cbdd7 0 298px,#5cb4d5 0 301px,#5cbdd7 0 306px,#6bcb93 0 307px,#5cbdd7 0 311px,#5ec8c5 0 312px,#78cc7b 0 313px,#5dc3ce 0 315px,#65cda7 0 316px,#5dc3ce 0 318px,#5ec8c5 0 320px)"></i><i style="left:229.98px;width:19.42px;background:linear-gradient(#68cc9d 0 4px,#6bcb93 0 8px,#5ba3d1 0 11px,#6bcb93 0 12px,#68cc9d 0 13px,#6bcb93 0 16px,#68cc9d 0 18px,#6bcb93 0 26px,#68cc9d 0 27px,#6bcb93 0 30px,#62ceb1 0 32px,#5cbdd7 0 34px,#62ceb1 0 40px,#60cebb 0 43px,#62ceb1 0 44px,#60cebb 0 45px,#78cc7b 0 48px,#62ceb1 0 49px,#65cda7 0 50px,#5bacd3 0 53px,#62ceb1 0 54px,#65cda7 0 55px,#62ceb1 0 58px,#65cda7 0 59px,#5b93cc 0 60px,#5dc3ce 0 61px,#5b76c1 0 62px,#5dc3ce 0 68px,#5cbdd7 0 70px,#5b93cc 0 71px,#5dc3ce 0 73px,#5cb4d5 0 74px,#5dc3ce 0 83px,#5ba3d1 0 84px,#62ceb1 0 85px,#65cda7 0 87px,#5a6bbc 0 88px,#65cda7 0 90px,#78cc7b 0 92px,#62ceb1 0 95px,#65cda7 0 96px,#71cb88 0 98px,#65cda7 0 104px,#5dc3ce 0 105px,#5ec8c5 0 107px,#60cebb 0 108px,#9dd150 0 111px,#5ec8c5 0 112px,#5cb4d5 0 113px,#5ec8c5 0 114px,#5bacd3 0 115px,#5ec8c5 0 120px,#60cebb 0 125px,#62ceb1 0 127px,#60cebb 0 131px,#5ec8c5 0 132px,#5ba3d1 0 134px,#60cebb 0 135px,#65cda7 0 136px,#62ceb1 0 138px,#5b9bce 0 139px,#62ceb1 0 140px,#5cbdd7 0 141px,#62ceb1 0 144px,#6bcb93 0 146px,#68cc9d 0 148px,#6bcb93 0 154px,#68cc9d 0 156px,#5ba3d1 0 158px,#68cc9d 0 159px,#5dc3ce 0 161px,#68cc9d 0 165px,#6bcb93 0 167px,#5dc3ce 0 169px,#6bcb93 0 170px,#65cda7 0 173px,#68cc9d 0 176px,#65cda7 0 179px,#60cebb 0 180px,#6bcb93 0 182px,#62ceb1 0 186px,#60cebb 0 189px,#62ceb1 0 193px,#68cc9d 0 194px,#65cda7 0 195px,#68cc9d 0 200px,#65cda7 0 201px,#68cc9d 0 202px,#65cda7 0 205px,#71cb88 0 206px,#62ceb1 0 207px,#5dc3ce 0 208px,#5ec8c5 0 212px,#5dc3ce 0 213px,#5cb4d5 0 215px,#5dc3ce 0 218px,#5ec8c5 0 219px,#5b93cc 0 220px,#5ec8c5 0 222px,#5cbdd7 0 224px,#5dc3ce 0 226px,#5bacd3 0 227px,#5dc3ce 0 230px,#5b93cc 0 232px,#5dc3ce 0 233px,#6bcb93 0 234px,#5ec8c5 0 236px,#60cebb 0 239px,#5ec8c5 0 241px,#60cebb 0 242px,#62ceb1 0 244px,#5ec8c5 0 246px,#60cebb 0 247px,#5ec8c5 0 248px,#5dc3ce 0 249px,#5ec8c5 0 252px,#5dc3ce 0 253px,#71cb88 0 258px,#78cc7b 0 266px,#86ce61 0 268px,#71cb88 0 269px,#78cc7b 0 274px,#e5b041 0 275px,#60cebb 0 284px,#5dc3ce 0 286px,#60cebb 0 289px,#62ceb1 0 292px,#60cebb 0 294px,#68cc9d 0 295px,#9dd150 0 296px,#62ceb1 0 298px,#5cbdd7 0 299px,#62ceb1 0 300px,#5cbdd7 0 301px,#5cb4d5 0 303px,#5cbdd7 0 306px,#5cb4d5 0 311px,#5ec8c5 0 312px,#5b93cc 0 313px,#5dc3ce 0 315px,#5ec8c5 0 317px,#62ceb1 0 318px,#65cda7 0 319px,#5cbdd7 0 320px)"></i><i style="left:249.10px;width:19.42px;background:linear-gradient(#62ceb1 0 1px,#5ec8c5 0 9px,#5b83c6 0 10px,#5ec8c5 0 11px,#60cebb 0 15px,#62ceb1 0 16px,#65cda7 0 19px,#62ceb1 0 23px,#68cc9d 0 26px,#6bcb93 0 30px,#68cc9d 0 31px,#5ec8c5 0 32px,#6bcb93 0 34px,#5ba3d1 0 35px,#6bcb93 0 39px,#68cc9d 0 40px,#5b83c6 0 41px,#65cda7 0 43px,#68cc9d 0 44px,#65cda7 0 45px,#62ceb1 0 47px,#65cda7 0 49px,#68cc9d 0 51px,#5ba3d1 0 52px,#65cda7 0 54px,#68cc9d 0 55px,#65cda7 0 59px,#5bacd3 0 60px,#60cebb 0 62px,#5ec8c5 0 63px,#5ba3d1 0 66px,#60cebb 0 67px,#5ec8c5 0 72px,#60cebb 0 84px,#65cda7 0 85px,#5a6bbc 0 87px,#65cda7 0 88px,#68cc9d 0 90px,#7fcd6e 0 91px,#68cc9d 0 94px,#5ec8c5 0 95px,#60cebb 0 97px,#9dd150 0 99px,#5ec8c5 0 105px,#5cb4d5 0 106px,#5ec8c5 0 109px,#5b93cc 0 110px,#5ec8c5 0 114px,#65cda7 0 117px,#68cc9d 0 118px,#7fcd6e 0 120px,#62ceb1 0 122px,#65cda7 0 124px,#62ceb1 0 126px,#5cb4d5 0 129px,#62ceb1 0 131px,#5dc3ce 0 134px,#65cda7 0 136px,#5bacd3 0 138px,#65cda7 0 140px,#62ceb1 0 142px,#65cda7 0 144px,#68cc9d 0 145px,#65cda7 0 148px,#68cc9d 0 151px,#65cda7 0 166px,#6bcb93 0 171px,#71cb88 0 172px,#9dd150 0 174px,#6bcb93 0 179px,#68cc9d 0 182px,#5b93cc 0 184px,#68cc9d 0 185px,#65cda7 0 187px,#68cc9d 0 189px,#71cb88 0 190px,#91cf58 0 191px,#6bcb93 0 192px,#78cc7b 0 193px,#71cb88 0 199px,#78cc7b 0 201px,#5dc3ce 0 204px,#5ec8c5 0 210px,#6bcb93 0 211px,#65cda7 0 218px,#62ceb1 0 219px,#65cda7 0 225px,#60cebb 0 226px,#62ceb1 0 228px,#65cda7 0 231px,#5cbdd7 0 232px,#62ceb1 0 234px,#65cda7 0 236px,#5dc3ce 0 239px,#5cbdd7 0 241px,#5dc3ce 0 246px,#65cda7 0 255px,#62ceb1 0 257px,#5cb4d5 0 259px,#65cda7 0 263px,#7fcd6e 0 266px,#62ceb1 0 269px,#65cda7 0 272px,#62ceb1 0 275px,#5cb4d5 0 276px,#65cda7 0 279px,#62ceb1 0 282px,#71cb88 0 284px,#65cda7 0 288px,#62ceb1 0 289px,#9dd150 0 291px,#65cda7 0 292px,#5cbdd7 0 293px,#62ceb1 0 296px,#60cebb 0 297px,#62ceb1 0 299px,#68cc9d 0 301px,#65cda7 0 303px,#6bcb93 0 306px,#68cc9d 0 307px,#a8d348 0 308px,#68cc9d 0 313px,#65cda7 0 314px,#60cebb 0 317px,#7fcd6e 0 318px,#60cebb 0 319px,#71cb88 0 320px)"></i><i style="left:268.22px;width:19.42px;background:linear-gradient(#62ceb1 0 2px,#5b9bce 0 3px,#60cebb 0 4px,#5ba3d1 0 5px,#62ceb1 0 7px,#60cebb 0 9px,#5b9bce 0 10px,#5ec8c5 0 15px,#60cebb 0 17px,#5cbdd7 0 19px,#5ec8c5 0 21px,#60cebb 0 23px,#5ec8c5 0 28px,#60cebb 0 30px,#78cc7b 0 31px,#60cebb 0 34px,#68cc9d 0 37px,#78cc7b 0 39px,#68cc9d 0 40px,#6bcb93 0 42px,#7fcd6e 0 44px,#68cc9d 0 46px,#65cda7 0 48px,#68cc9d 0 50px,#65cda7 0 53px,#62ceb1 0 57px,#65cda7 0 60px,#62ceb1 0 64px,#65cda7 0 66px,#62ceb1 0 68px,#65cda7 0 70px,#62ceb1 0 71px,#60cebb 0 75px,#5b93cc 0 77px,#60cebb 0 79px,#5b7cc4 0 82px,#60cebb 0 84px,#62ceb1 0 86px,#5ec8c5 0 87px,#5cbdd7 0 90px,#68cc9d 0 91px,#6bcb93 0 93px,#60cebb 0 98px,#5ec8c5 0 99px,#71cb88 0 100px,#5ec8c5 0 102px,#5b9bce 0 103px,#5ec8c5 0 106px,#60cebb 0 110px,#5dc3ce 0 115px,#65cda7 0 116px,#68cc9d 0 118px,#65cda7 0 120px,#5dc3ce 0 121px,#68cc9d 0 123px,#65cda7 0 126px,#86ce61 0 127px,#68cc9d 0 128px,#5ec8c5 0 129px,#65cda7 0 131px,#78cc7b 0 133px,#65cda7 0 134px,#6bcb93 0 139px,#e5b041 0 140px,#6bcb93 0 144px,#78cc7b 0 148px,#71cb88 0 150px,#78cc7b 0 152px,#68cc9d 0 155px,#65cda7 0 166px,#68cc9d 0 167px,#62ceb1 0 169px,#65cda7 0 170px,#62ceb1 0 174px,#65cda7 0 175px,#62ceb1 0 176px,#65cda7 0 178px,#5cb4d5 0 180px,#62ceb1 0 182px,#5dc3ce 0 185px,#60cebb 0 189px,#78cc7b 0 191px,#62ceb1 0 194px,#9dd150 0 196px,#62ceb1 0 204px,#5b9bce 0 205px,#60cebb 0 208px,#5b76c1 0 209px,#6bcb93 0 214px,#cec93b 0 216px,#71cb88 0 218px,#6bcb93 0 220px,#71cb88 0 223px,#5cbdd7 0 224px,#6bcb93 0 225px,#71cb88 0 226px,#5bacd3 0 227px,#71cb88 0 229px,#6bcb93 0 231px,#68cc9d 0 233px,#6bcb93 0 235px,#68cc9d 0 240px,#6bcb93 0 241px,#5dc3ce 0 242px,#6bcb93 0 243px,#5cbdd7 0 245px,#6bcb93 0 246px,#7fcd6e 0 248px,#68cc9d 0 251px,#65cda7 0 254px,#6bcb93 0 259px,#71cb88 0 262px,#6bcb93 0 264px,#71cb88 0 265px,#6bcb93 0 268px,#71cb88 0 270px,#6bcb93 0 274px,#71cb88 0 276px,#6bcb93 0 277px,#5ec8c5 0 280px,#71cb88 0 281px,#68cc9d 0 282px,#5bacd3 0 283px,#68cc9d 0 284px,#5ec8c5 0 285px,#68cc9d 0 289px,#65cda7 0 294px,#68cc9d 0 296px,#6bcb93 0 298px,#5dc3ce 0 299px,#78cc7b 0 300px,#5cbdd7 0 301px,#5dc3ce 0 304px,#5ec8c5 0 305px,#5dc3ce 0 307px,#5ba3d1 0 310px,#5dc3ce 0 313px,#5cbdd7 0 314px,#5dc3ce 0 316px,#5cbdd7 0 317px,#68cc9d 0 320px)"></i><i style="left:287.34px;width:19.42px;background:linear-gradient(#71cb88 0 1px,#6bcb93 0 5px,#68cc9d 0 7px,#5ec8c5 0 8px,#6bcb93 0 13px,#68cc9d 0 15px,#6bcb93 0 16px,#5bacd3 0 17px,#6bcb93 0 22px,#71cb88 0 25px,#5dc3ce 0 28px,#5ba3d1 0 29px,#5dc3ce 0 30px,#5b93cc 0 32px,#5cbdd7 0 36px,#6bcb93 0 37px,#5dc3ce 0 40px,#5cbdd7 0 41px,#5dc3ce 0 42px,#65cda7 0 43px,#5dc3ce 0 45px,#62ceb1 0 49px,#5cb4d5 0 50px,#65cda7 0 51px,#60cebb 0 53px,#62ceb1 0 55px,#65cda7 0 56px,#62ceb1 0 57px,#68cc9d 0 59px,#65cda7 0 61px,#5ec8c5 0 62px,#5bacd3 0 63px,#5dc3ce 0 65px,#5ec8c5 0 68px,#5dc3ce 0 69px,#5b7cc4 0 70px,#5dc3ce 0 71px,#5bacd3 0 72px,#5dc3ce 0 73px,#5ec8c5 0 75px,#5dc3ce 0 79px,#7fcd6e 0 80px,#5dc3ce 0 81px,#62ceb1 0 83px,#65cda7 0 84px,#7fcd6e 0 85px,#62ceb1 0 88px,#60cebb 0 89px,#5dc3ce 0 92px,#65cda7 0 93px,#62ceb1 0 96px,#65cda7 0 99px,#62ceb1 0 100px,#68cc9d 0 102px,#6bcb93 0 110px,#5dc3ce 0 112px,#71cb88 0 113px,#6bcb93 0 114px,#68cc9d 0 121px,#6bcb93 0 123px,#5ec8c5 0 124px,#68cc9d 0 128px,#5b9bce 0 131px,#65cda7 0 132px,#68cc9d 0 135px,#6bcb93 0 136px,#68cc9d 0 137px,#65cda7 0 138px,#68cc9d 0 140px,#65cda7 0 144px,#71cb88 0 146px,#60cebb 0 147px,#71cb88 0 149px,#a8d348 0 150px,#71cb88 0 153px,#68cc9d 0 156px,#6bcb93 0 158px,#68cc9d 0 159px,#6bcb93 0 163px,#71cb88 0 165px,#6bcb93 0 167px,#68cc9d 0 168px,#6bcb93 0 178px,#71cb88 0 179px,#68cc9d 0 180px,#6bcb93 0 185px,#68cc9d 0 186px,#a8d348 0 187px,#68cc9d 0 189px,#9dd150 0 192px,#65cda7 0 193px,#68cc9d 0 196px,#6bcb93 0 198px,#68cc9d 0 199px,#65cda7 0 200px,#68cc9d 0 203px,#6bcb93 0 204px,#65cda7 0 209px,#5b93cc 0 210px,#65cda7 0 211px,#68cc9d 0 212px,#5bacd3 0 213px,#65cda7 0 215px,#86ce61 0 218px,#65cda7 0 219px,#68cc9d 0 220px,#65cda7 0 222px,#68cc9d 0 223px,#5ba3d1 0 226px,#71cb88 0 228px,#6bcb93 0 232px,#71cb88 0 235px,#6bcb93 0 239px,#7fcd6e 0 240px,#6bcb93 0 243px,#91cf58 0 246px,#6bcb93 0 247px,#5cbdd7 0 250px,#6bcb93 0 253px,#71cb88 0 260px,#6bcb93 0 261px,#5ec8c5 0 263px,#78cc7b 0 264px,#71cb88 0 267px,#6bcb93 0 270px,#78cc7b 0 276px,#5ba3d1 0 278px,#7fcd6e 0 279px,#78cc7b 0 284px,#71cb88 0 285px,#65cda7 0 288px,#68cc9d 0 290px,#65cda7 0 298px,#68cc9d 0 299px,#7fcd6e 0 300px,#60cebb 0 303px,#5dc3ce 0 305px,#5ec8c5 0 306px,#60cebb 0 307px,#5ec8c5 0 308px,#62ceb1 0 312px,#60cebb 0 314px,#68cc9d 0 320px)"></i><i style="left:306.46px;width:19.42px;background:linear-gradient(#5ec8c5 0 1px,#585ab3 0 4px,#5dc3ce 0 5px,#b4d540 0 6px,#60cebb 0 7px,#5ec8c5 0 9px,#60cebb 0 11px,#5ec8c5 0 12px,#60cebb 0 18px,#5ec8c5 0 21px,#5dc3ce 0 23px,#5ec8c5 0 25px,#7fcd6e 0 28px,#60cebb 0 30px,#6bcb93 0 33px,#60cebb 0 35px,#62ceb1 0 38px,#60cebb 0 40px,#65cda7 0 41px,#5b83c6 0 42px,#65cda7 0 43px,#7fcd6e 0 46px,#65cda7 0 52px,#68cc9d 0 55px,#65cda7 0 56px,#71cb88 0 62px,#5ec8c5 0 64px,#71cb88 0 65px,#5ec8c5 0 66px,#71cb88 0 71px,#5dc3ce 0 72px,#71cb88 0 73px,#6bcb93 0 75px,#71cb88 0 77px,#5ec8c5 0 81px,#5dc3ce 0 84px,#5ec8c5 0 87px,#5dc3ce 0 88px,#60cebb 0 91px,#5ec8c5 0 98px,#5bacd3 0 102px,#5cb4d5 0 104px,#5bacd3 0 111px,#5cb4d5 0 112px,#5cbdd7 0 113px,#5cb4d5 0 115px,#5cbdd7 0 116px,#5b7cc4 0 117px,#5cb4d5 0 119px,#5bacd3 0 120px,#5cbdd7 0 122px,#5cb4d5 0 124px,#5bacd3 0 125px,#5cb4d5 0 126px,#5cbdd7 0 130px,#5cb4d5 0 134px,#5a6bbc 0 136px,#60cebb 0 144px,#62ceb1 0 147px,#65cda7 0 150px,#62ceb1 0 160px,#5b8bc9 0 162px,#65cda7 0 163px,#60cebb 0 165px,#62ceb1 0 173px,#65cda7 0 178px,#5cb4d5 0 179px,#5bacd3 0 183px,#5cb4d5 0 184px,#5ba3d1 0 186px,#5bacd3 0 187px,#5cb4d5 0 188px,#5ba3d1 0 189px,#5b76c1 0 190px,#5ba3d1 0 191px,#5b8bc9 0 192px,#60cebb 0 193px,#5cb4d5 0 194px,#60cebb 0 196px,#5bacd3 0 197px,#5ec8c5 0 200px,#5b93cc 0 201px,#5ec8c5 0 203px,#60cebb 0 204px,#5ec8c5 0 206px,#5dc3ce 0 207px,#5ec8c5 0 208px,#60cebb 0 210px,#5b9bce 0 211px,#5ec8c5 0 213px,#5dc3ce 0 214px,#60cebb 0 215px,#5cb4d5 0 216px,#60cebb 0 218px,#78cc7b 0 221px,#5ec8c5 0 222px,#60cebb 0 223px,#5b93cc 0 224px,#5ec8c5 0 225px,#60cebb 0 226px,#5ec8c5 0 228px,#60cebb 0 229px,#5ec8c5 0 230px,#60cebb 0 231px,#5bacd3 0 233px,#5ec8c5 0 235px,#60cebb 0 236px,#78cc7b 0 237px,#65cda7 0 239px,#62ceb1 0 242px,#5cbdd7 0 244px,#7fcd6e 0 245px,#78cc7b 0 247px,#71cb88 0 248px,#5cbdd7 0 249px,#78cc7b 0 251px,#65cda7 0 262px,#5cbdd7 0 265px,#68cc9d 0 267px,#65cda7 0 269px,#5dc3ce 0 270px,#65cda7 0 272px,#71cb88 0 275px,#5ec8c5 0 276px,#6bcb93 0 277px,#71cb88 0 280px,#6bcb93 0 283px,#eabe42 0 284px,#6bcb93 0 286px,#78cc7b 0 287px,#6bcb93 0 291px,#71cb88 0 292px,#6bcb93 0 293px,#60cebb 0 294px,#71cb88 0 296px,#5ec8c5 0 297px,#6bcb93 0 300px,#5cb4d5 0 302px,#62ceb1 0 304px,#78cc7b 0 307px,#5b8bc9 0 309px,#5ec8c5 0 311px,#5cbdd7 0 313px,#78cc7b 0 315px,#62ceb1 0 317px,#5cbdd7 0 319px,#5b83c6 0 320px)"></i><i style="left:325.58px;width:19.42px;background:linear-gradient(#65cda7 0 4px,#7fcd6e 0 5px,#62ceb1 0 6px,#91cf58 0 8px,#62ceb1 0 9px,#7fcd6e 0 10px,#5cbdd7 0 15px,#5cb4d5 0 20px,#5cbdd7 0 23px,#6bcb93 0 25px,#5cbdd7 0 31px,#5ba3d1 0 33px,#62ceb1 0 39px,#7fcd6e 0 42px,#65cda7 0 47px,#62ceb1 0 50px,#65cda7 0 52px,#5ba3d1 0 53px,#65cda7 0 54px,#5bacd3 0 55px,#65cda7 0 56px,#68cc9d 0 60px,#91cf58 0 61px,#68cc9d 0 63px,#65cda7 0 64px,#6bcb93 0 65px,#86ce61 0 67px,#6bcb93 0 68px,#c1cf3e 0 70px,#6bcb93 0 72px,#5ec8c5 0 73px,#5ba3d1 0 75px,#5ec8c5 0 80px,#60cebb 0 89px,#5ec8c5 0 96px,#62ceb1 0 97px,#65cda7 0 101px,#62ceb1 0 106px,#5b7cc4 0 107px,#62ceb1 0 110px,#5b93cc 0 111px,#65cda7 0 113px,#5dc3ce 0 121px,#6bcb93 0 124px,#5ec8c5 0 125px,#5dc3ce 0 127px,#65cda7 0 129px,#6bcb93 0 131px,#68cc9d 0 133px,#6bcb93 0 134px,#65cda7 0 137px,#62ceb1 0 140px,#65cda7 0 141px,#86ce61 0 143px,#65cda7 0 144px,#71cb88 0 147px,#65cda7 0 150px,#68cc9d 0 156px,#6bcb93 0 158px,#65cda7 0 159px,#68cc9d 0 160px,#5bacd3 0 162px,#68cc9d 0 164px,#5cbdd7 0 165px,#6bcb93 0 166px,#78cc7b 0 169px,#68cc9d 0 171px,#65cda7 0 179px,#60cebb 0 180px,#5b8bc9 0 183px,#60cebb 0 192px,#5cb4d5 0 193px,#60cebb 0 194px,#5cb4d5 0 197px,#62ceb1 0 198px,#60cebb 0 199px,#7fcd6e 0 201px,#60cebb 0 204px,#5ec8c5 0 206px,#62ceb1 0 208px,#5b9bce 0 211px,#60cebb 0 212px,#5ba3d1 0 216px,#5dc3ce 0 217px,#5ba3d1 0 218px,#60cebb 0 221px,#62ceb1 0 222px,#6bcb93 0 223px,#5b83c6 0 225px,#5ba3d1 0 226px,#5bacd3 0 228px,#68cc9d 0 229px,#5bacd3 0 230px,#62ceb1 0 232px,#5cb4d5 0 233px,#62ceb1 0 234px,#5cbdd7 0 236px,#62ceb1 0 239px,#5ec8c5 0 249px,#5cb4d5 0 251px,#5ec8c5 0 252px,#60cebb 0 253px,#5cb4d5 0 254px,#5ec8c5 0 257px,#62ceb1 0 258px,#60cebb 0 259px,#5ec8c5 0 261px,#5bacd3 0 262px,#5ec8c5 0 264px,#60cebb 0 266px,#5b93cc 0 268px,#5ec8c5 0 272px,#60cebb 0 276px,#5ec8c5 0 277px,#5dc3ce 0 280px,#60cebb 0 281px,#65cda7 0 285px,#62ceb1 0 288px,#65cda7 0 292px,#62ceb1 0 294px,#5cb4d5 0 296px,#5b9bce 0 300px,#65cda7 0 302px,#5dc3ce 0 304px,#5b8bc9 0 306px,#5b7cc4 0 310px,#5cb4d5 0 313px,#60cebb 0 317px,#5b93cc 0 320px)"></i><i style="left:344.70px;width:19.42px;background:linear-gradient(#60cebb 0 2px,#71cb88 0 3px,#62ceb1 0 4px,#78cc7b 0 5px,#5ec8c5 0 7px,#60cebb 0 8px,#5b7cc4 0 10px,#62ceb1 0 12px,#60cebb 0 14px,#65cda7 0 16px,#60cebb 0 17px,#5ec8c5 0 19px,#5dc3ce 0 21px,#5ec8c5 0 24px,#60cebb 0 25px,#9dd150 0 27px,#60cebb 0 28px,#71cb88 0 30px,#60cebb 0 32px,#5dc3ce 0 34px,#78cc7b 0 37px,#5cbdd7 0 39px,#5dc3ce 0 41px,#5cbdd7 0 50px,#5dc3ce 0 52px,#5cbdd7 0 55px,#5ba3d1 0 56px,#5b93cc 0 57px,#5ba3d1 0 58px,#5bacd3 0 61px,#5ba3d1 0 63px,#5bacd3 0 64px,#5b8bc9 0 66px,#5ba3d1 0 67px,#5b8bc9 0 69px,#5b93cc 0 72px,#7fcd6e 0 73px,#5b93cc 0 74px,#60cebb 0 77px,#5b93cc 0 78px,#5b8bc9 0 80px,#86ce61 0 82px,#d8c23b 0 84px,#b4d540 0 88px,#5cbdd7 0 90px,#b4d540 0 91px,#9dd150 0 93px,#dfb83e 0 95px,#d8c23b 0 96px,#c1cf3e 0 101px,#a8d348 0 103px,#cec93b 0 104px,#5dc3ce 0 106px,#60cebb 0 107px,#dfb83e 0 108px,#5dc3ce 0 111px,#65cda7 0 114px,#5dc3ce 0 115px,#5ec8c5 0 122px,#d8c23b 0 123px,#5ec8c5 0 130px,#9dd150 0 131px,#5ec8c5 0 132px,#5dc3ce 0 133px,#5ec8c5 0 136px,#5dc3ce 0 137px,#78cc7b 0 139px,#5ec8c5 0 143px,#5dc3ce 0 144px,#62ceb1 0 151px,#60cebb 0 152px,#6bcb93 0 155px,#62ceb1 0 158px,#60cebb 0 161px,#71cb88 0 162px,#60cebb 0 163px,#5ec8c5 0 165px,#62ceb1 0 167px,#60cebb 0 168px,#62ceb1 0 169px,#5ec8c5 0 171px,#62ceb1 0 172px,#5cb4d5 0 175px,#60cebb 0 179px,#5ba3d1 0 181px,#5cb4d5 0 182px,#5bacd3 0 183px,#5cbdd7 0 185px,#5b83c6 0 187px,#5cb4d5 0 188px,#7fcd6e 0 189px,#5cbdd7 0 190px,#6bcb93 0 191px,#5cbdd7 0 193px,#5cb4d5 0 194px,#5cbdd7 0 199px,#5cb4d5 0 200px,#5cbdd7 0 204px,#5cb4d5 0 208px,#5cbdd7 0 209px,#5dc3ce 0 212px,#5ec8c5 0 214px,#71cb88 0 215px,#5cbdd7 0 216px,#5dc3ce 0 217px,#5cbdd7 0 220px,#5ec8c5 0 223px,#5cbdd7 0 226px,#68cc9d 0 228px,#5bacd3 0 232px,#68cc9d 0 233px,#5bacd3 0 236px,#5cb4d5 0 238px,#5bacd3 0 241px,#9dd150 0 242px,#5bacd3 0 243px,#91cf58 0 244px,#5cb4d5 0 245px,#5ec8c5 0 250px,#86ce61 0 251px,#5ec8c5 0 254px,#60cebb 0 256px,#5dc3ce 0 262px,#5cbdd7 0 264px,#5dc3ce 0 267px,#5cbdd7 0 269px,#5dc3ce 0 270px,#5cbdd7 0 272px,#5dc3ce 0 274px,#5cbdd7 0 275px,#5ba3d1 0 279px,#5cb4d5 0 282px,#5cbdd7 0 286px,#5cb4d5 0 288px,#5dc3ce 0 294px,#5ec8c5 0 297px,#60cebb 0 299px,#5ec8c5 0 304px,#60cebb 0 305px,#5bacd3 0 307px,#5ec8c5 0 309px,#5bacd3 0 310px,#5ec8c5 0 312px,#60cebb 0 313px,#68cc9d 0 315px,#5ec8c5 0 316px,#60cebb 0 319px,#5ec8c5 0 320px)"></i><i style="left:363.82px;width:19.42px;background:linear-gradient(#62ceb1 0 1px,#86ce61 0 2px,#62ceb1 0 5px,#68cc9d 0 6px,#78cc7b 0 7px,#62ceb1 0 8px,#6bcb93 0 10px,#65cda7 0 11px,#7fcd6e 0 12px,#62ceb1 0 15px,#5cbdd7 0 16px,#5dc3ce 0 18px,#5cbdd7 0 25px,#5ba3d1 0 26px,#5cbdd7 0 27px,#71cb88 0 29px,#5dc3ce 0 30px,#5cbdd7 0 31px,#5dc3ce 0 32px,#5b9bce 0 34px,#5ba3d1 0 38px,#5b83c6 0 40px,#5cbdd7 0 41px,#5dc3ce 0 44px,#5ec8c5 0 50px,#6bcb93 0 52px,#5dc3ce 0 53px,#5cbdd7 0 58px,#5dc3ce 0 59px,#5ba3d1 0 61px,#5bacd3 0 62px,#5ba3d1 0 67px,#5b83c6 0 70px,#5bacd3 0 71px,#65cda7 0 72px,#5b9bce 0 75px,#5b83c6 0 78px,#5bacd3 0 79px,#5cb4d5 0 80px,#5bacd3 0 85px,#5cb4d5 0 86px,#60cebb 0 88px,#5bacd3 0 89px,#60cebb 0 96px,#6bcb93 0 97px,#68cc9d 0 98px,#6bcb93 0 100px,#68cc9d 0 102px,#6bcb93 0 104px,#5cb4d5 0 107px,#5bacd3 0 109px,#5cb4d5 0 111px,#5bacd3 0 113px,#5cb4d5 0 115px,#5cbdd7 0 116px,#68cc9d 0 117px,#5cbdd7 0 121px,#5dc3ce 0 122px,#5cbdd7 0 126px,#78cc7b 0 132px,#91cf58 0 134px,#78cc7b 0 135px,#7fcd6e 0 136px,#71cb88 0 138px,#78cc7b 0 140px,#7fcd6e 0 141px,#71cb88 0 144px,#78cc7b 0 146px,#7fcd6e 0 147px,#86ce61 0 149px,#5ec8c5 0 150px,#5dc3ce 0 155px,#5b9bce 0 158px,#5dc3ce 0 159px,#60cebb 0 160px,#71cb88 0 162px,#60cebb 0 163px,#62ceb1 0 164px,#60cebb 0 167px,#62ceb1 0 169px,#5cbdd7 0 170px,#62ceb1 0 171px,#5ec8c5 0 172px,#5dc3ce 0 173px,#78cc7b 0 174px,#5cbdd7 0 176px,#5dc3ce 0 179px,#5cbdd7 0 185px,#5cb4d5 0 188px,#5cbdd7 0 192px,#5ec8c5 0 193px,#5b9bce 0 194px,#5ec8c5 0 196px,#5dc3ce 0 198px,#5ec8c5 0 199px,#5dc3ce 0 202px,#5ec8c5 0 205px,#5dc3ce 0 206px,#5ec8c5 0 207px,#5dc3ce 0 208px,#7fcd6e 0 209px,#5ec8c5 0 210px,#5dc3ce 0 213px,#5ec8c5 0 219px,#68cc9d 0 220px,#5ec8c5 0 227px,#60cebb 0 228px,#5bacd3 0 231px,#60cebb 0 232px,#5ba3d1 0 235px,#60cebb 0 236px,#5ec8c5 0 239px,#60cebb 0 245px,#5bacd3 0 246px,#60cebb 0 247px,#62ceb1 0 248px,#65cda7 0 252px,#c1cf3e 0 253px,#62ceb1 0 254px,#71cb88 0 256px,#60cebb 0 258px,#86ce61 0 260px,#5ec8c5 0 262px,#5dc3ce 0 263px,#5bacd3 0 265px,#5ec8c5 0 267px,#5dc3ce 0 272px,#7fcd6e 0 274px,#5dc3ce 0 277px,#5b93cc 0 280px,#5dc3ce 0 281px,#68cc9d 0 284px,#5cb4d5 0 285px,#5ba3d1 0 288px,#5dc3ce 0 292px,#6bcb93 0 294px,#d8c23b 0 296px,#91cf58 0 297px,#86ce61 0 298px,#91cf58 0 300px,#a8d348 0 303px,#65cda7 0 304px,#62ceb1 0 307px,#5dc3ce 0 308px,#86ce61 0 309px,#5dc3ce 0 310px,#c1cf3e 0 311px,#dfb83e 0 312px,#c1cf3e 0 314px,#9dd150 0 315px,#5dc3ce 0 317px,#5b9bce 0 318px,#a8d348 0 319px,#5dc3ce 0 320px)"></i><i style="left:382.94px;width:19.42px;background:linear-gradient(#5dc3ce 0 2px,#5cbdd7 0 4px,#5dc3ce 0 7px,#5b9bce 0 8px,#5dc3ce 0 11px,#5ec8c5 0 18px,#5dc3ce 0 20px,#5ec8c5 0 21px,#5dc3ce 0 26px,#5ec8c5 0 28px,#5ba3d1 0 30px,#5dc3ce 0 31px,#5cbdd7 0 37px,#5cb4d5 0 39px,#65cda7 0 42px,#5cbdd7 0 43px,#5cb4d5 0 47px,#5cbdd7 0 49px,#5bacd3 0 50px,#60cebb 0 58px,#5ec8c5 0 61px,#62ceb1 0 62px,#5ec8c5 0 63px,#60cebb 0 69px,#68cc9d 0 71px,#5ec8c5 0 73px,#5b9bce 0 76px,#5ec8c5 0 79px,#6bcb93 0 80px,#5ec8c5 0 82px,#60cebb 0 83px,#6bcb93 0 85px,#60cebb 0 87px,#5ec8c5 0 90px,#71cb88 0 91px,#5ec8c5 0 93px,#60cebb 0 94px,#5bacd3 0 95px,#60cebb 0 96px,#5ec8c5 0 97px,#71cb88 0 98px,#7fcd6e 0 101px,#71cb88 0 105px,#7fcd6e 0 107px,#78cc7b 0 108px,#6bcb93 0 110px,#78cc7b 0 113px,#71cb88 0 114px,#5b76c1 0 116px,#5cb4d5 0 117px,#5cbdd7 0 119px,#5dc3ce 0 121px,#5cbdd7 0 124px,#5dc3ce 0 126px,#5cbdd7 0 128px,#5cb4d5 0 131px,#65cda7 0 132px,#5cb4d5 0 133px,#5cbdd7 0 140px,#5ec8c5 0 142px,#5cb4d5 0 144px,#62ceb1 0 147px,#71cb88 0 148px,#62ceb1 0 149px,#60cebb 0 154px,#65cda7 0 156px,#62ceb1 0 157px,#60cebb 0 158px,#5cbdd7 0 160px,#62ceb1 0 161px,#60cebb 0 162px,#62ceb1 0 164px,#60cebb 0 172px,#5ec8c5 0 173px,#60cebb 0 175px,#5b76c1 0 177px,#60cebb 0 179px,#5dc3ce 0 185px,#5ec8c5 0 188px,#60cebb 0 190px,#5ec8c5 0 193px,#5dc3ce 0 194px,#60cebb 0 199px,#62ceb1 0 200px,#60cebb 0 203px,#71cb88 0 204px,#60cebb 0 205px,#6bcb93 0 207px,#60cebb 0 209px,#62ceb1 0 211px,#60cebb 0 212px,#62ceb1 0 214px,#71cb88 0 215px,#5ec8c5 0 218px,#62ceb1 0 219px,#5ec8c5 0 235px,#5dc3ce 0 236px,#9dd150 0 238px,#5dc3ce 0 241px,#5b9bce 0 242px,#5dc3ce 0 243px,#5b9bce 0 245px,#5dc3ce 0 248px,#68cc9d 0 251px,#5cbdd7 0 255px,#5cb4d5 0 257px,#5bacd3 0 260px,#5cbdd7 0 265px,#6bcb93 0 266px,#5dc3ce 0 268px,#5bacd3 0 269px,#5dc3ce 0 273px,#5cbdd7 0 275px,#5dc3ce 0 282px,#6bcb93 0 283px,#5dc3ce 0 293px,#60cebb 0 296px,#5ec8c5 0 297px,#78cc7b 0 299px,#6bcb93 0 302px,#86ce61 0 306px,#a8d348 0 307px,#91cf58 0 309px,#a8d348 0 310px,#91cf58 0 311px,#78cc7b 0 312px,#b4d540 0 314px,#9dd150 0 318px,#91cf58 0 320px)"></i><i style="left:402.06px;width:19.42px;background:linear-gradient(#71cb88 0 1px,#7fcd6e 0 4px,#71cb88 0 7px,#6bcb93 0 8px,#71cb88 0 11px,#5ec8c5 0 13px,#71cb88 0 15px,#5ec8c5 0 18px,#6bcb93 0 23px,#65cda7 0 24px,#5cbdd7 0 26px,#68cc9d 0 27px,#65cda7 0 29px,#68cc9d 0 33px,#5dc3ce 0 34px,#68cc9d 0 36px,#6bcb93 0 38px,#9dd150 0 41px,#65cda7 0 43px,#68cc9d 0 46px,#65cda7 0 47px,#5ec8c5 0 49px,#65cda7 0 50px,#5b8bc9 0 52px,#68cc9d 0 54px,#65cda7 0 56px,#68cc9d 0 58px,#65cda7 0 62px,#62ceb1 0 64px,#65cda7 0 67px,#5bacd3 0 69px,#65cda7 0 73px,#68cc9d 0 75px,#65cda7 0 78px,#68cc9d 0 79px,#65cda7 0 81px,#68cc9d 0 85px,#62ceb1 0 86px,#65cda7 0 88px,#62ceb1 0 95px,#65cda7 0 98px,#78cc7b 0 99px,#62ceb1 0 100px,#68cc9d 0 101px,#62ceb1 0 103px,#65cda7 0 105px,#62ceb1 0 106px,#65cda7 0 107px,#5cb4d5 0 108px,#65cda7 0 110px,#60cebb 0 111px,#62ceb1 0 112px,#585ab3 0 114px,#62ceb1 0 115px,#60cebb 0 121px,#5dc3ce 0 122px,#60cebb 0 123px,#62ceb1 0 125px,#60cebb 0 126px,#5cb4d5 0 128px,#62ceb1 0 129px,#60cebb 0 131px,#68cc9d 0 132px,#65cda7 0 134px,#68cc9d 0 136px,#65cda7 0 139px,#68cc9d 0 140px,#5dc3ce 0 143px,#68cc9d 0 144px,#71cb88 0 145px,#6bcb93 0 146px,#71cb88 0 153px,#62ceb1 0 155px,#7fcd6e 0 158px,#62ceb1 0 159px,#65cda7 0 162px,#62ceb1 0 169px,#65cda7 0 172px,#62ceb1 0 173px,#65cda7 0 176px,#62ceb1 0 177px,#91cf58 0 180px,#65cda7 0 181px,#5ec8c5 0 184px,#6bcb93 0 190px,#71cb88 0 191px,#5dc3ce 0 192px,#68cc9d 0 193px,#5bacd3 0 194px,#68cc9d 0 195px,#6bcb93 0 203px,#71cb88 0 204px,#65cda7 0 208px,#62ceb1 0 210px,#5dc3ce 0 213px,#6bcb93 0 214px,#5dc3ce 0 215px,#6bcb93 0 218px,#68cc9d 0 223px,#60cebb 0 227px,#5cb4d5 0 228px,#60cebb 0 231px,#62ceb1 0 232px,#60cebb 0 235px,#78cc7b 0 237px,#62ceb1 0 243px,#60cebb 0 247px,#62ceb1 0 249px,#71cb88 0 251px,#6bcb93 0 253px,#71cb88 0 256px,#5a71bf 0 259px,#6bcb93 0 262px,#60cebb 0 263px,#6bcb93 0 265px,#68cc9d 0 266px,#6bcb93 0 273px,#78cc7b 0 275px,#71cb88 0 278px,#6bcb93 0 279px,#65cda7 0 280px,#62ceb1 0 282px,#5cb4d5 0 284px,#62ceb1 0 287px,#91cf58 0 290px,#65cda7 0 292px,#62ceb1 0 293px,#65cda7 0 299px,#5bacd3 0 301px,#65cda7 0 304px,#6bcb93 0 306px,#5cbdd7 0 308px,#68cc9d 0 309px,#6bcb93 0 311px,#9dd150 0 312px,#71cb88 0 313px,#6bcb93 0 315px,#71cb88 0 316px,#68cc9d 0 317px,#6bcb93 0 319px,#71cb88 0 320px)"></i><i style="left:421.18px;width:19.42px;background:linear-gradient(#60cebb 0 4px,#62ceb1 0 6px,#5bacd3 0 9px,#60cebb 0 12px,#62ceb1 0 13px,#60cebb 0 15px,#78cc7b 0 16px,#60cebb 0 23px,#7fcd6e 0 25px,#60cebb 0 27px,#7fcd6e 0 29px,#60cebb 0 30px,#5ec8c5 0 32px,#60cebb 0 35px,#5ec8c5 0 36px,#60cebb 0 38px,#5bacd3 0 41px,#5ec8c5 0 42px,#5dc3ce 0 45px,#65cda7 0 46px,#62ceb1 0 48px,#60cebb 0 49px,#a8d348 0 52px,#65cda7 0 54px,#62ceb1 0 61px,#65cda7 0 64px,#62ceb1 0 66px,#60cebb 0 67px,#62ceb1 0 68px,#60cebb 0 71px,#62ceb1 0 73px,#60cebb 0 75px,#62ceb1 0 76px,#60cebb 0 80px,#62ceb1 0 83px,#60cebb 0 86px,#62ceb1 0 92px,#60cebb 0 100px,#5ec8c5 0 101px,#6bcb93 0 102px,#60cebb 0 106px,#5ec8c5 0 108px,#60cebb 0 109px,#c1cf3e 0 111px,#60cebb 0 114px,#5ec8c5 0 115px,#c1cf3e 0 116px,#5ec8c5 0 118px,#65cda7 0 120px,#62ceb1 0 123px,#65cda7 0 126px,#62ceb1 0 127px,#60cebb 0 128px,#62ceb1 0 133px,#60cebb 0 135px,#62ceb1 0 137px,#60cebb 0 139px,#62ceb1 0 140px,#60cebb 0 142px,#86ce61 0 144px,#60cebb 0 146px,#62ceb1 0 148px,#60cebb 0 153px,#62ceb1 0 156px,#60cebb 0 158px,#62ceb1 0 159px,#65cda7 0 161px,#68cc9d 0 163px,#65cda7 0 164px,#5cbdd7 0 165px,#65cda7 0 167px,#d8c23b 0 169px,#65cda7 0 175px,#68cc9d 0 179px,#62ceb1 0 186px,#5dc3ce 0 191px,#5ec8c5 0 194px,#6bcb93 0 196px,#5dc3ce 0 198px,#eabe42 0 200px,#5ec8c5 0 201px,#6bcb93 0 202px,#5dc3ce 0 205px,#5ec8c5 0 206px,#5cbdd7 0 209px,#5dc3ce 0 210px,#91cf58 0 211px,#60cebb 0 214px,#6bcb93 0 216px,#5ec8c5 0 217px,#65cda7 0 218px,#68cc9d 0 220px,#86ce61 0 223px,#65cda7 0 228px,#78cc7b 0 230px,#65cda7 0 232px,#5cb4d5 0 233px,#65cda7 0 237px,#5bacd3 0 238px,#62ceb1 0 241px,#71cb88 0 242px,#60cebb 0 243px,#5bacd3 0 244px,#60cebb 0 247px,#71cb88 0 249px,#5ec8c5 0 250px,#71cb88 0 252px,#60cebb 0 254px,#5ec8c5 0 255px,#62ceb1 0 256px,#65cda7 0 258px,#c1cf3e 0 260px,#62ceb1 0 262px,#65cda7 0 266px,#71cb88 0 267px,#60cebb 0 268px,#5ec8c5 0 271px,#6bcb93 0 272px,#5ec8c5 0 276px,#60cebb 0 280px,#5ec8c5 0 283px,#5dc3ce 0 286px,#7fcd6e 0 288px,#5ec8c5 0 289px,#5dc3ce 0 291px,#c1cf3e 0 292px,#5dc3ce 0 293px,#60cebb 0 295px,#5ec8c5 0 297px,#60cebb 0 299px,#5ec8c5 0 301px,#60cebb 0 305px,#5b8bc9 0 307px,#60cebb 0 308px,#62ceb1 0 309px,#5cbdd7 0 310px,#62ceb1 0 312px,#60cebb 0 314px,#5b9bce 0 315px,#62ceb1 0 316px,#60cebb 0 320px)"></i><i style="left:440.30px;width:19.42px;background:linear-gradient(#5b7cc4 0 2px,#65cda7 0 4px,#68cc9d 0 13px,#5cbdd7 0 16px,#68cc9d 0 17px,#65cda7 0 20px,#68cc9d 0 24px,#65cda7 0 27px,#62ceb1 0 30px,#5cbdd7 0 33px,#62ceb1 0 37px,#65cda7 0 39px,#5cb4d5 0 41px,#65cda7 0 42px,#78cc7b 0 45px,#65cda7 0 47px,#68cc9d 0 50px,#65cda7 0 52px,#68cc9d 0 54px,#5ec8c5 0 55px,#68cc9d 0 56px,#5756b0 0 57px,#68cc9d 0 62px,#65cda7 0 64px,#68cc9d 0 72px,#65cda7 0 73px,#62ceb1 0 76px,#65cda7 0 77px,#62ceb1 0 80px,#60cebb 0 83px,#62ceb1 0 85px,#65cda7 0 88px,#62ceb1 0 91px,#65cda7 0 92px,#62ceb1 0 93px,#65cda7 0 97px,#5cbdd7 0 98px,#65cda7 0 100px,#62ceb1 0 102px,#65cda7 0 107px,#5cb4d5 0 109px,#68cc9d 0 111px,#65cda7 0 114px,#68cc9d 0 116px,#65cda7 0 119px,#68cc9d 0 121px,#65cda7 0 122px,#62ceb1 0 124px,#65cda7 0 126px,#62ceb1 0 131px,#5dc3ce 0 133px,#65cda7 0 135px,#62ceb1 0 137px,#5b8bc9 0 138px,#62ceb1 0 140px,#5b8bc9 0 143px,#65cda7 0 144px,#6bcb93 0 146px,#5ec8c5 0 147px,#65cda7 0 148px,#6bcb93 0 151px,#68cc9d 0 152px,#5a71bf 0 155px,#68cc9d 0 158px,#6bcb93 0 159px,#5cbdd7 0 161px,#68cc9d 0 162px,#71cb88 0 164px,#6bcb93 0 168px,#71cb88 0 172px,#5ba3d1 0 173px,#71cb88 0 175px,#6bcb93 0 177px,#60cebb 0 178px,#5ec8c5 0 179px,#5dc3ce 0 181px,#5bacd3 0 184px,#5cbdd7 0 185px,#5b7cc4 0 188px,#5dc3ce 0 191px,#5cbdd7 0 193px,#65cda7 0 194px,#68cc9d 0 197px,#65cda7 0 199px,#5ec8c5 0 200px,#68cc9d 0 201px,#65cda7 0 203px,#68cc9d 0 205px,#65cda7 0 210px,#68cc9d 0 211px,#5b7cc4 0 212px,#5b83c6 0 213px,#71cb88 0 214px,#5ba3d1 0 215px,#62ceb1 0 217px,#65cda7 0 219px,#62ceb1 0 222px,#5b83c6 0 225px,#60cebb 0 226px,#68cc9d 0 227px,#5b9bce 0 230px,#5ba3d1 0 231px,#5b83c6 0 232px,#5ba3d1 0 233px,#62ceb1 0 234px,#5b8bc9 0 235px,#5a71bf 0 236px,#62ceb1 0 240px,#5b93cc 0 241px,#71cb88 0 242px,#68cc9d 0 243px,#5dc3ce 0 246px,#71cb88 0 247px,#6bcb93 0 250px,#71cb88 0 251px,#6bcb93 0 258px,#62ceb1 0 260px,#5962b7 0 261px,#62ceb1 0 263px,#5b76c1 0 264px,#62ceb1 0 265px,#86ce61 0 267px,#62ceb1 0 270px,#5bacd3 0 273px,#62ceb1 0 277px,#5cbdd7 0 279px,#65cda7 0 281px,#62ceb1 0 287px,#5dc3ce 0 289px,#62ceb1 0 291px,#68cc9d 0 293px,#62ceb1 0 294px,#5b83c6 0 297px,#65cda7 0 299px,#62ceb1 0 300px,#5cb4d5 0 304px,#5dc3ce 0 307px,#5b9bce 0 309px,#5967ba 0 310px,#62ceb1 0 311px,#60cebb 0 313px,#62ceb1 0 314px,#68cc9d 0 315px,#6bcb93 0 316px,#5a71bf 0 318px,#5756b0 0 319px,#68cc9d 0 320px)"></i></div>
<div class="hb" style="left:1542.20px;top:562.50px;width:456.60px;height:319.60px"><i style="left:0.54px;width:19.42px;background:linear-gradient(#68cc9d 0 7px,#65cda7 0 9px,#5ec8c5 0 10px,#68cc9d 0 14px,#5dc3ce 0 17px,#65cda7 0 22px,#68cc9d 0 23px,#65cda7 0 28px,#91cf58 0 31px,#65cda7 0 32px,#5dc3ce 0 36px,#5cb4d5 0 38px,#5cbdd7 0 44px,#5cb4d5 0 46px,#5cbdd7 0 51px,#60cebb 0 52px,#5cb4d5 0 53px,#60cebb 0 56px,#5ec8c5 0 58px,#c1cf3e 0 59px,#62ceb1 0 60px,#5ec8c5 0 61px,#6bcb93 0 64px,#5ec8c5 0 65px,#5dc3ce 0 67px,#5ec8c5 0 71px,#71cb88 0 72px,#60cebb 0 74px,#5ec8c5 0 76px,#5cb4d5 0 77px,#60cebb 0 78px,#5ec8c5 0 79px,#78cc7b 0 81px,#71cb88 0 83px,#7fcd6e 0 85px,#6bcb93 0 86px,#5ec8c5 0 87px,#78cc7b 0 88px,#b4d540 0 89px,#91cf58 0 90px,#86ce61 0 95px,#91cf58 0 99px,#71cb88 0 100px,#7fcd6e 0 103px,#86ce61 0 104px,#7fcd6e 0 105px,#5ec8c5 0 107px,#62ceb1 0 109px,#5ec8c5 0 114px,#5cbdd7 0 119px,#5dc3ce 0 121px,#5cbdd7 0 123px,#5dc3ce 0 126px,#5cbdd7 0 127px,#6bcb93 0 128px,#5dc3ce 0 131px,#5ec8c5 0 133px,#5bacd3 0 135px,#65cda7 0 137px,#5cbdd7 0 138px,#5b93cc 0 140px,#62ceb1 0 141px,#9dd150 0 142px,#5cb4d5 0 144px,#62ceb1 0 148px,#5cb4d5 0 152px,#5ba3d1 0 154px,#5b7cc4 0 156px,#5b93cc 0 159px,#5ec8c5 0 160px,#65cda7 0 161px,#62ceb1 0 162px,#78cc7b 0 163px,#65cda7 0 166px,#68cc9d 0 168px,#7fcd6e 0 170px,#65cda7 0 174px,#68cc9d 0 176px,#6bcb93 0 177px,#cec93b 0 178px,#65cda7 0 182px,#62ceb1 0 185px,#60cebb 0 186px,#5ec8c5 0 187px,#71cb88 0 189px,#5ec8c5 0 191px,#60cebb 0 192px,#5ba3d1 0 194px,#60cebb 0 195px,#62ceb1 0 197px,#60cebb 0 199px,#62ceb1 0 200px,#60cebb 0 204px,#5ec8c5 0 207px,#62ceb1 0 208px,#60cebb 0 212px,#62ceb1 0 215px,#65cda7 0 218px,#68cc9d 0 220px,#62ceb1 0 223px,#65cda7 0 226px,#5cbdd7 0 228px,#7fcd6e 0 229px,#5cbdd7 0 232px,#5b8bc9 0 234px,#5cbdd7 0 235px,#6bcb93 0 237px,#5dc3ce 0 240px,#5cb4d5 0 241px,#5bacd3 0 242px,#5cbdd7 0 248px,#5dc3ce 0 250px,#71cb88 0 253px,#5cbdd7 0 261px,#5cb4d5 0 262px,#5cbdd7 0 265px,#5ba3d1 0 267px,#5dc3ce 0 268px,#5b93cc 0 270px,#5ba3d1 0 273px,#65cda7 0 274px,#5b93cc 0 276px,#6bcb93 0 277px,#5dc3ce 0 279px,#68cc9d 0 281px,#62ceb1 0 282px,#71cb88 0 284px,#5bacd3 0 286px,#60cebb 0 292px,#5ba3d1 0 294px,#5ec8c5 0 296px,#60cebb 0 308px,#62ceb1 0 310px,#60cebb 0 311px,#62ceb1 0 314px,#60cebb 0 318px,#62ceb1 0 319px,#60cebb 0 320px)"></i><i style="left:19.66px;width:19.42px;background:linear-gradient(#6bcb93 0 1px,#71cb88 0 3px,#60cebb 0 4px,#71cb88 0 5px,#5dc3ce 0 8px,#78cc7b 0 10px,#6bcb93 0 13px,#78cc7b 0 15px,#5bacd3 0 17px,#71cb88 0 18px,#5ec8c5 0 20px,#71cb88 0 22px,#6bcb93 0 24px,#68cc9d 0 26px,#60cebb 0 28px,#62ceb1 0 31px,#65cda7 0 32px,#5ec8c5 0 33px,#5dc3ce 0 35px,#60cebb 0 37px,#5ec8c5 0 38px,#5cb4d5 0 39px,#5dc3ce 0 41px,#5ba3d1 0 42px,#5ec8c5 0 48px,#5dc3ce 0 50px,#5ec8c5 0 55px,#60cebb 0 57px,#5ec8c5 0 58px,#71cb88 0 60px,#60cebb 0 73px,#62ceb1 0 77px,#60cebb 0 79px,#5ba3d1 0 80px,#7fcd6e 0 83px,#86ce61 0 85px,#eabe42 0 87px,#7fcd6e 0 89px,#a8d348 0 90px,#7fcd6e 0 93px,#60cebb 0 94px,#86ce61 0 96px,#7fcd6e 0 97px,#5ec8c5 0 98px,#7fcd6e 0 103px,#71cb88 0 105px,#5cbdd7 0 110px,#5cb4d5 0 112px,#62ceb1 0 120px,#5bacd3 0 121px,#60cebb 0 122px,#5ec8c5 0 123px,#60cebb 0 124px,#5b8bc9 0 127px,#60cebb 0 128px,#5ec8c5 0 129px,#60cebb 0 131px,#62ceb1 0 132px,#5b9bce 0 135px,#62ceb1 0 136px,#5cb4d5 0 137px,#62ceb1 0 141px,#e7e346 0 143px,#62ceb1 0 145px,#5ec8c5 0 150px,#60cebb 0 151px,#5ec8c5 0 152px,#7fcd6e 0 155px,#5ec8c5 0 159px,#5b9bce 0 160px,#62ceb1 0 166px,#71cb88 0 171px,#6bcb93 0 172px,#68cc9d 0 173px,#71cb88 0 176px,#6bcb93 0 180px,#65cda7 0 183px,#5cb4d5 0 184px,#62ceb1 0 187px,#65cda7 0 188px,#5b8bc9 0 191px,#62ceb1 0 198px,#65cda7 0 199px,#5b8bc9 0 200px,#60cebb 0 201px,#6bcb93 0 202px,#5ec8c5 0 204px,#5a6bbc 0 205px,#60cebb 0 208px,#5ec8c5 0 211px,#6bcb93 0 213px,#5ec8c5 0 215px,#60cebb 0 217px,#5ec8c5 0 220px,#60cebb 0 221px,#5ec8c5 0 224px,#60cebb 0 225px,#62ceb1 0 227px,#60cebb 0 230px,#62ceb1 0 236px,#60cebb 0 240px,#5dc3ce 0 242px,#5ec8c5 0 243px,#5b93cc 0 245px,#5dc3ce 0 246px,#5ec8c5 0 249px,#60cebb 0 252px,#5ec8c5 0 253px,#5b8bc9 0 256px,#5ec8c5 0 257px,#60cebb 0 261px,#5cb4d5 0 263px,#60cebb 0 265px,#5dc3ce 0 266px,#62ceb1 0 268px,#5b8bc9 0 269px,#5ec8c5 0 270px,#60cebb 0 273px,#5bacd3 0 274px,#5ec8c5 0 275px,#5a6bbc 0 277px,#65cda7 0 279px,#62ceb1 0 281px,#5ba3d1 0 282px,#60cebb 0 285px,#5b93cc 0 286px,#60cebb 0 289px,#62ceb1 0 291px,#60cebb 0 293px,#62ceb1 0 297px,#60cebb 0 298px,#71cb88 0 300px,#62ceb1 0 303px,#60cebb 0 306px,#78cc7b 0 308px,#68cc9d 0 309px,#65cda7 0 311px,#78cc7b 0 314px,#68cc9d 0 319px,#6bcb93 0 320px)"></i><i style="left:38.78px;width:19.42px;background:linear-gradient(#62ceb1 0 1px,#5dc3ce 0 2px,#62ceb1 0 3px,#65cda7 0 5px,#71cb88 0 6px,#65cda7 0 10px,#68cc9d 0 16px,#62ceb1 0 19px,#5cb4d5 0 20px,#62ceb1 0 27px,#65cda7 0 30px,#68cc9d 0 31px,#78cc7b 0 34px,#60cebb 0 38px,#5cb4d5 0 39px,#62ceb1 0 44px,#60cebb 0 46px,#6bcb93 0 49px,#65cda7 0 51px,#60cebb 0 52px,#6bcb93 0 55px,#62ceb1 0 57px,#60cebb 0 60px,#62ceb1 0 61px,#60cebb 0 62px,#5ec8c5 0 65px,#60cebb 0 67px,#5ec8c5 0 68px,#60cebb 0 69px,#6bcb93 0 70px,#60cebb 0 75px,#5ec8c5 0 78px,#5dc3ce 0 79px,#5ec8c5 0 80px,#78cc7b 0 82px,#86ce61 0 83px,#78cc7b 0 84px,#86ce61 0 87px,#6bcb93 0 88px,#5ec8c5 0 91px,#7fcd6e 0 96px,#86ce61 0 97px,#91cf58 0 99px,#7fcd6e 0 103px,#86ce61 0 105px,#60cebb 0 111px,#62ceb1 0 116px,#65cda7 0 119px,#5bacd3 0 120px,#62ceb1 0 124px,#5ba3d1 0 125px,#62ceb1 0 126px,#60cebb 0 128px,#5ec8c5 0 130px,#60cebb 0 132px,#5b9bce 0 133px,#60cebb 0 134px,#5cb4d5 0 135px,#5ba3d1 0 138px,#5bacd3 0 139px,#5cb4d5 0 141px,#5bacd3 0 146px,#5cb4d5 0 147px,#5cbdd7 0 149px,#5cb4d5 0 150px,#5ba3d1 0 153px,#5cbdd7 0 158px,#62ceb1 0 161px,#5dc3ce 0 164px,#60cebb 0 166px,#5ec8c5 0 167px,#5cb4d5 0 170px,#60cebb 0 172px,#5b9bce 0 173px,#60cebb 0 184px,#e5b041 0 186px,#5ec8c5 0 188px,#7fcd6e 0 189px,#60cebb 0 190px,#86ce61 0 191px,#60cebb 0 192px,#5ec8c5 0 195px,#5bacd3 0 196px,#60cebb 0 200px,#5cb4d5 0 203px,#65cda7 0 204px,#5cb4d5 0 205px,#65cda7 0 206px,#78cc7b 0 209px,#65cda7 0 211px,#62ceb1 0 213px,#65cda7 0 215px,#62ceb1 0 217px,#65cda7 0 218px,#62ceb1 0 220px,#5cbdd7 0 225px,#5dc3ce 0 226px,#5cbdd7 0 229px,#5dc3ce 0 230px,#68cc9d 0 232px,#5cbdd7 0 234px,#5dc3ce 0 235px,#71cb88 0 237px,#5dc3ce 0 238px,#60cebb 0 240px,#5dc3ce 0 241px,#6bcb93 0 242px,#5dc3ce 0 245px,#68cc9d 0 246px,#5dc3ce 0 248px,#5bacd3 0 252px,#5ba3d1 0 254px,#5bacd3 0 256px,#5cb4d5 0 257px,#5bacd3 0 263px,#5cb4d5 0 264px,#5bacd3 0 266px,#5b83c6 0 267px,#5bacd3 0 269px,#68cc9d 0 270px,#5bacd3 0 272px,#5cb4d5 0 273px,#62ceb1 0 274px,#5ec8c5 0 277px,#60cebb 0 281px,#78cc7b 0 284px,#60cebb 0 291px,#62ceb1 0 292px,#60cebb 0 295px,#5dc3ce 0 296px,#5cbdd7 0 301px,#5dc3ce 0 303px,#5cbdd7 0 306px,#78cc7b 0 309px,#5dc3ce 0 311px,#5cbdd7 0 314px,#5dc3ce 0 315px,#5a6bbc 0 316px,#5dc3ce 0 317px,#5cbdd7 0 320px)"></i><i style="left:57.90px;width:19.42px;background:linear-gradient(#65cda7 0 2px,#68cc9d 0 3px,#5ba3d1 0 5px,#65cda7 0 8px,#60cebb 0 11px,#62ceb1 0 13px,#60cebb 0 19px,#68cc9d 0 21px,#5dc3ce 0 22px,#68cc9d 0 24px,#65cda7 0 25px,#7fcd6e 0 27px,#65cda7 0 28px,#7fcd6e 0 29px,#62ceb1 0 31px,#86ce61 0 33px,#5ec8c5 0 34px,#6bcb93 0 35px,#5cbdd7 0 36px,#5bacd3 0 37px,#5cb4d5 0 38px,#5cbdd7 0 40px,#5cb4d5 0 43px,#5cbdd7 0 44px,#86ce61 0 45px,#5cb4d5 0 51px,#71cb88 0 54px,#5cb4d5 0 60px,#5cbdd7 0 62px,#5cb4d5 0 63px,#5b76c1 0 65px,#5cb4d5 0 67px,#5b9bce 0 68px,#5cb4d5 0 69px,#5bacd3 0 71px,#60cebb 0 72px,#5dc3ce 0 75px,#6bcb93 0 76px,#5ec8c5 0 79px,#5dc3ce 0 80px,#78cc7b 0 82px,#71cb88 0 83px,#c1cf3e 0 86px,#78cc7b 0 87px,#65cda7 0 88px,#5bacd3 0 89px,#65cda7 0 90px,#b4d540 0 91px,#65cda7 0 92px,#68cc9d 0 95px,#a8d348 0 97px,#c1cf3e 0 101px,#b4d540 0 102px,#e9b142 0 104px,#9dd150 0 105px,#5cbdd7 0 106px,#5cb4d5 0 107px,#5ec8c5 0 108px,#62ceb1 0 109px,#5ec8c5 0 112px,#60cebb 0 115px,#5ba3d1 0 117px,#5bacd3 0 128px,#e9d744 0 129px,#5bacd3 0 133px,#6bcb93 0 134px,#5ba3d1 0 135px,#5bacd3 0 137px,#68cc9d 0 138px,#65cda7 0 141px,#71cb88 0 143px,#65cda7 0 148px,#68cc9d 0 149px,#5b9bce 0 150px,#65cda7 0 151px,#5b9bce 0 152px,#65cda7 0 156px,#62ceb1 0 157px,#5dc3ce 0 158px,#b4d540 0 160px,#cec93b 0 161px,#60cebb 0 164px,#62ceb1 0 165px,#60cebb 0 166px,#65cda7 0 168px,#68cc9d 0 170px,#65cda7 0 173px,#78cc7b 0 174px,#65cda7 0 177px,#60cebb 0 181px,#62ceb1 0 182px,#5ec8c5 0 186px,#5dc3ce 0 188px,#5ec8c5 0 190px,#68cc9d 0 191px,#5ec8c5 0 192px,#5dc3ce 0 194px,#5ec8c5 0 198px,#5dc3ce 0 200px,#5ec8c5 0 202px,#68cc9d 0 203px,#5bacd3 0 205px,#6bcb93 0 207px,#68cc9d 0 209px,#65cda7 0 212px,#68cc9d 0 213px,#5962b7 0 214px,#68cc9d 0 217px,#65cda7 0 219px,#78cc7b 0 220px,#68cc9d 0 221px,#91cf58 0 222px,#68cc9d 0 223px,#60cebb 0 225px,#6bcb93 0 227px,#62ceb1 0 228px,#65cda7 0 229px,#5ec8c5 0 230px,#6bcb93 0 233px,#60cebb 0 238px,#62ceb1 0 240px,#5ec8c5 0 241px,#5dc3ce 0 243px,#5ba3d1 0 244px,#5ec8c5 0 245px,#68cc9d 0 247px,#5cbdd7 0 248px,#5cb4d5 0 251px,#5cbdd7 0 259px,#5cb4d5 0 262px,#5cbdd7 0 265px,#5cb4d5 0 267px,#5cbdd7 0 270px,#71cb88 0 273px,#5cbdd7 0 277px,#5cb4d5 0 278px,#9dd150 0 281px,#5cbdd7 0 283px,#5cb4d5 0 286px,#6bcb93 0 287px,#5cbdd7 0 291px,#78cc7b 0 293px,#5cbdd7 0 294px,#5a71bf 0 295px,#5cbdd7 0 296px,#5b9bce 0 297px,#5cbdd7 0 301px,#5cb4d5 0 302px,#65cda7 0 304px,#5cbdd7 0 309px,#68cc9d 0 310px,#5cbdd7 0 315px,#5dc3ce 0 316px,#5cbdd7 0 319px,#5ec8c5 0 320px)"></i><i style="left:77.02px;width:19.42px;background:linear-gradient(#78cc7b 0 2px,#5bacd3 0 4px,#71cb88 0 6px,#78cc7b 0 9px,#5cbdd7 0 10px,#78cc7b 0 13px,#68cc9d 0 16px,#6bcb93 0 17px,#a8d348 0 19px,#6bcb93 0 23px,#65cda7 0 26px,#6bcb93 0 27px,#68cc9d 0 30px,#a8d348 0 31px,#6bcb93 0 32px,#60cebb 0 39px,#5cbdd7 0 42px,#5cb4d5 0 46px,#71cb88 0 47px,#5cb4d5 0 48px,#5cbdd7 0 50px,#5cb4d5 0 53px,#5cbdd7 0 61px,#5cb4d5 0 62px,#5cbdd7 0 64px,#5dc3ce 0 69px,#5ec8c5 0 71px,#5dc3ce 0 73px,#71cb88 0 76px,#5dc3ce 0 78px,#5cb4d5 0 80px,#6bcb93 0 83px,#a8d348 0 85px,#b4d540 0 86px,#6bcb93 0 88px,#9dd150 0 90px,#91cf58 0 94px,#c1cf3e 0 96px,#86ce61 0 98px,#91cf58 0 99px,#86ce61 0 100px,#a8d348 0 101px,#91cf58 0 102px,#78cc7b 0 105px,#60cebb 0 107px,#86ce61 0 110px,#62ceb1 0 111px,#71cb88 0 113px,#5ec8c5 0 114px,#5dc3ce 0 115px,#5ec8c5 0 116px,#5dc3ce 0 117px,#78cc7b 0 120px,#5dc3ce 0 123px,#5ec8c5 0 126px,#5dc3ce 0 130px,#5ec8c5 0 136px,#5b93cc 0 138px,#5ec8c5 0 139px,#6bcb93 0 142px,#5ec8c5 0 152px,#5dc3ce 0 155px,#5ec8c5 0 158px,#e5b041 0 161px,#62ceb1 0 164px,#60cebb 0 166px,#62ceb1 0 169px,#65cda7 0 173px,#5cbdd7 0 174px,#62ceb1 0 176px,#71cb88 0 178px,#62ceb1 0 180px,#71cb88 0 183px,#60cebb 0 186px,#5ec8c5 0 189px,#60cebb 0 191px,#5ec8c5 0 192px,#60cebb 0 202px,#62ceb1 0 204px,#60cebb 0 207px,#62ceb1 0 208px,#5ec8c5 0 213px,#60cebb 0 215px,#5ec8c5 0 216px,#5b76c1 0 219px,#5ec8c5 0 220px,#60cebb 0 222px,#5ec8c5 0 224px,#5cb4d5 0 227px,#5ec8c5 0 229px,#60cebb 0 231px,#5ec8c5 0 232px,#60cebb 0 234px,#62ceb1 0 236px,#60cebb 0 240px,#5ec8c5 0 243px,#5dc3ce 0 244px,#5cb4d5 0 246px,#5ec8c5 0 248px,#5bacd3 0 249px,#5ec8c5 0 250px,#60cebb 0 252px,#5ec8c5 0 253px,#c1cf3e 0 255px,#5ec8c5 0 257px,#60cebb 0 261px,#5ec8c5 0 262px,#5dc3ce 0 264px,#60cebb 0 266px,#5ec8c5 0 271px,#5ba3d1 0 272px,#5ec8c5 0 277px,#5dc3ce 0 278px,#5ec8c5 0 280px,#5bacd3 0 282px,#5ec8c5 0 285px,#5dc3ce 0 286px,#6bcb93 0 287px,#5dc3ce 0 291px,#a8d348 0 292px,#5ec8c5 0 296px,#5dc3ce 0 298px,#5b76c1 0 299px,#5cb4d5 0 300px,#5bacd3 0 302px,#68cc9d 0 304px,#5bacd3 0 305px,#5cb4d5 0 308px,#5bacd3 0 310px,#5b9bce 0 312px,#5cb4d5 0 313px,#5cbdd7 0 314px,#68cc9d 0 315px,#5cbdd7 0 320px)"></i><i style="left:96.14px;width:19.42px;background:linear-gradient(#68cc9d 0 15px,#65cda7 0 16px,#6bcb93 0 21px,#68cc9d 0 23px,#71cb88 0 24px,#78cc7b 0 25px,#71cb88 0 26px,#6bcb93 0 27px,#86ce61 0 30px,#68cc9d 0 32px,#5cbdd7 0 35px,#5ec8c5 0 36px,#60cebb 0 37px,#5ec8c5 0 46px,#60cebb 0 48px,#5ec8c5 0 51px,#78cc7b 0 53px,#60cebb 0 54px,#5ec8c5 0 59px,#5cbdd7 0 61px,#6bcb93 0 62px,#5cbdd7 0 63px,#5dc3ce 0 64px,#5cbdd7 0 68px,#7fcd6e 0 70px,#5cbdd7 0 73px,#5dc3ce 0 76px,#5cbdd7 0 80px,#6bcb93 0 82px,#65cda7 0 84px,#68cc9d 0 85px,#60cebb 0 87px,#62ceb1 0 92px,#60cebb 0 95px,#62ceb1 0 96px,#60cebb 0 97px,#62ceb1 0 99px,#60cebb 0 100px,#71cb88 0 101px,#60cebb 0 103px,#5b8bc9 0 106px,#5ba3d1 0 110px,#5bacd3 0 111px,#62ceb1 0 112px,#60cebb 0 113px,#62ceb1 0 115px,#5ec8c5 0 117px,#60cebb 0 120px,#71cb88 0 121px,#60cebb 0 124px,#7fcd6e 0 125px,#62ceb1 0 132px,#60cebb 0 133px,#62ceb1 0 134px,#5ec8c5 0 139px,#5dc3ce 0 142px,#5ba3d1 0 143px,#5ec8c5 0 145px,#5dc3ce 0 146px,#71cb88 0 147px,#5ec8c5 0 152px,#5dc3ce 0 153px,#5ec8c5 0 159px,#b4d540 0 160px,#62ceb1 0 169px,#7fcd6e 0 170px,#68cc9d 0 171px,#65cda7 0 179px,#68cc9d 0 180px,#65cda7 0 181px,#86ce61 0 184px,#5cbdd7 0 185px,#5dc3ce 0 193px,#5b76c1 0 194px,#5dc3ce 0 196px,#5cbdd7 0 199px,#5dc3ce 0 200px,#5b93cc 0 201px,#5cbdd7 0 203px,#68cc9d 0 204px,#5cbdd7 0 205px,#5dc3ce 0 207px,#5cbdd7 0 209px,#6bcb93 0 212px,#68cc9d 0 214px,#6bcb93 0 220px,#71cb88 0 221px,#5bacd3 0 222px,#68cc9d 0 226px,#65cda7 0 229px,#78cc7b 0 230px,#65cda7 0 232px,#5bacd3 0 235px,#65cda7 0 239px,#7fcd6e 0 240px,#60cebb 0 241px,#5cb4d5 0 242px,#5b93cc 0 245px,#5cb4d5 0 247px,#5cbdd7 0 252px,#5dc3ce 0 253px,#5cbdd7 0 260px,#5bacd3 0 263px,#68cc9d 0 265px,#5cb4d5 0 270px,#91cf58 0 271px,#5cbdd7 0 272px,#68cc9d 0 274px,#5cb4d5 0 277px,#5ec8c5 0 279px,#5dc3ce 0 282px,#5ec8c5 0 284px,#5dc3ce 0 285px,#5b93cc 0 287px,#5ec8c5 0 293px,#5dc3ce 0 294px,#71cb88 0 295px,#5dc3ce 0 309px,#5cbdd7 0 311px,#5dc3ce 0 312px,#5cbdd7 0 317px,#5dc3ce 0 320px)"></i><i style="left:115.26px;width:19.42px;background:linear-gradient(#65cda7 0 8px,#68cc9d 0 10px,#65cda7 0 15px,#5bacd3 0 17px,#6bcb93 0 19px,#68cc9d 0 20px,#65cda7 0 22px,#68cc9d 0 25px,#5b83c6 0 27px,#65cda7 0 31px,#68cc9d 0 32px,#5ec8c5 0 33px,#6bcb93 0 34px,#5dc3ce 0 35px,#5ec8c5 0 43px,#5dc3ce 0 45px,#5ec8c5 0 46px,#5b7cc4 0 47px,#60cebb 0 48px,#5dc3ce 0 49px,#60cebb 0 51px,#5b83c6 0 53px,#5ec8c5 0 55px,#60cebb 0 57px,#5b93cc 0 58px,#60cebb 0 59px,#5ec8c5 0 67px,#5cbdd7 0 68px,#5cb4d5 0 71px,#5cbdd7 0 72px,#71cb88 0 75px,#5dc3ce 0 76px,#5cbdd7 0 80px,#68cc9d 0 81px,#6bcb93 0 82px,#68cc9d 0 84px,#5cbdd7 0 86px,#68cc9d 0 90px,#6bcb93 0 91px,#86ce61 0 93px,#68cc9d 0 97px,#6bcb93 0 104px,#86ce61 0 105px,#5cb4d5 0 106px,#60cebb 0 110px,#cec93b 0 112px,#60cebb 0 117px,#5cbdd7 0 123px,#68cc9d 0 124px,#5cb4d5 0 126px,#5cbdd7 0 129px,#5cb4d5 0 131px,#68cc9d 0 132px,#5cb4d5 0 142px,#5b8bc9 0 144px,#5bacd3 0 147px,#5cbdd7 0 151px,#5cb4d5 0 157px,#585eb5 0 158px,#d8c23b 0 160px,#68cc9d 0 161px,#60cebb 0 162px,#62ceb1 0 163px,#65cda7 0 167px,#5cbdd7 0 168px,#65cda7 0 179px,#91cf58 0 181px,#65cda7 0 193px,#68cc9d 0 195px,#5ec8c5 0 196px,#5b8bc9 0 197px,#5ec8c5 0 199px,#5dc3ce 0 202px,#5ec8c5 0 205px,#5dc3ce 0 207px,#5ec8c5 0 209px,#6bcb93 0 210px,#5ec8c5 0 212px,#5cb4d5 0 214px,#5dc3ce 0 219px,#62ceb1 0 220px,#60cebb 0 222px,#65cda7 0 225px,#62ceb1 0 228px,#7fcd6e 0 229px,#62ceb1 0 230px,#60cebb 0 232px,#62ceb1 0 234px,#b4d540 0 237px,#62ceb1 0 240px,#71cb88 0 241px,#60cebb 0 243px,#5b9bce 0 246px,#62ceb1 0 248px,#60cebb 0 252px,#62ceb1 0 256px,#60cebb 0 258px,#5ec8c5 0 260px,#62ceb1 0 262px,#60cebb 0 268px,#d8c23b 0 269px,#62ceb1 0 271px,#5ec8c5 0 272px,#c1cf3e 0 275px,#5dc3ce 0 276px,#b4d540 0 277px,#d8c23b 0 281px,#5ec8c5 0 282px,#dfb83e 0 283px,#5dc3ce 0 284px,#5ec8c5 0 285px,#5b7cc4 0 287px,#5ec8c5 0 288px,#5b93cc 0 290px,#5cbdd7 0 292px,#5ec8c5 0 295px,#5dc3ce 0 297px,#5cbdd7 0 298px,#5ec8c5 0 300px,#5cb4d5 0 302px,#5dc3ce 0 304px,#68cc9d 0 305px,#5ec8c5 0 306px,#6bcb93 0 307px,#5dc3ce 0 314px,#5b9bce 0 316px,#5dc3ce 0 317px,#60cebb 0 320px)"></i><i style="left:134.38px;width:19.42px;background:linear-gradient(#5ba3d1 0 1px,#5dc3ce 0 2px,#5ec8c5 0 4px,#60cebb 0 5px,#6bcb93 0 6px,#5dc3ce 0 9px,#5ec8c5 0 11px,#5dc3ce 0 12px,#91cf58 0 13px,#c1cf3e 0 15px,#86ce61 0 17px,#a8d348 0 19px,#b4d540 0 24px,#dfb83e 0 25px,#68cc9d 0 27px,#6bcb93 0 29px,#68cc9d 0 31px,#7fcd6e 0 32px,#60cebb 0 33px,#5ec8c5 0 34px,#5ba3d1 0 36px,#5bacd3 0 38px,#5ba3d1 0 39px,#5bacd3 0 42px,#5cb4d5 0 43px,#5346a7 0 44px,#5cb4d5 0 51px,#78cc7b 0 52px,#5dc3ce 0 53px,#5cb4d5 0 54px,#5dc3ce 0 56px,#5967ba 0 58px,#5cbdd7 0 60px,#5ec8c5 0 63px,#91cf58 0 65px,#5dc3ce 0 66px,#5cb4d5 0 68px,#6bcb93 0 69px,#5cb4d5 0 73px,#5bacd3 0 74px,#5cb4d5 0 77px,#5bacd3 0 79px,#5b93cc 0 82px,#62ceb1 0 83px,#91cf58 0 89px,#78cc7b 0 90px,#9dd150 0 91px,#6bcb93 0 93px,#91cf58 0 94px,#6bcb93 0 95px,#7fcd6e 0 96px,#71cb88 0 99px,#91cf58 0 101px,#86ce61 0 102px,#91cf58 0 103px,#71cb88 0 105px,#5ec8c5 0 106px,#5bacd3 0 108px,#68cc9d 0 111px,#5ba3d1 0 115px,#5bacd3 0 118px,#5cb4d5 0 120px,#5bacd3 0 124px,#5ba3d1 0 125px,#5bacd3 0 126px,#5cb4d5 0 129px,#78cc7b 0 131px,#5cb4d5 0 132px,#68cc9d 0 133px,#5cb4d5 0 135px,#5cbdd7 0 140px,#71cb88 0 141px,#5bacd3 0 142px,#7fcd6e 0 144px,#5cbdd7 0 151px,#5cb4d5 0 152px,#5dc3ce 0 153px,#5ec8c5 0 155px,#78cc7b 0 156px,#5ec8c5 0 157px,#5dc3ce 0 160px,#60cebb 0 163px,#62ceb1 0 164px,#68cc9d 0 166px,#6bcb93 0 168px,#5a6bbc 0 169px,#6bcb93 0 173px,#68cc9d 0 175px,#6bcb93 0 176px,#5b76c1 0 177px,#68cc9d 0 180px,#86ce61 0 182px,#65cda7 0 186px,#68cc9d 0 187px,#65cda7 0 189px,#5cbdd7 0 191px,#62ceb1 0 194px,#60cebb 0 197px,#62ceb1 0 199px,#60cebb 0 201px,#62ceb1 0 202px,#65cda7 0 203px,#60cebb 0 205px,#62ceb1 0 209px,#ebcb42 0 211px,#62ceb1 0 213px,#5cbdd7 0 214px,#62ceb1 0 215px,#5dc3ce 0 216px,#5b9bce 0 218px,#5cbdd7 0 219px,#5dc3ce 0 220px,#78cc7b 0 221px,#5dc3ce 0 222px,#5cbdd7 0 226px,#5dc3ce 0 228px,#68cc9d 0 230px,#5cb4d5 0 233px,#5cbdd7 0 237px,#5dc3ce 0 238px,#5cbdd7 0 239px,#78cc7b 0 240px,#5bacd3 0 243px,#68cc9d 0 244px,#5ba3d1 0 249px,#5bacd3 0 251px,#5cb4d5 0 253px,#5ba3d1 0 256px,#5bacd3 0 258px,#5b7cc4 0 260px,#5bacd3 0 262px,#5ec8c5 0 267px,#5dc3ce 0 270px,#5cbdd7 0 271px,#5ec8c5 0 272px,#5bacd3 0 274px,#5ba3d1 0 276px,#5bacd3 0 278px,#5ba3d1 0 286px,#5cb4d5 0 287px,#65cda7 0 289px,#5bacd3 0 291px,#5cb4d5 0 292px,#60cebb 0 294px,#5ec8c5 0 300px,#5b76c1 0 301px,#5ec8c5 0 302px,#86ce61 0 305px,#60cebb 0 306px,#6bcb93 0 307px,#5ec8c5 0 310px,#6bcb93 0 313px,#60cebb 0 314px,#5ec8c5 0 316px,#6bcb93 0 317px,#7fcd6e 0 319px,#68cc9d 0 320px)"></i><i style="left:153.50px;width:19.42px;background:linear-gradient(#62ceb1 0 9px,#60cebb 0 10px,#62ceb1 0 13px,#60cebb 0 14px,#62ceb1 0 64px,#60cebb 0 65px,#62ceb1 0 71px,#60cebb 0 73px,#62ceb1 0 149px,#60cebb 0 152px,#62ceb1 0 157px,#60cebb 0 162px,#62ceb1 0 192px,#60cebb 0 193px,#62ceb1 0 198px,#60cebb 0 200px,#62ceb1 0 226px,#60cebb 0 229px,#62ceb1 0 231px,#60cebb 0 237px,#62ceb1 0 240px,#60cebb 0 242px,#62ceb1 0 243px,#60cebb 0 247px,#62ceb1 0 260px,#60cebb 0 263px,#62ceb1 0 275px,#60cebb 0 276px,#62ceb1 0 318px,#60cebb 0 320px)"></i><i style="left:172.62px;width:19.42px;background:linear-gradient(#62ceb1 0 12px,#e9b142 0 13px,#62ceb1 0 15px,#e9d744 0 16px,#62ceb1 0 34px,#60cebb 0 36px,#62ceb1 0 83px,#68cc9d 0 85px,#62ceb1 0 87px,#60cebb 0 91px,#62ceb1 0 94px,#86ce61 0 98px,#b4d540 0 101px,#65cda7 0 103px,#71cb88 0 105px,#62ceb1 0 164px,#60cebb 0 167px,#62ceb1 0 265px,#60cebb 0 268px,#62ceb1 0 320px)"></i><i style="left:191.74px;width:19.42px;background:linear-gradient(#62ceb1 0 43px,#60cebb 0 44px,#62ceb1 0 88px,#60cebb 0 96px,#62ceb1 0 99px,#60cebb 0 103px,#62ceb1 0 108px,#60cebb 0 110px,#62ceb1 0 177px,#60cebb 0 181px,#62ceb1 0 183px,#60cebb 0 186px,#62ceb1 0 188px,#60cebb 0 195px,#62ceb1 0 200px,#60cebb 0 203px,#62ceb1 0 208px,#60cebb 0 213px,#62ceb1 0 215px,#60cebb 0 217px,#62ceb1 0 260px,#60cebb 0 261px,#62ceb1 0 315px,#60cebb 0 318px,#62ceb1 0 320px)"></i><i style="left:210.86px;width:19.42px;background:linear-gradient(#60cebb 0 2px,#62ceb1 0 5px,#60cebb 0 7px,#62ceb1 0 12px,#eabe42 0 15px,#c1cf3e 0 16px,#62ceb1 0 46px,#60cebb 0 48px,#62ceb1 0 83px,#e7e346 0 85px,#e5ed49 0 86px,#e9b142 0 89px,#86ce61 0 90px,#a8d348 0 92px,#dfb83e 0 93px,#e5b041 0 95px,#62ceb1 0 97px,#78cc7b 0 99px,#71cb88 0 101px,#e5b041 0 105px,#62ceb1 0 175px,#60cebb 0 176px,#62ceb1 0 179px,#60cebb 0 180px,#62ceb1 0 269px,#60cebb 0 270px,#62ceb1 0 274px,#60cebb 0 276px,#62ceb1 0 279px,#60cebb 0 282px,#62ceb1 0 285px,#60cebb 0 286px,#62ceb1 0 289px,#60cebb 0 291px,#62ceb1 0 294px,#60cebb 0 298px,#62ceb1 0 318px,#60cebb 0 320px)"></i><i style="left:229.98px;width:19.42px;background:linear-gradient(#60cebb 0 5px,#5ec8c5 0 8px,#60cebb 0 9px,#5ec8c5 0 12px,#60cebb 0 14px,#62ceb1 0 17px,#60cebb 0 19px,#5ec8c5 0 21px,#5dc3ce 0 23px,#60cebb 0 25px,#5dc3ce 0 26px,#5b8bc9 0 27px,#5ec8c5 0 28px,#5ba3d1 0 30px,#5ec8c5 0 31px,#60cebb 0 32px,#5cb4d5 0 33px,#5ec8c5 0 35px,#5dc3ce 0 38px,#5ec8c5 0 42px,#68cc9d 0 46px,#65cda7 0 48px,#68cc9d 0 49px,#65cda7 0 53px,#6bcb93 0 55px,#65cda7 0 57px,#68cc9d 0 59px,#5ec8c5 0 61px,#68cc9d 0 63px,#62ceb1 0 65px,#60cebb 0 66px,#71cb88 0 68px,#60cebb 0 76px,#5ec8c5 0 78px,#60cebb 0 84px,#5ec8c5 0 87px,#5cb4d5 0 90px,#5ec8c5 0 94px,#5dc3ce 0 97px,#5ec8c5 0 103px,#60cebb 0 105px,#5dc3ce 0 107px,#60cebb 0 108px,#62ceb1 0 110px,#60cebb 0 112px,#62ceb1 0 115px,#5ba3d1 0 116px,#60cebb 0 124px,#62ceb1 0 125px,#5ba3d1 0 127px,#5ec8c5 0 134px,#60cebb 0 135px,#86ce61 0 138px,#5ec8c5 0 139px,#60cebb 0 147px,#65cda7 0 154px,#62ceb1 0 156px,#65cda7 0 158px,#91cf58 0 160px,#62ceb1 0 171px,#60cebb 0 174px,#5ec8c5 0 178px,#78cc7b 0 179px,#5ec8c5 0 182px,#5b7cc4 0 184px,#5ec8c5 0 185px,#60cebb 0 188px,#62ceb1 0 189px,#65cda7 0 191px,#62ceb1 0 196px,#65cda7 0 197px,#62ceb1 0 198px,#65cda7 0 200px,#62ceb1 0 201px,#65cda7 0 202px,#62ceb1 0 204px,#60cebb 0 208px,#62ceb1 0 210px,#65cda7 0 212px,#62ceb1 0 215px,#65cda7 0 218px,#62ceb1 0 220px,#65cda7 0 226px,#5cb4d5 0 227px,#62ceb1 0 231px,#65cda7 0 233px,#62ceb1 0 241px,#5dc3ce 0 244px,#5ec8c5 0 247px,#5dc3ce 0 254px,#5b8bc9 0 256px,#5ec8c5 0 259px,#60cebb 0 260px,#7fcd6e 0 262px,#6bcb93 0 264px,#68cc9d 0 268px,#5bacd3 0 269px,#68cc9d 0 271px,#6bcb93 0 273px,#65cda7 0 275px,#6bcb93 0 280px,#68cc9d 0 281px,#6bcb93 0 282px,#5bacd3 0 284px,#6bcb93 0 288px,#65cda7 0 289px,#68cc9d 0 290px,#65cda7 0 291px,#62ceb1 0 295px,#65cda7 0 297px,#62ceb1 0 300px,#65cda7 0 302px,#60cebb 0 303px,#a8d348 0 304px,#60cebb 0 306px,#5ec8c5 0 307px,#62ceb1 0 309px,#60cebb 0 313px,#62ceb1 0 315px,#60cebb 0 317px,#5bacd3 0 320px)"></i><i style="left:249.10px;width:19.42px;background:linear-gradient(#68cc9d 0 2px,#5cbdd7 0 3px,#68cc9d 0 6px,#dfb83e 0 7px,#68cc9d 0 12px,#65cda7 0 14px,#68cc9d 0 15px,#5dc3ce 0 17px,#65cda7 0 19px,#62ceb1 0 21px,#71cb88 0 24px,#6bcb93 0 26px,#71cb88 0 27px,#68cc9d 0 28px,#6bcb93 0 30px,#68cc9d 0 32px,#6bcb93 0 35px,#71cb88 0 37px,#6bcb93 0 39px,#71cb88 0 43px,#a8d348 0 44px,#71cb88 0 45px,#60cebb 0 46px,#5ec8c5 0 50px,#60cebb 0 51px,#7fcd6e 0 52px,#60cebb 0 54px,#5cbdd7 0 56px,#6bcb93 0 57px,#68cc9d 0 58px,#5cbdd7 0 60px,#65cda7 0 61px,#68cc9d 0 63px,#6bcb93 0 65px,#68cc9d 0 66px,#65cda7 0 68px,#68cc9d 0 71px,#5bacd3 0 72px,#68cc9d 0 73px,#65cda7 0 74px,#68cc9d 0 75px,#65cda7 0 78px,#68cc9d 0 80px,#dfb83e 0 83px,#5bacd3 0 84px,#5b7cc4 0 85px,#5bacd3 0 86px,#5ba3d1 0 88px,#5b9bce 0 89px,#5b8bc9 0 90px,#5dc3ce 0 93px,#5b93cc 0 94px,#5bacd3 0 98px,#5dc3ce 0 100px,#a8d348 0 102px,#5cb4d5 0 103px,#65cda7 0 106px,#62ceb1 0 107px,#65cda7 0 109px,#5bacd3 0 110px,#65cda7 0 111px,#62ceb1 0 112px,#5cbdd7 0 113px,#5ec8c5 0 115px,#5dc3ce 0 118px,#5b8bc9 0 119px,#5ec8c5 0 120px,#71cb88 0 123px,#5dc3ce 0 124px,#5ec8c5 0 125px,#65cda7 0 127px,#62ceb1 0 132px,#5cb4d5 0 134px,#65cda7 0 136px,#5dc3ce 0 137px,#62ceb1 0 139px,#dfb83e 0 141px,#65cda7 0 142px,#5dc3ce 0 144px,#65cda7 0 150px,#62ceb1 0 152px,#65cda7 0 155px,#5ec8c5 0 158px,#5cb4d5 0 159px,#5ec8c5 0 160px,#5dc3ce 0 163px,#60cebb 0 164px,#62ceb1 0 165px,#5ba3d1 0 166px,#62ceb1 0 167px,#7fcd6e 0 169px,#5ec8c5 0 171px,#5dc3ce 0 172px,#5ba3d1 0 173px,#5ec8c5 0 176px,#60cebb 0 177px,#5cbdd7 0 178px,#5dc3ce 0 179px,#5ec8c5 0 180px,#62ceb1 0 183px,#60cebb 0 186px,#5cb4d5 0 187px,#60cebb 0 189px,#62ceb1 0 191px,#5cbdd7 0 193px,#62ceb1 0 197px,#9dd150 0 198px,#62ceb1 0 199px,#60cebb 0 201px,#62ceb1 0 206px,#71cb88 0 207px,#7fcd6e 0 209px,#6bcb93 0 211px,#5bacd3 0 212px,#6bcb93 0 213px,#71cb88 0 215px,#6bcb93 0 216px,#eabe42 0 217px,#6bcb93 0 219px,#60cebb 0 220px,#71cb88 0 222px,#6bcb93 0 223px,#62ceb1 0 225px,#65cda7 0 226px,#5dc3ce 0 228px,#65cda7 0 231px,#62ceb1 0 232px,#5cbdd7 0 233px,#62ceb1 0 237px,#65cda7 0 240px,#62ceb1 0 245px,#65cda7 0 246px,#62ceb1 0 250px,#65cda7 0 253px,#7fcd6e 0 254px,#62ceb1 0 256px,#68cc9d 0 257px,#5bacd3 0 259px,#65cda7 0 261px,#68cc9d 0 262px,#5b93cc 0 264px,#78cc7b 0 265px,#71cb88 0 272px,#d8c23b 0 274px,#c1cf3e 0 277px,#cec93b 0 278px,#78cc7b 0 279px,#71cb88 0 280px,#5a6bbc 0 281px,#71cb88 0 282px,#9dd150 0 283px,#71cb88 0 286px,#7fcd6e 0 289px,#78cc7b 0 290px,#6bcb93 0 293px,#68cc9d 0 295px,#65cda7 0 297px,#68cc9d 0 303px,#a8d348 0 306px,#65cda7 0 307px,#62ceb1 0 309px,#5ba3d1 0 311px,#62ceb1 0 312px,#60cebb 0 314px,#62ceb1 0 320px)"></i><i style="left:268.22px;width:19.42px;background:linear-gradient(#9dd150 0 2px,#68cc9d 0 4px,#65cda7 0 6px,#5b76c1 0 9px,#5b9bce 0 10px,#5b7cc4 0 12px,#68cc9d 0 13px,#6bcb93 0 15px,#71cb88 0 18px,#5b7cc4 0 19px,#5cb4d5 0 20px,#5b83c6 0 22px,#68cc9d 0 25px,#5b9bce 0 26px,#68cc9d 0 30px,#6bcb93 0 35px,#68cc9d 0 37px,#71cb88 0 39px,#5cbdd7 0 40px,#71cb88 0 42px,#5ec8c5 0 44px,#71cb88 0 46px,#86ce61 0 48px,#71cb88 0 56px,#5ec8c5 0 60px,#5b8bc9 0 61px,#5ec8c5 0 64px,#5b7cc4 0 65px,#5ec8c5 0 66px,#60cebb 0 67px,#5ec8c5 0 68px,#60cebb 0 71px,#62ceb1 0 75px,#60cebb 0 76px,#65cda7 0 80px,#5a71bf 0 81px,#5b8bc9 0 84px,#5cbdd7 0 86px,#5a71bf 0 87px,#5b8bc9 0 89px,#5a71bf 0 91px,#5b8bc9 0 92px,#5ba3d1 0 94px,#65cda7 0 97px,#9dd150 0 98px,#5b76c1 0 99px,#5967ba 0 101px,#5b76c1 0 102px,#68cc9d 0 104px,#65cda7 0 106px,#62ceb1 0 108px,#65cda7 0 109px,#62ceb1 0 110px,#65cda7 0 115px,#5cbdd7 0 116px,#65cda7 0 118px,#6bcb93 0 119px,#5b9bce 0 120px,#6bcb93 0 123px,#68cc9d 0 124px,#5ba3d1 0 125px,#6bcb93 0 126px,#68cc9d 0 128px,#6bcb93 0 129px,#60cebb 0 130px,#c1cf3e 0 132px,#5dc3ce 0 134px,#5ec8c5 0 135px,#5b83c6 0 136px,#60cebb 0 137px,#62ceb1 0 139px,#60cebb 0 140px,#5ba3d1 0 142px,#5ec8c5 0 143px,#5b83c6 0 145px,#62ceb1 0 146px,#5b93cc 0 149px,#5dc3ce 0 151px,#5cbdd7 0 152px,#5dc3ce 0 154px,#71cb88 0 156px,#5ec8c5 0 159px,#6bcb93 0 161px,#60cebb 0 163px,#62ceb1 0 166px,#60cebb 0 170px,#5ec8c5 0 172px,#60cebb 0 173px,#5cb4d5 0 175px,#5cbdd7 0 178px,#5cb4d5 0 179px,#9dd150 0 181px,#5cb4d5 0 183px,#5b8bc9 0 185px,#68cc9d 0 186px,#6bcb93 0 193px,#68cc9d 0 194px,#7fcd6e 0 196px,#68cc9d 0 198px,#60cebb 0 199px,#5ec8c5 0 201px,#60cebb 0 202px,#5cbdd7 0 204px,#60cebb 0 205px,#5cbdd7 0 207px,#5ec8c5 0 208px,#6bcb93 0 211px,#5dc3ce 0 217px,#71cb88 0 219px,#78cc7b 0 221px,#71cb88 0 225px,#5b83c6 0 227px,#78cc7b 0 231px,#68cc9d 0 232px,#65cda7 0 233px,#7fcd6e 0 235px,#65cda7 0 241px,#5ba3d1 0 242px,#62ceb1 0 244px,#71cb88 0 246px,#65cda7 0 251px,#78cc7b 0 252px,#65cda7 0 255px,#68cc9d 0 256px,#cec93b 0 257px,#68cc9d 0 259px,#5cbdd7 0 260px,#68cc9d 0 261px,#5ba3d1 0 262px,#6bcb93 0 267px,#a8d348 0 269px,#6bcb93 0 270px,#71cb88 0 271px,#86ce61 0 272px,#6bcb93 0 277px,#71cb88 0 285px,#78cc7b 0 289px,#86ce61 0 292px,#78cc7b 0 293px,#5dc3ce 0 294px,#71cb88 0 298px,#78cc7b 0 299px,#5cbdd7 0 300px,#78cc7b 0 301px,#5cbdd7 0 302px,#68cc9d 0 304px,#62ceb1 0 306px,#5dc3ce 0 307px,#62ceb1 0 308px,#68cc9d 0 310px,#b4d540 0 312px,#65cda7 0 316px,#86ce61 0 319px,#62ceb1 0 320px)"></i><i style="left:287.34px;width:19.42px;background:linear-gradient(#5ec8c5 0 3px,#5dc3ce 0 7px,#5ec8c5 0 8px,#9dd150 0 11px,#5cbdd7 0 14px,#71cb88 0 15px,#5ec8c5 0 17px,#dfb83e 0 20px,#5dc3ce 0 22px,#5ec8c5 0 27px,#60cebb 0 32px,#5b8bc9 0 33px,#5ec8c5 0 35px,#60cebb 0 39px,#5bacd3 0 40px,#5ec8c5 0 42px,#60cebb 0 43px,#65cda7 0 51px,#5dc3ce 0 52px,#65cda7 0 54px,#86ce61 0 56px,#65cda7 0 58px,#62ceb1 0 66px,#91cf58 0 69px,#62ceb1 0 73px,#68cc9d 0 74px,#5ec8c5 0 76px,#6bcb93 0 77px,#68cc9d 0 80px,#5ec8c5 0 81px,#60cebb 0 84px,#5ec8c5 0 87px,#60cebb 0 89px,#5ec8c5 0 93px,#9dd150 0 94px,#60cebb 0 95px,#7fcd6e 0 97px,#60cebb 0 99px,#6bcb93 0 104px,#5b93cc 0 106px,#68cc9d 0 108px,#6bcb93 0 116px,#7fcd6e 0 117px,#68cc9d 0 119px,#71cb88 0 120px,#5ba3d1 0 123px,#62ceb1 0 124px,#65cda7 0 126px,#5b7cc4 0 128px,#65cda7 0 130px,#62ceb1 0 131px,#5cbdd7 0 133px,#60cebb 0 134px,#62ceb1 0 137px,#71cb88 0 139px,#60cebb 0 141px,#5ec8c5 0 144px,#5dc3ce 0 146px,#5cbdd7 0 147px,#5ec8c5 0 149px,#91cf58 0 150px,#65cda7 0 151px,#5ba3d1 0 153px,#62ceb1 0 154px,#5cbdd7 0 155px,#68cc9d 0 158px,#5dc3ce 0 160px,#68cc9d 0 164px,#65cda7 0 166px,#68cc9d 0 168px,#5b7cc4 0 169px,#65cda7 0 174px,#68cc9d 0 175px,#65cda7 0 177px,#5ec8c5 0 181px,#60cebb 0 182px,#5cbdd7 0 183px,#5ec8c5 0 184px,#60cebb 0 186px,#5ec8c5 0 189px,#5b76c1 0 192px,#5ec8c5 0 193px,#60cebb 0 194px,#78cc7b 0 195px,#60cebb 0 196px,#5ec8c5 0 198px,#5dc3ce 0 201px,#5cb4d5 0 202px,#5ec8c5 0 205px,#5dc3ce 0 209px,#5bacd3 0 211px,#5dc3ce 0 214px,#5cb4d5 0 215px,#5ec8c5 0 216px,#78cc7b 0 217px,#5ec8c5 0 220px,#b4d540 0 221px,#5dc3ce 0 223px,#62ceb1 0 224px,#65cda7 0 228px,#5cb4d5 0 230px,#65cda7 0 232px,#62ceb1 0 236px,#65cda7 0 237px,#62ceb1 0 239px,#65cda7 0 243px,#71cb88 0 246px,#65cda7 0 248px,#5cbdd7 0 249px,#62ceb1 0 252px,#65cda7 0 253px,#5ba3d1 0 256px,#5ec8c5 0 257px,#5bacd3 0 260px,#5ec8c5 0 264px,#5cb4d5 0 266px,#60cebb 0 271px,#5ec8c5 0 272px,#62ceb1 0 273px,#65cda7 0 274px,#5dc3ce 0 277px,#65cda7 0 278px,#60cebb 0 279px,#6bcb93 0 281px,#5ec8c5 0 282px,#60cebb 0 289px,#62ceb1 0 291px,#5bacd3 0 292px,#60cebb 0 293px,#65cda7 0 295px,#5bacd3 0 296px,#68cc9d 0 298px,#6bcb93 0 299px,#86ce61 0 301px,#68cc9d 0 304px,#65cda7 0 305px,#68cc9d 0 306px,#5b93cc 0 307px,#68cc9d 0 308px,#5b9bce 0 309px,#68cc9d 0 313px,#91cf58 0 314px,#68cc9d 0 317px,#65cda7 0 320px)"></i><i style="left:306.46px;width:19.42px;background:linear-gradient(#5b9bce 0 1px,#60cebb 0 10px,#62ceb1 0 11px,#60cebb 0 12px,#5b9bce 0 14px,#6bcb93 0 16px,#5cb4d5 0 18px,#6bcb93 0 20px,#68cc9d 0 30px,#71cb88 0 32px,#6bcb93 0 33px,#5b9bce 0 34px,#68cc9d 0 40px,#9dd150 0 41px,#68cc9d 0 42px,#6bcb93 0 47px,#60cebb 0 50px,#78cc7b 0 52px,#60cebb 0 55px,#62ceb1 0 56px,#5dc3ce 0 58px,#60cebb 0 59px,#62ceb1 0 62px,#60cebb 0 65px,#5bacd3 0 68px,#60cebb 0 70px,#62ceb1 0 75px,#60cebb 0 82px,#5bacd3 0 83px,#60cebb 0 86px,#5ec8c5 0 87px,#5cb4d5 0 88px,#60cebb 0 89px,#5ec8c5 0 90px,#60cebb 0 92px,#62ceb1 0 93px,#5dc3ce 0 95px,#5ec8c5 0 96px,#5962b7 0 97px,#60cebb 0 99px,#62ceb1 0 101px,#5cb4d5 0 102px,#62ceb1 0 104px,#65cda7 0 106px,#5ec8c5 0 108px,#5bacd3 0 109px,#60cebb 0 112px,#5b9bce 0 115px,#5ec8c5 0 116px,#60cebb 0 121px,#5cb4d5 0 123px,#62ceb1 0 124px,#5ec8c5 0 126px,#60cebb 0 127px,#65cda7 0 128px,#5cb4d5 0 131px,#68cc9d 0 133px,#65cda7 0 134px,#6bcb93 0 139px,#5bacd3 0 140px,#6bcb93 0 148px,#5b76c1 0 150px,#68cc9d 0 151px,#6bcb93 0 154px,#68cc9d 0 156px,#6bcb93 0 158px,#68cc9d 0 160px,#65cda7 0 163px,#5b93cc 0 164px,#62ceb1 0 167px,#65cda7 0 168px,#62ceb1 0 169px,#5cbdd7 0 172px,#65cda7 0 175px,#62ceb1 0 176px,#5cbdd7 0 178px,#62ceb1 0 180px,#71cb88 0 182px,#65cda7 0 183px,#68cc9d 0 186px,#62ceb1 0 187px,#5ec8c5 0 190px,#60cebb 0 193px,#5cbdd7 0 196px,#60cebb 0 197px,#b4d540 0 198px,#5ec8c5 0 200px,#5cbdd7 0 202px,#60cebb 0 204px,#5ec8c5 0 209px,#62ceb1 0 211px,#5b9bce 0 213px,#6bcb93 0 215px,#71cb88 0 218px,#68cc9d 0 219px,#5b8bc9 0 222px,#5dc3ce 0 224px,#5cbdd7 0 225px,#6bcb93 0 226px,#5dc3ce 0 232px,#5ec8c5 0 234px,#5cbdd7 0 236px,#5dc3ce 0 238px,#5cbdd7 0 240px,#5dc3ce 0 243px,#5ec8c5 0 244px,#cec93b 0 245px,#65cda7 0 248px,#5dc3ce 0 250px,#65cda7 0 251px,#a8d348 0 254px,#71cb88 0 256px,#6bcb93 0 257px,#5dc3ce 0 258px,#6bcb93 0 260px,#71cb88 0 262px,#6bcb93 0 264px,#71cb88 0 269px,#60cebb 0 270px,#71cb88 0 274px,#5dc3ce 0 275px,#78cc7b 0 276px,#91cf58 0 278px,#68cc9d 0 298px,#71cb88 0 303px,#5cbdd7 0 306px,#6bcb93 0 311px,#71cb88 0 313px,#6bcb93 0 317px,#5cbdd7 0 318px,#5ec8c5 0 319px,#60cebb 0 320px)"></i><i style="left:325.58px;width:19.42px;background:linear-gradient(#65cda7 0 1px,#68cc9d 0 3px,#5b93cc 0 5px,#68cc9d 0 10px,#7fcd6e 0 11px,#68cc9d 0 12px,#65cda7 0 16px,#68cc9d 0 17px,#5cbdd7 0 20px,#65cda7 0 21px,#60cebb 0 23px,#65cda7 0 27px,#5dc3ce 0 28px,#62ceb1 0 29px,#78cc7b 0 30px,#60cebb 0 31px,#5cbdd7 0 33px,#62ceb1 0 34px,#68cc9d 0 36px,#a8d348 0 37px,#60cebb 0 38px,#65cda7 0 39px,#6bcb93 0 40px,#5ec8c5 0 41px,#68cc9d 0 45px,#65cda7 0 48px,#68cc9d 0 53px,#6bcb93 0 54px,#65cda7 0 55px,#7fcd6e 0 58px,#65cda7 0 59px,#78cc7b 0 61px,#68cc9d 0 65px,#71cb88 0 67px,#68cc9d 0 69px,#6bcb93 0 71px,#68cc9d 0 76px,#6bcb93 0 78px,#68cc9d 0 88px,#5ec8c5 0 89px,#68cc9d 0 92px,#6bcb93 0 94px,#65cda7 0 98px,#86ce61 0 99px,#68cc9d 0 100px,#6bcb93 0 101px,#5cb4d5 0 104px,#68cc9d 0 106px,#5bacd3 0 109px,#71cb88 0 110px,#68cc9d 0 112px,#6bcb93 0 113px,#5ec8c5 0 114px,#68cc9d 0 117px,#6bcb93 0 121px,#60cebb 0 123px,#6bcb93 0 124px,#71cb88 0 126px,#68cc9d 0 129px,#6bcb93 0 133px,#65cda7 0 134px,#6bcb93 0 135px,#68cc9d 0 137px,#6bcb93 0 138px,#9dd150 0 140px,#6bcb93 0 141px,#68cc9d 0 143px,#5b8bc9 0 144px,#6bcb93 0 145px,#5ec8c5 0 147px,#71cb88 0 149px,#68cc9d 0 151px,#6bcb93 0 155px,#5ec8c5 0 157px,#68cc9d 0 158px,#65cda7 0 173px,#5b9bce 0 175px,#60cebb 0 178px,#5ec8c5 0 182px,#5b9bce 0 183px,#5ec8c5 0 184px,#d8c23b 0 187px,#65cda7 0 189px,#62ceb1 0 195px,#65cda7 0 196px,#62ceb1 0 198px,#65cda7 0 199px,#62ceb1 0 201px,#65cda7 0 210px,#62ceb1 0 212px,#5cb4d5 0 213px,#65cda7 0 216px,#5dc3ce 0 219px,#60cebb 0 220px,#71cb88 0 221px,#5ec8c5 0 223px,#60cebb 0 224px,#91cf58 0 225px,#60cebb 0 226px,#86ce61 0 228px,#60cebb 0 231px,#5ec8c5 0 232px,#60cebb 0 234px,#5ec8c5 0 236px,#60cebb 0 237px,#5ec8c5 0 239px,#60cebb 0 242px,#65cda7 0 243px,#5dc3ce 0 245px,#65cda7 0 250px,#68cc9d 0 253px,#65cda7 0 254px,#62ceb1 0 255px,#5ec8c5 0 256px,#65cda7 0 261px,#62ceb1 0 263px,#65cda7 0 265px,#62ceb1 0 266px,#60cebb 0 274px,#62ceb1 0 277px,#65cda7 0 278px,#91cf58 0 280px,#62ceb1 0 282px,#60cebb 0 285px,#71cb88 0 293px,#cec93b 0 295px,#6bcb93 0 296px,#71cb88 0 300px,#5ba3d1 0 301px,#71cb88 0 304px,#6bcb93 0 307px,#65cda7 0 312px,#b4d540 0 315px,#65cda7 0 318px,#78cc7b 0 319px,#68cc9d 0 320px)"></i><i style="left:344.70px;width:19.42px;background:linear-gradient(#60cebb 0 4px,#62ceb1 0 6px,#7fcd6e 0 9px,#60cebb 0 11px,#5ec8c5 0 14px,#5cb4d5 0 16px,#65cda7 0 18px,#62ceb1 0 24px,#5dc3ce 0 25px,#62ceb1 0 26px,#71cb88 0 27px,#62ceb1 0 32px,#5b83c6 0 33px,#65cda7 0 45px,#5ec8c5 0 47px,#5cbdd7 0 50px,#5ec8c5 0 53px,#6bcb93 0 54px,#5ec8c5 0 55px,#5cbdd7 0 58px,#5ec8c5 0 61px,#60cebb 0 62px,#5ec8c5 0 68px,#60cebb 0 69px,#5ec8c5 0 70px,#60cebb 0 72px,#5ec8c5 0 73px,#60cebb 0 74px,#68cc9d 0 75px,#65cda7 0 76px,#62ceb1 0 79px,#65cda7 0 80px,#78cc7b 0 83px,#71cb88 0 85px,#78cc7b 0 86px,#5ec8c5 0 87px,#5dc3ce 0 89px,#5ec8c5 0 92px,#5dc3ce 0 93px,#60cebb 0 95px,#5ec8c5 0 96px,#5dc3ce 0 100px,#60cebb 0 102px,#5dc3ce 0 103px,#5ec8c5 0 105px,#5dc3ce 0 107px,#65cda7 0 109px,#78cc7b 0 110px,#68cc9d 0 114px,#65cda7 0 115px,#60cebb 0 116px,#62ceb1 0 127px,#60cebb 0 129px,#62ceb1 0 133px,#5ec8c5 0 134px,#60cebb 0 136px,#65cda7 0 140px,#62ceb1 0 142px,#68cc9d 0 143px,#5b9bce 0 144px,#65cda7 0 145px,#7fcd6e 0 146px,#65cda7 0 148px,#60cebb 0 151px,#62ceb1 0 153px,#5ec8c5 0 159px,#5dc3ce 0 160px,#62ceb1 0 162px,#65cda7 0 166px,#5ec8c5 0 167px,#60cebb 0 168px,#5b83c6 0 169px,#60cebb 0 172px,#5dc3ce 0 174px,#5ec8c5 0 180px,#5cb4d5 0 182px,#6bcb93 0 183px,#71cb88 0 185px,#6bcb93 0 196px,#71cb88 0 197px,#6bcb93 0 199px,#71cb88 0 204px,#6bcb93 0 205px,#60cebb 0 210px,#62ceb1 0 212px,#5ec8c5 0 215px,#62ceb1 0 216px,#5ec8c5 0 219px,#7fcd6e 0 220px,#60cebb 0 223px,#5cb4d5 0 226px,#68cc9d 0 228px,#62ceb1 0 231px,#68cc9d 0 232px,#7fcd6e 0 234px,#68cc9d 0 236px,#65cda7 0 238px,#62ceb1 0 240px,#5cb4d5 0 241px,#65cda7 0 243px,#68cc9d 0 244px,#7fcd6e 0 246px,#65cda7 0 247px,#91cf58 0 249px,#65cda7 0 250px,#68cc9d 0 252px,#65cda7 0 256px,#6bcb93 0 257px,#71cb88 0 258px,#6bcb93 0 262px,#78cc7b 0 263px,#71cb88 0 267px,#6bcb93 0 269px,#7fcd6e 0 270px,#71cb88 0 272px,#6bcb93 0 281px,#71cb88 0 286px,#6bcb93 0 288px,#60cebb 0 289px,#68cc9d 0 294px,#5a6bbc 0 295px,#68cc9d 0 297px,#a8d348 0 298px,#68cc9d 0 303px,#65cda7 0 304px,#60cebb 0 305px,#b4d540 0 307px,#65cda7 0 308px,#6bcb93 0 310px,#65cda7 0 313px,#68cc9d 0 314px,#86ce61 0 315px,#68cc9d 0 317px,#6bcb93 0 318px,#5bacd3 0 319px,#68cc9d 0 320px)"></i><i style="left:363.82px;width:19.42px;background:linear-gradient(#60cebb 0 6px,#5cbdd7 0 8px,#60cebb 0 9px,#62ceb1 0 10px,#91cf58 0 11px,#60cebb 0 12px,#71cb88 0 14px,#5dc3ce 0 15px,#5cbdd7 0 17px,#78cc7b 0 18px,#5cbdd7 0 20px,#78cc7b 0 22px,#5dc3ce 0 23px,#5cbdd7 0 24px,#5b9bce 0 26px,#5cbdd7 0 30px,#5ec8c5 0 31px,#554dab 0 32px,#5cbdd7 0 33px,#5b83c6 0 34px,#5dc3ce 0 36px,#6bcb93 0 37px,#78cc7b 0 40px,#6bcb93 0 44px,#68cc9d 0 46px,#6bcb93 0 51px,#68cc9d 0 53px,#6bcb93 0 58px,#91cf58 0 60px,#5dc3ce 0 66px,#5ec8c5 0 68px,#5cbdd7 0 69px,#5ec8c5 0 71px,#5dc3ce 0 77px,#5ec8c5 0 83px,#5dc3ce 0 85px,#5ec8c5 0 89px,#78cc7b 0 91px,#5dc3ce 0 93px,#5ec8c5 0 94px,#60cebb 0 98px,#62ceb1 0 106px,#65cda7 0 109px,#62ceb1 0 111px,#65cda7 0 113px,#71cb88 0 114px,#62ceb1 0 115px,#6bcb93 0 119px,#5dc3ce 0 121px,#71cb88 0 123px,#5cbdd7 0 124px,#5bacd3 0 125px,#5cb4d5 0 131px,#5cbdd7 0 134px,#5dc3ce 0 136px,#5ec8c5 0 137px,#5dc3ce 0 138px,#5cb4d5 0 140px,#5ec8c5 0 141px,#62ceb1 0 142px,#60cebb 0 144px,#62ceb1 0 147px,#60cebb 0 157px,#62ceb1 0 160px,#5ec8c5 0 163px,#71cb88 0 164px,#5ec8c5 0 165px,#cec93b 0 166px,#60cebb 0 167px,#5ec8c5 0 169px,#65cda7 0 171px,#68cc9d 0 172px,#65cda7 0 177px,#68cc9d 0 180px,#6bcb93 0 184px,#62ceb1 0 186px,#60cebb 0 189px,#62ceb1 0 193px,#7fcd6e 0 194px,#c1cf3e 0 195px,#7fcd6e 0 201px,#78cc7b 0 203px,#7fcd6e 0 207px,#78cc7b 0 209px,#86ce61 0 211px,#7fcd6e 0 216px,#78cc7b 0 218px,#7fcd6e 0 219px,#62ceb1 0 222px,#60cebb 0 225px,#5ec8c5 0 229px,#5dc3ce 0 231px,#5ec8c5 0 233px,#78cc7b 0 234px,#5ec8c5 0 237px,#65cda7 0 238px,#62ceb1 0 240px,#68cc9d 0 242px,#65cda7 0 243px,#60cebb 0 244px,#5cb4d5 0 247px,#62ceb1 0 249px,#60cebb 0 250px,#62ceb1 0 252px,#65cda7 0 253px,#5cbdd7 0 254px,#65cda7 0 255px,#b4d540 0 257px,#6bcb93 0 259px,#68cc9d 0 268px,#6bcb93 0 271px,#68cc9d 0 272px,#5cbdd7 0 274px,#68cc9d 0 276px,#71cb88 0 278px,#5ec8c5 0 280px,#6bcb93 0 281px,#5ec8c5 0 282px,#60cebb 0 283px,#5ec8c5 0 285px,#60cebb 0 287px,#71cb88 0 289px,#60cebb 0 293px,#5ec8c5 0 296px,#60cebb 0 297px,#68cc9d 0 299px,#6bcb93 0 300px,#65cda7 0 303px,#68cc9d 0 304px,#65cda7 0 305px,#68cc9d 0 307px,#9dd150 0 310px,#62ceb1 0 313px,#5ec8c5 0 320px)"></i><i style="left:382.94px;width:19.42px;background:linear-gradient(#5dc3ce 0 8px,#5ec8c5 0 9px,#5cbdd7 0 10px,#5ec8c5 0 12px,#5cbdd7 0 13px,#5dc3ce 0 19px,#5ec8c5 0 21px,#60cebb 0 23px,#62ceb1 0 24px,#60cebb 0 28px,#62ceb1 0 31px,#60cebb 0 38px,#62ceb1 0 41px,#60cebb 0 43px,#5ec8c5 0 44px,#5dc3ce 0 45px,#60cebb 0 47px,#5ec8c5 0 49px,#60cebb 0 52px,#5ec8c5 0 55px,#60cebb 0 60px,#86ce61 0 61px,#5ec8c5 0 65px,#78cc7b 0 66px,#60cebb 0 67px,#5ec8c5 0 68px,#68cc9d 0 69px,#5cbdd7 0 72px,#68cc9d 0 73px,#62ceb1 0 74px,#5cb4d5 0 76px,#60cebb 0 77px,#62ceb1 0 79px,#78cc7b 0 80px,#60cebb 0 83px,#62ceb1 0 85px,#60cebb 0 93px,#62ceb1 0 95px,#6bcb93 0 96px,#5dc3ce 0 105px,#60cebb 0 112px,#b4d540 0 114px,#60cebb 0 115px,#62ceb1 0 118px,#60cebb 0 120px,#5962b7 0 123px,#62ceb1 0 125px,#5ec8c5 0 127px,#5dc3ce 0 128px,#5ec8c5 0 130px,#5b8bc9 0 132px,#60cebb 0 133px,#5ec8c5 0 134px,#60cebb 0 135px,#5ec8c5 0 136px,#78cc7b 0 139px,#62ceb1 0 140px,#60cebb 0 142px,#71cb88 0 145px,#60cebb 0 151px,#5bacd3 0 154px,#60cebb 0 155px,#5ec8c5 0 157px,#60cebb 0 159px,#5cbdd7 0 160px,#5ec8c5 0 167px,#60cebb 0 169px,#5cb4d5 0 170px,#5ec8c5 0 176px,#60cebb 0 178px,#5ec8c5 0 181px,#60cebb 0 182px,#5ec8c5 0 187px,#62ceb1 0 188px,#5cbdd7 0 191px,#62ceb1 0 194px,#68cc9d 0 196px,#65cda7 0 197px,#68cc9d 0 198px,#65cda7 0 200px,#78cc7b 0 202px,#6bcb93 0 203px,#5cb4d5 0 204px,#5cbdd7 0 206px,#6bcb93 0 208px,#5cb4d5 0 210px,#5cbdd7 0 215px,#5cb4d5 0 218px,#5cbdd7 0 220px,#5b93cc 0 221px,#5dc3ce 0 222px,#5b7cc4 0 223px,#5dc3ce 0 224px,#62ceb1 0 227px,#60cebb 0 228px,#5b83c6 0 230px,#60cebb 0 231px,#5ec8c5 0 232px,#5cbdd7 0 233px,#5ec8c5 0 237px,#60cebb 0 241px,#5ec8c5 0 242px,#5b83c6 0 243px,#5ec8c5 0 246px,#60cebb 0 247px,#5dc3ce 0 249px,#86ce61 0 250px,#5cbdd7 0 256px,#5ec8c5 0 257px,#5dc3ce 0 261px,#5ec8c5 0 263px,#5dc3ce 0 264px,#5bacd3 0 267px,#62ceb1 0 271px,#68cc9d 0 273px,#5ba3d1 0 274px,#68cc9d 0 278px,#65cda7 0 280px,#68cc9d 0 281px,#62ceb1 0 283px,#65cda7 0 284px,#68cc9d 0 285px,#65cda7 0 287px,#68cc9d 0 288px,#6bcb93 0 293px,#68cc9d 0 297px,#65cda7 0 300px,#7fcd6e 0 302px,#68cc9d 0 304px,#78cc7b 0 306px,#62ceb1 0 307px,#65cda7 0 312px,#62ceb1 0 314px,#65cda7 0 316px,#62ceb1 0 317px,#65cda7 0 319px,#62ceb1 0 320px)"></i><i style="left:402.06px;width:19.42px;background:linear-gradient(#62ceb1 0 2px,#5b7cc4 0 5px,#65cda7 0 7px,#78cc7b 0 9px,#60cebb 0 18px,#62ceb1 0 21px,#60cebb 0 23px,#62ceb1 0 27px,#5ec8c5 0 29px,#62ceb1 0 31px,#60cebb 0 33px,#62ceb1 0 35px,#65cda7 0 36px,#62ceb1 0 39px,#65cda7 0 43px,#62ceb1 0 45px,#65cda7 0 46px,#5bacd3 0 48px,#62ceb1 0 49px,#5ec8c5 0 52px,#5dc3ce 0 56px,#60cebb 0 58px,#5ec8c5 0 66px,#5b83c6 0 68px,#5ec8c5 0 74px,#65cda7 0 75px,#71cb88 0 76px,#65cda7 0 79px,#5cbdd7 0 81px,#65cda7 0 83px,#62ceb1 0 84px,#65cda7 0 87px,#86ce61 0 89px,#65cda7 0 90px,#5dc3ce 0 92px,#65cda7 0 95px,#62ceb1 0 96px,#5ba3d1 0 97px,#62ceb1 0 98px,#65cda7 0 102px,#5ec8c5 0 108px,#5ba3d1 0 109px,#5ec8c5 0 110px,#62ceb1 0 119px,#e5b041 0 121px,#62ceb1 0 124px,#5b93cc 0 125px,#62ceb1 0 129px,#60cebb 0 133px,#5b8bc9 0 136px,#62ceb1 0 137px,#65cda7 0 139px,#62ceb1 0 150px,#5ec8c5 0 151px,#5bacd3 0 152px,#5ec8c5 0 155px,#5b93cc 0 157px,#62ceb1 0 160px,#60cebb 0 161px,#62ceb1 0 165px,#60cebb 0 169px,#5dc3ce 0 170px,#62ceb1 0 171px,#60cebb 0 176px,#5cb4d5 0 177px,#68cc9d 0 179px,#5b9bce 0 180px,#65cda7 0 182px,#5cbdd7 0 183px,#6bcb93 0 184px,#91cf58 0 186px,#65cda7 0 189px,#68cc9d 0 199px,#65cda7 0 200px,#5cbdd7 0 203px,#65cda7 0 206px,#60cebb 0 209px,#62ceb1 0 210px,#65cda7 0 211px,#5b93cc 0 213px,#62ceb1 0 219px,#86ce61 0 220px,#62ceb1 0 221px,#60cebb 0 223px,#62ceb1 0 224px,#65cda7 0 226px,#60cebb 0 228px,#68cc9d 0 229px,#6bcb93 0 230px,#5b8bc9 0 232px,#68cc9d 0 233px,#6bcb93 0 234px,#86ce61 0 236px,#68cc9d 0 240px,#71cb88 0 241px,#5b9bce 0 244px,#68cc9d 0 246px,#6bcb93 0 247px,#60cebb 0 248px,#5ec8c5 0 251px,#60cebb 0 253px,#5ec8c5 0 255px,#60cebb 0 256px,#65cda7 0 257px,#62ceb1 0 263px,#5dc3ce 0 265px,#62ceb1 0 266px,#60cebb 0 269px,#c1cf3e 0 272px,#62ceb1 0 273px,#65cda7 0 274px,#5ec8c5 0 275px,#62ceb1 0 276px,#65cda7 0 285px,#7fcd6e 0 286px,#68cc9d 0 289px,#5ec8c5 0 290px,#71cb88 0 302px,#78cc7b 0 304px,#68cc9d 0 306px,#5cbdd7 0 308px,#cec93b 0 311px,#5dc3ce 0 312px,#5cbdd7 0 314px,#5dc3ce 0 316px,#5ec8c5 0 318px,#65cda7 0 320px)"></i><i style="left:421.18px;width:19.42px;background:linear-gradient(#65cda7 0 6px,#62ceb1 0 11px,#65cda7 0 15px,#5dc3ce 0 23px,#78cc7b 0 24px,#5ec8c5 0 25px,#6bcb93 0 26px,#5dc3ce 0 28px,#5ec8c5 0 37px,#86ce61 0 38px,#5ec8c5 0 41px,#5b8bc9 0 43px,#60cebb 0 45px,#78cc7b 0 46px,#5ec8c5 0 48px,#60cebb 0 51px,#5ec8c5 0 59px,#60cebb 0 67px,#62ceb1 0 69px,#60cebb 0 71px,#62ceb1 0 72px,#a8d348 0 73px,#60cebb 0 76px,#71cb88 0 77px,#60cebb 0 82px,#9dd150 0 83px,#60cebb 0 84px,#5cbdd7 0 86px,#5dc3ce 0 89px,#65cda7 0 95px,#62ceb1 0 97px,#65cda7 0 99px,#60cebb 0 103px,#62ceb1 0 104px,#e9b142 0 105px,#5ec8c5 0 107px,#60cebb 0 112px,#5ec8c5 0 113px,#5cbdd7 0 114px,#5ec8c5 0 115px,#b4d540 0 116px,#60cebb 0 122px,#5ec8c5 0 130px,#60cebb 0 132px,#86ce61 0 134px,#60cebb 0 136px,#5ec8c5 0 138px,#60cebb 0 141px,#b4d540 0 142px,#60cebb 0 149px,#7fcd6e 0 152px,#60cebb 0 156px,#65cda7 0 157px,#68cc9d 0 159px,#65cda7 0 160px,#62ceb1 0 161px,#65cda7 0 164px,#62ceb1 0 166px,#78cc7b 0 167px,#62ceb1 0 169px,#5dc3ce 0 170px,#62ceb1 0 171px,#65cda7 0 174px,#62ceb1 0 176px,#60cebb 0 178px,#65cda7 0 183px,#5b9bce 0 184px,#62ceb1 0 188px,#65cda7 0 193px,#5dc3ce 0 195px,#65cda7 0 196px,#62ceb1 0 200px,#68cc9d 0 202px,#65cda7 0 204px,#5dc3ce 0 215px,#5ec8c5 0 217px,#5cbdd7 0 219px,#5dc3ce 0 220px,#5cbdd7 0 222px,#62ceb1 0 223px,#65cda7 0 226px,#9dd150 0 229px,#65cda7 0 234px,#86ce61 0 235px,#65cda7 0 241px,#7fcd6e 0 242px,#65cda7 0 253px,#62ceb1 0 254px,#68cc9d 0 255px,#65cda7 0 256px,#68cc9d 0 257px,#6bcb93 0 258px,#65cda7 0 260px,#68cc9d 0 262px,#dfb83e 0 264px,#68cc9d 0 266px,#65cda7 0 268px,#68cc9d 0 270px,#62ceb1 0 271px,#68cc9d 0 276px,#62ceb1 0 282px,#60cebb 0 286px,#62ceb1 0 290px,#60cebb 0 292px,#62ceb1 0 293px,#60cebb 0 296px,#62ceb1 0 299px,#60cebb 0 300px,#5bacd3 0 301px,#60cebb 0 304px,#5dc3ce 0 306px,#5ec8c5 0 313px,#62ceb1 0 316px,#60cebb 0 319px,#65cda7 0 320px)"></i><i style="left:440.30px;width:19.42px;background:linear-gradient(#5dc3ce 0 3px,#71cb88 0 6px,#5cbdd7 0 7px,#91cf58 0 8px,#62ceb1 0 13px,#60cebb 0 14px,#62ceb1 0 16px,#7fcd6e 0 17px,#60cebb 0 18px,#5ec8c5 0 20px,#71cb88 0 23px,#60cebb 0 24px,#5ec8c5 0 28px,#5cbdd7 0 29px,#60cebb 0 30px,#5ec8c5 0 31px,#5dc3ce 0 34px,#5b83c6 0 35px,#5dc3ce 0 36px,#5ec8c5 0 37px,#91cf58 0 38px,#5cbdd7 0 39px,#5cb4d5 0 42px,#5dc3ce 0 52px,#71cb88 0 53px,#5dc3ce 0 54px,#62ceb1 0 55px,#5ba3d1 0 56px,#65cda7 0 57px,#60cebb 0 58px,#9dd150 0 59px,#60cebb 0 60px,#62ceb1 0 63px,#91cf58 0 64px,#62ceb1 0 69px,#78cc7b 0 72px,#71cb88 0 77px,#78cc7b 0 80px,#71cb88 0 82px,#78cc7b 0 83px,#b4d540 0 84px,#78cc7b 0 89px,#71cb88 0 92px,#65cda7 0 93px,#eabe42 0 94px,#6bcb93 0 95px,#5b9bce 0 96px,#68cc9d 0 98px,#5b7cc4 0 100px,#65cda7 0 102px,#6bcb93 0 103px,#5756b0 0 106px,#68cc9d 0 108px,#65cda7 0 110px,#68cc9d 0 111px,#65cda7 0 112px,#e5b041 0 115px,#65cda7 0 120px,#60cebb 0 126px,#62ceb1 0 128px,#60cebb 0 131px,#71cb88 0 132px,#62ceb1 0 134px,#60cebb 0 136px,#65cda7 0 139px,#60cebb 0 142px,#91cf58 0 144px,#60cebb 0 146px,#62ceb1 0 148px,#5b83c6 0 149px,#62ceb1 0 150px,#5cb4d5 0 151px,#62ceb1 0 153px,#60cebb 0 158px,#62ceb1 0 159px,#68cc9d 0 160px,#65cda7 0 161px,#62ceb1 0 162px,#5cbdd7 0 163px,#62ceb1 0 165px,#60cebb 0 169px,#65cda7 0 172px,#68cc9d 0 173px,#60cebb 0 174px,#5dc3ce 0 179px,#5bacd3 0 180px,#60cebb 0 182px,#5ec8c5 0 188px,#5dc3ce 0 190px,#5cbdd7 0 191px,#5ec8c5 0 192px,#62ceb1 0 194px,#60cebb 0 196px,#5b83c6 0 198px,#60cebb 0 199px,#62ceb1 0 200px,#60cebb 0 203px,#62ceb1 0 204px,#5cb4d5 0 205px,#60cebb 0 207px,#e5b041 0 209px,#71cb88 0 210px,#7fcd6e 0 212px,#71cb88 0 213px,#78cc7b 0 216px,#71cb88 0 218px,#6bcb93 0 220px,#71cb88 0 223px,#62ceb1 0 225px,#71cb88 0 226px,#62ceb1 0 227px,#60cebb 0 229px,#5ba3d1 0 230px,#60cebb 0 231px,#65cda7 0 232px,#62ceb1 0 234px,#65cda7 0 235px,#68cc9d 0 238px,#60cebb 0 241px,#71cb88 0 242px,#86ce61 0 244px,#6bcb93 0 249px,#71cb88 0 250px,#65cda7 0 256px,#6bcb93 0 257px,#71cb88 0 259px,#68cc9d 0 261px,#6bcb93 0 269px,#68cc9d 0 270px,#71cb88 0 272px,#68cc9d 0 274px,#6bcb93 0 276px,#68cc9d 0 278px,#65cda7 0 284px,#68cc9d 0 285px,#5dc3ce 0 288px,#71cb88 0 296px,#78cc7b 0 297px,#71cb88 0 299px,#5cb4d5 0 300px,#6bcb93 0 302px,#65cda7 0 303px,#5cbdd7 0 304px,#62ceb1 0 307px,#60cebb 0 309px,#62ceb1 0 310px,#60cebb 0 311px,#5cb4d5 0 313px,#60cebb 0 316px,#71cb88 0 317px,#62ceb1 0 319px,#60cebb 0 320px)"></i></div>
<svg width="2168" height="1164" viewBox="0 0 2168 1164" fill="none">
<defs><linearGradient id="cb" x1="0" y1="0" x2="0" y2="1"><stop offset="0.000" stop-color="#e5ee4a"/><stop offset="0.065" stop-color="#e6ec48"/><stop offset="0.120" stop-color="#ebcb42"/><stop offset="0.170" stop-color="#e8ab42"/><stop offset="0.230" stop-color="#d5c63a"/><stop offset="0.280" stop-color="#b4d540"/><stop offset="0.355" stop-color="#88ce5e"/><stop offset="0.430" stop-color="#6dcb8e"/><stop offset="0.515" stop-color="#60cfb9"/><stop offset="0.580" stop-color="#5cbdd7"/><stop offset="0.655" stop-color="#5b9dcf"/><stop offset="0.730" stop-color="#5b7fc5"/><stop offset="0.800" stop-color="#5a6bbc"/><stop offset="0.870" stop-color="#585cb4"/><stop offset="0.940" stop-color="#554dab"/><stop offset="1.000" stop-color="#5243a5"/></linearGradient></defs>
<rect x="111.70" y="52.50" width="457.10" height="320.10" fill="none" stroke="#1a1a1a" stroke-width="3.40"/>
<path d="M113.20 132.53L119.00 132.53" stroke="#1a1a1a" stroke-width="3.00"/>
<path d="M567.30 132.53L561.50 132.53" stroke="#1a1a1a" stroke-width="3.00"/>
<path d="M113.20 212.55L119.00 212.55" stroke="#1a1a1a" stroke-width="3.00"/>
<path d="M567.30 212.55L561.50 212.55" stroke="#1a1a1a" stroke-width="3.00"/>
<path d="M113.20 292.58L119.00 292.58" stroke="#1a1a1a" stroke-width="3.00"/>
<path d="M567.30 292.58L561.50 292.58" stroke="#1a1a1a" stroke-width="3.00"/>
<path d="M294.59 54.00L294.59 57.20" stroke="#1a1a1a" stroke-width="2.60"/>
<path d="M294.59 371.10L294.59 367.90" stroke="#1a1a1a" stroke-width="2.60"/>
<path d="M476.89 54.00L476.89 57.20" stroke="#1a1a1a" stroke-width="2.60"/>
<path d="M476.89 371.10L476.89 367.90" stroke="#1a1a1a" stroke-width="2.60"/>
<text transform="translate(96.50 65.23) scale(1.000 1.080)" font-size="30.40" text-anchor="end">1</text>
<text transform="translate(97.80 145.25) scale(1.000 1.080)" font-size="30.40" text-anchor="end">1140</text>
<text transform="translate(97.80 225.28) scale(1.000 1.080)" font-size="30.40" text-anchor="end">2280</text>
<text transform="translate(97.80 305.30) scale(1.000 1.080)" font-size="30.40" text-anchor="end">3420</text>
<text transform="translate(97.80 385.33) scale(1.000 1.080)" font-size="30.40" text-anchor="end">4560</text>
<text transform="translate(119.30 413.23) scale(1.000 1.080)" font-size="30.40" text-anchor="middle">0</text>
<text transform="translate(291.00 413.23) scale(1.000 1.080)" font-size="30.40" text-anchor="middle">2</text>
<text transform="translate(469.30 413.23) scale(1.000 1.080)" font-size="30.40" text-anchor="middle">4</text>
<text transform="translate(330.00 467.60) scale(1.030 1.040)" font-size="33.00" text-anchor="middle">Time(s)</text>
<text transform="translate(107.70 27.60) scale(1.000 1.080)" font-size="31.60" text-anchor="start">S1</text>
<rect x="818.00" y="52.50" width="457.30" height="320.10" fill="none" stroke="#1a1a1a" stroke-width="3.40"/>
<path d="M819.50 132.53L825.30 132.53" stroke="#1a1a1a" stroke-width="3.00"/>
<path d="M1273.80 132.53L1268.00 132.53" stroke="#1a1a1a" stroke-width="3.00"/>
<path d="M819.50 212.55L825.30 212.55" stroke="#1a1a1a" stroke-width="3.00"/>
<path d="M1273.80 212.55L1268.00 212.55" stroke="#1a1a1a" stroke-width="3.00"/>
<path d="M819.50 292.58L825.30 292.58" stroke="#1a1a1a" stroke-width="3.00"/>
<path d="M1273.80 292.58L1268.00 292.58" stroke="#1a1a1a" stroke-width="3.00"/>
<path d="M1000.97 54.00L1000.97 57.20" stroke="#1a1a1a" stroke-width="2.60"/>
<path d="M1000.97 371.10L1000.97 367.90" stroke="#1a1a1a" stroke-width="2.60"/>
<path d="M1183.35 54.00L1183.35 57.20" stroke="#1a1a1a" stroke-width="2.60"/>
<path d="M1183.35 371.10L1183.35 367.90" stroke="#1a1a1a" stroke-width="2.60"/>
<text transform="translate(805.00 65.23) scale(1.000 1.080)" font-size="30.40" text-anchor="end">1</text>
<text transform="translate(806.50 145.25) scale(1.000 1.080)" font-size="30.40" text-anchor="end">1080</text>
<text transform="translate(806.50 225.28) scale(1.000 1.080)" font-size="30.40" text-anchor="end">2160</text>
<text transform="translate(806.50 305.30) scale(1.000 1.080)" font-size="30.40" text-anchor="end">3240</text>
<text transform="translate(806.50 385.33) scale(1.000 1.080)" font-size="30.40" text-anchor="end">4320</text>
<text transform="translate(833.40 413.23) scale(1.000 1.080)" font-size="30.40" text-anchor="middle">0</text>
<text transform="translate(1004.40 413.23) scale(1.000 1.080)" font-size="30.40" text-anchor="middle">2</text>
<text transform="translate(1182.40 413.23) scale(1.000 1.080)" font-size="30.40" text-anchor="middle">4</text>
<text transform="translate(1036.30 467.60) scale(1.030 1.040)" font-size="33.00" text-anchor="middle">Time(s)</text>
<text transform="translate(811.70 27.60) scale(1.000 1.080)" font-size="31.60" text-anchor="start">S2</text>
<rect x="1536.70" y="45.70" width="455.90" height="320.10" fill="none" stroke="#1a1a1a" stroke-width="3.40"/>
<path d="M1538.20 125.73L1544.00 125.73" stroke="#1a1a1a" stroke-width="3.00"/>
<path d="M1991.10 125.73L1985.30 125.73" stroke="#1a1a1a" stroke-width="3.00"/>
<path d="M1538.20 205.75L1544.00 205.75" stroke="#1a1a1a" stroke-width="3.00"/>
<path d="M1991.10 205.75L1985.30 205.75" stroke="#1a1a1a" stroke-width="3.00"/>
<path d="M1538.20 285.78L1544.00 285.78" stroke="#1a1a1a" stroke-width="3.00"/>
<path d="M1991.10 285.78L1985.30 285.78" stroke="#1a1a1a" stroke-width="3.00"/>
<path d="M1719.11 47.20L1719.11 50.40" stroke="#1a1a1a" stroke-width="2.60"/>
<path d="M1719.11 364.30L1719.11 361.10" stroke="#1a1a1a" stroke-width="2.60"/>
<path d="M1900.93 47.20L1900.93 50.40" stroke="#1a1a1a" stroke-width="2.60"/>
<path d="M1900.93 364.30L1900.93 361.10" stroke="#1a1a1a" stroke-width="2.60"/>
<text transform="translate(1527.00 58.43) scale(1.000 1.080)" font-size="30.40" text-anchor="end">1</text>
<text transform="translate(1529.00 138.45) scale(1.000 1.080)" font-size="30.40" text-anchor="end">1080</text>
<text transform="translate(1529.00 218.48) scale(1.000 1.080)" font-size="30.40" text-anchor="end">2160</text>
<text transform="translate(1529.00 298.50) scale(1.000 1.080)" font-size="30.40" text-anchor="end">3240</text>
<text transform="translate(1529.00 378.53) scale(1.000 1.080)" font-size="30.40" text-anchor="end">4320</text>
<text transform="translate(1545.60 413.23) scale(1.000 1.080)" font-size="30.40" text-anchor="middle">0</text>
<text transform="translate(1717.00 413.23) scale(1.000 1.080)" font-size="30.40" text-anchor="middle">2</text>
<text transform="translate(1895.00 413.23) scale(1.000 1.080)" font-size="30.40" text-anchor="middle">4</text>
<text transform="translate(1764.80 467.60) scale(1.030 1.040)" font-size="33.00" text-anchor="middle">Time(s)</text>
<text transform="translate(1543.70 27.60) scale(1.000 1.080)" font-size="31.60" text-anchor="start">S3</text>
<rect x="600.50" y="52.50" width="46.60" height="320.10" fill="url(#cb)" stroke="#1a1a1a" stroke-width="3.40"/>
<rect x="1307.70" y="58.70" width="46.40" height="319.40" fill="url(#cb)" stroke="#1a1a1a" stroke-width="3.40"/>
<rect x="2028.50" y="49.20" width="47.10" height="319.90" fill="url(#cb)" stroke="#1a1a1a" stroke-width="3.40"/>
<path d="M645.60 75.20L640.40 75.20" stroke="#1a1a1a" stroke-width="3.00"/>
<path d="M645.60 119.70L640.40 119.70" stroke="#1a1a1a" stroke-width="3.00"/>
<path d="M645.60 164.30L640.40 164.30" stroke="#1a1a1a" stroke-width="3.00"/>
<path d="M645.60 209.20L640.40 209.20" stroke="#1a1a1a" stroke-width="3.00"/>
<path d="M645.60 254.00L640.40 254.00" stroke="#1a1a1a" stroke-width="3.00"/>
<path d="M645.60 298.60L640.40 298.60" stroke="#1a1a1a" stroke-width="3.00"/>
<path d="M645.60 343.00L640.40 343.00" stroke="#1a1a1a" stroke-width="3.00"/>
<text transform="translate(654.50 81.63) scale(1.000 1.080)" font-size="30.40" text-anchor="start">1.5</text>
<text transform="translate(654.50 174.03) scale(1.000 1.080)" font-size="30.40" text-anchor="start">0.5</text>
<text transform="translate(653.80 270.83) scale(1.000 1.080)" font-size="30.40" text-anchor="start">-0.5</text>
<text transform="translate(651.30 379.03) scale(1.000 1.080)" font-size="30.40" text-anchor="start">-1.5</text>
<path d="M1352.60 78.25L1347.40 78.25" stroke="#1a1a1a" stroke-width="3.00"/>
<path d="M1352.60 112.15L1347.40 112.15" stroke="#1a1a1a" stroke-width="3.00"/>
<path d="M1352.60 146.05L1347.40 146.05" stroke="#1a1a1a" stroke-width="3.00"/>
<path d="M1352.60 179.95L1347.40 179.95" stroke="#1a1a1a" stroke-width="3.00"/>
<path d="M1352.60 213.85L1347.40 213.85" stroke="#1a1a1a" stroke-width="3.00"/>
<path d="M1352.60 247.75L1347.40 247.75" stroke="#1a1a1a" stroke-width="3.00"/>
<path d="M1352.60 281.65L1347.40 281.65" stroke="#1a1a1a" stroke-width="3.00"/>
<path d="M1352.60 315.55L1347.40 315.55" stroke="#1a1a1a" stroke-width="3.00"/>
<path d="M1352.60 349.45L1347.40 349.45" stroke="#1a1a1a" stroke-width="3.00"/>
<text transform="translate(1366.50 90.13) scale(1.000 1.080)" font-size="30.40" text-anchor="start">0.06</text>
<text transform="translate(1370.30 223.83) scale(1.000 1.080)" font-size="30.40" text-anchor="start">-0.02</text>
<text transform="translate(1368.50 358.13) scale(1.000 1.080)" font-size="30.40" text-anchor="start">-0.1</text>
<path d="M2074.10 51.30L2068.90 51.30" stroke="#1a1a1a" stroke-width="3.00"/>
<path d="M2074.10 84.60L2068.90 84.60" stroke="#1a1a1a" stroke-width="3.00"/>
<path d="M2074.10 117.90L2068.90 117.90" stroke="#1a1a1a" stroke-width="3.00"/>
<path d="M2074.10 151.20L2068.90 151.20" stroke="#1a1a1a" stroke-width="3.00"/>
<path d="M2074.10 184.50L2068.90 184.50" stroke="#1a1a1a" stroke-width="3.00"/>
<path d="M2074.10 217.80L2068.90 217.80" stroke="#1a1a1a" stroke-width="3.00"/>
<path d="M2074.10 251.10L2068.90 251.10" stroke="#1a1a1a" stroke-width="3.00"/>
<path d="M2074.10 284.40L2068.90 284.40" stroke="#1a1a1a" stroke-width="3.00"/>
<path d="M2074.10 317.70L2068.90 317.70" stroke="#1a1a1a" stroke-width="3.00"/>
<path d="M2074.10 351.00L2068.90 351.00" stroke="#1a1a1a" stroke-width="3.00"/>
<text transform="translate(2095.50 55.83) scale(1.000 1.080)" font-size="30.40" text-anchor="start">0.03</text>
<text transform="translate(2095.50 157.33) scale(1.000 1.080)" font-size="30.40" text-anchor="start">0</text>
<text transform="translate(2095.00 268.83) scale(1.000 1.080)" font-size="30.40" text-anchor="start">-0.03</text>
<text transform="translate(2095.00 385.13) scale(1.000 1.080)" font-size="30.40" text-anchor="start">-0.06</text>
<rect x="111.70" y="562.50" width="458.60" height="319.60" fill="none" stroke="#1a1a1a" stroke-width="3.40"/>
<path d="M113.20 642.90L119.00 642.90" stroke="#1a1a1a" stroke-width="3.00"/>
<path d="M568.80 642.90L563.00 642.90" stroke="#1a1a1a" stroke-width="3.00"/>
<path d="M113.20 722.50L119.00 722.50" stroke="#1a1a1a" stroke-width="3.00"/>
<path d="M568.80 722.50L563.00 722.50" stroke="#1a1a1a" stroke-width="3.00"/>
<path d="M113.20 802.10L119.00 802.10" stroke="#1a1a1a" stroke-width="3.00"/>
<path d="M568.80 802.10L563.00 802.10" stroke="#1a1a1a" stroke-width="3.00"/>
<path d="M121.80 564.00L121.80 569.00" stroke="#1a1a1a" stroke-width="3.40"/>
<path d="M121.80 880.60L121.80 875.60" stroke="#1a1a1a" stroke-width="3.40"/>
<text transform="translate(133.20 896.60) rotate(-90) scale(1.000 1.070)" font-size="24.60" text-anchor="end">peakInspiratoryFlows</text>
<path d="M140.92 564.00L140.92 569.00" stroke="#1a1a1a" stroke-width="3.40"/>
<path d="M140.92 880.60L140.92 875.60" stroke="#1a1a1a" stroke-width="3.40"/>
<text transform="translate(152.32 896.60) rotate(-90) scale(1.000 1.070)" font-size="24.60" text-anchor="end">troughExpiratoryFlows</text>
<path d="M160.04 564.00L160.04 569.00" stroke="#1a1a1a" stroke-width="3.40"/>
<path d="M160.04 880.60L160.04 875.60" stroke="#1a1a1a" stroke-width="3.40"/>
<text transform="translate(171.44 896.60) rotate(-90) scale(1.000 1.070)" font-size="24.60" text-anchor="end">inhaleTimeToPeak</text>
<path d="M179.16 564.00L179.16 569.00" stroke="#1a1a1a" stroke-width="3.40"/>
<path d="M179.16 880.60L179.16 875.60" stroke="#1a1a1a" stroke-width="3.40"/>
<text transform="translate(190.56 896.60) rotate(-90) scale(1.000 1.070)" font-size="24.60" text-anchor="end">exhaleTimeToTrough</text>
<path d="M198.28 564.00L198.28 569.00" stroke="#1a1a1a" stroke-width="3.40"/>
<path d="M198.28 880.60L198.28 875.60" stroke="#1a1a1a" stroke-width="3.40"/>
<text transform="translate(209.68 896.60) rotate(-90) scale(1.000 1.070)" font-size="24.60" text-anchor="end">inhaleVolumes</text>
<path d="M217.40 564.00L217.40 569.00" stroke="#1a1a1a" stroke-width="3.40"/>
<path d="M217.40 880.60L217.40 875.60" stroke="#1a1a1a" stroke-width="3.40"/>
<text transform="translate(228.80 896.60) rotate(-90) scale(1.000 1.070)" font-size="24.60" text-anchor="end">exhaleVolumes</text>
<path d="M236.52 564.00L236.52 569.00" stroke="#1a1a1a" stroke-width="3.40"/>
<path d="M236.52 880.60L236.52 875.60" stroke="#1a1a1a" stroke-width="3.40"/>
<text transform="translate(247.92 896.60) rotate(-90) scale(1.000 1.070)" font-size="24.60" text-anchor="end">inhaleDurations</text>
<path d="M255.64 564.00L255.64 569.00" stroke="#1a1a1a" stroke-width="3.40"/>
<path d="M255.64 880.60L255.64 875.60" stroke="#1a1a1a" stroke-width="3.40"/>
<text transform="translate(267.04 896.60) rotate(-90) scale(1.000 1.070)" font-size="24.60" text-anchor="end">exhaleDurations</text>
<path d="M274.76 564.00L274.76 569.00" stroke="#1a1a1a" stroke-width="3.40"/>
<path d="M274.76 880.60L274.76 875.60" stroke="#1a1a1a" stroke-width="3.40"/>
<text transform="translate(286.16 896.60) rotate(-90) scale(1.000 1.070)" font-size="24.60" text-anchor="end">inhalePauseOnsets</text>
<path d="M293.88 564.00L293.88 569.00" stroke="#1a1a1a" stroke-width="3.40"/>
<path d="M293.88 880.60L293.88 875.60" stroke="#1a1a1a" stroke-width="3.40"/>
<text transform="translate(305.28 896.60) rotate(-90) scale(1.000 1.070)" font-size="24.60" text-anchor="end">exhalePauseOnsets</text>
<path d="M313.00 564.00L313.00 569.00" stroke="#1a1a1a" stroke-width="3.40"/>
<path d="M313.00 880.60L313.00 875.60" stroke="#1a1a1a" stroke-width="3.40"/>
<text transform="translate(324.40 896.60) rotate(-90) scale(1.000 1.070)" font-size="24.60" text-anchor="end">inhalePauseDurations</text>
<path d="M332.12 564.00L332.12 569.00" stroke="#1a1a1a" stroke-width="3.40"/>
<path d="M332.12 880.60L332.12 875.60" stroke="#1a1a1a" stroke-width="3.40"/>
<text transform="translate(343.52 896.60) rotate(-90) scale(1.000 1.070)" font-size="24.60" text-anchor="end">exhalePauseDurations</text>
<path d="M351.24 564.00L351.24 569.00" stroke="#1a1a1a" stroke-width="3.40"/>
<path d="M351.24 880.60L351.24 875.60" stroke="#1a1a1a" stroke-width="3.40"/>
<text transform="translate(362.64 896.60) rotate(-90) scale(1.000 1.070)" font-size="24.60" text-anchor="end">volumeRatio</text>
<path d="M370.36 564.00L370.36 569.00" stroke="#1a1a1a" stroke-width="3.40"/>
<path d="M370.36 880.60L370.36 875.60" stroke="#1a1a1a" stroke-width="3.40"/>
<text transform="translate(381.76 896.60) rotate(-90) scale(1.000 1.070)" font-size="24.60" text-anchor="end">durationRatio</text>
<path d="M389.48 564.00L389.48 569.00" stroke="#1a1a1a" stroke-width="3.40"/>
<path d="M389.48 880.60L389.48 875.60" stroke="#1a1a1a" stroke-width="3.40"/>
<text transform="translate(400.88 896.60) rotate(-90) scale(1.000 1.070)" font-size="24.60" text-anchor="end">flowRatio</text>
<path d="M408.60 564.00L408.60 569.00" stroke="#1a1a1a" stroke-width="3.40"/>
<path d="M408.60 880.60L408.60 875.60" stroke="#1a1a1a" stroke-width="3.40"/>
<text transform="translate(420.00 896.60) rotate(-90) scale(1.000 1.070)" font-size="24.60" text-anchor="end">smooth inhale</text>
<path d="M427.72 564.00L427.72 569.00" stroke="#1a1a1a" stroke-width="3.40"/>
<path d="M427.72 880.60L427.72 875.60" stroke="#1a1a1a" stroke-width="3.40"/>
<text transform="translate(439.12 896.60) rotate(-90) scale(1.000 1.070)" font-size="24.60" text-anchor="end">smooth inpeak extrough</text>
<path d="M446.84 564.00L446.84 569.00" stroke="#1a1a1a" stroke-width="3.40"/>
<path d="M446.84 880.60L446.84 875.60" stroke="#1a1a1a" stroke-width="3.40"/>
<text transform="translate(458.24 896.60) rotate(-90) scale(1.000 1.070)" font-size="24.60" text-anchor="end">smooth exhale</text>
<path d="M465.96 564.00L465.96 569.00" stroke="#1a1a1a" stroke-width="3.40"/>
<path d="M465.96 880.60L465.96 875.60" stroke="#1a1a1a" stroke-width="3.40"/>
<text transform="translate(477.36 896.60) rotate(-90) scale(1.000 1.070)" font-size="24.60" text-anchor="end">curve inpeak</text>
<path d="M485.08 564.00L485.08 569.00" stroke="#1a1a1a" stroke-width="3.40"/>
<path d="M485.08 880.60L485.08 875.60" stroke="#1a1a1a" stroke-width="3.40"/>
<text transform="translate(496.48 896.60) rotate(-90) scale(1.000 1.070)" font-size="24.60" text-anchor="end">curve inpeak extrough</text>
<path d="M504.20 564.00L504.20 569.00" stroke="#1a1a1a" stroke-width="3.40"/>
<path d="M504.20 880.60L504.20 875.60" stroke="#1a1a1a" stroke-width="3.40"/>
<text transform="translate(515.60 896.60) rotate(-90) scale(1.000 1.070)" font-size="24.60" text-anchor="end">curve extrough</text>
<path d="M523.32 564.00L523.32 569.00" stroke="#1a1a1a" stroke-width="3.40"/>
<path d="M523.32 880.60L523.32 875.60" stroke="#1a1a1a" stroke-width="3.40"/>
<text transform="translate(534.72 896.60) rotate(-90) scale(1.000 1.070)" font-size="24.60" text-anchor="end">slope inpeak extrough</text>
<path d="M542.44 564.00L542.44 569.00" stroke="#1a1a1a" stroke-width="3.40"/>
<path d="M542.44 880.60L542.44 875.60" stroke="#1a1a1a" stroke-width="3.40"/>
<text transform="translate(553.84 896.60) rotate(-90) scale(1.000 1.070)" font-size="24.60" text-anchor="end">max flowchange</text>
<path d="M561.56 564.00L561.56 569.00" stroke="#1a1a1a" stroke-width="3.40"/>
<path d="M561.56 880.60L561.56 875.60" stroke="#1a1a1a" stroke-width="3.40"/>
<text transform="translate(572.96 896.60) rotate(-90) scale(1.000 1.070)" font-size="24.60" text-anchor="end">smooth inpeak</text>
<text transform="translate(102.00 575.23) scale(1.000 1.080)" font-size="30.40" text-anchor="end">1</text>
<text transform="translate(101.00 654.83) scale(1.000 1.080)" font-size="30.40" text-anchor="end">1140</text>
<text transform="translate(101.00 734.43) scale(1.000 1.080)" font-size="30.40" text-anchor="end">2280</text>
<text transform="translate(101.00 814.03) scale(1.000 1.080)" font-size="30.40" text-anchor="end">3420</text>
<text transform="translate(101.00 893.63) scale(1.000 1.080)" font-size="30.40" text-anchor="end">4560</text>
<text transform="translate(112.70 535.80) scale(1.000 1.080)" font-size="31.60" text-anchor="start">S1</text>
<rect x="601.70" y="562.50" width="46.60" height="319.80" fill="url(#cb)" stroke="#1a1a1a" stroke-width="3.40"/>
<path d="M646.80 722.00L641.60 722.00" stroke="#1a1a1a" stroke-width="3.00"/>
<text transform="translate(660.00 573.33) scale(1.000 1.080)" font-size="30.40" text-anchor="start">5</text>
<text transform="translate(660.00 733.83) scale(1.000 1.080)" font-size="30.40" text-anchor="start">0</text>
<text transform="translate(659.50 894.33) scale(1.000 1.080)" font-size="30.40" text-anchor="start">-5</text>
<rect x="818.20" y="562.50" width="458.30" height="319.60" fill="none" stroke="#1a1a1a" stroke-width="3.40"/>
<path d="M819.70 642.90L825.50 642.90" stroke="#1a1a1a" stroke-width="3.00"/>
<path d="M1275.00 642.90L1269.20 642.90" stroke="#1a1a1a" stroke-width="3.00"/>
<path d="M819.70 722.50L825.50 722.50" stroke="#1a1a1a" stroke-width="3.00"/>
<path d="M1275.00 722.50L1269.20 722.50" stroke="#1a1a1a" stroke-width="3.00"/>
<path d="M819.70 802.10L825.50 802.10" stroke="#1a1a1a" stroke-width="3.00"/>
<path d="M1275.00 802.10L1269.20 802.10" stroke="#1a1a1a" stroke-width="3.00"/>
<path d="M828.30 564.00L828.30 569.00" stroke="#1a1a1a" stroke-width="3.40"/>
<path d="M828.30 880.60L828.30 875.60" stroke="#1a1a1a" stroke-width="3.40"/>
<text transform="translate(839.70 896.60) rotate(-90) scale(1.000 1.070)" font-size="24.60" text-anchor="end">peakInspiratoryFlows</text>
<path d="M847.42 564.00L847.42 569.00" stroke="#1a1a1a" stroke-width="3.40"/>
<path d="M847.42 880.60L847.42 875.60" stroke="#1a1a1a" stroke-width="3.40"/>
<text transform="translate(858.82 896.60) rotate(-90) scale(1.000 1.070)" font-size="24.60" text-anchor="end">troughExpiratoryFlows</text>
<path d="M866.54 564.00L866.54 569.00" stroke="#1a1a1a" stroke-width="3.40"/>
<path d="M866.54 880.60L866.54 875.60" stroke="#1a1a1a" stroke-width="3.40"/>
<text transform="translate(877.94 896.60) rotate(-90) scale(1.000 1.070)" font-size="24.60" text-anchor="end">inhaleTimeToPeak</text>
<path d="M885.66 564.00L885.66 569.00" stroke="#1a1a1a" stroke-width="3.40"/>
<path d="M885.66 880.60L885.66 875.60" stroke="#1a1a1a" stroke-width="3.40"/>
<text transform="translate(897.06 896.60) rotate(-90) scale(1.000 1.070)" font-size="24.60" text-anchor="end">exhaleTimeToTrough</text>
<path d="M904.78 564.00L904.78 569.00" stroke="#1a1a1a" stroke-width="3.40"/>
<path d="M904.78 880.60L904.78 875.60" stroke="#1a1a1a" stroke-width="3.40"/>
<text transform="translate(916.18 896.60) rotate(-90) scale(1.000 1.070)" font-size="24.60" text-anchor="end">inhaleVolumes</text>
<path d="M923.90 564.00L923.90 569.00" stroke="#1a1a1a" stroke-width="3.40"/>
<path d="M923.90 880.60L923.90 875.60" stroke="#1a1a1a" stroke-width="3.40"/>
<text transform="translate(935.30 896.60) rotate(-90) scale(1.000 1.070)" font-size="24.60" text-anchor="end">exhaleVolumes</text>
<path d="M943.02 564.00L943.02 569.00" stroke="#1a1a1a" stroke-width="3.40"/>
<path d="M943.02 880.60L943.02 875.60" stroke="#1a1a1a" stroke-width="3.40"/>
<text transform="translate(954.42 896.60) rotate(-90) scale(1.000 1.070)" font-size="24.60" text-anchor="end">inhaleDurations</text>
<path d="M962.14 564.00L962.14 569.00" stroke="#1a1a1a" stroke-width="3.40"/>
<path d="M962.14 880.60L962.14 875.60" stroke="#1a1a1a" stroke-width="3.40"/>
<text transform="translate(973.54 896.60) rotate(-90) scale(1.000 1.070)" font-size="24.60" text-anchor="end">exhaleDurations</text>
<path d="M981.26 564.00L981.26 569.00" stroke="#1a1a1a" stroke-width="3.40"/>
<path d="M981.26 880.60L981.26 875.60" stroke="#1a1a1a" stroke-width="3.40"/>
<text transform="translate(992.66 896.60) rotate(-90) scale(1.000 1.070)" font-size="24.60" text-anchor="end">inhalePauseOnsets</text>
<path d="M1000.38 564.00L1000.38 569.00" stroke="#1a1a1a" stroke-width="3.40"/>
<path d="M1000.38 880.60L1000.38 875.60" stroke="#1a1a1a" stroke-width="3.40"/>
<text transform="translate(1011.78 896.60) rotate(-90) scale(1.000 1.070)" font-size="24.60" text-anchor="end">exhalePauseOnsets</text>
<path d="M1019.50 564.00L1019.50 569.00" stroke="#1a1a1a" stroke-width="3.40"/>
<path d="M1019.50 880.60L1019.50 875.60" stroke="#1a1a1a" stroke-width="3.40"/>
<text transform="translate(1030.90 896.60) rotate(-90) scale(1.000 1.070)" font-size="24.60" text-anchor="end">inhalePauseDurations</text>
<path d="M1038.62 564.00L1038.62 569.00" stroke="#1a1a1a" stroke-width="3.40"/>
<path d="M1038.62 880.60L1038.62 875.60" stroke="#1a1a1a" stroke-width="3.40"/>
<text transform="translate(1050.02 896.60) rotate(-90) scale(1.000 1.070)" font-size="24.60" text-anchor="end">exhalePauseDurations</text>
<path d="M1057.74 564.00L1057.74 569.00" stroke="#1a1a1a" stroke-width="3.40"/>
<path d="M1057.74 880.60L1057.74 875.60" stroke="#1a1a1a" stroke-width="3.40"/>
<text transform="translate(1069.14 896.60) rotate(-90) scale(1.000 1.070)" font-size="24.60" text-anchor="end">volumeRatio</text>
<path d="M1076.86 564.00L1076.86 569.00" stroke="#1a1a1a" stroke-width="3.40"/>
<path d="M1076.86 880.60L1076.86 875.60" stroke="#1a1a1a" stroke-width="3.40"/>
<text transform="translate(1088.26 896.60) rotate(-90) scale(1.000 1.070)" font-size="24.60" text-anchor="end">durationRatio</text>
<path d="M1095.98 564.00L1095.98 569.00" stroke="#1a1a1a" stroke-width="3.40"/>
<path d="M1095.98 880.60L1095.98 875.60" stroke="#1a1a1a" stroke-width="3.40"/>
<text transform="translate(1107.38 896.60) rotate(-90) scale(1.000 1.070)" font-size="24.60" text-anchor="end">flowRatio</text>
<path d="M1115.10 564.00L1115.10 569.00" stroke="#1a1a1a" stroke-width="3.40"/>
<path d="M1115.10 880.60L1115.10 875.60" stroke="#1a1a1a" stroke-width="3.40"/>
<text transform="translate(1126.50 896.60) rotate(-90) scale(1.000 1.070)" font-size="24.60" text-anchor="end">smooth inhale</text>
<path d="M1134.22 564.00L1134.22 569.00" stroke="#1a1a1a" stroke-width="3.40"/>
<path d="M1134.22 880.60L1134.22 875.60" stroke="#1a1a1a" stroke-width="3.40"/>
<text transform="translate(1145.62 896.60) rotate(-90) scale(1.000 1.070)" font-size="24.60" text-anchor="end">smooth inpeak extrough</text>
<path d="M1153.34 564.00L1153.34 569.00" stroke="#1a1a1a" stroke-width="3.40"/>
<path d="M1153.34 880.60L1153.34 875.60" stroke="#1a1a1a" stroke-width="3.40"/>
<text transform="translate(1164.74 896.60) rotate(-90) scale(1.000 1.070)" font-size="24.60" text-anchor="end">smooth exhale</text>
<path d="M1172.46 564.00L1172.46 569.00" stroke="#1a1a1a" stroke-width="3.40"/>
<path d="M1172.46 880.60L1172.46 875.60" stroke="#1a1a1a" stroke-width="3.40"/>
<text transform="translate(1183.86 896.60) rotate(-90) scale(1.000 1.070)" font-size="24.60" text-anchor="end">curve inpeak</text>
<path d="M1191.58 564.00L1191.58 569.00" stroke="#1a1a1a" stroke-width="3.40"/>
<path d="M1191.58 880.60L1191.58 875.60" stroke="#1a1a1a" stroke-width="3.40"/>
<text transform="translate(1202.98 896.60) rotate(-90) scale(1.000 1.070)" font-size="24.60" text-anchor="end">curve inpeak extrough</text>
<path d="M1210.70 564.00L1210.70 569.00" stroke="#1a1a1a" stroke-width="3.40"/>
<path d="M1210.70 880.60L1210.70 875.60" stroke="#1a1a1a" stroke-width="3.40"/>
<text transform="translate(1222.10 896.60) rotate(-90) scale(1.000 1.070)" font-size="24.60" text-anchor="end">curve extrough</text>
<path d="M1229.82 564.00L1229.82 569.00" stroke="#1a1a1a" stroke-width="3.40"/>
<path d="M1229.82 880.60L1229.82 875.60" stroke="#1a1a1a" stroke-width="3.40"/>
<text transform="translate(1241.22 896.60) rotate(-90) scale(1.000 1.070)" font-size="24.60" text-anchor="end">slope inpeak extrough</text>
<path d="M1248.94 564.00L1248.94 569.00" stroke="#1a1a1a" stroke-width="3.40"/>
<path d="M1248.94 880.60L1248.94 875.60" stroke="#1a1a1a" stroke-width="3.40"/>
<text transform="translate(1260.34 896.60) rotate(-90) scale(1.000 1.070)" font-size="24.60" text-anchor="end">max flowchange</text>
<path d="M1268.06 564.00L1268.06 569.00" stroke="#1a1a1a" stroke-width="3.40"/>
<path d="M1268.06 880.60L1268.06 875.60" stroke="#1a1a1a" stroke-width="3.40"/>
<text transform="translate(1279.46 896.60) rotate(-90) scale(1.000 1.070)" font-size="24.60" text-anchor="end">smooth inpeak</text>
<text transform="translate(809.00 575.23) scale(1.000 1.080)" font-size="30.40" text-anchor="end">1</text>
<text transform="translate(810.00 654.83) scale(1.000 1.080)" font-size="30.40" text-anchor="end">1080</text>
<text transform="translate(810.00 734.43) scale(1.000 1.080)" font-size="30.40" text-anchor="end">2160</text>
<text transform="translate(810.00 814.03) scale(1.000 1.080)" font-size="30.40" text-anchor="end">3240</text>
<text transform="translate(810.00 893.63) scale(1.000 1.080)" font-size="30.40" text-anchor="end">4320</text>
<text transform="translate(808.00 535.80) scale(1.000 1.080)" font-size="31.60" text-anchor="start">S2</text>
<rect x="1308.00" y="562.50" width="46.60" height="319.80" fill="url(#cb)" stroke="#1a1a1a" stroke-width="3.40"/>
<path d="M1353.10 722.00L1347.90 722.00" stroke="#1a1a1a" stroke-width="3.00"/>
<text transform="translate(1366.50 573.33) scale(1.000 1.080)" font-size="30.40" text-anchor="start">5</text>
<text transform="translate(1366.50 733.83) scale(1.000 1.080)" font-size="30.40" text-anchor="start">0</text>
<text transform="translate(1366.00 894.33) scale(1.000 1.080)" font-size="30.40" text-anchor="start">-5</text>
<rect x="1542.20" y="562.50" width="456.60" height="319.60" fill="none" stroke="#1a1a1a" stroke-width="3.40"/>
<path d="M1543.70 642.90L1549.50 642.90" stroke="#1a1a1a" stroke-width="3.00"/>
<path d="M1997.30 642.90L1991.50 642.90" stroke="#1a1a1a" stroke-width="3.00"/>
<path d="M1543.70 722.50L1549.50 722.50" stroke="#1a1a1a" stroke-width="3.00"/>
<path d="M1997.30 722.50L1991.50 722.50" stroke="#1a1a1a" stroke-width="3.00"/>
<path d="M1543.70 802.10L1549.50 802.10" stroke="#1a1a1a" stroke-width="3.00"/>
<path d="M1997.30 802.10L1991.50 802.10" stroke="#1a1a1a" stroke-width="3.00"/>
<path d="M1552.30 564.00L1552.30 569.00" stroke="#1a1a1a" stroke-width="3.40"/>
<path d="M1552.30 880.60L1552.30 875.60" stroke="#1a1a1a" stroke-width="3.40"/>
<text transform="translate(1563.70 896.60) rotate(-90) scale(1.000 1.070)" font-size="24.60" text-anchor="end">peakInspiratoryFlows</text>
<path d="M1571.42 564.00L1571.42 569.00" stroke="#1a1a1a" stroke-width="3.40"/>
<path d="M1571.42 880.60L1571.42 875.60" stroke="#1a1a1a" stroke-width="3.40"/>
<text transform="translate(1582.82 896.60) rotate(-90) scale(1.000 1.070)" font-size="24.60" text-anchor="end">troughExpiratoryFlows</text>
<path d="M1590.54 564.00L1590.54 569.00" stroke="#1a1a1a" stroke-width="3.40"/>
<path d="M1590.54 880.60L1590.54 875.60" stroke="#1a1a1a" stroke-width="3.40"/>
<text transform="translate(1601.94 896.60) rotate(-90) scale(1.000 1.070)" font-size="24.60" text-anchor="end">inhaleTimeToPeak</text>
<path d="M1609.66 564.00L1609.66 569.00" stroke="#1a1a1a" stroke-width="3.40"/>
<path d="M1609.66 880.60L1609.66 875.60" stroke="#1a1a1a" stroke-width="3.40"/>
<text transform="translate(1621.06 896.60) rotate(-90) scale(1.000 1.070)" font-size="24.60" text-anchor="end">exhaleTimeToTrough</text>
<path d="M1628.78 564.00L1628.78 569.00" stroke="#1a1a1a" stroke-width="3.40"/>
<path d="M1628.78 880.60L1628.78 875.60" stroke="#1a1a1a" stroke-width="3.40"/>
<text transform="translate(1640.18 896.60) rotate(-90) scale(1.000 1.070)" font-size="24.60" text-anchor="end">inhaleVolumes</text>
<path d="M1647.90 564.00L1647.90 569.00" stroke="#1a1a1a" stroke-width="3.40"/>
<path d="M1647.90 880.60L1647.90 875.60" stroke="#1a1a1a" stroke-width="3.40"/>
<text transform="translate(1659.30 896.60) rotate(-90) scale(1.000 1.070)" font-size="24.60" text-anchor="end">exhaleVolumes</text>
<path d="M1667.02 564.00L1667.02 569.00" stroke="#1a1a1a" stroke-width="3.40"/>
<path d="M1667.02 880.60L1667.02 875.60" stroke="#1a1a1a" stroke-width="3.40"/>
<text transform="translate(1678.42 896.60) rotate(-90) scale(1.000 1.070)" font-size="24.60" text-anchor="end">inhaleDurations</text>
<path d="M1686.14 564.00L1686.14 569.00" stroke="#1a1a1a" stroke-width="3.40"/>
<path d="M1686.14 880.60L1686.14 875.60" stroke="#1a1a1a" stroke-width="3.40"/>
<text transform="translate(1697.54 896.60) rotate(-90) scale(1.000 1.070)" font-size="24.60" text-anchor="end">exhaleDurations</text>
<path d="M1705.26 564.00L1705.26 569.00" stroke="#1a1a1a" stroke-width="3.40"/>
<path d="M1705.26 880.60L1705.26 875.60" stroke="#1a1a1a" stroke-width="3.40"/>
<text transform="translate(1716.66 896.60) rotate(-90) scale(1.000 1.070)" font-size="24.60" text-anchor="end">inhalePauseOnsets</text>
<path d="M1724.38 564.00L1724.38 569.00" stroke="#1a1a1a" stroke-width="3.40"/>
<path d="M1724.38 880.60L1724.38 875.60" stroke="#1a1a1a" stroke-width="3.40"/>
<text transform="translate(1735.78 896.60) rotate(-90) scale(1.000 1.070)" font-size="24.60" text-anchor="end">exhalePauseOnsets</text>
<path d="M1743.50 564.00L1743.50 569.00" stroke="#1a1a1a" stroke-width="3.40"/>
<path d="M1743.50 880.60L1743.50 875.60" stroke="#1a1a1a" stroke-width="3.40"/>
<text transform="translate(1754.90 896.60) rotate(-90) scale(1.000 1.070)" font-size="24.60" text-anchor="end">inhalePauseDurations</text>
<path d="M1762.62 564.00L1762.62 569.00" stroke="#1a1a1a" stroke-width="3.40"/>
<path d="M1762.62 880.60L1762.62 875.60" stroke="#1a1a1a" stroke-width="3.40"/>
<text transform="translate(1774.02 896.60) rotate(-90) scale(1.000 1.070)" font-size="24.60" text-anchor="end">exhalePauseDurations</text>
<path d="M1781.74 564.00L1781.74 569.00" stroke="#1a1a1a" stroke-width="3.40"/>
<path d="M1781.74 880.60L1781.74 875.60" stroke="#1a1a1a" stroke-width="3.40"/>
<text transform="translate(1793.14 896.60) rotate(-90) scale(1.000 1.070)" font-size="24.60" text-anchor="end">volumeRatio</text>
<path d="M1800.86 564.00L1800.86 569.00" stroke="#1a1a1a" stroke-width="3.40"/>
<path d="M1800.86 880.60L1800.86 875.60" stroke="#1a1a1a" stroke-width="3.40"/>
<text transform="translate(1812.26 896.60) rotate(-90) scale(1.000 1.070)" font-size="24.60" text-anchor="end">durationRatio</text>
<path d="M1819.98 564.00L1819.98 569.00" stroke="#1a1a1a" stroke-width="3.40"/>
<path d="M1819.98 880.60L1819.98 875.60" stroke="#1a1a1a" stroke-width="3.40"/>
<text transform="translate(1831.38 896.60) rotate(-90) scale(1.000 1.070)" font-size="24.60" text-anchor="end">flowRatio</text>
<path d="M1839.10 564.00L1839.10 569.00" stroke="#1a1a1a" stroke-width="3.40"/>
<path d="M1839.10 880.60L1839.10 875.60" stroke="#1a1a1a" stroke-width="3.40"/>
<text transform="translate(1850.50 896.60) rotate(-90) scale(1.000 1.070)" font-size="24.60" text-anchor="end">smooth inhale</text>
<path d="M1858.22 564.00L1858.22 569.00" stroke="#1a1a1a" stroke-width="3.40"/>
<path d="M1858.22 880.60L1858.22 875.60" stroke="#1a1a1a" stroke-width="3.40"/>
<text transform="translate(1869.62 896.60) rotate(-90) scale(1.000 1.070)" font-size="24.60" text-anchor="end">smooth inpeak extrough</text>
<path d="M1877.34 564.00L1877.34 569.00" stroke="#1a1a1a" stroke-width="3.40"/>
<path d="M1877.34 880.60L1877.34 875.60" stroke="#1a1a1a" stroke-width="3.40"/>
<text transform="translate(1888.74 896.60) rotate(-90) scale(1.000 1.070)" font-size="24.60" text-anchor="end">smooth exhale</text>
<path d="M1896.46 564.00L1896.46 569.00" stroke="#1a1a1a" stroke-width="3.40"/>
<path d="M1896.46 880.60L1896.46 875.60" stroke="#1a1a1a" stroke-width="3.40"/>
<text transform="translate(1907.86 896.60) rotate(-90) scale(1.000 1.070)" font-size="24.60" text-anchor="end">curve inpeak</text>
<path d="M1915.58 564.00L1915.58 569.00" stroke="#1a1a1a" stroke-width="3.40"/>
<path d="M1915.58 880.60L1915.58 875.60" stroke="#1a1a1a" stroke-width="3.40"/>
<text transform="translate(1926.98 896.60) rotate(-90) scale(1.000 1.070)" font-size="24.60" text-anchor="end">curve inpeak extrough</text>
<path d="M1934.70 564.00L1934.70 569.00" stroke="#1a1a1a" stroke-width="3.40"/>
<path d="M1934.70 880.60L1934.70 875.60" stroke="#1a1a1a" stroke-width="3.40"/>
<text transform="translate(1946.10 896.60) rotate(-90) scale(1.000 1.070)" font-size="24.60" text-anchor="end">curve extrough</text>
<path d="M1953.82 564.00L1953.82 569.00" stroke="#1a1a1a" stroke-width="3.40"/>
<path d="M1953.82 880.60L1953.82 875.60" stroke="#1a1a1a" stroke-width="3.40"/>
<text transform="translate(1965.22 896.60) rotate(-90) scale(1.000 1.070)" font-size="24.60" text-anchor="end">slope inpeak extrough</text>
<path d="M1972.94 564.00L1972.94 569.00" stroke="#1a1a1a" stroke-width="3.40"/>
<path d="M1972.94 880.60L1972.94 875.60" stroke="#1a1a1a" stroke-width="3.40"/>
<text transform="translate(1984.34 896.60) rotate(-90) scale(1.000 1.070)" font-size="24.60" text-anchor="end">max flowchange</text>
<path d="M1992.06 564.00L1992.06 569.00" stroke="#1a1a1a" stroke-width="3.40"/>
<path d="M1992.06 880.60L1992.06 875.60" stroke="#1a1a1a" stroke-width="3.40"/>
<text transform="translate(2003.46 896.60) rotate(-90) scale(1.000 1.070)" font-size="24.60" text-anchor="end">smooth inpeak</text>
<text transform="translate(1533.50 575.23) scale(1.000 1.080)" font-size="30.40" text-anchor="end">1</text>
<text transform="translate(1534.80 654.83) scale(1.000 1.080)" font-size="30.40" text-anchor="end">1080</text>
<text transform="translate(1534.80 734.43) scale(1.000 1.080)" font-size="30.40" text-anchor="end">2160</text>
<text transform="translate(1534.80 814.03) scale(1.000 1.080)" font-size="30.40" text-anchor="end">3240</text>
<text transform="translate(1534.80 893.63) scale(1.000 1.080)" font-size="30.40" text-anchor="end">4320</text>
<text transform="translate(1546.20 535.80) scale(1.000 1.080)" font-size="31.60" text-anchor="start">S3</text>
<rect x="2030.20" y="562.50" width="46.60" height="319.80" fill="url(#cb)" stroke="#1a1a1a" stroke-width="3.40"/>
<path d="M2075.30 722.00L2070.10 722.00" stroke="#1a1a1a" stroke-width="3.00"/>
<text transform="translate(2089.00 573.33) scale(1.000 1.080)" font-size="30.40" text-anchor="start">5</text>
<text transform="translate(2089.00 733.83) scale(1.000 1.080)" font-size="30.40" text-anchor="start">0</text>
<text transform="translate(2088.50 894.33) scale(1.000 1.080)" font-size="30.40" text-anchor="start">-5</text>
<text transform="translate(3.00 21.60)" font-size="31.50" text-anchor="start" font-weight="bold">a</text>
<text transform="translate(3.40 540.40)" font-size="31.50" text-anchor="start" font-weight="bold">b</text>
</svg>
</div>
</body></html>
